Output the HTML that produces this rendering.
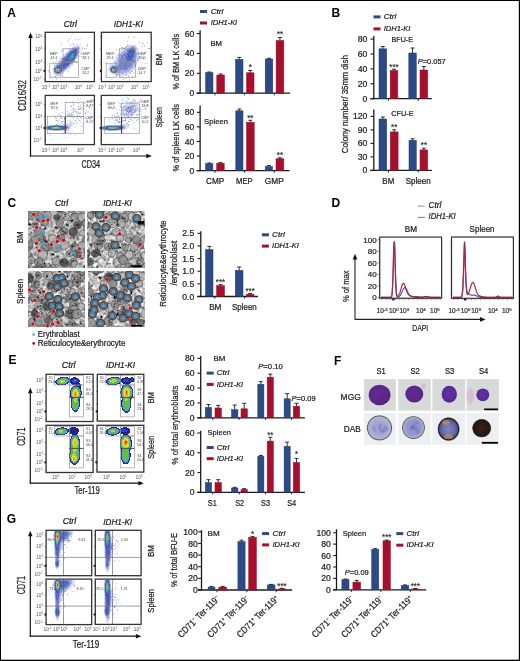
<!DOCTYPE html>
<html><head><meta charset="utf-8"><title>Figure</title>
<style>
html,body{margin:0;padding:0;background:#fff;width:520px;height:661px;overflow:hidden}
svg{display:block;will-change:transform;font-family:"Liberation Sans", sans-serif}
</style></head><body>
<svg width="520" height="661" viewBox="0 0 520 661" fill="#1a1a1a">
<defs>
<filter id="b35" x="-10%" y="-10%" width="120%" height="120%"><feGaussianBlur stdDeviation="0.35"/></filter>
<filter id="b40" x="-10%" y="-10%" width="120%" height="120%"><feGaussianBlur stdDeviation="0.4"/></filter>
<filter id="b45" x="-10%" y="-10%" width="120%" height="120%"><feGaussianBlur stdDeviation="0.45"/></filter>
<filter id="b30" x="-10%" y="-10%" width="120%" height="120%"><feGaussianBlur stdDeviation="0.3"/></filter>
<filter id="b60" x="-10%" y="-10%" width="120%" height="120%"><feGaussianBlur stdDeviation="0.6"/></filter>
<filter id="b80" x="-10%" y="-10%" width="120%" height="120%"><feGaussianBlur stdDeviation="0.8"/></filter>
<filter id="mic0" x="28.1" y="211.1" width="56.9" height="56.900000000000006" filterUnits="userSpaceOnUse">
<feTurbulence type="fractalNoise" baseFrequency="0.3" numOctaves="2" seed="21" result="n"/>
<feColorMatrix in="n" type="matrix" values="1.0 1.0 1.0 0 -0.98  1.0 1.0 1.0 0 -0.98  1.0 1.0 1.0 0 -0.98  0 0 0 0 1"/>
</filter>
<clipPath id="mc0"><rect x="28.1" y="211.1" width="56.9" height="56.900000000000006"/></clipPath>
<filter id="mic1" x="87.7" y="211.1" width="56.60000000000001" height="56.900000000000006" filterUnits="userSpaceOnUse">
<feTurbulence type="fractalNoise" baseFrequency="0.3" numOctaves="2" seed="22" result="n"/>
<feColorMatrix in="n" type="matrix" values="1.0 1.0 1.0 0 -0.98  1.0 1.0 1.0 0 -0.98  1.0 1.0 1.0 0 -0.98  0 0 0 0 1"/>
</filter>
<clipPath id="mc1"><rect x="87.7" y="211.1" width="56.60000000000001" height="56.900000000000006"/></clipPath>
<filter id="mic2" x="28.1" y="271.1" width="56.9" height="55.89999999999998" filterUnits="userSpaceOnUse">
<feTurbulence type="fractalNoise" baseFrequency="0.3" numOctaves="2" seed="23" result="n"/>
<feColorMatrix in="n" type="matrix" values="1.0 1.0 1.0 0 -0.98  1.0 1.0 1.0 0 -0.98  1.0 1.0 1.0 0 -0.98  0 0 0 0 1"/>
</filter>
<clipPath id="mc2"><rect x="28.1" y="271.1" width="56.9" height="55.89999999999998"/></clipPath>
<filter id="mic3" x="88.0" y="271.1" width="56.30000000000001" height="55.89999999999998" filterUnits="userSpaceOnUse">
<feTurbulence type="fractalNoise" baseFrequency="0.3" numOctaves="2" seed="24" result="n"/>
<feColorMatrix in="n" type="matrix" values="1.0 1.0 1.0 0 -0.98  1.0 1.0 1.0 0 -0.98  1.0 1.0 1.0 0 -0.98  0 0 0 0 1"/>
</filter>
<clipPath id="mc3"><rect x="88.0" y="271.1" width="56.30000000000001" height="55.89999999999998"/></clipPath>
<radialGradient id="mggc" cx="0.45" cy="0.45" r="0.6"><stop offset="0" stop-color="#622c94"/><stop offset="0.8" stop-color="#5a2686"/><stop offset="1" stop-color="#4c2076"/></radialGradient>
<radialGradient id="mggb" cx="0.45" cy="0.45" r="0.6"><stop offset="0" stop-color="#6230a2"/><stop offset="0.8" stop-color="#5a2a98"/><stop offset="1" stop-color="#4c2288"/></radialGradient>
<radialGradient id="dab1" cx="0.5" cy="0.5" r="0.5"><stop offset="0" stop-color="#9a9cd0"/><stop offset="0.5" stop-color="#a4a6d6"/><stop offset="0.82" stop-color="#b0b4da"/><stop offset="0.9" stop-color="#55604a"/><stop offset="0.95" stop-color="#c8d0c8"/><stop offset="1" stop-color="#f4f6f6"/></radialGradient>
<radialGradient id="dab2" cx="0.5" cy="0.5" r="0.5"><stop offset="0" stop-color="#8a8cca"/><stop offset="0.6" stop-color="#9698d0"/><stop offset="0.82" stop-color="#a8acd6"/><stop offset="0.9" stop-color="#5a6a48"/><stop offset="0.95" stop-color="#d0d8d0"/><stop offset="1" stop-color="#f4f6f6"/></radialGradient>
<radialGradient id="dab3" cx="0.5" cy="0.5" r="0.5"><stop offset="0" stop-color="#7c86c8"/><stop offset="0.55" stop-color="#6a6aac"/><stop offset="0.8" stop-color="#4a4a90"/><stop offset="0.88" stop-color="#141420"/><stop offset="0.95" stop-color="#8a9088"/><stop offset="1" stop-color="#eef0f0"/></radialGradient>
<radialGradient id="dab4" cx="0.5" cy="0.5" r="0.5"><stop offset="0" stop-color="#3a1e18"/><stop offset="0.6" stop-color="#2e1812"/><stop offset="0.85" stop-color="#1c1a10"/><stop offset="0.93" stop-color="#56603a"/><stop offset="1" stop-color="#e8ecea"/></radialGradient>
</defs>
<rect x="0.00" y="0.00" width="520.00" height="1.00" fill="#000"/>
<rect x="0.00" y="0.00" width="1.00" height="661.00" fill="#000"/>
<rect x="518.80" y="0.00" width="1.20" height="661.00" fill="#000"/>
<rect x="0.00" y="659.70" width="520.00" height="1.30" fill="#000"/>
<text x="7.3" y="17.3" font-size="12" text-anchor="start" font-weight="bold" fill="#000">A</text>
<text x="331.5" y="17.3" font-size="12" text-anchor="start" font-weight="bold" fill="#000">B</text>
<text x="7.5" y="207.3" font-size="12" text-anchor="start" font-weight="bold" fill="#000">C</text>
<text x="331.5" y="207.3" font-size="12" text-anchor="start" font-weight="bold" fill="#000">D</text>
<text x="8.6" y="363.8" font-size="12" text-anchor="start" font-weight="bold" fill="#000">E</text>
<text x="334" y="365.4" font-size="12" text-anchor="start" font-weight="bold" fill="#000">F</text>
<text x="6.8" y="522.5" font-size="12" text-anchor="start" font-weight="bold" fill="#000">G</text>
<line x1="200.1" y1="30.3" x2="200.1" y2="93.8" stroke="#1a1a1a" stroke-width="1.3"/>
<line x1="196.6" y1="93.2" x2="290" y2="93.2" stroke="#1a1a1a" stroke-width="1.3"/>
<line x1="196.79999999999998" y1="93.2" x2="200.1" y2="93.2" stroke="#1a1a1a" stroke-width="1.1"/>
<text x="194.2" y="96.296" font-size="8.6" text-anchor="end" stroke="#1a1a1a" stroke-width="0.22">0</text>
<line x1="196.79999999999998" y1="73.30000000000001" x2="200.1" y2="73.30000000000001" stroke="#1a1a1a" stroke-width="1.1"/>
<text x="194.2" y="76.39600000000002" font-size="8.6" text-anchor="end" stroke="#1a1a1a" stroke-width="0.22">20</text>
<line x1="196.79999999999998" y1="53.400000000000006" x2="200.1" y2="53.400000000000006" stroke="#1a1a1a" stroke-width="1.1"/>
<text x="194.2" y="56.496" font-size="8.6" text-anchor="end" stroke="#1a1a1a" stroke-width="0.22">40</text>
<line x1="196.79999999999998" y1="33.5" x2="200.1" y2="33.5" stroke="#1a1a1a" stroke-width="1.1"/>
<text x="194.2" y="36.596" font-size="8.6" text-anchor="end" stroke="#1a1a1a" stroke-width="0.22">60</text>
<line x1="215" y1="93.2" x2="215" y2="95.4" stroke="#1a1a1a" stroke-width="0.9"/>
<line x1="244.6" y1="93.2" x2="244.6" y2="95.4" stroke="#1a1a1a" stroke-width="0.9"/>
<line x1="274.2" y1="93.2" x2="274.2" y2="95.4" stroke="#1a1a1a" stroke-width="0.9"/>
<rect x="205.60" y="72.60" width="7.40" height="20.60" fill="#2c4a85" stroke="#1f3a78" stroke-width="0.5"/>
<line x1="209.3" y1="72.0" x2="209.3" y2="72.6" stroke="#1a1a1a" stroke-width="0.9"/>
<line x1="207.3" y1="72.0" x2="211.3" y2="72.0" stroke="#1a1a1a" stroke-width="0.9"/>
<rect x="216.80" y="75.00" width="7.70" height="18.20" fill="#a60f2d" stroke="#980a25" stroke-width="0.5"/>
<line x1="220.65" y1="74.0" x2="220.65" y2="75" stroke="#1a1a1a" stroke-width="0.9"/>
<line x1="218.65" y1="74.0" x2="222.65" y2="74.0" stroke="#1a1a1a" stroke-width="0.9"/>
<rect x="235.50" y="59.40" width="7.50" height="33.80" fill="#2c4a85" stroke="#1f3a78" stroke-width="0.5"/>
<line x1="239.25" y1="57.4" x2="239.25" y2="59.4" stroke="#1a1a1a" stroke-width="0.9"/>
<line x1="237.25" y1="57.4" x2="241.25" y2="57.4" stroke="#1a1a1a" stroke-width="0.9"/>
<rect x="246.50" y="72.80" width="7.50" height="20.40" fill="#a60f2d" stroke="#980a25" stroke-width="0.5"/>
<line x1="250.25" y1="70.5" x2="250.25" y2="72.8" stroke="#1a1a1a" stroke-width="0.9"/>
<line x1="248.25" y1="70.5" x2="252.25" y2="70.5" stroke="#1a1a1a" stroke-width="0.9"/>
<rect x="265.20" y="59.00" width="7.60" height="34.20" fill="#2c4a85" stroke="#1f3a78" stroke-width="0.5"/>
<line x1="269.0" y1="58.3" x2="269.0" y2="59.0" stroke="#1a1a1a" stroke-width="0.9"/>
<line x1="267.0" y1="58.3" x2="271.0" y2="58.3" stroke="#1a1a1a" stroke-width="0.9"/>
<rect x="276.10" y="40.50" width="7.70" height="52.70" fill="#a60f2d" stroke="#980a25" stroke-width="0.5"/>
<line x1="279.95000000000005" y1="37.5" x2="279.95000000000005" y2="40.5" stroke="#1a1a1a" stroke-width="0.9"/>
<line x1="277.95000000000005" y1="37.5" x2="281.95000000000005" y2="37.5" stroke="#1a1a1a" stroke-width="0.9"/>
<text x="250.2" y="70.44" font-size="8.2" text-anchor="middle" textLength="3.1" lengthAdjust="spacingAndGlyphs" stroke="#1a1a1a" stroke-width="0.12">*</text>
<text x="280" y="37.24" font-size="8.2" text-anchor="middle" textLength="6.2" lengthAdjust="spacingAndGlyphs" stroke="#1a1a1a" stroke-width="0.12">**</text>
<text x="210.4" y="46" font-size="8" text-anchor="start" stroke="#1a1a1a" stroke-width="0.22" textLength="11.6" lengthAdjust="spacingAndGlyphs">BM</text>
<rect x="200.00" y="10.00" width="7.00" height="3.00" fill="#2c4a85"/>
<rect x="200.00" y="21.50" width="7.00" height="3.00" fill="#a60f2d"/>
<text x="210.7" y="13.6" font-size="8" text-anchor="start" font-style="italic" stroke="#1a1a1a" stroke-width="0.22" textLength="12.5" lengthAdjust="spacingAndGlyphs">Ctrl</text>
<text x="210.7" y="25.1" font-size="8" text-anchor="start" font-style="italic" stroke="#1a1a1a" stroke-width="0.22" textLength="26.5" lengthAdjust="spacingAndGlyphs">IDH1-KI</text>
<text x="179.3" y="61.75" font-size="9.2" text-anchor="middle" stroke="#1a1a1a" stroke-width="0.22" transform="rotate(-90 179.3 61.75)" textLength="55.7" lengthAdjust="spacingAndGlyphs">% of BM LK cells</text>
<line x1="200.1" y1="105.4" x2="200.1" y2="171.2" stroke="#1a1a1a" stroke-width="1.3"/>
<line x1="196.6" y1="170.6" x2="289.6" y2="170.6" stroke="#1a1a1a" stroke-width="1.3"/>
<line x1="196.79999999999998" y1="170.6" x2="200.1" y2="170.6" stroke="#1a1a1a" stroke-width="1.1"/>
<text x="194.2" y="173.696" font-size="8.6" text-anchor="end" stroke="#1a1a1a" stroke-width="0.22">0</text>
<line x1="196.79999999999998" y1="156.025" x2="200.1" y2="156.025" stroke="#1a1a1a" stroke-width="1.1"/>
<text x="194.2" y="159.121" font-size="8.6" text-anchor="end" stroke="#1a1a1a" stroke-width="0.22">20</text>
<line x1="196.79999999999998" y1="141.45" x2="200.1" y2="141.45" stroke="#1a1a1a" stroke-width="1.1"/>
<text x="194.2" y="144.546" font-size="8.6" text-anchor="end" stroke="#1a1a1a" stroke-width="0.22">40</text>
<line x1="196.79999999999998" y1="126.875" x2="200.1" y2="126.875" stroke="#1a1a1a" stroke-width="1.1"/>
<text x="194.2" y="129.971" font-size="8.6" text-anchor="end" stroke="#1a1a1a" stroke-width="0.22">60</text>
<line x1="196.79999999999998" y1="112.3" x2="200.1" y2="112.3" stroke="#1a1a1a" stroke-width="1.1"/>
<text x="194.2" y="115.396" font-size="8.6" text-anchor="end" stroke="#1a1a1a" stroke-width="0.22">80</text>
<line x1="215" y1="170.6" x2="215" y2="172.79999999999998" stroke="#1a1a1a" stroke-width="0.9"/>
<line x1="244.6" y1="170.6" x2="244.6" y2="172.79999999999998" stroke="#1a1a1a" stroke-width="0.9"/>
<line x1="274.2" y1="170.6" x2="274.2" y2="172.79999999999998" stroke="#1a1a1a" stroke-width="0.9"/>
<rect x="205.60" y="163.60" width="7.30" height="7.00" fill="#2c4a85" stroke="#1f3a78" stroke-width="0.5"/>
<line x1="209.25" y1="163.0" x2="209.25" y2="163.6" stroke="#1a1a1a" stroke-width="0.9"/>
<line x1="207.25" y1="163.0" x2="211.25" y2="163.0" stroke="#1a1a1a" stroke-width="0.9"/>
<rect x="216.70" y="163.30" width="7.50" height="7.30" fill="#a60f2d" stroke="#980a25" stroke-width="0.5"/>
<line x1="220.45" y1="162.6" x2="220.45" y2="163.3" stroke="#1a1a1a" stroke-width="0.9"/>
<line x1="218.45" y1="162.6" x2="222.45" y2="162.6" stroke="#1a1a1a" stroke-width="0.9"/>
<rect x="235.80" y="110.80" width="7.20" height="59.80" fill="#2c4a85" stroke="#1f3a78" stroke-width="0.5"/>
<line x1="239.4" y1="109.0" x2="239.4" y2="110.8" stroke="#1a1a1a" stroke-width="0.9"/>
<line x1="237.4" y1="109.0" x2="241.4" y2="109.0" stroke="#1a1a1a" stroke-width="0.9"/>
<rect x="246.50" y="122.30" width="7.70" height="48.30" fill="#a60f2d" stroke="#980a25" stroke-width="0.5"/>
<line x1="250.35" y1="120.3" x2="250.35" y2="122.3" stroke="#1a1a1a" stroke-width="0.9"/>
<line x1="248.35" y1="120.3" x2="252.35" y2="120.3" stroke="#1a1a1a" stroke-width="0.9"/>
<rect x="265.20" y="166.50" width="7.30" height="4.10" fill="#2c4a85" stroke="#1f3a78" stroke-width="0.5"/>
<line x1="268.85" y1="165.6" x2="268.85" y2="166.5" stroke="#1a1a1a" stroke-width="0.9"/>
<line x1="266.85" y1="165.6" x2="270.85" y2="165.6" stroke="#1a1a1a" stroke-width="0.9"/>
<rect x="276.00" y="158.80" width="7.80" height="11.80" fill="#a60f2d" stroke="#980a25" stroke-width="0.5"/>
<line x1="279.9" y1="157.8" x2="279.9" y2="158.8" stroke="#1a1a1a" stroke-width="0.9"/>
<line x1="277.9" y1="157.8" x2="281.9" y2="157.8" stroke="#1a1a1a" stroke-width="0.9"/>
<text x="250.3" y="120.74" font-size="8.2" text-anchor="middle" textLength="6.2" lengthAdjust="spacingAndGlyphs" stroke="#1a1a1a" stroke-width="0.12">**</text>
<text x="279.9" y="158.34" font-size="8.2" text-anchor="middle" textLength="6.2" lengthAdjust="spacingAndGlyphs" stroke="#1a1a1a" stroke-width="0.12">**</text>
<text x="204" y="124" font-size="8" text-anchor="start" stroke="#1a1a1a" stroke-width="0.22" textLength="24" lengthAdjust="spacingAndGlyphs">Spleen</text>
<text x="179.4" y="137.8" font-size="9.2" text-anchor="middle" stroke="#1a1a1a" stroke-width="0.22" transform="rotate(-90 179.4 137.8)" textLength="67.6" lengthAdjust="spacingAndGlyphs">% of spleen LK cells</text>
<text x="215.1" y="183.8" font-size="8.6" text-anchor="middle" stroke="#1a1a1a" stroke-width="0.22" textLength="18.2" lengthAdjust="spacingAndGlyphs">CMP</text>
<text x="244.4" y="183.8" font-size="8.6" text-anchor="middle" stroke="#1a1a1a" stroke-width="0.22" textLength="16.7" lengthAdjust="spacingAndGlyphs">MEP</text>
<text x="274.3" y="183.8" font-size="8.6" text-anchor="middle" stroke="#1a1a1a" stroke-width="0.22" textLength="19" lengthAdjust="spacingAndGlyphs">GMP</text>
<line x1="373.8" y1="36.1" x2="373.8" y2="99.3" stroke="#1a1a1a" stroke-width="1.3"/>
<line x1="370.3" y1="98.7" x2="431.8" y2="98.7" stroke="#1a1a1a" stroke-width="1.3"/>
<line x1="370.5" y1="98.7" x2="373.8" y2="98.7" stroke="#1a1a1a" stroke-width="1.1"/>
<text x="367.3" y="101.796" font-size="8.6" text-anchor="end" stroke="#1a1a1a" stroke-width="0.22">0</text>
<line x1="370.5" y1="83.8" x2="373.8" y2="83.8" stroke="#1a1a1a" stroke-width="1.1"/>
<text x="367.3" y="86.896" font-size="8.6" text-anchor="end" stroke="#1a1a1a" stroke-width="0.22">20</text>
<line x1="370.5" y1="68.9" x2="373.8" y2="68.9" stroke="#1a1a1a" stroke-width="1.1"/>
<text x="367.3" y="71.99600000000001" font-size="8.6" text-anchor="end" stroke="#1a1a1a" stroke-width="0.22">40</text>
<line x1="370.5" y1="54.0" x2="373.8" y2="54.0" stroke="#1a1a1a" stroke-width="1.1"/>
<text x="367.3" y="57.096" font-size="8.6" text-anchor="end" stroke="#1a1a1a" stroke-width="0.22">60</text>
<line x1="370.5" y1="39.1" x2="373.8" y2="39.1" stroke="#1a1a1a" stroke-width="1.1"/>
<text x="367.3" y="42.196" font-size="8.6" text-anchor="end" stroke="#1a1a1a" stroke-width="0.22">80</text>
<line x1="388.5" y1="98.7" x2="388.5" y2="100.9" stroke="#1a1a1a" stroke-width="0.9"/>
<line x1="418.2" y1="98.7" x2="418.2" y2="100.9" stroke="#1a1a1a" stroke-width="0.9"/>
<rect x="379.00" y="48.80" width="7.70" height="49.90" fill="#2c4a85" stroke="#1f3a78" stroke-width="0.5"/>
<line x1="382.85" y1="46.5" x2="382.85" y2="48.8" stroke="#1a1a1a" stroke-width="0.9"/>
<line x1="380.85" y1="46.5" x2="384.85" y2="46.5" stroke="#1a1a1a" stroke-width="0.9"/>
<rect x="390.20" y="70.50" width="7.60" height="28.20" fill="#a60f2d" stroke="#980a25" stroke-width="0.5"/>
<line x1="394.0" y1="69.3" x2="394.0" y2="70.5" stroke="#1a1a1a" stroke-width="0.9"/>
<line x1="392.0" y1="69.3" x2="396.0" y2="69.3" stroke="#1a1a1a" stroke-width="0.9"/>
<rect x="408.80" y="53.00" width="7.50" height="45.70" fill="#2c4a85" stroke="#1f3a78" stroke-width="0.5"/>
<line x1="412.55" y1="48.0" x2="412.55" y2="53" stroke="#1a1a1a" stroke-width="0.9"/>
<line x1="410.55" y1="48.0" x2="414.55" y2="48.0" stroke="#1a1a1a" stroke-width="0.9"/>
<rect x="420.00" y="70.00" width="7.70" height="28.70" fill="#a60f2d" stroke="#980a25" stroke-width="0.5"/>
<line x1="423.85" y1="66.5" x2="423.85" y2="70" stroke="#1a1a1a" stroke-width="0.9"/>
<line x1="421.85" y1="66.5" x2="425.85" y2="66.5" stroke="#1a1a1a" stroke-width="0.9"/>
<text x="394" y="69.74" font-size="8.2" text-anchor="middle" textLength="9.3" lengthAdjust="spacingAndGlyphs" stroke="#1a1a1a" stroke-width="0.12">***</text>
<text x="417.7" y="63.5" font-size="8" text-anchor="start" stroke="#1a1a1a" stroke-width="0.22" textLength="28.1" lengthAdjust="spacingAndGlyphs"><tspan font-style="italic">P</tspan>=0.057</text>
<text x="391.5" y="42.3" font-size="8" text-anchor="start" stroke="#1a1a1a" stroke-width="0.22" textLength="21.5" lengthAdjust="spacingAndGlyphs">BFU-E</text>
<rect x="373.50" y="15.40" width="7.00" height="3.00" fill="#2c4a85"/>
<rect x="373.50" y="27.40" width="7.00" height="3.00" fill="#a60f2d"/>
<text x="383.8" y="19.3" font-size="8" text-anchor="start" font-style="italic" stroke="#1a1a1a" stroke-width="0.22" textLength="12.5" lengthAdjust="spacingAndGlyphs">Ctrl</text>
<text x="383.8" y="30.9" font-size="8" text-anchor="start" font-style="italic" stroke="#1a1a1a" stroke-width="0.22" textLength="26.5" lengthAdjust="spacingAndGlyphs">IDH1-KI</text>
<line x1="373.8" y1="109.5" x2="373.8" y2="171.0" stroke="#1a1a1a" stroke-width="1.3"/>
<line x1="370.3" y1="170.4" x2="431.8" y2="170.4" stroke="#1a1a1a" stroke-width="1.3"/>
<line x1="370.5" y1="170.4" x2="373.8" y2="170.4" stroke="#1a1a1a" stroke-width="1.1"/>
<text x="367.3" y="173.496" font-size="8.6" text-anchor="end" stroke="#1a1a1a" stroke-width="0.22">0</text>
<line x1="370.5" y1="156.9" x2="373.8" y2="156.9" stroke="#1a1a1a" stroke-width="1.1"/>
<text x="367.3" y="159.996" font-size="8.6" text-anchor="end" stroke="#1a1a1a" stroke-width="0.22">30</text>
<line x1="370.5" y1="143.4" x2="373.8" y2="143.4" stroke="#1a1a1a" stroke-width="1.1"/>
<text x="367.3" y="146.496" font-size="8.6" text-anchor="end" stroke="#1a1a1a" stroke-width="0.22">60</text>
<line x1="370.5" y1="129.9" x2="373.8" y2="129.9" stroke="#1a1a1a" stroke-width="1.1"/>
<text x="367.3" y="132.996" font-size="8.6" text-anchor="end" stroke="#1a1a1a" stroke-width="0.22">90</text>
<line x1="370.5" y1="116.4" x2="373.8" y2="116.4" stroke="#1a1a1a" stroke-width="1.1"/>
<text x="367.3" y="119.49600000000001" font-size="8.6" text-anchor="end" stroke="#1a1a1a" stroke-width="0.22">120</text>
<line x1="388.5" y1="170.4" x2="388.5" y2="172.6" stroke="#1a1a1a" stroke-width="0.9"/>
<line x1="418.2" y1="170.4" x2="418.2" y2="172.6" stroke="#1a1a1a" stroke-width="0.9"/>
<rect x="379.00" y="119.00" width="7.70" height="51.40" fill="#2c4a85" stroke="#1f3a78" stroke-width="0.5"/>
<line x1="382.85" y1="117.0" x2="382.85" y2="119" stroke="#1a1a1a" stroke-width="0.9"/>
<line x1="380.85" y1="117.0" x2="384.85" y2="117.0" stroke="#1a1a1a" stroke-width="0.9"/>
<rect x="390.30" y="131.90" width="7.80" height="38.50" fill="#a60f2d" stroke="#980a25" stroke-width="0.5"/>
<line x1="394.20000000000005" y1="129.8" x2="394.20000000000005" y2="131.9" stroke="#1a1a1a" stroke-width="0.9"/>
<line x1="392.20000000000005" y1="129.8" x2="396.20000000000005" y2="129.8" stroke="#1a1a1a" stroke-width="0.9"/>
<rect x="409.00" y="140.30" width="7.30" height="30.10" fill="#2c4a85" stroke="#1f3a78" stroke-width="0.5"/>
<line x1="412.65" y1="138.8" x2="412.65" y2="140.3" stroke="#1a1a1a" stroke-width="0.9"/>
<line x1="410.65" y1="138.8" x2="414.65" y2="138.8" stroke="#1a1a1a" stroke-width="0.9"/>
<rect x="420.00" y="149.90" width="7.70" height="20.50" fill="#a60f2d" stroke="#980a25" stroke-width="0.5"/>
<line x1="423.85" y1="148.2" x2="423.85" y2="149.9" stroke="#1a1a1a" stroke-width="0.9"/>
<line x1="421.85" y1="148.2" x2="425.85" y2="148.2" stroke="#1a1a1a" stroke-width="0.9"/>
<text x="394.2" y="129.74" font-size="8.2" text-anchor="middle" textLength="6.2" lengthAdjust="spacingAndGlyphs" stroke="#1a1a1a" stroke-width="0.12">**</text>
<text x="423.9" y="148.34" font-size="8.2" text-anchor="middle" textLength="6.2" lengthAdjust="spacingAndGlyphs" stroke="#1a1a1a" stroke-width="0.12">**</text>
<text x="391.3" y="115.8" font-size="8" text-anchor="start" stroke="#1a1a1a" stroke-width="0.22" textLength="22.3" lengthAdjust="spacingAndGlyphs">CFU-E</text>
<text x="388.3" y="183.8" font-size="8.6" text-anchor="middle" stroke="#1a1a1a" stroke-width="0.22" textLength="11.9" lengthAdjust="spacingAndGlyphs">BM</text>
<text x="418.2" y="183.8" font-size="8.6" text-anchor="middle" stroke="#1a1a1a" stroke-width="0.22" textLength="25.1" lengthAdjust="spacingAndGlyphs">Spleen</text>
<text x="348.4" y="104.2" font-size="9.0" text-anchor="middle" stroke="#1a1a1a" stroke-width="0.22" transform="rotate(-90 348.4 104.2)" textLength="98.3" lengthAdjust="spacingAndGlyphs">Colony number/ 35mm dish</text>
<line x1="200.8" y1="231.2" x2="200.8" y2="297.1" stroke="#1a1a1a" stroke-width="1.3"/>
<line x1="197.3" y1="296.5" x2="257.9" y2="296.5" stroke="#1a1a1a" stroke-width="1.3"/>
<line x1="197.5" y1="296.5" x2="200.8" y2="296.5" stroke="#1a1a1a" stroke-width="1.1"/>
<text x="194.2" y="299.596" font-size="8.6" text-anchor="end" stroke="#1a1a1a" stroke-width="0.22">0.0</text>
<line x1="197.5" y1="283.86" x2="200.8" y2="283.86" stroke="#1a1a1a" stroke-width="1.1"/>
<text x="194.2" y="286.956" font-size="8.6" text-anchor="end" stroke="#1a1a1a" stroke-width="0.22">0.5</text>
<line x1="197.5" y1="271.22" x2="200.8" y2="271.22" stroke="#1a1a1a" stroke-width="1.1"/>
<text x="194.2" y="274.31600000000003" font-size="8.6" text-anchor="end" stroke="#1a1a1a" stroke-width="0.22">1.0</text>
<line x1="197.5" y1="258.58000000000004" x2="200.8" y2="258.58000000000004" stroke="#1a1a1a" stroke-width="1.1"/>
<text x="194.2" y="261.67600000000004" font-size="8.6" text-anchor="end" stroke="#1a1a1a" stroke-width="0.22">1.5</text>
<line x1="197.5" y1="245.94" x2="200.8" y2="245.94" stroke="#1a1a1a" stroke-width="1.1"/>
<text x="194.2" y="249.036" font-size="8.6" text-anchor="end" stroke="#1a1a1a" stroke-width="0.22">2.0</text>
<line x1="197.5" y1="233.3" x2="200.8" y2="233.3" stroke="#1a1a1a" stroke-width="1.1"/>
<text x="194.2" y="236.39600000000002" font-size="8.6" text-anchor="end" stroke="#1a1a1a" stroke-width="0.22">2.5</text>
<line x1="214.8" y1="296.5" x2="214.8" y2="298.7" stroke="#1a1a1a" stroke-width="0.9"/>
<line x1="244.7" y1="296.5" x2="244.7" y2="298.7" stroke="#1a1a1a" stroke-width="0.9"/>
<rect x="205.60" y="249.60" width="7.40" height="46.90" fill="#2c4a85" stroke="#1f3a78" stroke-width="0.5"/>
<line x1="209.3" y1="246.4" x2="209.3" y2="249.6" stroke="#1a1a1a" stroke-width="0.9"/>
<line x1="207.3" y1="246.4" x2="211.3" y2="246.4" stroke="#1a1a1a" stroke-width="0.9"/>
<rect x="216.60" y="285.70" width="7.90" height="10.80" fill="#a60f2d" stroke="#980a25" stroke-width="0.5"/>
<line x1="220.55" y1="284.6" x2="220.55" y2="285.7" stroke="#1a1a1a" stroke-width="0.9"/>
<line x1="218.55" y1="284.6" x2="222.55" y2="284.6" stroke="#1a1a1a" stroke-width="0.9"/>
<rect x="235.30" y="270.30" width="7.70" height="26.20" fill="#2c4a85" stroke="#1f3a78" stroke-width="0.5"/>
<line x1="239.15" y1="267.0" x2="239.15" y2="270.3" stroke="#1a1a1a" stroke-width="0.9"/>
<line x1="237.15" y1="267.0" x2="241.15" y2="267.0" stroke="#1a1a1a" stroke-width="0.9"/>
<rect x="246.30" y="294.20" width="7.70" height="2.30" fill="#a60f2d" stroke="#980a25" stroke-width="0.5"/>
<line x1="250.15" y1="293.4" x2="250.15" y2="294.2" stroke="#1a1a1a" stroke-width="0.9"/>
<line x1="248.15" y1="293.4" x2="252.15" y2="293.4" stroke="#1a1a1a" stroke-width="0.9"/>
<text x="220.5" y="284.64" font-size="8.2" text-anchor="middle" textLength="9.3" lengthAdjust="spacingAndGlyphs" stroke="#1a1a1a" stroke-width="0.12">***</text>
<text x="250.1" y="294.14" font-size="8.2" text-anchor="middle" textLength="9.3" lengthAdjust="spacingAndGlyphs" stroke="#1a1a1a" stroke-width="0.12">***</text>
<text x="215.3" y="309.9" font-size="8.6" text-anchor="middle" stroke="#1a1a1a" stroke-width="0.22" textLength="12.3" lengthAdjust="spacingAndGlyphs">BM</text>
<text x="244.4" y="309.9" font-size="8.6" text-anchor="middle" stroke="#1a1a1a" stroke-width="0.22" textLength="24.8" lengthAdjust="spacingAndGlyphs">Spleen</text>
<text x="166.4" y="263.5" font-size="9.0" text-anchor="middle" stroke="#1a1a1a" stroke-width="0.22" transform="rotate(-90 166.4 263.5)" textLength="86.4" lengthAdjust="spacingAndGlyphs">Reticulocyte&amp;erythrocyte</text>
<text x="177.4" y="263.2" font-size="9.0" text-anchor="middle" stroke="#1a1a1a" stroke-width="0.22" transform="rotate(-90 177.4 263.2)" textLength="44.7" lengthAdjust="spacingAndGlyphs">/erythroblast</text>
<rect x="261.90" y="233.30" width="7.00" height="3.00" fill="#2c4a85"/>
<rect x="261.90" y="244.60" width="7.00" height="3.00" fill="#a60f2d"/>
<text x="272.1" y="237.1" font-size="8" text-anchor="start" font-style="italic" stroke="#1a1a1a" stroke-width="0.22" textLength="12.7" lengthAdjust="spacingAndGlyphs">Ctrl</text>
<text x="272.1" y="248.4" font-size="8" text-anchor="start" font-style="italic" stroke="#1a1a1a" stroke-width="0.22" textLength="26.7" lengthAdjust="spacingAndGlyphs">IDH1-KI</text>
<line x1="200.7" y1="356" x2="200.7" y2="418.40000000000003" stroke="#1a1a1a" stroke-width="1.3"/>
<line x1="197.2" y1="417.8" x2="304.9" y2="417.8" stroke="#1a1a1a" stroke-width="1.3"/>
<line x1="197.39999999999998" y1="417.8" x2="200.7" y2="417.8" stroke="#1a1a1a" stroke-width="1.1"/>
<text x="194.5" y="420.896" font-size="8.6" text-anchor="end" stroke="#1a1a1a" stroke-width="0.22">0</text>
<line x1="197.39999999999998" y1="402.925" x2="200.7" y2="402.925" stroke="#1a1a1a" stroke-width="1.1"/>
<text x="194.5" y="406.021" font-size="8.6" text-anchor="end" stroke="#1a1a1a" stroke-width="0.22">20</text>
<line x1="197.39999999999998" y1="388.05" x2="200.7" y2="388.05" stroke="#1a1a1a" stroke-width="1.1"/>
<text x="194.5" y="391.146" font-size="8.6" text-anchor="end" stroke="#1a1a1a" stroke-width="0.22">40</text>
<line x1="197.39999999999998" y1="373.175" x2="200.7" y2="373.175" stroke="#1a1a1a" stroke-width="1.1"/>
<text x="194.5" y="376.271" font-size="8.6" text-anchor="end" stroke="#1a1a1a" stroke-width="0.22">60</text>
<line x1="197.39999999999998" y1="358.3" x2="200.7" y2="358.3" stroke="#1a1a1a" stroke-width="1.1"/>
<text x="194.5" y="361.396" font-size="8.6" text-anchor="end" stroke="#1a1a1a" stroke-width="0.22">80</text>
<line x1="212.8" y1="417.8" x2="212.8" y2="420.0" stroke="#1a1a1a" stroke-width="0.9"/>
<line x1="239.2" y1="417.8" x2="239.2" y2="420.0" stroke="#1a1a1a" stroke-width="0.9"/>
<line x1="265.6" y1="417.8" x2="265.6" y2="420.0" stroke="#1a1a1a" stroke-width="0.9"/>
<line x1="291.6" y1="417.8" x2="291.6" y2="420.0" stroke="#1a1a1a" stroke-width="0.9"/>
<rect x="205.30" y="407.40" width="6.30" height="10.40" fill="#2c4a85" stroke="#1f3a78" stroke-width="0.5"/>
<line x1="208.45" y1="404.5" x2="208.45" y2="407.4" stroke="#1a1a1a" stroke-width="0.9"/>
<line x1="206.45" y1="404.5" x2="210.45" y2="404.5" stroke="#1a1a1a" stroke-width="0.9"/>
<rect x="215.00" y="408.00" width="6.40" height="9.80" fill="#a60f2d" stroke="#980a25" stroke-width="0.5"/>
<line x1="218.2" y1="405.4" x2="218.2" y2="408" stroke="#1a1a1a" stroke-width="0.9"/>
<line x1="216.2" y1="405.4" x2="220.2" y2="405.4" stroke="#1a1a1a" stroke-width="0.9"/>
<rect x="231.50" y="409.70" width="6.40" height="8.10" fill="#2c4a85" stroke="#1f3a78" stroke-width="0.5"/>
<line x1="234.7" y1="405" x2="234.7" y2="409.7" stroke="#1a1a1a" stroke-width="0.9"/>
<line x1="232.7" y1="405" x2="236.7" y2="405" stroke="#1a1a1a" stroke-width="0.9"/>
<rect x="241.00" y="408.80" width="6.40" height="9.00" fill="#a60f2d" stroke="#980a25" stroke-width="0.5"/>
<line x1="244.2" y1="403.3" x2="244.2" y2="408.8" stroke="#1a1a1a" stroke-width="0.9"/>
<line x1="242.2" y1="403.3" x2="246.2" y2="403.3" stroke="#1a1a1a" stroke-width="0.9"/>
<rect x="257.80" y="384.30" width="6.10" height="33.50" fill="#2c4a85" stroke="#1f3a78" stroke-width="0.5"/>
<line x1="260.85" y1="381.7" x2="260.85" y2="384.3" stroke="#1a1a1a" stroke-width="0.9"/>
<line x1="258.85" y1="381.7" x2="262.85" y2="381.7" stroke="#1a1a1a" stroke-width="0.9"/>
<rect x="267.20" y="377.20" width="6.20" height="40.60" fill="#a60f2d" stroke="#980a25" stroke-width="0.5"/>
<line x1="270.29999999999995" y1="374.2" x2="270.29999999999995" y2="377.2" stroke="#1a1a1a" stroke-width="0.9"/>
<line x1="268.29999999999995" y1="374.2" x2="272.29999999999995" y2="374.2" stroke="#1a1a1a" stroke-width="0.9"/>
<rect x="284.10" y="398.80" width="6.10" height="19.00" fill="#2c4a85" stroke="#1f3a78" stroke-width="0.5"/>
<line x1="287.15" y1="393.6" x2="287.15" y2="398.8" stroke="#1a1a1a" stroke-width="0.9"/>
<line x1="285.15" y1="393.6" x2="289.15" y2="393.6" stroke="#1a1a1a" stroke-width="0.9"/>
<rect x="293.30" y="406.20" width="6.40" height="11.60" fill="#a60f2d" stroke="#980a25" stroke-width="0.5"/>
<line x1="296.5" y1="403.3" x2="296.5" y2="406.2" stroke="#1a1a1a" stroke-width="0.9"/>
<line x1="294.5" y1="403.3" x2="298.5" y2="403.3" stroke="#1a1a1a" stroke-width="0.9"/>
<text x="213.6" y="360.7" font-size="8" text-anchor="start" stroke="#1a1a1a" stroke-width="0.22" textLength="11.8" lengthAdjust="spacingAndGlyphs">BM</text>
<text x="258.2" y="368.7" font-size="8" text-anchor="start" stroke="#1a1a1a" stroke-width="0.22" textLength="24.7" lengthAdjust="spacingAndGlyphs"><tspan font-style="italic">P</tspan>=0.10</text>
<text x="291.6" y="400.5" font-size="8" text-anchor="start" stroke="#1a1a1a" stroke-width="0.22" textLength="24" lengthAdjust="spacingAndGlyphs"><tspan font-style="italic">P</tspan>=0.09</text>
<rect x="206.70" y="371.60" width="7.00" height="3.00" fill="#2c4a85"/>
<rect x="206.70" y="382.90" width="7.00" height="3.00" fill="#a60f2d"/>
<text x="216.7" y="375.1" font-size="8" text-anchor="start" font-style="italic" stroke="#1a1a1a" stroke-width="0.22" textLength="12.5" lengthAdjust="spacingAndGlyphs">Ctrl</text>
<text x="216.7" y="386.8" font-size="8" text-anchor="start" font-style="italic" stroke="#1a1a1a" stroke-width="0.22" textLength="26.5" lengthAdjust="spacingAndGlyphs">IDH1-KI</text>
<line x1="200.7" y1="430.7" x2="200.7" y2="492.90000000000003" stroke="#1a1a1a" stroke-width="1.3"/>
<line x1="197.2" y1="492.3" x2="304.9" y2="492.3" stroke="#1a1a1a" stroke-width="1.3"/>
<line x1="197.39999999999998" y1="492.3" x2="200.7" y2="492.3" stroke="#1a1a1a" stroke-width="1.1"/>
<text x="194.5" y="495.396" font-size="8.6" text-anchor="end" stroke="#1a1a1a" stroke-width="0.22">0</text>
<line x1="197.39999999999998" y1="472.53333333333336" x2="200.7" y2="472.53333333333336" stroke="#1a1a1a" stroke-width="1.1"/>
<text x="194.5" y="475.62933333333336" font-size="8.6" text-anchor="end" stroke="#1a1a1a" stroke-width="0.22">20</text>
<line x1="197.39999999999998" y1="452.76666666666665" x2="200.7" y2="452.76666666666665" stroke="#1a1a1a" stroke-width="1.1"/>
<text x="194.5" y="455.86266666666666" font-size="8.6" text-anchor="end" stroke="#1a1a1a" stroke-width="0.22">40</text>
<line x1="197.39999999999998" y1="433.0" x2="200.7" y2="433.0" stroke="#1a1a1a" stroke-width="1.1"/>
<text x="194.5" y="436.096" font-size="8.6" text-anchor="end" stroke="#1a1a1a" stroke-width="0.22">60</text>
<line x1="212.8" y1="492.3" x2="212.8" y2="494.5" stroke="#1a1a1a" stroke-width="0.9"/>
<line x1="239.2" y1="492.3" x2="239.2" y2="494.5" stroke="#1a1a1a" stroke-width="0.9"/>
<line x1="265.6" y1="492.3" x2="265.6" y2="494.5" stroke="#1a1a1a" stroke-width="0.9"/>
<line x1="291.6" y1="492.3" x2="291.6" y2="494.5" stroke="#1a1a1a" stroke-width="0.9"/>
<rect x="205.30" y="482.60" width="6.30" height="9.70" fill="#2c4a85" stroke="#1f3a78" stroke-width="0.5"/>
<line x1="208.45" y1="479.7" x2="208.45" y2="482.6" stroke="#1a1a1a" stroke-width="0.9"/>
<line x1="206.45" y1="479.7" x2="210.45" y2="479.7" stroke="#1a1a1a" stroke-width="0.9"/>
<rect x="215.00" y="482.60" width="6.40" height="9.70" fill="#a60f2d" stroke="#980a25" stroke-width="0.5"/>
<line x1="218.2" y1="479.7" x2="218.2" y2="482.6" stroke="#1a1a1a" stroke-width="0.9"/>
<line x1="216.2" y1="479.7" x2="220.2" y2="479.7" stroke="#1a1a1a" stroke-width="0.9"/>
<rect x="231.50" y="488.00" width="6.40" height="4.30" fill="#2c4a85" stroke="#1f3a78" stroke-width="0.5"/>
<line x1="234.7" y1="487.3" x2="234.7" y2="488" stroke="#1a1a1a" stroke-width="0.9"/>
<line x1="232.7" y1="487.3" x2="236.7" y2="487.3" stroke="#1a1a1a" stroke-width="0.9"/>
<rect x="241.00" y="489.50" width="6.40" height="2.80" fill="#a60f2d" stroke="#980a25" stroke-width="0.5"/>
<line x1="244.2" y1="488.6" x2="244.2" y2="489.5" stroke="#1a1a1a" stroke-width="0.9"/>
<line x1="242.2" y1="488.6" x2="246.2" y2="488.6" stroke="#1a1a1a" stroke-width="0.9"/>
<rect x="257.80" y="456.30" width="6.10" height="36.00" fill="#2c4a85" stroke="#1f3a78" stroke-width="0.5"/>
<line x1="260.85" y1="455.5" x2="260.85" y2="456.3" stroke="#1a1a1a" stroke-width="0.9"/>
<line x1="258.85" y1="455.5" x2="262.85" y2="455.5" stroke="#1a1a1a" stroke-width="0.9"/>
<rect x="267.20" y="441.10" width="6.20" height="51.20" fill="#a60f2d" stroke="#980a25" stroke-width="0.5"/>
<line x1="270.29999999999995" y1="437.3" x2="270.29999999999995" y2="441.1" stroke="#1a1a1a" stroke-width="0.9"/>
<line x1="268.29999999999995" y1="437.3" x2="272.29999999999995" y2="437.3" stroke="#1a1a1a" stroke-width="0.9"/>
<rect x="284.10" y="446.30" width="6.10" height="46.00" fill="#2c4a85" stroke="#1f3a78" stroke-width="0.5"/>
<line x1="287.15" y1="442.1" x2="287.15" y2="446.3" stroke="#1a1a1a" stroke-width="0.9"/>
<line x1="285.15" y1="442.1" x2="289.15" y2="442.1" stroke="#1a1a1a" stroke-width="0.9"/>
<rect x="293.30" y="462.40" width="6.40" height="29.90" fill="#a60f2d" stroke="#980a25" stroke-width="0.5"/>
<line x1="296.5" y1="458.4" x2="296.5" y2="462.4" stroke="#1a1a1a" stroke-width="0.9"/>
<line x1="294.5" y1="458.4" x2="298.5" y2="458.4" stroke="#1a1a1a" stroke-width="0.9"/>
<text x="270.3" y="437.54" font-size="8.2" text-anchor="middle" textLength="6.2" lengthAdjust="spacingAndGlyphs" stroke="#1a1a1a" stroke-width="0.12">**</text>
<text x="296.5" y="456.64" font-size="8.2" text-anchor="middle" textLength="3.1" lengthAdjust="spacingAndGlyphs" stroke="#1a1a1a" stroke-width="0.12">*</text>
<text x="207.6" y="435.2" font-size="8" text-anchor="start" stroke="#1a1a1a" stroke-width="0.22" textLength="23.4" lengthAdjust="spacingAndGlyphs">Spleen</text>
<rect x="206.70" y="446.00" width="7.00" height="3.00" fill="#2c4a85"/>
<rect x="206.70" y="457.20" width="7.00" height="3.00" fill="#a60f2d"/>
<text x="216.7" y="449.5" font-size="8" text-anchor="start" font-style="italic" stroke="#1a1a1a" stroke-width="0.22" textLength="12.5" lengthAdjust="spacingAndGlyphs">Ctrl</text>
<text x="216.7" y="461.3" font-size="8" text-anchor="start" font-style="italic" stroke="#1a1a1a" stroke-width="0.22" textLength="26.5" lengthAdjust="spacingAndGlyphs">IDH1-KI</text>
<text x="212.3" y="505.6" font-size="8.6" text-anchor="middle" stroke="#1a1a1a" stroke-width="0.22" textLength="8.9" lengthAdjust="spacingAndGlyphs">S1</text>
<text x="239.6" y="505.6" font-size="8.6" text-anchor="middle" stroke="#1a1a1a" stroke-width="0.22" textLength="8.9" lengthAdjust="spacingAndGlyphs">S2</text>
<text x="265.5" y="505.6" font-size="8.6" text-anchor="middle" stroke="#1a1a1a" stroke-width="0.22" textLength="8.9" lengthAdjust="spacingAndGlyphs">S3</text>
<text x="291.6" y="505.6" font-size="8.6" text-anchor="middle" stroke="#1a1a1a" stroke-width="0.22" textLength="8.9" lengthAdjust="spacingAndGlyphs">S4</text>
<text x="178.2" y="425.0" font-size="9.0" text-anchor="middle" stroke="#1a1a1a" stroke-width="0.22" transform="rotate(-90 178.2 425.0)" textLength="78.8" lengthAdjust="spacingAndGlyphs">% of total erythroblasts</text>
<line x1="201.5" y1="530" x2="201.5" y2="590.6" stroke="#1a1a1a" stroke-width="1.3"/>
<line x1="198.0" y1="590" x2="292.2" y2="590" stroke="#1a1a1a" stroke-width="1.3"/>
<line x1="198.2" y1="590.0" x2="201.5" y2="590.0" stroke="#1a1a1a" stroke-width="1.1"/>
<text x="197.7" y="593.096" font-size="8.6" text-anchor="end" stroke="#1a1a1a" stroke-width="0.22">0</text>
<line x1="198.2" y1="578.36" x2="201.5" y2="578.36" stroke="#1a1a1a" stroke-width="1.1"/>
<text x="197.7" y="581.456" font-size="8.6" text-anchor="end" stroke="#1a1a1a" stroke-width="0.22">20</text>
<line x1="198.2" y1="566.72" x2="201.5" y2="566.72" stroke="#1a1a1a" stroke-width="1.1"/>
<text x="197.7" y="569.816" font-size="8.6" text-anchor="end" stroke="#1a1a1a" stroke-width="0.22">40</text>
<line x1="198.2" y1="555.0799999999999" x2="201.5" y2="555.0799999999999" stroke="#1a1a1a" stroke-width="1.1"/>
<text x="197.7" y="558.1759999999999" font-size="8.6" text-anchor="end" stroke="#1a1a1a" stroke-width="0.22">60</text>
<line x1="198.2" y1="543.4399999999999" x2="201.5" y2="543.4399999999999" stroke="#1a1a1a" stroke-width="1.1"/>
<text x="197.7" y="546.536" font-size="8.6" text-anchor="end" stroke="#1a1a1a" stroke-width="0.22">80</text>
<line x1="198.2" y1="531.8" x2="201.5" y2="531.8" stroke="#1a1a1a" stroke-width="1.1"/>
<text x="197.7" y="534.896" font-size="8.6" text-anchor="end" stroke="#1a1a1a" stroke-width="0.22">100</text>
<line x1="217" y1="590" x2="217" y2="592.2" stroke="#1a1a1a" stroke-width="0.9"/>
<line x1="246.9" y1="590" x2="246.9" y2="592.2" stroke="#1a1a1a" stroke-width="0.9"/>
<line x1="276.3" y1="590" x2="276.3" y2="592.2" stroke="#1a1a1a" stroke-width="0.9"/>
<rect x="208.10" y="587.10" width="6.90" height="2.90" fill="#2c4a85" stroke="#1f3a78" stroke-width="0.5"/>
<line x1="211.55" y1="586.4" x2="211.55" y2="587.1" stroke="#1a1a1a" stroke-width="0.9"/>
<line x1="209.55" y1="586.4" x2="213.55" y2="586.4" stroke="#1a1a1a" stroke-width="0.9"/>
<rect x="218.80" y="587.10" width="7.80" height="2.90" fill="#a60f2d" stroke="#980a25" stroke-width="0.5"/>
<line x1="222.7" y1="586.4" x2="222.7" y2="587.1" stroke="#1a1a1a" stroke-width="0.9"/>
<line x1="220.7" y1="586.4" x2="224.7" y2="586.4" stroke="#1a1a1a" stroke-width="0.9"/>
<rect x="237.90" y="541.60" width="7.20" height="48.40" fill="#2c4a85" stroke="#1f3a78" stroke-width="0.5"/>
<line x1="241.5" y1="540.2" x2="241.5" y2="541.6" stroke="#1a1a1a" stroke-width="0.9"/>
<line x1="239.5" y1="540.2" x2="243.5" y2="540.2" stroke="#1a1a1a" stroke-width="0.9"/>
<rect x="248.70" y="537.30" width="7.70" height="52.70" fill="#a60f2d" stroke="#980a25" stroke-width="0.5"/>
<line x1="252.54999999999998" y1="536.6" x2="252.54999999999998" y2="537.3" stroke="#1a1a1a" stroke-width="0.9"/>
<line x1="250.54999999999998" y1="536.6" x2="254.54999999999998" y2="536.6" stroke="#1a1a1a" stroke-width="0.9"/>
<rect x="267.30" y="584.90" width="7.70" height="5.10" fill="#2c4a85" stroke="#1f3a78" stroke-width="0.5"/>
<line x1="271.15" y1="584.4" x2="271.15" y2="584.9" stroke="#1a1a1a" stroke-width="0.9"/>
<line x1="269.15" y1="584.4" x2="273.15" y2="584.4" stroke="#1a1a1a" stroke-width="0.9"/>
<rect x="278.40" y="588.90" width="7.40" height="1.10" fill="#a60f2d" stroke="#980a25" stroke-width="0.5"/>
<line x1="282.1" y1="588.3" x2="282.1" y2="588.9" stroke="#1a1a1a" stroke-width="0.9"/>
<line x1="280.1" y1="588.3" x2="284.1" y2="588.3" stroke="#1a1a1a" stroke-width="0.9"/>
<text x="252.5" y="536.74" font-size="8.2" text-anchor="middle" textLength="3.1" lengthAdjust="spacingAndGlyphs" stroke="#1a1a1a" stroke-width="0.12">*</text>
<text x="282" y="588.74" font-size="8.2" text-anchor="middle" textLength="9.3" lengthAdjust="spacingAndGlyphs" stroke="#1a1a1a" stroke-width="0.12">***</text>
<text x="207.6" y="535.9" font-size="8" text-anchor="start" stroke="#1a1a1a" stroke-width="0.22" textLength="12.1" lengthAdjust="spacingAndGlyphs">BM</text>
<rect x="262.10" y="532.10" width="7.00" height="3.00" fill="#2c4a85"/>
<rect x="262.10" y="543.40" width="7.00" height="3.00" fill="#a60f2d"/>
<text x="272.5" y="535.7" font-size="8" text-anchor="start" font-style="italic" stroke="#1a1a1a" stroke-width="0.22" textLength="12.7" lengthAdjust="spacingAndGlyphs">Ctrl</text>
<text x="272.5" y="547.3" font-size="8" text-anchor="start" font-style="italic" stroke="#1a1a1a" stroke-width="0.22" textLength="27.2" lengthAdjust="spacingAndGlyphs">IDH1-KI</text>
<text x="176.6" y="559.9" font-size="9.4" text-anchor="middle" stroke="#1a1a1a" stroke-width="0.22" transform="rotate(-90 176.6 559.9)" textLength="54.0" lengthAdjust="spacingAndGlyphs">% of total BFU-E</text>
<line x1="336.5" y1="529.2" x2="336.5" y2="590.4" stroke="#1a1a1a" stroke-width="1.3"/>
<line x1="333.0" y1="589.8" x2="426.2" y2="589.8" stroke="#1a1a1a" stroke-width="1.3"/>
<line x1="333.2" y1="589.8" x2="336.5" y2="589.8" stroke="#1a1a1a" stroke-width="1.1"/>
<text x="330.8" y="592.896" font-size="8.6" text-anchor="end" stroke="#1a1a1a" stroke-width="0.22">0</text>
<line x1="333.2" y1="578.38" x2="336.5" y2="578.38" stroke="#1a1a1a" stroke-width="1.1"/>
<text x="330.8" y="581.476" font-size="8.6" text-anchor="end" stroke="#1a1a1a" stroke-width="0.22">20</text>
<line x1="333.2" y1="566.96" x2="336.5" y2="566.96" stroke="#1a1a1a" stroke-width="1.1"/>
<text x="330.8" y="570.056" font-size="8.6" text-anchor="end" stroke="#1a1a1a" stroke-width="0.22">40</text>
<line x1="333.2" y1="555.54" x2="336.5" y2="555.54" stroke="#1a1a1a" stroke-width="1.1"/>
<text x="330.8" y="558.636" font-size="8.6" text-anchor="end" stroke="#1a1a1a" stroke-width="0.22">60</text>
<line x1="333.2" y1="544.12" x2="336.5" y2="544.12" stroke="#1a1a1a" stroke-width="1.1"/>
<text x="330.8" y="547.216" font-size="8.6" text-anchor="end" stroke="#1a1a1a" stroke-width="0.22">80</text>
<line x1="333.2" y1="532.7" x2="336.5" y2="532.7" stroke="#1a1a1a" stroke-width="1.1"/>
<text x="330.8" y="535.796" font-size="8.6" text-anchor="end" stroke="#1a1a1a" stroke-width="0.22">100</text>
<line x1="351.4" y1="589.8" x2="351.4" y2="592.0" stroke="#1a1a1a" stroke-width="0.9"/>
<line x1="380.9" y1="589.8" x2="380.9" y2="592.0" stroke="#1a1a1a" stroke-width="0.9"/>
<line x1="410.3" y1="589.8" x2="410.3" y2="592.0" stroke="#1a1a1a" stroke-width="0.9"/>
<rect x="341.90" y="579.60" width="7.10" height="10.20" fill="#2c4a85" stroke="#1f3a78" stroke-width="0.5"/>
<line x1="345.45" y1="579.0" x2="345.45" y2="579.6" stroke="#1a1a1a" stroke-width="0.9"/>
<line x1="343.45" y1="579.0" x2="347.45" y2="579.0" stroke="#1a1a1a" stroke-width="0.9"/>
<rect x="352.90" y="582.10" width="7.70" height="7.70" fill="#a60f2d" stroke="#980a25" stroke-width="0.5"/>
<line x1="356.75" y1="580.4" x2="356.75" y2="582.1" stroke="#1a1a1a" stroke-width="0.9"/>
<line x1="354.75" y1="580.4" x2="358.75" y2="580.4" stroke="#1a1a1a" stroke-width="0.9"/>
<rect x="371.70" y="549.40" width="7.10" height="40.40" fill="#2c4a85" stroke="#1f3a78" stroke-width="0.5"/>
<line x1="375.25" y1="548.6" x2="375.25" y2="549.4" stroke="#1a1a1a" stroke-width="0.9"/>
<line x1="373.25" y1="548.6" x2="377.25" y2="548.6" stroke="#1a1a1a" stroke-width="0.9"/>
<rect x="383.00" y="540.80" width="7.40" height="49.00" fill="#a60f2d" stroke="#980a25" stroke-width="0.5"/>
<line x1="386.7" y1="540.1" x2="386.7" y2="540.8" stroke="#1a1a1a" stroke-width="0.9"/>
<line x1="384.7" y1="540.1" x2="388.7" y2="540.1" stroke="#1a1a1a" stroke-width="0.9"/>
<rect x="401.20" y="585.40" width="7.60" height="4.40" fill="#2c4a85" stroke="#1f3a78" stroke-width="0.5"/>
<line x1="405.0" y1="584.9" x2="405.0" y2="585.4" stroke="#1a1a1a" stroke-width="0.9"/>
<line x1="403.0" y1="584.9" x2="407.0" y2="584.9" stroke="#1a1a1a" stroke-width="0.9"/>
<rect x="411.70" y="589.00" width="7.30" height="0.80" fill="#a60f2d" stroke="#980a25" stroke-width="0.5"/>
<line x1="415.35" y1="588.5" x2="415.35" y2="589.0" stroke="#1a1a1a" stroke-width="0.9"/>
<line x1="413.35" y1="588.5" x2="417.35" y2="588.5" stroke="#1a1a1a" stroke-width="0.9"/>
<text x="386.7" y="539.74" font-size="8.2" text-anchor="middle" textLength="9.3" lengthAdjust="spacingAndGlyphs" stroke="#1a1a1a" stroke-width="0.12">***</text>
<text x="415.4" y="588.74" font-size="8.2" text-anchor="middle" textLength="9.3" lengthAdjust="spacingAndGlyphs" stroke="#1a1a1a" stroke-width="0.12">***</text>
<text x="342.7" y="536" font-size="8" text-anchor="start" stroke="#1a1a1a" stroke-width="0.22" textLength="23.6" lengthAdjust="spacingAndGlyphs">Spleen</text>
<text x="344.8" y="575.4" font-size="8" text-anchor="start" stroke="#1a1a1a" stroke-width="0.22" textLength="24" lengthAdjust="spacingAndGlyphs"><tspan font-style="italic">P</tspan>=0.09</text>
<rect x="396.30" y="532.10" width="7.00" height="3.00" fill="#2c4a85"/>
<rect x="396.30" y="543.70" width="7.00" height="3.00" fill="#a60f2d"/>
<text x="406.5" y="536.1" font-size="8" text-anchor="start" font-style="italic" stroke="#1a1a1a" stroke-width="0.22" textLength="12.5" lengthAdjust="spacingAndGlyphs">Ctrl</text>
<text x="406.5" y="547.2" font-size="8" text-anchor="start" font-style="italic" stroke="#1a1a1a" stroke-width="0.22" textLength="27" lengthAdjust="spacingAndGlyphs">IDH1-KI</text>
<text x="220.4" y="599.3" font-size="9.4" text-anchor="end" textLength="55.0" lengthAdjust="spacingAndGlyphs" stroke="#1a1a1a" stroke-width="0.2" transform="rotate(-45 220.4 599.3)">CD71<tspan font-size="5.5" dy="-3.2">−</tspan><tspan dy="3.2"> Ter-119</tspan><tspan font-size="5.5" dy="-3.2">−</tspan></text>
<text x="249.9" y="599.3" font-size="9.4" text-anchor="end" textLength="55.0" lengthAdjust="spacingAndGlyphs" stroke="#1a1a1a" stroke-width="0.2" transform="rotate(-45 249.9 599.3)">CD71<tspan font-size="5.5" dy="-3.2">+</tspan><tspan dy="3.2"> Ter-119</tspan><tspan font-size="5.5" dy="-3.2">−</tspan></text>
<text x="279.4" y="599.3" font-size="9.4" text-anchor="end" textLength="55.0" lengthAdjust="spacingAndGlyphs" stroke="#1a1a1a" stroke-width="0.2" transform="rotate(-45 279.4 599.3)">CD71<tspan font-size="5.5" dy="-3.2">+</tspan><tspan dy="3.2"> Ter-119</tspan><tspan font-size="5.5" dy="-3.2">+</tspan></text>
<text x="354.4" y="599.3" font-size="9.4" text-anchor="end" textLength="55.0" lengthAdjust="spacingAndGlyphs" stroke="#1a1a1a" stroke-width="0.2" transform="rotate(-45 354.4 599.3)">CD71<tspan font-size="5.5" dy="-3.2">−</tspan><tspan dy="3.2"> Ter-119</tspan><tspan font-size="5.5" dy="-3.2">−</tspan></text>
<text x="383.9" y="599.3" font-size="9.4" text-anchor="end" textLength="55.0" lengthAdjust="spacingAndGlyphs" stroke="#1a1a1a" stroke-width="0.2" transform="rotate(-45 383.9 599.3)">CD71<tspan font-size="5.5" dy="-3.2">+</tspan><tspan dy="3.2"> Ter-119</tspan><tspan font-size="5.5" dy="-3.2">−</tspan></text>
<text x="413.4" y="599.3" font-size="9.4" text-anchor="end" textLength="55.0" lengthAdjust="spacingAndGlyphs" stroke="#1a1a1a" stroke-width="0.2" transform="rotate(-45 413.4 599.3)">CD71<tspan font-size="5.5" dy="-3.2">+</tspan><tspan dy="3.2"> Ter-119</tspan><tspan font-size="5.5" dy="-3.2">+</tspan></text>
<text x="70.3" y="26.9" font-size="8.6" text-anchor="middle" font-style="italic" stroke="#1a1a1a" stroke-width="0.22" textLength="13.1" lengthAdjust="spacingAndGlyphs">Ctrl</text>
<text x="128.4" y="26.9" font-size="8.6" text-anchor="middle" font-style="italic" stroke="#1a1a1a" stroke-width="0.22" textLength="29.2" lengthAdjust="spacingAndGlyphs">IDH1-KI</text>
<line x1="30.5" y1="156.6" x2="30.5" y2="36.6" stroke="#111" stroke-width="1.2"/>
<path d="M28.2,38.1 L30.5,32.6 L32.8,38.1 Z" fill="#111"/>
<line x1="29.9" y1="156" x2="147.8" y2="156" stroke="#111" stroke-width="1.2"/>
<path d="M146.3,153.7 L151.8,156 L146.3,158.3 Z" fill="#111"/>
<text x="25.5" y="95.5" font-size="10.5" text-anchor="middle" stroke="#1a1a1a" stroke-width="0.22" transform="rotate(-90 25.5 95.5)" textLength="31" lengthAdjust="spacingAndGlyphs">CD16/32</text>
<text x="81.4" y="167.7" font-size="10.0" text-anchor="start" stroke="#1a1a1a" stroke-width="0.22" textLength="18.8" lengthAdjust="spacingAndGlyphs">CD34</text>
<text x="161.6" y="59.5" font-size="8.4" text-anchor="middle" stroke="#1a1a1a" stroke-width="0.22" transform="rotate(-90 161.6 59.5)" textLength="11.3" lengthAdjust="spacingAndGlyphs">BM</text>
<text x="161.6" y="117.2" font-size="8.4" text-anchor="middle" stroke="#1a1a1a" stroke-width="0.22" transform="rotate(-90 161.6 117.2)" textLength="20.4" lengthAdjust="spacingAndGlyphs">Spleen</text>
<text x="68.7" y="368.2" font-size="8.6" text-anchor="middle" font-style="italic" stroke="#1a1a1a" stroke-width="0.22" textLength="13.8" lengthAdjust="spacingAndGlyphs">Ctrl</text>
<text x="120.5" y="368.2" font-size="8.6" text-anchor="middle" font-style="italic" stroke="#1a1a1a" stroke-width="0.22" textLength="29" lengthAdjust="spacingAndGlyphs">IDH1-KI</text>
<line x1="30.3" y1="483.8" x2="30.3" y2="391.7" stroke="#111" stroke-width="1.2"/>
<path d="M28.0,393.2 L30.3,387.7 L32.6,393.2 Z" fill="#111"/>
<line x1="29.7" y1="483.2" x2="139.9" y2="483.2" stroke="#111" stroke-width="1.2"/>
<path d="M138.4,480.9 L143.9,483.2 L138.4,485.5 Z" fill="#111"/>
<text x="24.8" y="436.7" font-size="10.5" text-anchor="middle" stroke="#1a1a1a" stroke-width="0.22" transform="rotate(-90 24.8 436.7)" textLength="18.2" lengthAdjust="spacingAndGlyphs">CD71</text>
<text x="74.4" y="494.4" font-size="10" text-anchor="start" stroke="#1a1a1a" stroke-width="0.22" textLength="25.5" lengthAdjust="spacingAndGlyphs">Ter-119</text>
<text x="153.7" y="397.7" font-size="8.4" text-anchor="middle" stroke="#1a1a1a" stroke-width="0.22" transform="rotate(-90 153.7 397.7)" textLength="10.9" lengthAdjust="spacingAndGlyphs">BM</text>
<text x="153.7" y="447.3" font-size="8.4" text-anchor="middle" stroke="#1a1a1a" stroke-width="0.22" transform="rotate(-90 153.7 447.3)" textLength="23.0" lengthAdjust="spacingAndGlyphs">Spleen</text>
<text x="69.4" y="524.2" font-size="8.6" text-anchor="middle" font-style="italic" stroke="#1a1a1a" stroke-width="0.22" textLength="13.5" lengthAdjust="spacingAndGlyphs">Ctrl</text>
<text x="117.7" y="524.6" font-size="8.6" text-anchor="middle" font-style="italic" stroke="#1a1a1a" stroke-width="0.22" textLength="28.8" lengthAdjust="spacingAndGlyphs">IDH1-KI</text>
<line x1="30.3" y1="636.8000000000001" x2="30.3" y2="534.8" stroke="#111" stroke-width="1.2"/>
<path d="M28.0,536.3 L30.3,530.8 L32.6,536.3 Z" fill="#111"/>
<line x1="29.7" y1="636.2" x2="137.4" y2="636.2" stroke="#111" stroke-width="1.2"/>
<path d="M135.9,633.9000000000001 L141.4,636.2 L135.9,638.5 Z" fill="#111"/>
<text x="24.8" y="585.1" font-size="10.5" text-anchor="middle" stroke="#1a1a1a" stroke-width="0.22" transform="rotate(-90 24.8 585.1)" textLength="18.2" lengthAdjust="spacingAndGlyphs">CD71</text>
<text x="72.7" y="647.9" font-size="10" text-anchor="start" stroke="#1a1a1a" stroke-width="0.22" textLength="26.5" lengthAdjust="spacingAndGlyphs">Ter-119</text>
<text x="153.8" y="551.0" font-size="8.4" text-anchor="middle" stroke="#1a1a1a" stroke-width="0.22" transform="rotate(-90 153.8 551.0)" textLength="11.9" lengthAdjust="spacingAndGlyphs">BM</text>
<text x="153.8" y="600.8" font-size="8.4" text-anchor="middle" stroke="#1a1a1a" stroke-width="0.22" transform="rotate(-90 153.8 600.8)" textLength="23.8" lengthAdjust="spacingAndGlyphs">Spleen</text>
<text x="61.6" y="206" font-size="8.6" text-anchor="middle" font-style="italic" stroke="#1a1a1a" stroke-width="0.22" textLength="13.3" lengthAdjust="spacingAndGlyphs">Ctrl</text>
<text x="117.6" y="206" font-size="8.6" text-anchor="middle" font-style="italic" stroke="#1a1a1a" stroke-width="0.22" textLength="28.5" lengthAdjust="spacingAndGlyphs">IDH1-KI</text>
<text x="23.3" y="237.3" font-size="8.6" text-anchor="middle" stroke="#1a1a1a" stroke-width="0.22" transform="rotate(-90 23.3 237.3)" textLength="12.0" lengthAdjust="spacingAndGlyphs">BM</text>
<text x="23.3" y="291.5" font-size="8.6" text-anchor="middle" stroke="#1a1a1a" stroke-width="0.22" transform="rotate(-90 23.3 291.5)" textLength="24.9" lengthAdjust="spacingAndGlyphs">Spleen</text>
<g filter="url(#b45)" shape-rendering="crispEdges"><path fill="#23238f" d="M59.7 376.9h3v1h-3zM65.7 376.9h2v1h-2zM72.7 376.9h3v1h-3zM57.7 377.9h1v1h-1zM67.7 377.9h2v1h-2zM70.7 377.9h7v1h-7zM68.7 378.9h4v1h-4zM76.7 378.9h2v1h-2zM55.7 379.9h1v1h-1zM69.7 379.9h2v1h-2zM77.7 379.9h2v1h-2zM54.7 380.9h1v1h-1zM68.7 380.9h3v1h-3zM77.7 380.9h2v1h-2zM54.7 381.9h1v1h-1zM69.7 381.9h3v1h-3zM75.7 381.9h3v1h-3zM55.7 382.9h1v1h-1zM66.7 382.9h1v1h-1zM70.7 382.9h9v1h-9zM56.7 383.9h2v1h-2zM63.7 383.9h2v1h-2zM71.7 383.9h9v1h-9zM74.7 384.9h3v1h-3zM78.7 384.9h2v1h-2zM72.7 385.9h1v1h-1zM77.7 385.9h3v1h-3zM71.7 386.9h1v1h-1zM78.7 386.9h2v1h-2zM70.7 387.9h1v1h-1zM79.7 387.9h1v1h-1zM79.7 388.9h1v1h-1zM69.7 389.9h1v1h-1zM69.7 390.9h1v1h-1zM80.7 390.9h1v1h-1zM69.7 391.9h1v1h-1zM80.7 391.9h1v1h-1zM69.7 392.9h1v1h-1zM80.7 392.9h1v1h-1zM69.7 393.9h1v1h-1zM80.7 393.9h1v1h-1zM69.7 394.9h1v1h-1zM69.7 395.9h1v1h-1zM79.7 396.9h1v1h-1zM70.7 397.9h1v1h-1zM70.7 398.9h1v1h-1zM78.7 398.9h1v1h-1zM70.7 399.9h1v1h-1zM78.7 399.9h1v1h-1zM78.7 400.9h1v1h-1zM78.7 401.9h1v1h-1zM78.7 402.9h1v1h-1zM78.7 403.9h1v1h-1zM78.7 404.9h1v1h-1zM70.7 405.9h1v1h-1zM78.7 405.9h1v1h-1zM70.7 406.9h1v1h-1zM77.7 407.9h1v1h-1zM71.7 408.9h1v1h-1zM76.7 409.9h1v1h-1zM73.7 410.9h3v1h-3z"/><path fill="#2a45c8" d="M62.7 376.9h3v1h-3zM58.7 377.9h2v1h-2zM66.7 377.9h1v1h-1zM56.7 378.9h2v1h-2zM67.7 378.9h1v1h-1zM72.7 378.9h4v1h-4zM68.7 379.9h1v1h-1zM71.7 379.9h2v1h-2zM75.7 379.9h2v1h-2zM55.7 380.9h1v1h-1zM67.7 380.9h1v1h-1zM71.7 380.9h6v1h-6zM55.7 381.9h1v1h-1zM66.7 381.9h2v1h-2zM72.7 381.9h3v1h-3zM56.7 382.9h1v1h-1zM65.7 382.9h1v1h-1zM58.7 383.9h5v1h-5zM77.7 384.9h1v1h-1zM73.7 385.9h4v1h-4zM77.7 386.9h1v1h-1zM71.7 387.9h1v1h-1zM78.7 387.9h1v1h-1zM70.7 388.9h1v1h-1zM79.7 389.9h1v1h-1zM79.7 390.9h1v1h-1zM79.7 393.9h1v1h-1zM79.7 394.9h1v1h-1zM70.7 395.9h1v1h-1zM79.7 395.9h1v1h-1zM70.7 396.9h1v1h-1zM78.7 396.9h1v1h-1zM71.7 397.9h1v1h-1zM78.7 397.9h1v1h-1zM77.7 398.9h1v1h-1zM77.7 399.9h1v1h-1zM70.7 400.9h1v1h-1zM70.7 401.9h1v1h-1zM70.7 402.9h1v1h-1zM70.7 403.9h1v1h-1zM70.7 404.9h1v1h-1zM77.7 406.9h1v1h-1zM71.7 407.9h1v1h-1zM76.7 408.9h1v1h-1zM72.7 409.9h4v1h-4z"/><path fill="#4aa8e4" d="M60.7 377.9h2v1h-2zM63.7 377.9h3v1h-3zM58.7 378.9h1v1h-1zM66.7 378.9h1v1h-1zM56.7 379.9h1v1h-1zM67.7 379.9h1v1h-1zM73.7 379.9h2v1h-2zM56.7 380.9h1v1h-1zM66.7 380.9h1v1h-1zM56.7 381.9h1v1h-1zM65.7 381.9h1v1h-1zM57.7 382.9h2v1h-2zM63.7 382.9h2v1h-2zM72.7 386.9h2v1h-2zM76.7 386.9h1v1h-1zM77.7 387.9h1v1h-1zM78.7 388.9h1v1h-1zM70.7 389.9h1v1h-1zM70.7 390.9h1v1h-1zM70.7 391.9h1v1h-1zM79.7 391.9h1v1h-1zM79.7 392.9h1v1h-1zM70.7 393.9h1v1h-1zM70.7 394.9h1v1h-1zM78.7 395.9h1v1h-1zM77.7 397.9h1v1h-1zM71.7 398.9h1v1h-1zM71.7 399.9h1v1h-1zM77.7 400.9h1v1h-1zM77.7 401.9h1v1h-1zM77.7 402.9h1v1h-1zM77.7 403.9h1v1h-1zM77.7 404.9h1v1h-1zM71.7 405.9h1v1h-1zM77.7 405.9h1v1h-1zM71.7 406.9h1v1h-1zM72.7 407.9h1v1h-1zM76.7 407.9h1v1h-1zM72.7 408.9h2v1h-2zM75.7 408.9h1v1h-1z"/><path fill="#63b94a" d="M62.7 377.9h1v1h-1zM59.7 378.9h7v1h-7zM57.7 379.9h2v1h-2zM64.7 379.9h3v1h-3zM57.7 380.9h1v1h-1zM64.7 380.9h2v1h-2zM57.7 381.9h2v1h-2zM63.7 381.9h2v1h-2zM59.7 382.9h4v1h-4zM74.7 386.9h2v1h-2zM72.7 387.9h5v1h-5zM71.7 388.9h2v1h-2zM76.7 388.9h2v1h-2zM71.7 389.9h1v1h-1zM77.7 389.9h2v1h-2zM71.7 390.9h1v1h-1zM77.7 390.9h2v1h-2zM78.7 391.9h1v1h-1zM70.7 392.9h1v1h-1zM78.7 392.9h1v1h-1zM78.7 393.9h1v1h-1zM78.7 394.9h1v1h-1zM71.7 395.9h1v1h-1zM77.7 395.9h1v1h-1zM71.7 396.9h1v1h-1zM77.7 396.9h1v1h-1zM72.7 397.9h1v1h-1zM76.7 397.9h1v1h-1zM72.7 398.9h1v1h-1zM76.7 398.9h1v1h-1zM72.7 399.9h1v1h-1zM76.7 399.9h1v1h-1zM71.7 400.9h2v1h-2zM76.7 400.9h1v1h-1zM71.7 401.9h3v1h-3zM75.7 401.9h2v1h-2zM71.7 402.9h6v1h-6zM71.7 403.9h6v1h-6zM71.7 404.9h6v1h-6zM72.7 405.9h5v1h-5zM72.7 406.9h5v1h-5zM73.7 407.9h3v1h-3zM74.7 408.9h1v1h-1z"/><path fill="#b8d43a" d="M59.7 379.9h5v1h-5zM58.7 380.9h2v1h-2zM62.7 380.9h2v1h-2zM59.7 381.9h4v1h-4zM73.7 388.9h3v1h-3zM72.7 389.9h1v1h-1zM76.7 389.9h1v1h-1zM72.7 390.9h1v1h-1zM76.7 390.9h1v1h-1zM71.7 391.9h1v1h-1zM77.7 391.9h1v1h-1zM71.7 392.9h1v1h-1zM77.7 392.9h1v1h-1zM71.7 393.9h1v1h-1zM77.7 393.9h1v1h-1zM71.7 394.9h1v1h-1zM77.7 394.9h1v1h-1zM76.7 395.9h1v1h-1zM72.7 396.9h1v1h-1zM76.7 396.9h1v1h-1zM73.7 397.9h3v1h-3zM73.7 398.9h3v1h-3zM73.7 399.9h3v1h-3zM73.7 400.9h3v1h-3zM74.7 401.9h1v1h-1z"/><path fill="#f0e030" d="M60.7 380.9h2v1h-2zM73.7 389.9h3v1h-3zM73.7 390.9h1v1h-1zM75.7 390.9h1v1h-1zM72.7 391.9h1v1h-1zM76.7 391.9h1v1h-1zM72.7 392.9h1v1h-1zM76.7 392.9h1v1h-1zM72.7 393.9h1v1h-1zM76.7 393.9h1v1h-1zM72.7 394.9h1v1h-1zM76.7 394.9h1v1h-1zM72.7 395.9h1v1h-1zM75.7 395.9h1v1h-1zM73.7 396.9h3v1h-3z"/><path fill="#f0a020" d="M74.7 390.9h1v1h-1zM73.7 391.9h3v1h-3zM73.7 392.9h3v1h-3zM73.7 393.9h1v1h-1zM75.7 393.9h1v1h-1zM73.7 394.9h3v1h-3zM73.7 395.9h2v1h-2z"/><path fill="#e03a1a" d="M74.7 393.9h1v1h-1z"/></g>
<g filter="url(#b45)" shape-rendering="crispEdges"><path fill="#23238f" d="M110.9 376.9h3v1h-3zM115.9 376.9h3v1h-3zM124.9 376.9h3v1h-3zM130.9 376.9h2v1h-2zM107.9 377.9h2v1h-2zM119.9 377.9h1v1h-1zM121.9 377.9h12v1h-12zM106.9 378.9h1v1h-1zM120.9 378.9h3v1h-3zM127.9 378.9h3v1h-3zM132.9 378.9h2v1h-2zM105.9 379.9h1v1h-1zM120.9 379.9h2v1h-2zM128.9 379.9h1v1h-1zM131.9 379.9h2v1h-2zM105.9 380.9h1v1h-1zM120.9 380.9h2v1h-2zM128.9 380.9h5v1h-5zM105.9 381.9h1v1h-1zM119.9 381.9h1v1h-1zM121.9 381.9h9v1h-9zM106.9 382.9h1v1h-1zM118.9 382.9h1v1h-1zM122.9 382.9h7v1h-7zM107.9 383.9h2v1h-2zM114.9 383.9h2v1h-2zM124.9 383.9h4v1h-4zM122.9 384.9h1v1h-1zM128.9 384.9h1v1h-1zM121.9 385.9h1v1h-1zM129.9 385.9h1v1h-1zM130.9 386.9h1v1h-1zM120.9 387.9h1v1h-1zM131.9 388.9h1v1h-1zM119.9 390.9h1v1h-1zM119.9 391.9h1v1h-1zM119.9 392.9h1v1h-1zM131.9 394.9h1v1h-1zM120.9 395.9h1v1h-1zM131.9 395.9h1v1h-1zM120.9 396.9h1v1h-1zM121.9 397.9h1v1h-1zM130.9 397.9h1v1h-1zM129.9 398.9h1v1h-1zM120.9 399.9h1v1h-1zM129.9 399.9h1v1h-1zM120.9 400.9h1v1h-1zM120.9 401.9h1v1h-1zM120.9 402.9h1v1h-1zM120.9 403.9h1v1h-1zM120.9 404.9h1v1h-1zM120.9 405.9h1v1h-1zM129.9 406.9h1v1h-1zM121.9 407.9h1v1h-1zM121.9 408.9h1v1h-1zM122.9 409.9h1v1h-1zM128.9 409.9h1v1h-1zM123.9 410.9h1v1h-1zM127.9 410.9h1v1h-1zM124.9 411.9h3v1h-3z"/><path fill="#2a45c8" d="M113.9 376.9h2v1h-2zM109.9 377.9h1v1h-1zM117.9 377.9h2v1h-2zM107.9 378.9h1v1h-1zM119.9 378.9h1v1h-1zM123.9 378.9h4v1h-4zM130.9 378.9h2v1h-2zM106.9 379.9h1v1h-1zM119.9 379.9h1v1h-1zM122.9 379.9h6v1h-6zM129.9 379.9h2v1h-2zM106.9 380.9h1v1h-1zM119.9 380.9h1v1h-1zM122.9 380.9h6v1h-6zM106.9 381.9h1v1h-1zM118.9 381.9h1v1h-1zM107.9 382.9h1v1h-1zM116.9 382.9h2v1h-2zM109.9 383.9h5v1h-5zM123.9 384.9h5v1h-5zM122.9 385.9h1v1h-1zM128.9 385.9h1v1h-1zM121.9 386.9h1v1h-1zM129.9 386.9h1v1h-1zM121.9 387.9h1v1h-1zM130.9 387.9h1v1h-1zM120.9 388.9h1v1h-1zM120.9 389.9h1v1h-1zM131.9 389.9h1v1h-1zM120.9 390.9h1v1h-1zM131.9 390.9h1v1h-1zM120.9 391.9h1v1h-1zM131.9 391.9h1v1h-1zM120.9 392.9h1v1h-1zM131.9 392.9h1v1h-1zM120.9 393.9h1v1h-1zM131.9 393.9h1v1h-1zM120.9 394.9h1v1h-1zM130.9 395.9h1v1h-1zM121.9 396.9h1v1h-1zM130.9 396.9h1v1h-1zM129.9 397.9h1v1h-1zM121.9 398.9h1v1h-1zM121.9 399.9h1v1h-1zM121.9 400.9h1v1h-1zM129.9 400.9h1v1h-1zM129.9 401.9h1v1h-1zM129.9 402.9h1v1h-1zM129.9 403.9h1v1h-1zM129.9 404.9h1v1h-1zM121.9 405.9h1v1h-1zM129.9 405.9h1v1h-1zM121.9 406.9h1v1h-1zM128.9 407.9h1v1h-1zM122.9 408.9h1v1h-1zM128.9 408.9h1v1h-1zM123.9 409.9h1v1h-1zM127.9 409.9h1v1h-1zM124.9 410.9h3v1h-3z"/><path fill="#4aa8e4" d="M110.9 377.9h2v1h-2zM115.9 377.9h2v1h-2zM108.9 378.9h1v1h-1zM117.9 378.9h2v1h-2zM107.9 379.9h1v1h-1zM118.9 379.9h1v1h-1zM118.9 380.9h1v1h-1zM107.9 381.9h1v1h-1zM117.9 381.9h1v1h-1zM108.9 382.9h2v1h-2zM114.9 382.9h2v1h-2zM123.9 385.9h1v1h-1zM127.9 385.9h1v1h-1zM122.9 386.9h1v1h-1zM129.9 387.9h1v1h-1zM121.9 388.9h1v1h-1zM130.9 388.9h1v1h-1zM130.9 389.9h1v1h-1zM130.9 390.9h1v1h-1zM130.9 393.9h1v1h-1zM130.9 394.9h1v1h-1zM121.9 395.9h1v1h-1zM129.9 396.9h1v1h-1zM122.9 397.9h1v1h-1zM128.9 397.9h1v1h-1zM122.9 398.9h1v1h-1zM128.9 398.9h1v1h-1zM128.9 399.9h1v1h-1zM121.9 401.9h1v1h-1zM121.9 402.9h1v1h-1zM121.9 403.9h1v1h-1zM121.9 404.9h1v1h-1zM128.9 405.9h1v1h-1zM122.9 406.9h1v1h-1zM128.9 406.9h1v1h-1zM122.9 407.9h1v1h-1zM123.9 408.9h1v1h-1zM127.9 408.9h1v1h-1zM124.9 409.9h3v1h-3z"/><path fill="#63b94a" d="M112.9 377.9h3v1h-3zM109.9 378.9h2v1h-2zM114.9 378.9h3v1h-3zM108.9 379.9h1v1h-1zM116.9 379.9h2v1h-2zM107.9 380.9h2v1h-2zM115.9 380.9h3v1h-3zM108.9 381.9h3v1h-3zM113.9 381.9h4v1h-4zM110.9 382.9h4v1h-4zM124.9 385.9h3v1h-3zM123.9 386.9h2v1h-2zM126.9 386.9h3v1h-3zM122.9 387.9h1v1h-1zM128.9 387.9h1v1h-1zM122.9 388.9h1v1h-1zM129.9 388.9h1v1h-1zM121.9 389.9h1v1h-1zM129.9 389.9h1v1h-1zM121.9 390.9h1v1h-1zM129.9 390.9h1v1h-1zM121.9 391.9h1v1h-1zM129.9 391.9h2v1h-2zM121.9 392.9h1v1h-1zM129.9 392.9h2v1h-2zM121.9 393.9h1v1h-1zM129.9 393.9h1v1h-1zM121.9 394.9h1v1h-1zM129.9 394.9h1v1h-1zM122.9 395.9h1v1h-1zM128.9 395.9h2v1h-2zM122.9 396.9h2v1h-2zM128.9 396.9h1v1h-1zM123.9 397.9h1v1h-1zM126.9 397.9h2v1h-2zM123.9 398.9h1v1h-1zM127.9 398.9h1v1h-1zM122.9 399.9h2v1h-2zM126.9 399.9h2v1h-2zM122.9 400.9h7v1h-7zM122.9 401.9h7v1h-7zM122.9 402.9h7v1h-7zM122.9 403.9h7v1h-7zM122.9 404.9h7v1h-7zM122.9 405.9h6v1h-6zM123.9 406.9h5v1h-5zM123.9 407.9h5v1h-5zM124.9 408.9h3v1h-3z"/><path fill="#b8d43a" d="M111.9 378.9h3v1h-3zM109.9 379.9h3v1h-3zM113.9 379.9h3v1h-3zM109.9 380.9h6v1h-6zM111.9 381.9h2v1h-2zM125.9 386.9h1v1h-1zM123.9 387.9h5v1h-5zM123.9 388.9h1v1h-1zM127.9 388.9h2v1h-2zM122.9 389.9h1v1h-1zM128.9 389.9h1v1h-1zM122.9 390.9h1v1h-1zM128.9 390.9h1v1h-1zM122.9 391.9h1v1h-1zM128.9 391.9h1v1h-1zM122.9 392.9h1v1h-1zM128.9 392.9h1v1h-1zM122.9 393.9h1v1h-1zM128.9 393.9h1v1h-1zM122.9 394.9h1v1h-1zM128.9 394.9h1v1h-1zM123.9 395.9h1v1h-1zM127.9 395.9h1v1h-1zM124.9 396.9h4v1h-4zM124.9 397.9h2v1h-2zM124.9 398.9h3v1h-3zM124.9 399.9h2v1h-2z"/><path fill="#f0e030" d="M112.9 379.9h1v1h-1zM124.9 388.9h3v1h-3zM123.9 389.9h1v1h-1zM127.9 389.9h1v1h-1zM123.9 390.9h1v1h-1zM127.9 390.9h1v1h-1zM123.9 391.9h1v1h-1zM127.9 391.9h1v1h-1zM123.9 392.9h1v1h-1zM127.9 392.9h1v1h-1zM123.9 393.9h1v1h-1zM127.9 393.9h1v1h-1zM123.9 394.9h1v1h-1zM127.9 394.9h1v1h-1zM124.9 395.9h3v1h-3z"/><path fill="#f0a020" d="M124.9 389.9h3v1h-3zM124.9 390.9h1v1h-1zM126.9 390.9h1v1h-1zM124.9 391.9h1v1h-1zM126.9 391.9h1v1h-1zM124.9 392.9h1v1h-1zM126.9 392.9h1v1h-1zM124.9 393.9h3v1h-3zM124.9 394.9h3v1h-3z"/><path fill="#e03a1a" d="M125.9 390.9h1v1h-1zM125.9 391.9h1v1h-1zM125.9 392.9h1v1h-1z"/></g>
<g filter="url(#b45)" shape-rendering="crispEdges"><path fill="#23238f" d="M60.7 426.9h3v1h-3zM70.7 426.9h5v1h-5zM56.7 427.9h2v1h-2zM65.7 427.9h1v1h-1zM69.7 427.9h8v1h-8zM55.7 428.9h1v1h-1zM67.7 428.9h11v1h-11zM54.7 429.9h1v1h-1zM67.7 429.9h11v1h-11zM53.7 430.9h1v1h-1zM67.7 430.9h11v1h-11zM53.7 431.9h1v1h-1zM68.7 431.9h9v1h-9zM54.7 432.9h1v1h-1zM65.7 432.9h1v1h-1zM69.7 432.9h8v1h-8zM55.7 433.9h2v1h-2zM63.7 433.9h1v1h-1zM71.7 433.9h5v1h-5zM71.7 434.9h1v1h-1zM76.7 434.9h1v1h-1zM70.7 435.9h1v1h-1zM70.7 436.9h1v1h-1zM77.7 436.9h1v1h-1zM69.7 438.9h1v1h-1zM78.7 438.9h1v1h-1zM78.7 439.9h1v1h-1zM78.7 448.9h1v1h-1zM78.7 449.9h1v1h-1zM68.7 452.9h1v1h-1zM68.7 453.9h1v1h-1zM68.7 454.9h1v1h-1zM68.7 455.9h1v1h-1zM68.7 456.9h1v1h-1zM78.7 456.9h1v1h-1zM68.7 457.9h1v1h-1zM78.7 457.9h1v1h-1zM78.7 458.9h1v1h-1zM69.7 459.9h1v1h-1zM69.7 460.9h1v1h-1zM77.7 460.9h1v1h-1zM70.7 461.9h1v1h-1zM76.7 461.9h1v1h-1zM71.7 462.9h1v1h-1zM75.7 462.9h1v1h-1zM72.7 463.9h3v1h-3z"/><path fill="#2a45c8" d="M58.7 427.9h3v1h-3zM62.7 427.9h3v1h-3zM56.7 428.9h1v1h-1zM65.7 428.9h2v1h-2zM55.7 429.9h1v1h-1zM66.7 429.9h1v1h-1zM54.7 430.9h1v1h-1zM66.7 430.9h1v1h-1zM54.7 431.9h1v1h-1zM66.7 431.9h1v1h-1zM55.7 432.9h1v1h-1zM64.7 432.9h1v1h-1zM57.7 433.9h6v1h-6zM72.7 434.9h4v1h-4zM71.7 435.9h1v1h-1zM76.7 435.9h1v1h-1zM70.7 437.9h1v1h-1zM77.7 437.9h1v1h-1zM77.7 438.9h1v1h-1zM69.7 439.9h1v1h-1zM69.7 440.9h1v1h-1zM78.7 440.9h1v1h-1zM69.7 441.9h1v1h-1zM78.7 441.9h1v1h-1zM69.7 442.9h1v1h-1zM78.7 442.9h1v1h-1zM69.7 443.9h1v1h-1zM78.7 443.9h1v1h-1zM69.7 444.9h1v1h-1zM78.7 444.9h1v1h-1zM69.7 445.9h1v1h-1zM78.7 445.9h1v1h-1zM69.7 446.9h1v1h-1zM78.7 446.9h1v1h-1zM69.7 447.9h1v1h-1zM78.7 447.9h1v1h-1zM69.7 448.9h1v1h-1zM69.7 449.9h1v1h-1zM69.7 450.9h1v1h-1zM78.7 450.9h1v1h-1zM69.7 451.9h1v1h-1zM78.7 451.9h1v1h-1zM69.7 452.9h1v1h-1zM78.7 452.9h1v1h-1zM78.7 453.9h1v1h-1zM78.7 454.9h1v1h-1zM78.7 455.9h1v1h-1zM69.7 457.9h1v1h-1zM69.7 458.9h1v1h-1zM77.7 458.9h1v1h-1zM77.7 459.9h1v1h-1zM70.7 460.9h1v1h-1zM76.7 460.9h1v1h-1zM71.7 461.9h1v1h-1zM75.7 461.9h1v1h-1zM72.7 462.9h3v1h-3z"/><path fill="#4aa8e4" d="M61.7 427.9h1v1h-1zM57.7 428.9h1v1h-1zM64.7 428.9h1v1h-1zM65.7 429.9h1v1h-1zM55.7 430.9h1v1h-1zM65.7 430.9h1v1h-1zM55.7 431.9h1v1h-1zM64.7 431.9h2v1h-2zM56.7 432.9h2v1h-2zM62.7 432.9h2v1h-2zM72.7 435.9h4v1h-4zM71.7 436.9h1v1h-1zM76.7 436.9h1v1h-1zM76.7 437.9h1v1h-1zM70.7 438.9h1v1h-1zM70.7 439.9h1v1h-1zM77.7 439.9h1v1h-1zM77.7 446.9h1v1h-1zM77.7 447.9h1v1h-1zM70.7 448.9h1v1h-1zM77.7 448.9h1v1h-1zM77.7 449.9h1v1h-1zM77.7 450.9h1v1h-1zM69.7 453.9h1v1h-1zM69.7 454.9h1v1h-1zM69.7 455.9h1v1h-1zM77.7 455.9h1v1h-1zM69.7 456.9h1v1h-1zM77.7 456.9h1v1h-1zM77.7 457.9h1v1h-1zM70.7 459.9h1v1h-1zM76.7 459.9h1v1h-1zM74.7 461.9h1v1h-1z"/><path fill="#63b94a" d="M58.7 428.9h6v1h-6zM56.7 429.9h2v1h-2zM62.7 429.9h3v1h-3zM56.7 430.9h2v1h-2zM62.7 430.9h3v1h-3zM56.7 431.9h3v1h-3zM61.7 431.9h3v1h-3zM58.7 432.9h4v1h-4zM72.7 436.9h4v1h-4zM71.7 437.9h2v1h-2zM75.7 437.9h1v1h-1zM71.7 438.9h1v1h-1zM76.7 438.9h1v1h-1zM71.7 439.9h1v1h-1zM76.7 439.9h1v1h-1zM70.7 440.9h1v1h-1zM77.7 440.9h1v1h-1zM70.7 441.9h1v1h-1zM77.7 441.9h1v1h-1zM70.7 442.9h1v1h-1zM77.7 442.9h1v1h-1zM70.7 443.9h1v1h-1zM77.7 443.9h1v1h-1zM70.7 444.9h2v1h-2zM76.7 444.9h2v1h-2zM70.7 445.9h2v1h-2zM76.7 445.9h2v1h-2zM70.7 446.9h2v1h-2zM76.7 446.9h1v1h-1zM70.7 447.9h2v1h-2zM76.7 447.9h1v1h-1zM71.7 448.9h1v1h-1zM76.7 448.9h1v1h-1zM70.7 449.9h2v1h-2zM76.7 449.9h1v1h-1zM70.7 450.9h2v1h-2zM75.7 450.9h2v1h-2zM70.7 451.9h3v1h-3zM74.7 451.9h4v1h-4zM70.7 452.9h2v1h-2zM74.7 452.9h4v1h-4zM70.7 453.9h1v1h-1zM75.7 453.9h3v1h-3zM70.7 454.9h1v1h-1zM75.7 454.9h3v1h-3zM70.7 455.9h1v1h-1zM76.7 455.9h1v1h-1zM76.7 456.9h1v1h-1zM76.7 457.9h1v1h-1zM70.7 458.9h1v1h-1zM76.7 458.9h1v1h-1zM75.7 459.9h1v1h-1zM71.7 460.9h1v1h-1zM74.7 460.9h2v1h-2zM72.7 461.9h2v1h-2z"/><path fill="#b8d43a" d="M58.7 429.9h4v1h-4zM58.7 430.9h4v1h-4zM59.7 431.9h2v1h-2zM73.7 437.9h2v1h-2zM72.7 438.9h1v1h-1zM75.7 438.9h1v1h-1zM71.7 440.9h1v1h-1zM76.7 440.9h1v1h-1zM71.7 441.9h1v1h-1zM76.7 441.9h1v1h-1zM71.7 442.9h1v1h-1zM76.7 442.9h1v1h-1zM71.7 443.9h2v1h-2zM75.7 443.9h2v1h-2zM72.7 444.9h4v1h-4zM72.7 445.9h4v1h-4zM72.7 446.9h4v1h-4zM72.7 447.9h4v1h-4zM72.7 448.9h4v1h-4zM72.7 449.9h4v1h-4zM72.7 450.9h3v1h-3zM73.7 451.9h1v1h-1zM72.7 452.9h2v1h-2zM71.7 453.9h4v1h-4zM71.7 454.9h4v1h-4zM74.7 455.9h2v1h-2zM70.7 456.9h1v1h-1zM75.7 456.9h1v1h-1zM70.7 457.9h1v1h-1zM75.7 457.9h1v1h-1zM75.7 458.9h1v1h-1zM71.7 459.9h1v1h-1zM74.7 459.9h1v1h-1zM72.7 460.9h2v1h-2z"/><path fill="#f0e030" d="M73.7 438.9h2v1h-2zM72.7 439.9h2v1h-2zM75.7 439.9h1v1h-1zM72.7 440.9h1v1h-1zM75.7 440.9h1v1h-1zM72.7 441.9h1v1h-1zM75.7 441.9h1v1h-1zM72.7 442.9h1v1h-1zM75.7 442.9h1v1h-1zM73.7 443.9h2v1h-2zM71.7 455.9h3v1h-3zM71.7 456.9h1v1h-1zM74.7 456.9h1v1h-1zM71.7 457.9h1v1h-1zM74.7 457.9h1v1h-1zM71.7 458.9h1v1h-1zM74.7 458.9h1v1h-1zM72.7 459.9h2v1h-2z"/><path fill="#f0a020" d="M74.7 439.9h1v1h-1zM73.7 440.9h2v1h-2zM73.7 441.9h2v1h-2zM73.7 442.9h2v1h-2zM72.7 456.9h2v1h-2zM72.7 457.9h2v1h-2zM72.7 458.9h2v1h-2z"/></g>
<g filter="url(#b45)" shape-rendering="crispEdges"><path fill="#23238f" d="M110.6 426.9h6v1h-6zM122.6 426.9h4v1h-4zM108.6 427.9h1v1h-1zM117.6 427.9h1v1h-1zM120.6 427.9h8v1h-8zM106.6 428.9h1v1h-1zM119.6 428.9h2v1h-2zM125.6 428.9h4v1h-4zM105.6 429.9h1v1h-1zM119.6 429.9h1v1h-1zM127.6 429.9h2v1h-2zM105.6 430.9h1v1h-1zM119.6 430.9h1v1h-1zM126.6 430.9h3v1h-3zM105.6 431.9h1v1h-1zM118.6 431.9h11v1h-11zM105.6 432.9h1v1h-1zM117.6 432.9h1v1h-1zM120.6 432.9h8v1h-8zM107.6 433.9h1v1h-1zM115.6 433.9h1v1h-1zM122.6 433.9h5v1h-5zM110.6 434.9h3v1h-3zM122.6 434.9h1v1h-1zM127.6 434.9h1v1h-1zM128.6 435.9h1v1h-1zM120.6 436.9h1v1h-1zM129.6 436.9h1v1h-1zM129.6 437.9h1v1h-1zM119.6 438.9h1v1h-1zM130.6 439.9h1v1h-1zM130.6 440.9h1v1h-1zM130.6 441.9h1v1h-1zM130.6 442.9h1v1h-1zM130.6 443.9h1v1h-1zM130.6 444.9h1v1h-1zM130.6 445.9h1v1h-1zM119.6 446.9h1v1h-1zM119.6 447.9h1v1h-1zM129.6 447.9h1v1h-1zM120.6 448.9h1v1h-1zM129.6 448.9h1v1h-1zM120.6 449.9h1v1h-1zM128.6 449.9h1v1h-1zM120.6 450.9h1v1h-1zM129.6 452.9h1v1h-1zM129.6 453.9h1v1h-1zM129.6 454.9h1v1h-1zM129.6 455.9h1v1h-1zM120.6 457.9h1v1h-1zM120.6 458.9h1v1h-1zM128.6 458.9h1v1h-1zM128.6 459.9h1v1h-1zM121.6 460.9h1v1h-1zM127.6 461.9h1v1h-1zM122.6 462.9h2v1h-2zM125.6 462.9h2v1h-2z"/><path fill="#2a45c8" d="M109.6 427.9h2v1h-2zM115.6 427.9h2v1h-2zM107.6 428.9h1v1h-1zM117.6 428.9h2v1h-2zM121.6 428.9h4v1h-4zM106.6 429.9h1v1h-1zM118.6 429.9h1v1h-1zM120.6 429.9h7v1h-7zM106.6 430.9h1v1h-1zM118.6 430.9h1v1h-1zM120.6 430.9h6v1h-6zM106.6 431.9h1v1h-1zM117.6 431.9h1v1h-1zM106.6 432.9h2v1h-2zM116.6 432.9h1v1h-1zM108.6 433.9h7v1h-7zM123.6 434.9h4v1h-4zM121.6 435.9h1v1h-1zM127.6 435.9h1v1h-1zM128.6 436.9h1v1h-1zM120.6 437.9h1v1h-1zM129.6 438.9h1v1h-1zM119.6 439.9h1v1h-1zM129.6 439.9h1v1h-1zM119.6 440.9h1v1h-1zM119.6 441.9h1v1h-1zM119.6 442.9h1v1h-1zM119.6 443.9h1v1h-1zM119.6 444.9h1v1h-1zM119.6 445.9h1v1h-1zM129.6 446.9h1v1h-1zM120.6 447.9h1v1h-1zM128.6 448.9h1v1h-1zM128.6 450.9h1v1h-1zM120.6 451.9h1v1h-1zM128.6 451.9h1v1h-1zM120.6 452.9h1v1h-1zM128.6 452.9h1v1h-1zM120.6 453.9h1v1h-1zM128.6 453.9h1v1h-1zM120.6 454.9h1v1h-1zM128.6 454.9h1v1h-1zM120.6 455.9h1v1h-1zM128.6 455.9h1v1h-1zM120.6 456.9h1v1h-1zM128.6 456.9h1v1h-1zM128.6 457.9h1v1h-1zM121.6 459.9h1v1h-1zM127.6 459.9h1v1h-1zM122.6 460.9h1v1h-1zM127.6 460.9h1v1h-1zM122.6 461.9h2v1h-2zM125.6 461.9h2v1h-2zM124.6 462.9h1v1h-1z"/><path fill="#4aa8e4" d="M111.6 427.9h4v1h-4zM108.6 428.9h1v1h-1zM116.6 428.9h1v1h-1zM107.6 429.9h1v1h-1zM117.6 429.9h1v1h-1zM107.6 430.9h1v1h-1zM117.6 430.9h1v1h-1zM107.6 431.9h1v1h-1zM116.6 431.9h1v1h-1zM108.6 432.9h1v1h-1zM114.6 432.9h2v1h-2zM122.6 435.9h2v1h-2zM126.6 435.9h1v1h-1zM121.6 436.9h1v1h-1zM127.6 436.9h1v1h-1zM128.6 437.9h1v1h-1zM120.6 438.9h1v1h-1zM120.6 439.9h1v1h-1zM129.6 440.9h1v1h-1zM129.6 441.9h1v1h-1zM129.6 442.9h1v1h-1zM129.6 443.9h1v1h-1zM129.6 444.9h1v1h-1zM120.6 445.9h1v1h-1zM129.6 445.9h1v1h-1zM120.6 446.9h1v1h-1zM121.6 447.9h1v1h-1zM128.6 447.9h1v1h-1zM121.6 448.9h1v1h-1zM127.6 448.9h1v1h-1zM121.6 449.9h1v1h-1zM127.6 449.9h1v1h-1zM121.6 450.9h1v1h-1zM127.6 450.9h1v1h-1zM121.6 456.9h1v1h-1zM121.6 457.9h1v1h-1zM127.6 457.9h1v1h-1zM121.6 458.9h1v1h-1zM127.6 458.9h1v1h-1zM122.6 459.9h1v1h-1zM126.6 459.9h1v1h-1zM123.6 460.9h4v1h-4zM124.6 461.9h1v1h-1z"/><path fill="#63b94a" d="M109.6 428.9h7v1h-7zM108.6 429.9h2v1h-2zM114.6 429.9h3v1h-3zM108.6 430.9h2v1h-2zM114.6 430.9h3v1h-3zM108.6 431.9h8v1h-8zM109.6 432.9h5v1h-5zM124.6 435.9h2v1h-2zM122.6 436.9h2v1h-2zM126.6 436.9h1v1h-1zM121.6 437.9h2v1h-2zM127.6 437.9h1v1h-1zM121.6 438.9h1v1h-1zM128.6 438.9h1v1h-1zM128.6 439.9h1v1h-1zM120.6 440.9h1v1h-1zM128.6 440.9h1v1h-1zM120.6 441.9h1v1h-1zM128.6 441.9h1v1h-1zM120.6 442.9h1v1h-1zM128.6 442.9h1v1h-1zM120.6 443.9h1v1h-1zM128.6 443.9h1v1h-1zM120.6 444.9h1v1h-1zM128.6 444.9h1v1h-1zM121.6 445.9h1v1h-1zM128.6 445.9h1v1h-1zM121.6 446.9h1v1h-1zM127.6 446.9h2v1h-2zM122.6 447.9h2v1h-2zM126.6 447.9h2v1h-2zM122.6 448.9h5v1h-5zM122.6 449.9h5v1h-5zM122.6 450.9h5v1h-5zM121.6 451.9h7v1h-7zM121.6 452.9h7v1h-7zM121.6 453.9h7v1h-7zM121.6 454.9h7v1h-7zM121.6 455.9h7v1h-7zM122.6 456.9h6v1h-6zM122.6 457.9h5v1h-5zM122.6 458.9h5v1h-5zM123.6 459.9h3v1h-3z"/><path fill="#b8d43a" d="M110.6 429.9h4v1h-4zM110.6 430.9h4v1h-4zM124.6 436.9h2v1h-2zM123.6 437.9h1v1h-1zM125.6 437.9h2v1h-2zM122.6 438.9h1v1h-1zM127.6 438.9h1v1h-1zM121.6 439.9h1v1h-1zM127.6 439.9h1v1h-1zM121.6 440.9h1v1h-1zM127.6 440.9h1v1h-1zM121.6 441.9h1v1h-1zM127.6 441.9h1v1h-1zM121.6 442.9h1v1h-1zM127.6 442.9h1v1h-1zM121.6 443.9h1v1h-1zM127.6 443.9h1v1h-1zM121.6 444.9h2v1h-2zM127.6 444.9h1v1h-1zM122.6 445.9h1v1h-1zM126.6 445.9h2v1h-2zM122.6 446.9h5v1h-5zM124.6 447.9h2v1h-2z"/><path fill="#f0e030" d="M124.6 437.9h1v1h-1zM123.6 438.9h1v1h-1zM125.6 438.9h2v1h-2zM122.6 439.9h1v1h-1zM126.6 439.9h1v1h-1zM122.6 440.9h1v1h-1zM122.6 441.9h1v1h-1zM122.6 442.9h1v1h-1zM122.6 443.9h1v1h-1zM126.6 443.9h1v1h-1zM123.6 444.9h1v1h-1zM125.6 444.9h2v1h-2zM123.6 445.9h3v1h-3z"/><path fill="#f0a020" d="M124.6 438.9h1v1h-1zM123.6 439.9h3v1h-3zM123.6 440.9h1v1h-1zM126.6 440.9h1v1h-1zM123.6 441.9h1v1h-1zM126.6 441.9h1v1h-1zM123.6 442.9h1v1h-1zM125.6 442.9h2v1h-2zM123.6 443.9h3v1h-3zM124.6 444.9h1v1h-1z"/><path fill="#e03a1a" d="M124.6 440.9h2v1h-2zM124.6 441.9h2v1h-2zM124.6 442.9h1v1h-1z"/></g>
<rect x="54.70" y="375.40" width="14.70" height="9.60" fill="none" stroke="#8a8a8a" stroke-width="0.6"/>
<rect x="69.40" y="375.40" width="14.00" height="9.60" fill="none" stroke="#8a8a8a" stroke-width="0.6"/>
<rect x="69.40" y="385.00" width="14.00" height="12.40" fill="none" stroke="#8a8a8a" stroke-width="0.6"/>
<rect x="69.40" y="397.40" width="14.00" height="19.50" fill="none" stroke="#8a8a8a" stroke-width="0.6"/>
<line x1="69.4" y1="397.4" x2="83.4" y2="397.4" stroke="#333" stroke-width="0.7"/>
<text x="48.5" y="379.0" font-size="3.6" text-anchor="start" fill="#444">S1</text>
<text x="48.300000000000004" y="383.0" font-size="3.6" text-anchor="start" fill="#444">23.8</text>
<text x="86.0" y="379.0" font-size="3.6" text-anchor="start" fill="#444">S2</text>
<text x="85.80000000000001" y="383.0" font-size="3.6" text-anchor="start" fill="#444">5.17</text>
<text x="86.0" y="391.0" font-size="3.6" text-anchor="start" fill="#444">S3</text>
<text x="85.80000000000001" y="395.0" font-size="3.6" text-anchor="start" fill="#444">41.0</text>
<text x="86.0" y="406.0" font-size="3.6" text-anchor="start" fill="#444">S4</text>
<text x="85.80000000000001" y="410.0" font-size="3.6" text-anchor="start" fill="#444">28.5</text>
<rect x="46.10" y="374.30" width="47.00" height="47.20" fill="none" stroke="#333" stroke-width="1.3"/>
<rect x="105.90" y="375.40" width="14.70" height="9.60" fill="none" stroke="#8a8a8a" stroke-width="0.6"/>
<rect x="120.60" y="375.40" width="14.00" height="9.60" fill="none" stroke="#8a8a8a" stroke-width="0.6"/>
<rect x="120.60" y="385.00" width="14.00" height="12.40" fill="none" stroke="#8a8a8a" stroke-width="0.6"/>
<rect x="120.60" y="397.40" width="14.00" height="19.50" fill="none" stroke="#8a8a8a" stroke-width="0.6"/>
<line x1="120.60000000000001" y1="397.4" x2="134.60000000000002" y2="397.4" stroke="#333" stroke-width="0.7"/>
<text x="99.7" y="379.0" font-size="3.6" text-anchor="start" fill="#444">S1</text>
<text x="99.5" y="383.0" font-size="3.6" text-anchor="start" fill="#444">23.6</text>
<text x="137.20000000000002" y="379.0" font-size="3.6" text-anchor="start" fill="#444">S2</text>
<text x="137.00000000000003" y="383.0" font-size="3.6" text-anchor="start" fill="#444">4.38</text>
<text x="137.20000000000002" y="391.0" font-size="3.6" text-anchor="start" fill="#444">S3</text>
<text x="137.00000000000003" y="395.0" font-size="3.6" text-anchor="start" fill="#444">47.7</text>
<text x="137.20000000000002" y="406.0" font-size="3.6" text-anchor="start" fill="#444">S4</text>
<text x="137.00000000000003" y="410.0" font-size="3.6" text-anchor="start" fill="#444">23.4</text>
<rect x="97.30" y="374.30" width="46.50" height="46.80" fill="none" stroke="#333" stroke-width="1.3"/>
<rect x="54.70" y="426.40" width="14.70" height="9.60" fill="none" stroke="#8a8a8a" stroke-width="0.6"/>
<rect x="69.40" y="426.40" width="14.00" height="9.60" fill="none" stroke="#8a8a8a" stroke-width="0.6"/>
<rect x="69.40" y="436.00" width="14.00" height="12.40" fill="none" stroke="#8a8a8a" stroke-width="0.6"/>
<rect x="69.40" y="448.40" width="14.00" height="19.50" fill="none" stroke="#8a8a8a" stroke-width="0.6"/>
<line x1="69.4" y1="448.4" x2="83.4" y2="448.4" stroke="#333" stroke-width="0.7"/>
<text x="48.5" y="430.0" font-size="3.6" text-anchor="start" fill="#444">S1</text>
<text x="48.300000000000004" y="434.0" font-size="3.6" text-anchor="start" fill="#444">17.4</text>
<text x="86.0" y="430.0" font-size="3.6" text-anchor="start" fill="#444">S2</text>
<text x="85.80000000000001" y="434.0" font-size="3.6" text-anchor="start" fill="#444">4.07</text>
<text x="86.0" y="442.0" font-size="3.6" text-anchor="start" fill="#444">S3</text>
<text x="85.80000000000001" y="446.0" font-size="3.6" text-anchor="start" fill="#444">36.0</text>
<text x="86.0" y="457.0" font-size="3.6" text-anchor="start" fill="#444">S4</text>
<text x="85.80000000000001" y="461.0" font-size="3.6" text-anchor="start" fill="#444">41.6</text>
<rect x="46.10" y="425.30" width="47.00" height="47.20" fill="none" stroke="#333" stroke-width="1.3"/>
<rect x="105.90" y="426.40" width="14.70" height="9.60" fill="none" stroke="#8a8a8a" stroke-width="0.6"/>
<rect x="120.60" y="426.40" width="14.00" height="9.60" fill="none" stroke="#8a8a8a" stroke-width="0.6"/>
<rect x="120.60" y="436.00" width="14.00" height="12.40" fill="none" stroke="#8a8a8a" stroke-width="0.6"/>
<rect x="120.60" y="448.40" width="14.00" height="19.50" fill="none" stroke="#8a8a8a" stroke-width="0.6"/>
<line x1="120.60000000000001" y1="448.4" x2="134.60000000000002" y2="448.4" stroke="#333" stroke-width="0.7"/>
<text x="99.4" y="430.0" font-size="3.6" text-anchor="start" fill="#444">S1</text>
<text x="99.2" y="434.0" font-size="3.6" text-anchor="start" fill="#444">18.4</text>
<text x="137.20000000000002" y="430.0" font-size="3.6" text-anchor="start" fill="#444">S2</text>
<text x="137.00000000000003" y="434.0" font-size="3.6" text-anchor="start" fill="#444">5.56</text>
<text x="137.20000000000002" y="442.0" font-size="3.6" text-anchor="start" fill="#444">S3</text>
<text x="137.00000000000003" y="446.0" font-size="3.6" text-anchor="start" fill="#444">54.3</text>
<text x="137.20000000000002" y="457.0" font-size="3.6" text-anchor="start" fill="#444">S4</text>
<text x="137.00000000000003" y="461.0" font-size="3.6" text-anchor="start" fill="#444">20.6</text>
<rect x="97.00" y="425.30" width="46.80" height="46.80" fill="none" stroke="#333" stroke-width="1.3"/>
<g filter="url(#b35)" shape-rendering="crispEdges"><path fill="#d8dcf0" d="M75.9 45h3v1h-3zM73.9 46h6v1h-6zM71.9 47h2v1h-2zM78.9 47h1v1h-1zM70.9 48h2v1h-2zM78.9 48h1v1h-1zM68.9 49h2v1h-2zM78.9 49h1v1h-1zM67.9 50h2v1h-2zM78.9 50h1v1h-1zM66.9 51h2v1h-2zM78.9 51h1v1h-1zM65.9 52h2v1h-2zM78.9 52h1v1h-1zM64.9 53h2v1h-2zM77.9 53h1v1h-1zM63.9 54h2v1h-2zM77.9 54h1v1h-1zM62.9 55h2v1h-2zM77.9 55h1v1h-1zM61.9 56h2v1h-2zM76.9 56h1v1h-1zM61.9 57h1v1h-1zM76.9 57h1v1h-1zM60.9 58h1v1h-1zM75.9 58h1v1h-1zM59.9 59h2v1h-2zM74.9 59h1v1h-1zM58.9 60h2v1h-2zM74.9 60h1v1h-1zM58.9 61h1v1h-1zM73.9 61h1v1h-1zM57.9 62h1v1h-1zM72.9 62h1v1h-1zM56.9 63h1v1h-1zM71.9 63h1v1h-1zM55.9 64h1v1h-1zM70.9 64h2v1h-2zM54.9 65h1v1h-1zM69.9 65h2v1h-2zM53.9 66h1v1h-1zM68.9 66h2v1h-2zM67.9 67h2v1h-2zM52.9 68h1v1h-1zM66.9 68h2v1h-2zM52.9 69h1v1h-1zM65.9 69h2v1h-2zM52.9 70h1v1h-1zM64.9 70h2v1h-2zM52.9 71h1v1h-1zM62.9 71h2v1h-2zM52.9 72h1v1h-1zM61.9 72h2v1h-2zM53.9 73h1v1h-1zM60.9 73h2v1h-2zM53.9 74h7v1h-7zM55.9 75h3v1h-3z"/><path fill="#aab4e0" d="M73.9 47h5v1h-5zM72.9 48h1v1h-1zM77.9 48h1v1h-1zM70.9 49h2v1h-2zM77.9 49h1v1h-1zM69.9 50h1v1h-1zM77.9 50h1v1h-1zM68.9 51h1v1h-1zM77.9 51h1v1h-1zM67.9 52h1v1h-1zM77.9 52h1v1h-1zM66.9 53h1v1h-1zM65.9 54h1v1h-1zM76.9 54h1v1h-1zM64.9 55h1v1h-1zM76.9 55h1v1h-1zM63.9 56h1v1h-1zM75.9 56h1v1h-1zM62.9 57h1v1h-1zM75.9 57h1v1h-1zM61.9 58h1v1h-1zM74.9 58h1v1h-1zM61.9 59h1v1h-1zM60.9 60h1v1h-1zM73.9 60h1v1h-1zM59.9 61h1v1h-1zM72.9 61h1v1h-1zM58.9 62h1v1h-1zM71.9 62h1v1h-1zM57.9 63h2v1h-2zM70.9 63h1v1h-1zM56.9 64h2v1h-2zM69.9 64h1v1h-1zM55.9 65h1v1h-1zM68.9 65h1v1h-1zM54.9 66h1v1h-1zM67.9 66h1v1h-1zM53.9 67h1v1h-1zM66.9 67h1v1h-1zM65.9 68h1v1h-1zM63.9 69h2v1h-2zM62.9 70h2v1h-2zM61.9 71h1v1h-1zM53.9 72h1v1h-1zM60.9 72h1v1h-1zM54.9 73h2v1h-2zM58.9 73h2v1h-2z"/><path fill="#7c8ad0" d="M73.9 48h4v1h-4zM72.9 49h1v1h-1zM76.9 49h1v1h-1zM70.9 50h2v1h-2zM76.9 50h1v1h-1zM69.9 51h1v1h-1zM76.9 51h1v1h-1zM68.9 52h1v1h-1zM76.9 52h1v1h-1zM67.9 53h1v1h-1zM76.9 53h1v1h-1zM66.9 54h1v1h-1zM65.9 55h1v1h-1zM75.9 55h1v1h-1zM64.9 56h1v1h-1zM63.9 57h1v1h-1zM74.9 57h1v1h-1zM62.9 58h1v1h-1zM62.9 59h1v1h-1zM73.9 59h1v1h-1zM61.9 60h1v1h-1zM72.9 60h1v1h-1zM60.9 61h1v1h-1zM71.9 61h1v1h-1zM59.9 62h2v1h-2zM70.9 62h1v1h-1zM59.9 63h1v1h-1zM69.9 63h1v1h-1zM58.9 64h1v1h-1zM68.9 64h1v1h-1zM56.9 65h2v1h-2zM67.9 65h1v1h-1zM55.9 66h1v1h-1zM66.9 66h1v1h-1zM54.9 67h1v1h-1zM64.9 67h2v1h-2zM53.9 68h1v1h-1zM63.9 68h2v1h-2zM62.9 69h1v1h-1zM53.9 70h1v1h-1zM61.9 70h1v1h-1zM53.9 71h1v1h-1zM60.9 71h1v1h-1zM54.9 72h1v1h-1zM59.9 72h1v1h-1zM56.9 73h2v1h-2z"/><path fill="#5868c2" d="M73.9 49h3v1h-3zM72.9 50h2v1h-2zM75.9 50h1v1h-1zM70.9 51h2v1h-2zM75.9 51h1v1h-1zM69.9 52h2v1h-2zM75.9 52h1v1h-1zM68.9 53h1v1h-1zM75.9 53h1v1h-1zM67.9 54h2v1h-2zM75.9 54h1v1h-1zM66.9 55h2v1h-2zM65.9 56h2v1h-2zM74.9 56h1v1h-1zM64.9 57h2v1h-2zM73.9 57h1v1h-1zM63.9 58h2v1h-2zM73.9 58h1v1h-1zM63.9 59h1v1h-1zM72.9 59h1v1h-1zM62.9 60h1v1h-1zM71.9 60h1v1h-1zM61.9 61h2v1h-2zM70.9 61h1v1h-1zM61.9 62h1v1h-1zM69.9 62h1v1h-1zM60.9 63h2v1h-2zM68.9 63h1v1h-1zM59.9 64h2v1h-2zM66.9 64h2v1h-2zM58.9 65h1v1h-1zM65.9 65h2v1h-2zM56.9 66h2v1h-2zM63.9 66h3v1h-3zM55.9 67h1v1h-1zM62.9 67h2v1h-2zM61.9 68h2v1h-2zM53.9 69h1v1h-1zM60.9 69h2v1h-2zM60.9 70h1v1h-1zM59.9 71h1v1h-1zM55.9 72h1v1h-1zM58.9 72h1v1h-1z"/><path fill="#4658b6" d="M74.9 50h1v1h-1zM72.9 51h3v1h-3zM71.9 52h1v1h-1zM74.9 52h1v1h-1zM69.9 53h2v1h-2zM74.9 53h1v1h-1zM69.9 54h1v1h-1zM74.9 54h1v1h-1zM68.9 55h1v1h-1zM74.9 55h1v1h-1zM67.9 56h1v1h-1zM73.9 56h1v1h-1zM66.9 57h2v1h-2zM65.9 58h2v1h-2zM72.9 58h1v1h-1zM64.9 59h3v1h-3zM71.9 59h1v1h-1zM63.9 60h4v1h-4zM70.9 60h1v1h-1zM63.9 61h4v1h-4zM68.9 61h2v1h-2zM62.9 62h7v1h-7zM62.9 63h6v1h-6zM61.9 64h5v1h-5zM59.9 65h6v1h-6zM58.9 66h5v1h-5zM56.9 67h2v1h-2zM59.9 67h3v1h-3zM54.9 68h1v1h-1zM59.9 68h2v1h-2zM59.9 69h1v1h-1zM59.9 70h1v1h-1zM54.9 71h1v1h-1zM56.9 72h2v1h-2z"/><path fill="#3a7ab8" d="M72.9 52h2v1h-2zM71.9 53h1v1h-1zM73.9 53h1v1h-1zM70.9 54h1v1h-1zM73.9 54h1v1h-1zM69.9 55h1v1h-1zM73.9 55h1v1h-1zM68.9 56h1v1h-1zM68.9 57h1v1h-1zM72.9 57h1v1h-1zM67.9 58h2v1h-2zM71.9 58h1v1h-1zM67.9 59h2v1h-2zM70.9 59h1v1h-1zM67.9 60h3v1h-3zM67.9 61h1v1h-1zM58.9 67h1v1h-1zM58.9 68h1v1h-1zM54.9 70h1v1h-1zM58.9 71h1v1h-1z"/><path fill="#48a890" d="M72.9 53h1v1h-1zM71.9 54h2v1h-2zM70.9 55h3v1h-3zM69.9 56h4v1h-4zM69.9 57h3v1h-3zM69.9 58h2v1h-2zM69.9 59h1v1h-1zM55.9 68h1v1h-1zM57.9 68h1v1h-1zM54.9 69h1v1h-1zM58.9 69h1v1h-1zM58.9 70h1v1h-1zM55.9 71h1v1h-1z"/><path fill="#7cc04c" d="M56.9 68h1v1h-1zM56.9 71h2v1h-2z"/><path fill="#d8d838" d="M55.9 69h1v1h-1zM57.9 69h1v1h-1z"/><path fill="#f0a020" d="M56.9 69h1v1h-1zM55.9 70h1v1h-1zM57.9 70h1v1h-1z"/><path fill="#e0301a" d="M56.9 70h1v1h-1z"/></g>
<g opacity="0.75"><path fill="#4a58b8" d="M72.1 47.9h.8v.8h-.8zM69.6 48.4h.8v.8h-.8zM64.5 59.7h.8v.8h-.8zM73 44.5h.8v.8h-.8zM61.6 59.1h.8v.8h-.8zM60.9 50.6h.8v.8h-.8zM67.4 61.5h.8v.8h-.8zM68.4 63.2h.8v.8h-.8zM56.7 63.7h.8v.8h-.8zM57 70.4h.8v.8h-.8zM66.1 58.5h.8v.8h-.8zM68.8 51.2h.8v.8h-.8zM49.7 76.5h.8v.8h-.8zM71.4 36.8h.8v.8h-.8zM74.7 38.8h.8v.8h-.8zM61.4 66h.8v.8h-.8zM58.8 68.2h.8v.8h-.8zM74.6 58.7h.8v.8h-.8zM57.2 65h.8v.8h-.8zM55.4 76.2h.8v.8h-.8zM69.7 44.6h.8v.8h-.8zM70 57.3h.8v.8h-.8zM64.4 64.2h.8v.8h-.8zM61.7 58.1h.8v.8h-.8zM69.7 59.8h.8v.8h-.8zM55.5 62.4h.8v.8h-.8zM80.3 52.9h.8v.8h-.8zM68.5 58.7h.8v.8h-.8zM80.7 49.7h.8v.8h-.8zM63 59h.8v.8h-.8zM62.3 48.8h.8v.8h-.8zM53.9 64.6h.8v.8h-.8zM77.1 57.7h.8v.8h-.8zM69.9 51.7h.8v.8h-.8zM67.7 65.8h.8v.8h-.8zM62.9 70.7h.8v.8h-.8zM58.4 61.2h.8v.8h-.8zM58.5 61.5h.8v.8h-.8zM54.8 76.1h.8v.8h-.8z"/><path fill="#5b68c0" d="M62.6 61.2h.8v.8h-.8zM60.6 56.8h.8v.8h-.8zM68.2 54.9h.8v.8h-.8zM58.7 67.9h.8v.8h-.8zM71.8 33.5h.8v.8h-.8zM58.8 74.9h.8v.8h-.8zM77.9 46.4h.8v.8h-.8zM82.2 48.6h.8v.8h-.8zM75.8 44h.8v.8h-.8zM56.3 78.6h.8v.8h-.8zM80.8 47.7h.8v.8h-.8zM70.3 49h.8v.8h-.8zM66.5 57.6h.8v.8h-.8zM68.2 71.5h.8v.8h-.8zM66 53.3h.8v.8h-.8zM66.7 57.1h.8v.8h-.8zM79.8 43.7h.8v.8h-.8zM66.7 56.7h.8v.8h-.8zM79.3 55.7h.8v.8h-.8zM66.6 57.4h.8v.8h-.8zM50.3 75.4h.8v.8h-.8zM67.1 53.7h.8v.8h-.8zM74.5 56.2h.8v.8h-.8zM50.4 72h.8v.8h-.8zM60.2 68.7h.8v.8h-.8zM62.3 66.2h.8v.8h-.8zM79.2 39.4h.8v.8h-.8zM72.6 42.9h.8v.8h-.8zM59 57.4h.8v.8h-.8zM54.7 64.5h.8v.8h-.8zM85.7 48.1h.8v.8h-.8z"/><path fill="#3c4aa8" d="M72.6 61.9h.8v.8h-.8zM67.3 60.5h.8v.8h-.8zM59.5 68.3h.8v.8h-.8zM63.2 58.4h.8v.8h-.8zM62.3 58h.8v.8h-.8zM73.3 50h.8v.8h-.8zM47.8 70.5h.8v.8h-.8zM72.7 48.3h.8v.8h-.8zM61.1 43.5h.8v.8h-.8zM63.9 77.3h.8v.8h-.8zM68.3 56.9h.8v.8h-.8zM71.2 62.4h.8v.8h-.8zM71.3 58.1h.8v.8h-.8zM67.6 63.5h.8v.8h-.8zM63.6 60.4h.8v.8h-.8zM61.3 70.9h.8v.8h-.8zM57.9 73.1h.8v.8h-.8zM67.8 47.9h.8v.8h-.8zM73.6 52.5h.8v.8h-.8zM67.5 64.8h.8v.8h-.8zM64 68.1h.8v.8h-.8zM65.8 64.5h.8v.8h-.8zM78.7 47.7h.8v.8h-.8zM72.5 52.6h.8v.8h-.8zM72.2 49.3h.8v.8h-.8zM68.2 40.4h.8v.8h-.8zM72.1 63.4h.8v.8h-.8zM69 61.7h.8v.8h-.8zM77.3 39.5h.8v.8h-.8zM53.3 62.6h.8v.8h-.8zM69.8 51.1h.8v.8h-.8zM73.4 55.1h.8v.8h-.8zM75.9 49.6h.8v.8h-.8zM84.1 48h.8v.8h-.8zM86.9 44.5h.8v.8h-.8zM69.5 67.4h.8v.8h-.8zM86.9 45.6h.8v.8h-.8z"/><path fill="#7a86cc" d="M48.9 71.3h.8v.8h-.8zM69.5 61.6h.8v.8h-.8zM56.6 69.7h.8v.8h-.8zM56.4 74.8h.8v.8h-.8zM54.7 57.1h.8v.8h-.8zM61.3 66.4h.8v.8h-.8zM62.1 49.7h.8v.8h-.8zM67.8 60.8h.8v.8h-.8zM82.1 47.3h.8v.8h-.8zM67.7 57.1h.8v.8h-.8zM53 68.6h.8v.8h-.8zM80.2 37.7h.8v.8h-.8zM61.8 77.1h.8v.8h-.8zM78.8 48.1h.8v.8h-.8zM67.7 52.9h.8v.8h-.8zM69.8 60.5h.8v.8h-.8zM62.2 69.1h.8v.8h-.8zM67.7 58.7h.8v.8h-.8zM65.6 58.7h.8v.8h-.8zM66.4 64.9h.8v.8h-.8zM67 58.1h.8v.8h-.8zM67.6 55.5h.8v.8h-.8zM64.5 61.2h.8v.8h-.8zM52.5 69h.8v.8h-.8zM64.7 60.2h.8v.8h-.8zM59.8 74.1h.8v.8h-.8zM64.6 59.1h.8v.8h-.8zM79.4 51.7h.8v.8h-.8zM65.7 48.8h.8v.8h-.8zM56.7 70.4h.8v.8h-.8zM70.9 54.6h.8v.8h-.8zM58.6 62.7h.8v.8h-.8zM65.2 65.5h.8v.8h-.8zM69.3 38.6h.8v.8h-.8zM56.3 60h.8v.8h-.8zM75.5 56.2h.8v.8h-.8zM72.4 47.2h.8v.8h-.8zM60.8 64.4h.8v.8h-.8zM65.5 56.5h.8v.8h-.8zM55.9 74.7h.8v.8h-.8zM73.9 50.5h.8v.8h-.8zM65.9 62.6h.8v.8h-.8zM68.2 55.4h.8v.8h-.8zM60.5 60.3h.8v.8h-.8zM81.1 56.1h.8v.8h-.8zM73.7 44.8h.8v.8h-.8zM55 70.5h.8v.8h-.8zM72.2 55.5h.8v.8h-.8zM65.7 65.6h.8v.8h-.8z"/></g>
<g filter="url(#b35)" shape-rendering="crispEdges"><path fill="#d8dcf0" d="M129.1 45h7v1h-7zM126.1 46h5v1h-5zM134.1 46h2v1h-2zM124.1 47h5v1h-5zM135.1 47h2v1h-2zM123.1 48h5v1h-5zM136.1 48h2v1h-2zM122.1 49h4v1h-4zM136.1 49h2v1h-2zM121.1 50h3v1h-3zM136.1 50h2v1h-2zM120.1 51h3v1h-3zM136.1 51h3v1h-3zM119.1 52h3v1h-3zM137.1 52h2v1h-2zM118.1 53h3v1h-3zM137.1 53h2v1h-2zM117.1 54h3v1h-3zM137.1 54h2v1h-2zM117.1 55h2v1h-2zM137.1 55h2v1h-2zM116.1 56h3v1h-3zM137.1 56h2v1h-2zM116.1 57h2v1h-2zM137.1 57h2v1h-2zM115.1 58h3v1h-3zM136.1 58h3v1h-3zM115.1 59h2v1h-2zM136.1 59h3v1h-3zM115.1 60h2v1h-2zM136.1 60h2v1h-2zM114.1 61h3v1h-3zM136.1 61h2v1h-2zM114.1 62h2v1h-2zM135.1 62h3v1h-3zM113.1 63h3v1h-3zM135.1 63h2v1h-2zM111.1 64h4v1h-4zM134.1 64h3v1h-3zM110.1 65h2v1h-2zM134.1 65h2v1h-2zM109.1 66h2v1h-2zM133.1 66h3v1h-3zM109.1 67h1v1h-1zM133.1 67h2v1h-2zM109.1 68h1v1h-1zM132.1 68h3v1h-3zM131.1 69h3v1h-3zM109.1 70h1v1h-1zM130.1 70h3v1h-3zM109.1 71h1v1h-1zM129.1 71h3v1h-3zM110.1 72h1v1h-1zM127.1 72h4v1h-4zM112.1 73h2v1h-2zM116.1 73h5v1h-5zM124.1 73h6v1h-6zM114.1 74h14v1h-14zM117.1 75h10v1h-10zM120.1 76h3v1h-3z"/><path fill="#aab4e0" d="M131.1 46h3v1h-3zM129.1 47h3v1h-3zM134.1 47h1v1h-1zM128.1 48h2v1h-2zM135.1 48h1v1h-1zM126.1 49h3v1h-3zM135.1 49h1v1h-1zM124.1 50h4v1h-4zM135.1 50h1v1h-1zM123.1 51h4v1h-4zM135.1 51h1v1h-1zM122.1 52h4v1h-4zM135.1 52h2v1h-2zM121.1 53h3v1h-3zM135.1 53h2v1h-2zM120.1 54h3v1h-3zM135.1 54h2v1h-2zM119.1 55h3v1h-3zM135.1 55h2v1h-2zM119.1 56h2v1h-2zM135.1 56h2v1h-2zM118.1 57h3v1h-3zM135.1 57h2v1h-2zM118.1 58h2v1h-2zM134.1 58h2v1h-2zM117.1 59h3v1h-3zM134.1 59h2v1h-2zM117.1 60h2v1h-2zM134.1 60h2v1h-2zM117.1 61h2v1h-2zM133.1 61h3v1h-3zM116.1 62h3v1h-3zM133.1 62h2v1h-2zM116.1 63h3v1h-3zM132.1 63h3v1h-3zM115.1 64h4v1h-4zM132.1 64h2v1h-2zM112.1 65h6v1h-6zM131.1 65h3v1h-3zM111.1 66h1v1h-1zM130.1 66h3v1h-3zM110.1 67h1v1h-1zM130.1 67h3v1h-3zM128.1 68h4v1h-4zM109.1 69h1v1h-1zM127.1 69h4v1h-4zM119.1 70h11v1h-11zM110.1 71h1v1h-1zM118.1 71h11v1h-11zM111.1 72h1v1h-1zM116.1 72h11v1h-11zM114.1 73h2v1h-2zM121.1 73h3v1h-3z"/><path fill="#7c8ad0" d="M132.1 47h2v1h-2zM130.1 48h2v1h-2zM133.1 48h2v1h-2zM129.1 49h1v1h-1zM134.1 49h1v1h-1zM128.1 50h1v1h-1zM134.1 50h1v1h-1zM127.1 51h1v1h-1zM126.1 52h2v1h-2zM124.1 53h3v1h-3zM134.1 53h1v1h-1zM123.1 54h4v1h-4zM134.1 54h1v1h-1zM122.1 55h5v1h-5zM134.1 55h1v1h-1zM121.1 56h5v1h-5zM134.1 56h1v1h-1zM121.1 57h5v1h-5zM133.1 57h2v1h-2zM120.1 58h6v1h-6zM132.1 58h2v1h-2zM120.1 59h6v1h-6zM132.1 59h2v1h-2zM119.1 60h8v1h-8zM130.1 60h4v1h-4zM119.1 61h14v1h-14zM119.1 62h14v1h-14zM119.1 63h13v1h-13zM119.1 64h13v1h-13zM118.1 65h13v1h-13zM112.1 66h18v1h-18zM111.1 67h1v1h-1zM116.1 67h14v1h-14zM110.1 68h1v1h-1zM117.1 68h11v1h-11zM110.1 69h1v1h-1zM117.1 69h10v1h-10zM110.1 70h1v1h-1zM117.1 70h2v1h-2zM117.1 71h1v1h-1zM112.1 72h1v1h-1zM115.1 72h1v1h-1z"/><path fill="#5868c2" d="M132.1 48h1v1h-1zM130.1 49h4v1h-4zM129.1 50h1v1h-1zM133.1 50h1v1h-1zM128.1 51h1v1h-1zM134.1 51h1v1h-1zM128.1 52h1v1h-1zM134.1 52h1v1h-1zM127.1 53h2v1h-2zM127.1 54h1v1h-1zM133.1 54h1v1h-1zM127.1 55h1v1h-1zM133.1 55h1v1h-1zM126.1 56h2v1h-2zM132.1 56h2v1h-2zM126.1 57h3v1h-3zM131.1 57h2v1h-2zM126.1 58h6v1h-6zM126.1 59h6v1h-6zM127.1 60h3v1h-3zM112.1 67h4v1h-4zM115.1 68h2v1h-2zM116.1 69h1v1h-1zM116.1 70h1v1h-1zM111.1 71h1v1h-1zM116.1 71h1v1h-1zM113.1 72h2v1h-2z"/><path fill="#4658b6" d="M130.1 50h3v1h-3zM129.1 51h2v1h-2zM132.1 51h2v1h-2zM129.1 52h1v1h-1zM133.1 52h1v1h-1zM129.1 53h1v1h-1zM133.1 53h1v1h-1zM128.1 54h1v1h-1zM132.1 54h1v1h-1zM128.1 55h1v1h-1zM132.1 55h1v1h-1zM128.1 56h4v1h-4zM129.1 57h2v1h-2zM111.1 68h1v1h-1zM115.1 71h1v1h-1z"/><path fill="#3a7ab8" d="M131.1 51h1v1h-1zM130.1 52h3v1h-3zM130.1 53h3v1h-3zM129.1 54h3v1h-3zM129.1 55h3v1h-3zM112.1 68h1v1h-1zM114.1 68h1v1h-1zM111.1 69h1v1h-1zM115.1 69h1v1h-1zM111.1 70h1v1h-1zM112.1 71h1v1h-1z"/><path fill="#48a890" d="M113.1 68h1v1h-1zM115.1 70h1v1h-1zM114.1 71h1v1h-1z"/><path fill="#7cc04c" d="M114.1 69h1v1h-1zM113.1 71h1v1h-1z"/><path fill="#d8d838" d="M112.1 69h1v1h-1zM112.1 70h1v1h-1z"/><path fill="#f0a020" d="M113.1 69h1v1h-1zM114.1 70h1v1h-1z"/><path fill="#e0301a" d="M113.1 70h1v1h-1z"/></g>
<g opacity="0.75"><path fill="#4a58b8" d="M124.5 65.3h.8v.8h-.8zM124.2 55.1h.8v.8h-.8zM133.5 59.3h.8v.8h-.8zM138.9 56.5h.8v.8h-.8zM125.4 64h.8v.8h-.8zM121.1 55.8h.8v.8h-.8zM126.9 62.1h.8v.8h-.8zM105.2 76.5h.8v.8h-.8zM143 42.9h.8v.8h-.8zM131.7 51.1h.8v.8h-.8zM122.1 57.4h.8v.8h-.8zM138.8 42.2h.8v.8h-.8zM128.2 50.2h.8v.8h-.8zM129.3 57.6h.8v.8h-.8zM130.5 66.7h.8v.8h-.8zM131.4 52.9h.8v.8h-.8zM133.4 47.2h.8v.8h-.8zM109.9 63.4h.8v.8h-.8zM143.1 58.6h.8v.8h-.8zM115.8 75.9h.8v.8h-.8zM119 49.4h.8v.8h-.8zM144.2 45.6h.8v.8h-.8zM125.5 70.8h.8v.8h-.8zM119.5 65.7h.8v.8h-.8zM131.1 54.2h.8v.8h-.8zM144.7 63h.8v.8h-.8zM130.3 53h.8v.8h-.8zM133.6 72.5h.8v.8h-.8zM142.4 56.5h.8v.8h-.8zM127.4 40.9h.8v.8h-.8zM127.9 54.7h.8v.8h-.8zM149.3 48h.8v.8h-.8zM124.9 61.8h.8v.8h-.8zM118.3 54.6h.8v.8h-.8zM132.6 59.7h.8v.8h-.8zM104.6 62.5h.8v.8h-.8zM122.5 47.4h.8v.8h-.8zM118.8 65.3h.8v.8h-.8zM124.8 66.5h.8v.8h-.8zM133.1 62.1h.8v.8h-.8zM127.1 49.9h.8v.8h-.8zM113.5 70.1h.8v.8h-.8z"/><path fill="#5b68c0" d="M119.4 50.2h.8v.8h-.8zM120.6 69.5h.8v.8h-.8zM129.4 59h.8v.8h-.8zM133.3 67.8h.8v.8h-.8zM131.6 53.5h.8v.8h-.8zM129.9 65.5h.8v.8h-.8zM131.5 50.6h.8v.8h-.8zM129.4 59.3h.8v.8h-.8zM121.1 55.9h.8v.8h-.8zM139.6 68.3h.8v.8h-.8zM133.9 65.6h.8v.8h-.8zM124.2 65.3h.8v.8h-.8zM129.5 47.8h.8v.8h-.8zM147 42.6h.8v.8h-.8zM141.5 43.5h.8v.8h-.8zM127.1 61.1h.8v.8h-.8zM126.1 49.2h.8v.8h-.8zM120.8 66.8h.8v.8h-.8zM142.1 46.1h.8v.8h-.8zM123 79.1h.8v.8h-.8zM126.9 66.5h.8v.8h-.8zM111.5 78.9h.8v.8h-.8zM124.7 53.1h.8v.8h-.8zM117.6 66.3h.8v.8h-.8zM129.9 59.5h.8v.8h-.8zM135.7 59.5h.8v.8h-.8zM124 47.9h.8v.8h-.8zM126.3 62.6h.8v.8h-.8zM127.2 44.2h.8v.8h-.8zM127.3 57.2h.8v.8h-.8zM114.9 68.2h.8v.8h-.8zM116.6 57.4h.8v.8h-.8zM114.1 60.9h.8v.8h-.8zM124.7 64.7h.8v.8h-.8zM128 65.9h.8v.8h-.8zM124.3 62.5h.8v.8h-.8zM124.9 58.2h.8v.8h-.8zM119.7 73h.8v.8h-.8zM135.6 46.7h.8v.8h-.8zM118.1 64.8h.8v.8h-.8zM120.5 67.2h.8v.8h-.8zM118.5 60.2h.8v.8h-.8zM131.2 64.6h.8v.8h-.8zM119.4 65.2h.8v.8h-.8zM125.5 49h.8v.8h-.8zM127 57.1h.8v.8h-.8zM127.8 44.8h.8v.8h-.8zM129.4 55.2h.8v.8h-.8zM128.9 58.4h.8v.8h-.8zM131.9 57.4h.8v.8h-.8zM135.1 64.7h.8v.8h-.8zM128.2 75h.8v.8h-.8zM133.7 60.9h.8v.8h-.8zM126.6 67.9h.8v.8h-.8z"/><path fill="#3c4aa8" d="M121.4 47.1h.8v.8h-.8zM133.1 61h.8v.8h-.8zM138.7 73.7h.8v.8h-.8zM131.3 53.2h.8v.8h-.8zM135.2 53.7h.8v.8h-.8zM117.5 74.1h.8v.8h-.8zM131.4 65.8h.8v.8h-.8zM121 63.4h.8v.8h-.8zM145.8 50.8h.8v.8h-.8zM128 36.8h.8v.8h-.8zM123.1 70.7h.8v.8h-.8zM117.2 71.7h.8v.8h-.8zM129.3 56.1h.8v.8h-.8zM125.1 63.4h.8v.8h-.8zM125.2 68.8h.8v.8h-.8zM130.1 72.7h.8v.8h-.8zM122.2 52.4h.8v.8h-.8zM130.5 58.1h.8v.8h-.8zM132.3 76h.8v.8h-.8zM134.8 66h.8v.8h-.8zM115.3 62.6h.8v.8h-.8zM127.4 51.5h.8v.8h-.8zM138.1 59.8h.8v.8h-.8zM111 69.7h.8v.8h-.8zM127.5 45.8h.8v.8h-.8zM127.2 50.2h.8v.8h-.8zM129.6 60.1h.8v.8h-.8zM128.4 54.9h.8v.8h-.8zM129.4 59.4h.8v.8h-.8zM126 46.1h.8v.8h-.8zM123.3 66.5h.8v.8h-.8zM137.8 53.7h.8v.8h-.8zM138.3 68.7h.8v.8h-.8zM120.9 54.7h.8v.8h-.8zM116.5 67.6h.8v.8h-.8zM136.8 48.4h.8v.8h-.8zM115.6 49.2h.8v.8h-.8zM132 56h.8v.8h-.8zM129.2 79.5h.8v.8h-.8zM114.4 53.4h.8v.8h-.8zM131 71.2h.8v.8h-.8zM113.7 68h.8v.8h-.8zM148.4 48.1h.8v.8h-.8zM120.3 61.8h.8v.8h-.8zM113 67.3h.8v.8h-.8zM134 60.3h.8v.8h-.8zM129.6 56.5h.8v.8h-.8zM137.5 60h.8v.8h-.8z"/><path fill="#7a86cc" d="M129.6 62.3h.8v.8h-.8zM137.3 52.4h.8v.8h-.8zM122.9 66.9h.8v.8h-.8zM124.3 51h.8v.8h-.8zM124.8 69.3h.8v.8h-.8zM125.5 67.7h.8v.8h-.8zM129.4 64.9h.8v.8h-.8zM133.5 48.5h.8v.8h-.8zM123.1 68.4h.8v.8h-.8zM122.9 67.8h.8v.8h-.8zM128.8 69h.8v.8h-.8zM125.4 47.1h.8v.8h-.8zM113.9 72.8h.8v.8h-.8zM125.5 77.7h.8v.8h-.8zM137.7 58.3h.8v.8h-.8zM135.5 49.5h.8v.8h-.8zM136.4 53h.8v.8h-.8zM147 63.2h.8v.8h-.8zM134.3 64h.8v.8h-.8zM120.1 70.8h.8v.8h-.8zM107.4 69.1h.8v.8h-.8zM118.6 76.5h.8v.8h-.8zM118.7 71.7h.8v.8h-.8zM119.4 65.4h.8v.8h-.8zM120.1 54h.8v.8h-.8zM137.3 58.1h.8v.8h-.8zM127.9 76h.8v.8h-.8zM127.3 51.1h.8v.8h-.8zM130.2 52.3h.8v.8h-.8zM119.6 56.5h.8v.8h-.8zM143.6 57.1h.8v.8h-.8zM120.7 68.2h.8v.8h-.8zM129.3 68.6h.8v.8h-.8zM135.1 64.1h.8v.8h-.8zM128.2 48.7h.8v.8h-.8zM134.9 46h.8v.8h-.8zM132.2 70.5h.8v.8h-.8zM123.6 55h.8v.8h-.8zM134.8 62.6h.8v.8h-.8zM128.5 52.8h.8v.8h-.8zM134.1 37.7h.8v.8h-.8zM128.7 63.2h.8v.8h-.8zM109.5 64.2h.8v.8h-.8zM120.2 62h.8v.8h-.8zM125.9 74.1h.8v.8h-.8zM120 68.9h.8v.8h-.8zM130.7 45.7h.8v.8h-.8zM121.6 48.8h.8v.8h-.8zM133.6 36h.8v.8h-.8zM112 53.8h.8v.8h-.8z"/></g>
<g filter="url(#b35)" shape-rendering="crispEdges"><path fill="#d8dcf0" d="M64.9 123.1h5v1h-5zM62.9 124.1h7v1h-7zM46.9 125.1h3v1h-3zM67.9 125.1h3v1h-3zM68.9 126.1h2v1h-2zM69.9 127.1h1v1h-1zM68.9 128.1h2v1h-2zM66.9 129.1h2v1h-2zM48.9 130.1h4v1h-4zM59.9 130.1h4v1h-4z"/><path fill="#aab4e0" d="M49.9 125.1h4v1h-4zM58.9 125.1h9v1h-9zM45.9 126.1h1v1h-1zM67.9 126.1h1v1h-1zM67.9 127.1h2v1h-2zM66.9 128.1h2v1h-2zM45.9 129.1h2v1h-2zM64.9 129.1h2v1h-2zM52.9 130.1h7v1h-7z"/><path fill="#7c8ad0" d="M53.9 125.1h5v1h-5zM46.9 126.1h2v1h-2zM65.9 126.1h2v1h-2zM45.9 127.1h1v1h-1zM66.9 127.1h1v1h-1zM45.9 128.1h1v1h-1zM65.9 128.1h1v1h-1zM47.9 129.1h2v1h-2zM62.9 129.1h2v1h-2z"/><path fill="#5868c2" d="M48.9 126.1h2v1h-2zM61.9 126.1h4v1h-4zM46.9 127.1h1v1h-1zM64.9 127.1h2v1h-2zM46.9 128.1h2v1h-2zM63.9 128.1h2v1h-2zM49.9 129.1h3v1h-3zM58.9 129.1h4v1h-4z"/><path fill="#4658b6" d="M50.9 126.1h2v1h-2zM58.9 126.1h3v1h-3zM47.9 127.1h2v1h-2zM62.9 127.1h2v1h-2zM48.9 128.1h1v1h-1zM61.9 128.1h2v1h-2zM52.9 129.1h6v1h-6z"/><path fill="#3a7ab8" d="M52.9 126.1h6v1h-6zM49.9 127.1h1v1h-1zM60.9 127.1h2v1h-2zM49.9 128.1h1v1h-1zM60.9 128.1h1v1h-1z"/><path fill="#48a890" d="M50.9 127.1h1v1h-1zM58.9 127.1h2v1h-2zM50.9 128.1h2v1h-2zM57.9 128.1h3v1h-3z"/><path fill="#7cc04c" d="M51.9 127.1h3v1h-3zM56.9 127.1h2v1h-2zM52.9 128.1h5v1h-5z"/><path fill="#d8d838" d="M54.9 127.1h2v1h-2z"/></g>
<g opacity="0.75"><path fill="#4a58b8" d="M56 118h.8v.8h-.8zM52.8 115.5h.8v.8h-.8zM58.2 122.8h.8v.8h-.8zM72.6 115.9h.8v.8h-.8zM74.6 121.4h.8v.8h-.8zM55.8 120.2h.8v.8h-.8zM69.8 114.9h.8v.8h-.8zM72.9 113.7h.8v.8h-.8zM78.2 108.1h.8v.8h-.8zM77.8 111.8h.8v.8h-.8zM55.2 117.4h.8v.8h-.8zM79.9 117.3h.8v.8h-.8zM80.6 122h.8v.8h-.8zM89.4 118.4h.8v.8h-.8zM81.8 126.5h.8v.8h-.8zM76.8 121.8h.8v.8h-.8zM60.6 118.3h.8v.8h-.8zM78.4 106.2h.8v.8h-.8zM60.9 121.8h.8v.8h-.8zM79.7 113.1h.8v.8h-.8zM70.4 105.6h.8v.8h-.8zM70.2 124.6h.8v.8h-.8zM87.3 105.1h.8v.8h-.8zM77 115.4h.8v.8h-.8zM79.3 113.2h.8v.8h-.8zM69.1 113h.8v.8h-.8zM68.3 115.8h.8v.8h-.8zM76.2 112.2h.8v.8h-.8zM80.3 108.4h.8v.8h-.8zM69.5 120h.8v.8h-.8zM50.1 134.8h.8v.8h-.8z"/><path fill="#5b68c0" d="M75.7 101.7h.8v.8h-.8zM67 111.3h.8v.8h-.8zM83.4 101.2h.8v.8h-.8zM76.3 118.4h.8v.8h-.8zM75.4 108.8h.8v.8h-.8zM56.1 124.1h.8v.8h-.8zM91.9 121.3h.8v.8h-.8zM82.7 109.6h.8v.8h-.8zM78.7 112.8h.8v.8h-.8zM71.7 122.7h.8v.8h-.8zM73.1 111.6h.8v.8h-.8zM81.7 103.9h.8v.8h-.8zM73.2 123.1h.8v.8h-.8zM90.6 112.7h.8v.8h-.8zM79.8 108.6h.8v.8h-.8zM59.4 123.7h.8v.8h-.8zM70.7 115h.8v.8h-.8zM57.4 120.4h.8v.8h-.8zM71.6 120.9h.8v.8h-.8zM65.6 128.1h.8v.8h-.8zM85 113.4h.8v.8h-.8zM62.4 133.2h.8v.8h-.8zM73.2 117.5h.8v.8h-.8zM75.2 120.1h.8v.8h-.8zM66.3 130.2h.8v.8h-.8zM68.5 114.9h.8v.8h-.8zM61.6 133.2h.8v.8h-.8zM65.2 112.5h.8v.8h-.8zM61.6 117.9h.8v.8h-.8zM80.1 104.9h.8v.8h-.8zM73.3 109.4h.8v.8h-.8zM61.6 121.2h.8v.8h-.8zM80.5 107.1h.8v.8h-.8zM58.5 119.7h.8v.8h-.8zM70.9 124.8h.8v.8h-.8zM73.1 103h.8v.8h-.8zM59.2 113.4h.8v.8h-.8zM88.6 107h.8v.8h-.8zM78.2 116.8h.8v.8h-.8z"/><path fill="#3c4aa8" d="M90.9 99.2h.8v.8h-.8zM90.1 104.9h.8v.8h-.8zM69.8 123.8h.8v.8h-.8zM71 112.9h.8v.8h-.8zM79.5 120.1h.8v.8h-.8zM71.1 105.8h.8v.8h-.8zM89.2 106.6h.8v.8h-.8zM55.3 116.6h.8v.8h-.8zM65.7 113.9h.8v.8h-.8zM60.7 117.1h.8v.8h-.8zM80.9 118.3h.8v.8h-.8zM90.9 108.3h.8v.8h-.8zM61.8 112h.8v.8h-.8zM66.4 129.5h.8v.8h-.8zM73.4 109.6h.8v.8h-.8zM70.4 116.5h.8v.8h-.8zM71.1 122.4h.8v.8h-.8zM72.8 104.8h.8v.8h-.8zM72.5 125.4h.8v.8h-.8zM61 121.2h.8v.8h-.8zM77.8 102.8h.8v.8h-.8zM83.2 105.9h.8v.8h-.8zM85 112.6h.8v.8h-.8zM78.9 109.1h.8v.8h-.8zM72.7 107.9h.8v.8h-.8zM84.3 105.2h.8v.8h-.8zM64 118.1h.8v.8h-.8zM61.8 123.3h.8v.8h-.8zM78.9 108.8h.8v.8h-.8zM72.2 114.7h.8v.8h-.8zM77.3 112.7h.8v.8h-.8zM62.5 121.1h.8v.8h-.8zM70.9 114.9h.8v.8h-.8zM57.5 110.2h.8v.8h-.8zM68.8 114h.8v.8h-.8zM57.9 114.6h.8v.8h-.8zM49.2 133.2h.8v.8h-.8zM75.6 111.2h.8v.8h-.8zM84.5 116.5h.8v.8h-.8zM75.7 123.6h.8v.8h-.8zM69.8 122.2h.8v.8h-.8zM64.8 130h.8v.8h-.8zM77.9 105.9h.8v.8h-.8zM77.1 116.3h.8v.8h-.8zM78.7 116.3h.8v.8h-.8zM68 130h.8v.8h-.8zM60 115.1h.8v.8h-.8zM67.1 114.7h.8v.8h-.8z"/><path fill="#7a86cc" d="M63.7 133.5h.8v.8h-.8zM70.8 113.7h.8v.8h-.8zM71.8 130h.8v.8h-.8zM67.6 114.2h.8v.8h-.8zM79.7 108.2h.8v.8h-.8zM63.5 132.8h.8v.8h-.8zM79.4 114.9h.8v.8h-.8zM86.2 111.4h.8v.8h-.8zM73.3 107.2h.8v.8h-.8zM74 109h.8v.8h-.8zM82.1 107.6h.8v.8h-.8zM68.2 128.1h.8v.8h-.8zM66.7 132.3h.8v.8h-.8zM78.4 118.8h.8v.8h-.8zM72.7 118.7h.8v.8h-.8zM86 118.6h.8v.8h-.8zM65.1 136.9h.8v.8h-.8zM66.8 120.6h.8v.8h-.8zM73.3 104.4h.8v.8h-.8zM69.6 132.3h.8v.8h-.8zM51.9 139.6h.8v.8h-.8zM75 134.8h.8v.8h-.8zM74 116h.8v.8h-.8zM67.5 112.7h.8v.8h-.8zM80 111.8h.8v.8h-.8zM89.7 104.9h.8v.8h-.8zM56.2 120.1h.8v.8h-.8zM78.4 99.6h.8v.8h-.8zM72 116.6h.8v.8h-.8zM56.8 120.9h.8v.8h-.8zM75.5 111.1h.8v.8h-.8zM85.9 110h.8v.8h-.8zM74.4 111.3h.8v.8h-.8zM87.8 111.6h.8v.8h-.8zM72 101h.8v.8h-.8zM77.4 114.5h.8v.8h-.8zM81.2 126h.8v.8h-.8zM70.4 113.7h.8v.8h-.8zM72.5 111.7h.8v.8h-.8zM83.5 102.6h.8v.8h-.8zM55.8 115.7h.8v.8h-.8zM76.8 117.5h.8v.8h-.8zM83.2 108.2h.8v.8h-.8zM80 98.5h.8v.8h-.8zM83.8 103.1h.8v.8h-.8zM70.7 110h.8v.8h-.8zM74.7 126.9h.8v.8h-.8z"/></g>
<g filter="url(#b35)" shape-rendering="crispEdges"><path fill="#d8dcf0" d="M129 102.1h6v1h-6zM127 103.1h10v1h-10zM125 104.1h13v1h-13zM124 105.1h14v1h-14zM123 106.1h5v1h-5zM133 106.1h5v1h-5zM122 107.1h5v1h-5zM134 107.1h4v1h-4zM122 108.1h4v1h-4zM134 108.1h4v1h-4zM121 109.1h5v1h-5zM133 109.1h5v1h-5zM121 110.1h5v1h-5zM132 110.1h5v1h-5zM121 111.1h5v1h-5zM131 111.1h6v1h-6zM121 112.1h15v1h-15zM121 113.1h14v1h-14zM121 114.1h13v1h-13zM122 115.1h10v1h-10zM123 116.1h7v1h-7zM120 124.1h6v1h-6zM104 125.1h3v1h-3zM124 125.1h2v1h-2zM125 126.1h1v1h-1zM125 127.1h2v1h-2zM125 128.1h2v1h-2zM123 129.1h2v1h-2zM104 130.1h4v1h-4zM117 130.1h3v1h-3z"/><path fill="#aab4e0" d="M128 106.1h5v1h-5zM127 107.1h7v1h-7zM126 108.1h8v1h-8zM126 109.1h7v1h-7zM126 110.1h6v1h-6zM126 111.1h5v1h-5zM107 125.1h17v1h-17zM102 126.1h2v1h-2zM123 126.1h2v1h-2zM124 127.1h1v1h-1zM123 128.1h2v1h-2zM102 129.1h2v1h-2zM121 129.1h2v1h-2zM108 130.1h9v1h-9z"/><path fill="#7c8ad0" d="M104 126.1h2v1h-2zM121 126.1h2v1h-2zM102 127.1h1v1h-1zM123 127.1h1v1h-1zM102 128.1h1v1h-1zM122 128.1h1v1h-1zM104 129.1h2v1h-2zM119 129.1h2v1h-2z"/><path fill="#5868c2" d="M106 126.1h2v1h-2zM118 126.1h3v1h-3zM103 127.1h2v1h-2zM121 127.1h2v1h-2zM103 128.1h2v1h-2zM120 128.1h2v1h-2zM106 129.1h3v1h-3zM116 129.1h3v1h-3z"/><path fill="#4658b6" d="M108 126.1h2v1h-2zM115 126.1h3v1h-3zM105 127.1h1v1h-1zM119 127.1h2v1h-2zM105 128.1h2v1h-2zM119 128.1h1v1h-1zM109 129.1h7v1h-7z"/><path fill="#3a7ab8" d="M110 126.1h5v1h-5zM106 127.1h2v1h-2zM118 127.1h1v1h-1zM107 128.1h1v1h-1zM117 128.1h2v1h-2z"/><path fill="#48a890" d="M108 127.1h1v1h-1zM116 127.1h2v1h-2zM108 128.1h2v1h-2zM115 128.1h2v1h-2z"/><path fill="#7cc04c" d="M109 127.1h3v1h-3zM113 127.1h3v1h-3zM110 128.1h5v1h-5z"/><path fill="#d8d838" d="M112 127.1h1v1h-1z"/></g>
<g opacity="0.75"><path fill="#4a58b8" d="M134.8 101.6h.8v.8h-.8zM119.7 106.4h.8v.8h-.8zM130.4 103.5h.8v.8h-.8zM119.3 102.7h.8v.8h-.8zM117.6 115.5h.8v.8h-.8zM129.7 119.1h.8v.8h-.8zM134.1 111h.8v.8h-.8zM137.8 109.6h.8v.8h-.8zM117.4 121.4h.8v.8h-.8zM133.8 104.8h.8v.8h-.8zM143 104.4h.8v.8h-.8zM134.6 111.8h.8v.8h-.8zM124.5 109.9h.8v.8h-.8zM114.7 122h.8v.8h-.8zM126.2 107.8h.8v.8h-.8zM134.8 105.8h.8v.8h-.8zM130.3 108.3h.8v.8h-.8zM124 106.2h.8v.8h-.8zM138.6 104.1h.8v.8h-.8zM127.6 107.1h.8v.8h-.8zM120.3 105.9h.8v.8h-.8zM132.3 109.8h.8v.8h-.8zM138.7 114.2h.8v.8h-.8zM128.1 107.2h.8v.8h-.8zM118.2 121.9h.8v.8h-.8zM134 110h.8v.8h-.8zM144.8 115h.8v.8h-.8zM132.9 99.6h.8v.8h-.8zM129.3 101.6h.8v.8h-.8zM144.6 108.5h.8v.8h-.8zM127.9 107.9h.8v.8h-.8zM135.7 108.5h.8v.8h-.8zM124.1 119.9h.8v.8h-.8zM137.8 110h.8v.8h-.8zM111.8 114.5h.8v.8h-.8zM123.2 113.3h.8v.8h-.8zM130.8 110.8h.8v.8h-.8zM125.8 107.3h.8v.8h-.8zM134.3 100.2h.8v.8h-.8zM122.7 109.8h.8v.8h-.8zM138.8 107.7h.8v.8h-.8zM127.4 117.3h.8v.8h-.8zM129.7 110.9h.8v.8h-.8zM141.4 113.8h.8v.8h-.8zM118.8 121.1h.8v.8h-.8zM119.9 125.9h.8v.8h-.8zM125 119.4h.8v.8h-.8zM116.1 120h.8v.8h-.8zM121.6 121.7h.8v.8h-.8zM124.9 114h.8v.8h-.8zM112.5 127.1h.8v.8h-.8zM136.5 113.9h.8v.8h-.8zM139 131.8h.8v.8h-.8zM126.1 110h.8v.8h-.8zM119.5 122.5h.8v.8h-.8zM116.1 116.5h.8v.8h-.8zM134.9 106.4h.8v.8h-.8zM115.1 129.1h.8v.8h-.8zM124.5 125.8h.8v.8h-.8zM127.7 124.6h.8v.8h-.8zM123.2 119.9h.8v.8h-.8zM126.9 123.1h.8v.8h-.8zM131.5 114.1h.8v.8h-.8zM135.4 111h.8v.8h-.8zM129.3 120.9h.8v.8h-.8zM132.6 114.7h.8v.8h-.8zM128.6 123.9h.8v.8h-.8zM120 127.8h.8v.8h-.8z"/><path fill="#5b68c0" d="M128.3 108.3h.8v.8h-.8zM126.3 112.7h.8v.8h-.8zM137.4 102.1h.8v.8h-.8zM115.2 119.2h.8v.8h-.8zM117.5 116.6h.8v.8h-.8zM124.4 105.4h.8v.8h-.8zM119 119.5h.8v.8h-.8zM140.3 101.5h.8v.8h-.8zM109 107.7h.8v.8h-.8zM129.7 107.4h.8v.8h-.8zM127.6 114h.8v.8h-.8zM119.3 119.1h.8v.8h-.8zM133.5 117.8h.8v.8h-.8zM126.9 110.8h.8v.8h-.8zM128.7 111.8h.8v.8h-.8zM127 110.9h.8v.8h-.8zM120 103.8h.8v.8h-.8zM127.1 101.5h.8v.8h-.8zM144.1 102.2h.8v.8h-.8zM130.4 114h.8v.8h-.8zM114.6 114.8h.8v.8h-.8zM139.1 101.1h.8v.8h-.8zM136.6 119.5h.8v.8h-.8zM125.3 121h.8v.8h-.8zM131.2 112.7h.8v.8h-.8zM140.2 99.1h.8v.8h-.8zM128.1 115.5h.8v.8h-.8zM136.9 118.5h.8v.8h-.8zM140.5 108.6h.8v.8h-.8zM121.1 121.3h.8v.8h-.8zM129.8 111.7h.8v.8h-.8zM133.4 114.2h.8v.8h-.8zM133.1 112h.8v.8h-.8zM116.5 108.7h.8v.8h-.8zM121.3 99.4h.8v.8h-.8zM122.7 100.2h.8v.8h-.8zM133.2 109.2h.8v.8h-.8zM131.9 100.6h.8v.8h-.8zM117.8 101.4h.8v.8h-.8zM146.4 105.3h.8v.8h-.8zM136.3 119.9h.8v.8h-.8zM119.5 109.3h.8v.8h-.8zM125.5 119.9h.8v.8h-.8zM130.5 114.7h.8v.8h-.8zM119 122h.8v.8h-.8zM113.6 122.4h.8v.8h-.8zM121.5 120.3h.8v.8h-.8zM127.5 125h.8v.8h-.8zM127.9 117.7h.8v.8h-.8zM137 114.7h.8v.8h-.8zM117 119.6h.8v.8h-.8zM122.7 132.3h.8v.8h-.8zM122.2 117.8h.8v.8h-.8zM136.7 110.5h.8v.8h-.8zM132.3 119.9h.8v.8h-.8zM138.3 118.5h.8v.8h-.8zM131.9 112.1h.8v.8h-.8zM115.8 117.5h.8v.8h-.8zM127.5 115.5h.8v.8h-.8zM128.3 126.4h.8v.8h-.8zM111.9 119.5h.8v.8h-.8zM134.5 117.3h.8v.8h-.8zM118.7 122.3h.8v.8h-.8z"/><path fill="#3c4aa8" d="M121.4 107.1h.8v.8h-.8zM136.3 114.8h.8v.8h-.8zM126.5 117.4h.8v.8h-.8zM140.6 110.8h.8v.8h-.8zM132.6 112.2h.8v.8h-.8zM116.6 113.1h.8v.8h-.8zM125.3 118.8h.8v.8h-.8zM132.9 106h.8v.8h-.8zM138.9 105.4h.8v.8h-.8zM121.2 110.6h.8v.8h-.8zM122.1 113.8h.8v.8h-.8zM135 109.1h.8v.8h-.8zM138.7 113.5h.8v.8h-.8zM121.3 115.5h.8v.8h-.8zM119.7 116.8h.8v.8h-.8zM145.3 108.1h.8v.8h-.8zM125.1 109.2h.8v.8h-.8zM126 114h.8v.8h-.8zM122.1 103.3h.8v.8h-.8zM125 100.7h.8v.8h-.8zM129.3 111h.8v.8h-.8zM130.5 108.6h.8v.8h-.8zM128.6 111.8h.8v.8h-.8zM129.6 109.9h.8v.8h-.8zM140 109h.8v.8h-.8zM133.2 105.1h.8v.8h-.8zM131 118.7h.8v.8h-.8zM117.4 120.5h.8v.8h-.8zM112 107.9h.8v.8h-.8zM118.9 117.2h.8v.8h-.8zM138.7 111.3h.8v.8h-.8zM131.6 102.3h.8v.8h-.8zM127.8 98.2h.8v.8h-.8zM114.1 116.2h.8v.8h-.8zM131.4 110.8h.8v.8h-.8zM145.7 108.7h.8v.8h-.8zM118.6 117.2h.8v.8h-.8zM117.6 115.2h.8v.8h-.8zM129.8 117.2h.8v.8h-.8zM131.4 105.9h.8v.8h-.8zM126.6 112.8h.8v.8h-.8zM128.3 112.6h.8v.8h-.8zM124.3 114.6h.8v.8h-.8zM122.2 120.5h.8v.8h-.8zM121.5 121.6h.8v.8h-.8zM116.1 119.8h.8v.8h-.8zM125.2 118.5h.8v.8h-.8zM121.3 127.2h.8v.8h-.8zM131.1 115.8h.8v.8h-.8zM120.6 129.7h.8v.8h-.8zM112 117.7h.8v.8h-.8zM115.5 119.8h.8v.8h-.8zM133.9 128.6h.8v.8h-.8zM119.8 125.4h.8v.8h-.8zM133.5 122.5h.8v.8h-.8zM126.7 122.8h.8v.8h-.8zM124.7 120.2h.8v.8h-.8zM128.2 116.7h.8v.8h-.8zM118.7 118.5h.8v.8h-.8zM125.8 109.4h.8v.8h-.8zM120.7 122.1h.8v.8h-.8zM125.7 124.6h.8v.8h-.8zM127.4 126.7h.8v.8h-.8z"/><path fill="#7a86cc" d="M126.9 97.6h.8v.8h-.8zM129 111.5h.8v.8h-.8zM127.9 99h.8v.8h-.8zM123.3 109h.8v.8h-.8zM137.7 107.6h.8v.8h-.8zM134.8 99.6h.8v.8h-.8zM120.1 114.3h.8v.8h-.8zM145.4 98.5h.8v.8h-.8zM122.7 109.7h.8v.8h-.8zM120.9 107.3h.8v.8h-.8zM118.3 116.4h.8v.8h-.8zM128.4 120.4h.8v.8h-.8zM124.5 107h.8v.8h-.8zM123.1 106.7h.8v.8h-.8zM120 121.5h.8v.8h-.8zM127.5 108.6h.8v.8h-.8zM129.1 105.5h.8v.8h-.8zM131.4 117.1h.8v.8h-.8zM139.4 113.6h.8v.8h-.8zM119.8 112.8h.8v.8h-.8zM139 115.6h.8v.8h-.8zM123.5 98.2h.8v.8h-.8zM138.5 113.7h.8v.8h-.8zM130.3 109.8h.8v.8h-.8zM147.6 104.6h.8v.8h-.8zM123.1 108.3h.8v.8h-.8zM134.4 118.1h.8v.8h-.8zM117.3 112.6h.8v.8h-.8zM131.4 105.4h.8v.8h-.8zM139.5 110.9h.8v.8h-.8zM114.3 119.8h.8v.8h-.8zM136 116.7h.8v.8h-.8zM131.3 107.2h.8v.8h-.8zM109.2 119.1h.8v.8h-.8zM127.9 121.2h.8v.8h-.8zM132.8 98.2h.8v.8h-.8zM129.5 106h.8v.8h-.8zM111.9 115.5h.8v.8h-.8zM121.3 111.1h.8v.8h-.8zM132.7 105.4h.8v.8h-.8zM126 109h.8v.8h-.8zM142.9 109.2h.8v.8h-.8zM133 109.4h.8v.8h-.8zM126 105.6h.8v.8h-.8zM126.4 102.1h.8v.8h-.8zM109.1 121.1h.8v.8h-.8zM119.4 128h.8v.8h-.8zM124.4 127.7h.8v.8h-.8zM121.5 126.5h.8v.8h-.8zM123.8 117.8h.8v.8h-.8zM120.9 110.2h.8v.8h-.8zM115.9 118.2h.8v.8h-.8zM112.6 126.2h.8v.8h-.8zM114.7 116.5h.8v.8h-.8zM111.2 118.3h.8v.8h-.8zM120.2 125.5h.8v.8h-.8zM130.1 112.7h.8v.8h-.8z"/></g>
<rect x="49.80" y="63.20" width="11.00" height="14.20" fill="none" stroke="#8c8c8c" stroke-width="0.6"/>
<rect x="63.10" y="48.80" width="15.50" height="12.90" fill="none" stroke="#8c8c8c" stroke-width="0.6"/>
<rect x="62.80" y="62.60" width="15.80" height="14.80" fill="none" stroke="#8c8c8c" stroke-width="0.6"/>
<rect x="106.20" y="63.20" width="10.40" height="14.20" fill="none" stroke="#8c8c8c" stroke-width="0.6"/>
<rect x="119.50" y="48.80" width="16.10" height="12.90" fill="none" stroke="#8c8c8c" stroke-width="0.6"/>
<rect x="119.50" y="62.60" width="16.10" height="14.80" fill="none" stroke="#8c8c8c" stroke-width="0.6"/>
<rect x="47.50" y="116.60" width="17.70" height="16.80" fill="none" stroke="#8c8c8c" stroke-width="0.6"/>
<rect x="65.20" y="102.50" width="18.40" height="14.10" fill="none" stroke="#8c8c8c" stroke-width="0.6"/>
<rect x="65.20" y="116.60" width="18.40" height="16.80" fill="none" stroke="#8c8c8c" stroke-width="0.6"/>
<rect x="104.20" y="117.30" width="17.30" height="16.10" fill="none" stroke="#8c8c8c" stroke-width="0.6"/>
<rect x="121.50" y="103.10" width="17.90" height="14.20" fill="none" stroke="#8c8c8c" stroke-width="0.6"/>
<rect x="121.50" y="117.30" width="17.90" height="16.10" fill="none" stroke="#8c8c8c" stroke-width="0.6"/>
<line x1="65.2" y1="116.6" x2="65.2" y2="133.4" stroke="#222" stroke-width="0.8"/>
<line x1="121.5" y1="117.3" x2="121.5" y2="133.4" stroke="#222" stroke-width="0.8"/>
<text x="49.8" y="54.5" font-size="3.6" text-anchor="start" fill="#444">MEP</text>
<text x="50.4" y="58.5" font-size="3.6" text-anchor="start" fill="#444">41.1</text>
<text x="81.6" y="54.5" font-size="3.6" text-anchor="start" fill="#444">GMP</text>
<text x="82.19999999999999" y="58.5" font-size="3.6" text-anchor="start" fill="#444">28.1</text>
<text x="81.6" y="70.0" font-size="3.6" text-anchor="start" fill="#444">CMP</text>
<text x="82.19999999999999" y="74.0" font-size="3.6" text-anchor="start" fill="#444">20.2</text>
<text x="106.0" y="54.5" font-size="3.6" text-anchor="start" fill="#444">MEP</text>
<text x="106.6" y="58.5" font-size="3.6" text-anchor="start" fill="#444">29.3</text>
<text x="138.0" y="54.5" font-size="3.6" text-anchor="start" fill="#444">GMP</text>
<text x="138.6" y="58.5" font-size="3.6" text-anchor="start" fill="#444">45.0</text>
<text x="138.0" y="70.0" font-size="3.6" text-anchor="start" fill="#444">CMP</text>
<text x="138.6" y="74.0" font-size="3.6" text-anchor="start" fill="#444">14.7</text>
<text x="50.3" y="104.8" font-size="3.6" text-anchor="start" fill="#444">MEP</text>
<text x="50.9" y="108.8" font-size="3.6" text-anchor="start" fill="#444">87.0</text>
<text x="85.4" y="102.8" font-size="3.6" text-anchor="start" fill="#444">GMP</text>
<text x="86.0" y="106.8" font-size="3.6" text-anchor="start" fill="#444">2.77</text>
<text x="85.4" y="119.4" font-size="3.6" text-anchor="start" fill="#444">CMP</text>
<text x="86.0" y="123.4" font-size="3.6" text-anchor="start" fill="#444">8.17</text>
<text x="107.5" y="104.8" font-size="3.6" text-anchor="start" fill="#444">MEP</text>
<text x="108.1" y="108.8" font-size="3.6" text-anchor="start" fill="#444">69.9</text>
<text x="141.0" y="102.8" font-size="3.6" text-anchor="start" fill="#444">GMP</text>
<text x="141.6" y="106.8" font-size="3.6" text-anchor="start" fill="#444">14.8</text>
<text x="141.0" y="119.4" font-size="3.6" text-anchor="start" fill="#444">CMP</text>
<text x="141.6" y="123.4" font-size="3.6" text-anchor="start" fill="#444">10.2</text>
<rect x="45.20" y="32.30" width="49.20" height="49.30" fill="none" stroke="#333" stroke-width="1.3"/>
<rect x="101.40" y="32.30" width="49.80" height="49.30" fill="none" stroke="#333" stroke-width="1.3"/>
<rect x="45.20" y="95.40" width="49.20" height="49.20" fill="none" stroke="#333" stroke-width="1.3"/>
<rect x="101.30" y="95.40" width="49.90" height="49.20" fill="none" stroke="#333" stroke-width="1.3"/>
<g filter="url(#b35)" shape-rendering="crispEdges"><path fill="#d8dcf0" d="M69.8 531h3v1h-3zM70.8 532h2v1h-2zM70.8 533h2v1h-2zM52.8 534h1v1h-1zM70.8 534h2v1h-2zM52.8 535h1v1h-1zM69.8 535h2v1h-2zM52.8 536h1v1h-1zM68.8 536h2v1h-2zM52.8 537h1v1h-1zM68.8 537h1v1h-1zM67.8 538h1v1h-1zM66.8 539h2v1h-2zM64.8 540h3v1h-3zM63.8 541h2v1h-2zM62.8 542h2v1h-2zM61.8 543h2v1h-2zM61.8 544h2v1h-2zM60.8 545h3v1h-3zM53.8 546h1v1h-1zM60.8 546h2v1h-2zM53.8 547h1v1h-1zM60.8 547h2v1h-2zM53.8 548h1v1h-1zM59.8 548h3v1h-3zM53.8 549h1v1h-1zM59.8 549h3v1h-3zM53.8 550h1v1h-1zM59.8 550h2v1h-2zM53.8 551h1v1h-1zM59.8 551h1v1h-1zM53.8 552h1v1h-1zM59.8 552h1v1h-1zM53.8 553h1v1h-1zM53.8 554h1v1h-1zM58.8 555h1v1h-1zM58.8 556h1v1h-1zM58.8 557h1v1h-1zM58.8 558h1v1h-1zM58.8 559h1v1h-1zM58.8 560h1v1h-1zM58.8 561h1v1h-1zM58.8 562h1v1h-1zM58.8 563h1v1h-1zM58.8 564h1v1h-1zM58.8 565h1v1h-1zM54.8 566h1v1h-1zM54.8 567h1v1h-1zM57.8 567h1v1h-1zM55.8 568h2v1h-2zM56.8 569h1v1h-1z"/><path fill="#aab4e0" d="M53.8 531h1v1h-1zM67.8 531h2v1h-2zM53.8 532h1v1h-1zM68.8 532h2v1h-2zM53.8 533h1v1h-1zM69.8 533h1v1h-1zM68.8 534h2v1h-2zM68.8 535h1v1h-1zM67.8 536h1v1h-1zM66.8 537h2v1h-2zM65.8 538h2v1h-2zM64.8 539h2v1h-2zM53.8 540h1v1h-1zM62.8 540h2v1h-2zM53.8 541h1v1h-1zM61.8 541h2v1h-2zM53.8 542h1v1h-1zM60.8 542h2v1h-2zM53.8 543h1v1h-1zM59.8 543h2v1h-2zM53.8 544h1v1h-1zM59.8 544h2v1h-2zM53.8 545h1v1h-1zM59.8 545h1v1h-1zM59.8 546h1v1h-1zM59.8 547h1v1h-1zM58.8 551h1v1h-1zM58.8 552h1v1h-1zM58.8 553h1v1h-1zM58.8 554h1v1h-1zM54.8 555h1v1h-1zM54.8 556h1v1h-1zM54.8 557h1v1h-1zM54.8 558h1v1h-1zM57.8 558h1v1h-1zM54.8 559h1v1h-1zM57.8 559h1v1h-1zM54.8 560h1v1h-1zM54.8 561h1v1h-1zM54.8 565h1v1h-1zM57.8 566h1v1h-1zM55.8 567h2v1h-2z"/><path fill="#7c8ad0" d="M59.8 531h8v1h-8zM60.8 532h1v1h-1zM65.8 532h3v1h-3zM66.8 533h3v1h-3zM53.8 534h1v1h-1zM66.8 534h2v1h-2zM53.8 535h1v1h-1zM65.8 535h3v1h-3zM53.8 536h1v1h-1zM64.8 536h3v1h-3zM53.8 537h1v1h-1zM63.8 537h3v1h-3zM53.8 538h1v1h-1zM62.8 538h3v1h-3zM53.8 539h1v1h-1zM60.8 539h4v1h-4zM60.8 540h2v1h-2zM59.8 541h2v1h-2zM59.8 542h1v1h-1zM58.8 545h1v1h-1zM58.8 546h1v1h-1zM58.8 547h1v1h-1zM58.8 548h1v1h-1zM54.8 549h1v1h-1zM58.8 549h1v1h-1zM54.8 550h1v1h-1zM58.8 550h1v1h-1zM54.8 551h1v1h-1zM54.8 552h1v1h-1zM54.8 553h1v1h-1zM57.8 553h1v1h-1zM54.8 554h1v1h-1zM57.8 554h1v1h-1zM55.8 555h1v1h-1zM57.8 555h1v1h-1zM55.8 556h3v1h-3zM55.8 557h3v1h-3zM55.8 558h2v1h-2zM55.8 559h2v1h-2zM55.8 560h3v1h-3zM57.8 561h1v1h-1zM54.8 562h1v1h-1zM57.8 562h1v1h-1zM54.8 563h1v1h-1zM54.8 564h1v1h-1zM57.8 564h1v1h-1zM57.8 565h1v1h-1zM55.8 566h2v1h-2z"/><path fill="#5868c2" d="M54.8 531h1v1h-1zM58.8 531h1v1h-1zM59.8 532h1v1h-1zM61.8 532h4v1h-4zM59.8 533h7v1h-7zM60.8 534h6v1h-6zM60.8 535h5v1h-5zM60.8 536h4v1h-4zM60.8 537h3v1h-3zM59.8 538h3v1h-3zM59.8 539h1v1h-1zM59.8 540h1v1h-1zM58.8 542h1v1h-1zM58.8 543h1v1h-1zM54.8 544h1v1h-1zM58.8 544h1v1h-1zM54.8 545h1v1h-1zM54.8 546h1v1h-1zM54.8 547h1v1h-1zM54.8 548h1v1h-1zM57.8 548h1v1h-1zM57.8 549h1v1h-1zM55.8 550h1v1h-1zM57.8 550h1v1h-1zM55.8 551h3v1h-3zM55.8 552h3v1h-3zM55.8 553h2v1h-2zM55.8 554h2v1h-2zM56.8 555h1v1h-1zM55.8 561h2v1h-2zM55.8 562h1v1h-1zM57.8 563h1v1h-1zM55.8 565h2v1h-2z"/><path fill="#4658b6" d="M54.8 532h1v1h-1zM58.8 532h1v1h-1zM54.8 533h1v1h-1zM59.8 534h1v1h-1zM59.8 535h1v1h-1zM59.8 536h1v1h-1zM59.8 537h1v1h-1zM54.8 540h1v1h-1zM58.8 540h1v1h-1zM54.8 541h1v1h-1zM58.8 541h1v1h-1zM54.8 542h1v1h-1zM54.8 543h1v1h-1zM57.8 544h1v1h-1zM57.8 545h1v1h-1zM57.8 546h1v1h-1zM55.8 547h1v1h-1zM57.8 547h1v1h-1zM55.8 548h2v1h-2zM55.8 549h2v1h-2zM56.8 550h1v1h-1zM56.8 562h1v1h-1zM55.8 563h2v1h-2zM55.8 564h2v1h-2z"/><path fill="#3a7ab8" d="M55.8 531h1v1h-1zM57.8 531h1v1h-1zM58.8 533h1v1h-1zM54.8 534h1v1h-1zM58.8 534h1v1h-1zM54.8 535h1v1h-1zM54.8 536h1v1h-1zM54.8 537h1v1h-1zM54.8 538h1v1h-1zM58.8 538h1v1h-1zM54.8 539h1v1h-1zM58.8 539h1v1h-1zM57.8 542h1v1h-1zM57.8 543h1v1h-1zM55.8 544h1v1h-1zM55.8 545h2v1h-2zM55.8 546h2v1h-2zM56.8 547h1v1h-1z"/><path fill="#48a890" d="M56.8 531h1v1h-1zM55.8 532h1v1h-1zM57.8 532h1v1h-1zM58.8 535h1v1h-1zM58.8 536h1v1h-1zM58.8 537h1v1h-1zM57.8 541h1v1h-1zM55.8 542h1v1h-1zM55.8 543h2v1h-2zM56.8 544h1v1h-1z"/><path fill="#7cc04c" d="M56.8 532h1v1h-1zM55.8 533h1v1h-1zM57.8 533h1v1h-1zM57.8 539h1v1h-1zM55.8 540h1v1h-1zM57.8 540h1v1h-1zM55.8 541h2v1h-2zM56.8 542h1v1h-1z"/><path fill="#d8d838" d="M55.8 534h1v1h-1zM57.8 534h1v1h-1zM57.8 537h1v1h-1zM55.8 538h1v1h-1zM57.8 538h1v1h-1zM55.8 539h1v1h-1zM56.8 540h1v1h-1z"/><path fill="#f0a020" d="M56.8 533h1v1h-1zM56.8 534h1v1h-1zM55.8 535h1v1h-1zM57.8 535h1v1h-1zM55.8 536h1v1h-1zM57.8 536h1v1h-1zM55.8 537h1v1h-1zM56.8 538h1v1h-1zM56.8 539h1v1h-1z"/><path fill="#e0301a" d="M56.8 535h1v1h-1zM56.8 536h1v1h-1zM56.8 537h1v1h-1z"/></g>
<g opacity="0.75"><path fill="#4a58b8" d="M67.5 539.1h.8v.8h-.8zM53.9 534.8h.8v.8h-.8zM60.3 533h.8v.8h-.8zM60.1 537.9h.8v.8h-.8zM62.8 536.9h.8v.8h-.8zM64.8 537.3h.8v.8h-.8zM66.6 546.8h.8v.8h-.8zM64.7 533.6h.8v.8h-.8zM67.2 537.3h.8v.8h-.8zM66.4 533.2h.8v.8h-.8zM59.9 534.2h.8v.8h-.8zM63.2 539.6h.8v.8h-.8zM68 540.6h.8v.8h-.8zM70.5 533.3h.8v.8h-.8zM59.5 542.4h.8v.8h-.8zM67.5 533.7h.8v.8h-.8zM63.4 537.5h.8v.8h-.8zM55.2 540.1h.8v.8h-.8zM67.1 540.1h.8v.8h-.8zM58.3 547.6h.8v.8h-.8zM60.7 538.4h.8v.8h-.8zM60.8 545.5h.8v.8h-.8zM60.1 541.8h.8v.8h-.8zM61.7 555.3h.8v.8h-.8zM63.6 557.7h.8v.8h-.8zM61.1 563.8h.8v.8h-.8zM59.7 560.5h.8v.8h-.8z"/><path fill="#5b68c0" d="M54.7 539.6h.8v.8h-.8zM66.4 541.8h.8v.8h-.8zM60.1 532h.8v.8h-.8zM65.2 537.5h.8v.8h-.8zM55.1 540.1h.8v.8h-.8zM62.9 533.3h.8v.8h-.8zM58.4 539.7h.8v.8h-.8zM64.1 534.8h.8v.8h-.8zM64.9 534.4h.8v.8h-.8zM61 537.9h.8v.8h-.8zM69.5 540.1h.8v.8h-.8zM68.6 541.2h.8v.8h-.8zM66.1 534.9h.8v.8h-.8zM62.7 539.9h.8v.8h-.8zM63.6 534.4h.8v.8h-.8zM61.9 546.6h.8v.8h-.8zM62.4 537.5h.8v.8h-.8zM62.8 542.3h.8v.8h-.8zM71.2 536.2h.8v.8h-.8zM67.9 538.6h.8v.8h-.8zM59.4 534h.8v.8h-.8zM68.2 541.7h.8v.8h-.8zM65.1 539.9h.8v.8h-.8zM60.3 535.1h.8v.8h-.8zM58.6 544.8h.8v.8h-.8zM64.1 551.9h.8v.8h-.8zM63.2 547.4h.8v.8h-.8zM54.8 546.1h.8v.8h-.8zM56.9 557.3h.8v.8h-.8zM56.9 552.2h.8v.8h-.8z"/><path fill="#3c4aa8" d="M57 532.5h.8v.8h-.8zM61 538.5h.8v.8h-.8zM63.6 544.6h.8v.8h-.8zM68.6 540.3h.8v.8h-.8zM64.6 543.9h.8v.8h-.8zM66 537h.8v.8h-.8zM70.2 540h.8v.8h-.8zM58.1 536.4h.8v.8h-.8zM64 537.7h.8v.8h-.8zM58 555.4h.8v.8h-.8zM58.2 561.2h.8v.8h-.8zM60.4 548.6h.8v.8h-.8zM57.1 553.1h.8v.8h-.8zM60.8 554.7h.8v.8h-.8zM58 556h.8v.8h-.8zM62.7 548.8h.8v.8h-.8zM58.7 555.8h.8v.8h-.8z"/><path fill="#7a86cc" d="M57.9 538.7h.8v.8h-.8zM59.9 534.5h.8v.8h-.8zM56.2 542h.8v.8h-.8zM50.4 539.3h.8v.8h-.8zM63.7 537.7h.8v.8h-.8zM63.8 536.4h.8v.8h-.8zM59.7 539.1h.8v.8h-.8zM66.7 537.6h.8v.8h-.8zM68.7 537.4h.8v.8h-.8zM62.1 533h.8v.8h-.8zM54.6 541.6h.8v.8h-.8zM64 535.3h.8v.8h-.8zM66.3 538.3h.8v.8h-.8zM54.5 531.7h.8v.8h-.8zM71 537.8h.8v.8h-.8zM68.2 532.7h.8v.8h-.8zM69.8 532.1h.8v.8h-.8zM71 534.3h.8v.8h-.8zM66.3 536.4h.8v.8h-.8zM64.1 533h.8v.8h-.8zM60.3 537h.8v.8h-.8zM62.3 534.5h.8v.8h-.8zM59.8 554h.8v.8h-.8zM55.1 552.7h.8v.8h-.8zM59.1 537.6h.8v.8h-.8zM64.4 558h.8v.8h-.8zM59.5 552.2h.8v.8h-.8z"/></g>
<g filter="url(#b35)" shape-rendering="crispEdges"><path fill="#d8dcf0" d="M104 531h1v1h-1zM110 531h1v1h-1zM104 532h1v1h-1zM110 532h1v1h-1zM110 533h1v1h-1zM110 534h1v1h-1zM111 537h1v1h-1zM111 538h1v1h-1zM111 539h1v1h-1zM111 540h1v1h-1zM111 541h1v1h-1zM111 542h1v1h-1zM111 543h2v1h-2zM111 544h2v1h-2zM111 545h2v1h-2zM104 546h1v1h-1zM112 546h1v1h-1zM104 547h1v1h-1zM112 547h1v1h-1zM104 548h1v1h-1zM112 548h1v1h-1zM104 549h1v1h-1zM112 549h1v1h-1zM104 550h1v1h-1zM111 550h2v1h-2zM104 551h1v1h-1zM111 551h2v1h-2zM104 552h1v1h-1zM111 552h2v1h-2zM104 553h1v1h-1zM111 553h1v1h-1zM104 554h1v1h-1zM111 554h1v1h-1zM104 555h1v1h-1zM111 555h1v1h-1zM104 556h1v1h-1zM111 556h1v1h-1zM111 557h1v1h-1zM110 558h1v1h-1zM110 559h1v1h-1zM110 560h1v1h-1zM110 561h1v1h-1zM110 562h1v1h-1zM109 565h1v1h-1zM109 566h1v1h-1zM105 567h1v1h-1zM109 567h1v1h-1zM105 568h1v1h-1zM109 568h1v1h-1zM106 569h1v1h-1zM108 569h1v1h-1zM106 570h3v1h-3zM107 571h2v1h-2zM107 572h1v1h-1z"/><path fill="#aab4e0" d="M104 533h1v1h-1zM104 534h1v1h-1zM104 535h1v1h-1zM110 535h1v1h-1zM104 536h1v1h-1zM110 536h1v1h-1zM104 537h1v1h-1zM110 537h1v1h-1zM104 538h1v1h-1zM110 538h1v1h-1zM104 539h1v1h-1zM110 539h1v1h-1zM104 540h1v1h-1zM104 541h1v1h-1zM104 542h1v1h-1zM104 543h1v1h-1zM104 544h1v1h-1zM104 545h1v1h-1zM111 546h1v1h-1zM111 547h1v1h-1zM111 548h1v1h-1zM111 549h1v1h-1zM110 553h1v1h-1zM110 554h1v1h-1zM110 555h1v1h-1zM110 556h1v1h-1zM105 557h1v1h-1zM110 557h1v1h-1zM105 558h1v1h-1zM105 559h1v1h-1zM105 560h1v1h-1zM105 561h1v1h-1zM109 561h1v1h-1zM105 562h1v1h-1zM109 562h1v1h-1zM105 563h1v1h-1zM109 563h1v1h-1zM105 564h1v1h-1zM109 564h1v1h-1zM105 565h1v1h-1zM105 566h1v1h-1zM108 566h1v1h-1zM106 567h1v1h-1zM108 567h1v1h-1zM106 568h3v1h-3zM107 569h1v1h-1z"/><path fill="#7c8ad0" d="M105 531h1v1h-1zM109 531h1v1h-1zM109 532h1v1h-1zM109 533h1v1h-1zM110 540h1v1h-1zM110 541h1v1h-1zM110 542h1v1h-1zM110 543h1v1h-1zM110 544h1v1h-1zM110 545h1v1h-1zM110 546h1v1h-1zM110 547h1v1h-1zM105 548h1v1h-1zM110 548h1v1h-1zM105 549h1v1h-1zM110 549h1v1h-1zM105 550h1v1h-1zM110 550h1v1h-1zM105 551h1v1h-1zM110 551h1v1h-1zM105 552h1v1h-1zM110 552h1v1h-1zM105 553h1v1h-1zM105 554h1v1h-1zM105 555h1v1h-1zM105 556h1v1h-1zM109 556h1v1h-1zM109 557h1v1h-1zM109 558h1v1h-1zM106 559h1v1h-1zM109 559h1v1h-1zM106 560h1v1h-1zM109 560h1v1h-1zM106 561h1v1h-1zM108 561h1v1h-1zM106 562h1v1h-1zM108 562h1v1h-1zM108 563h1v1h-1zM108 564h1v1h-1zM108 565h1v1h-1zM106 566h2v1h-2zM107 567h1v1h-1z"/><path fill="#5868c2" d="M108 531h1v1h-1zM105 532h1v1h-1zM105 533h1v1h-1zM105 534h1v1h-1zM109 534h1v1h-1zM109 535h1v1h-1zM109 536h1v1h-1zM109 537h1v1h-1zM109 538h1v1h-1zM105 543h1v1h-1zM105 544h1v1h-1zM105 545h1v1h-1zM105 546h1v1h-1zM105 547h1v1h-1zM109 547h1v1h-1zM109 548h1v1h-1zM106 549h1v1h-1zM109 549h1v1h-1zM106 550h1v1h-1zM109 550h1v1h-1zM106 551h1v1h-1zM109 551h1v1h-1zM106 552h1v1h-1zM109 552h1v1h-1zM106 553h1v1h-1zM109 553h1v1h-1zM106 554h4v1h-4zM106 555h4v1h-4zM106 556h3v1h-3zM106 557h3v1h-3zM106 558h3v1h-3zM107 559h2v1h-2zM107 560h2v1h-2zM107 561h1v1h-1zM107 562h1v1h-1zM106 563h2v1h-2zM106 564h2v1h-2zM106 565h2v1h-2z"/><path fill="#4658b6" d="M106 531h2v1h-2zM106 532h1v1h-1zM108 532h1v1h-1zM108 533h1v1h-1zM105 535h1v1h-1zM105 536h1v1h-1zM105 537h1v1h-1zM105 538h1v1h-1zM105 539h1v1h-1zM109 539h1v1h-1zM105 540h1v1h-1zM109 540h1v1h-1zM105 541h1v1h-1zM109 541h1v1h-1zM105 542h1v1h-1zM109 542h1v1h-1zM109 543h1v1h-1zM109 544h1v1h-1zM106 545h1v1h-1zM108 545h2v1h-2zM106 546h4v1h-4zM106 547h3v1h-3zM106 548h3v1h-3zM107 549h2v1h-2zM107 550h2v1h-2zM107 551h2v1h-2zM107 552h2v1h-2zM107 553h2v1h-2z"/><path fill="#3a7ab8" d="M107 532h1v1h-1zM106 533h1v1h-1zM108 534h1v1h-1zM108 535h1v1h-1zM108 541h1v1h-1zM108 542h1v1h-1zM106 543h1v1h-1zM108 543h1v1h-1zM106 544h3v1h-3zM107 545h1v1h-1z"/><path fill="#48a890" d="M107 533h1v1h-1zM106 534h2v1h-2zM106 535h1v1h-1zM108 536h1v1h-1zM108 537h1v1h-1zM108 538h1v1h-1zM108 539h1v1h-1zM106 540h1v1h-1zM108 540h1v1h-1zM106 541h2v1h-2zM106 542h2v1h-2zM107 543h1v1h-1z"/><path fill="#7cc04c" d="M107 535h1v1h-1zM106 536h2v1h-2zM106 537h2v1h-2zM106 538h2v1h-2zM106 539h2v1h-2zM107 540h1v1h-1z"/></g>
<g opacity="0.75"><path fill="#4a58b8" d="M110.6 538.3h.8v.8h-.8zM116.7 553.1h.8v.8h-.8zM112.3 544.9h.8v.8h-.8zM108.2 545.2h.8v.8h-.8zM113.8 549.4h.8v.8h-.8zM112 542.6h.8v.8h-.8zM108.3 548.1h.8v.8h-.8zM112.2 542.6h.8v.8h-.8zM114.1 560.4h.8v.8h-.8zM115.3 547.9h.8v.8h-.8zM111.3 547.8h.8v.8h-.8zM112.2 540h.8v.8h-.8zM116 540.2h.8v.8h-.8z"/><path fill="#5b68c0" d="M110.3 553.2h.8v.8h-.8zM113.7 537.7h.8v.8h-.8zM114.2 553.2h.8v.8h-.8zM106.5 544.1h.8v.8h-.8zM117.7 545.6h.8v.8h-.8zM111.4 544.6h.8v.8h-.8zM110.6 554.4h.8v.8h-.8zM114.3 544.6h.8v.8h-.8zM111.5 547.4h.8v.8h-.8zM113.1 536.3h.8v.8h-.8zM110.1 558.5h.8v.8h-.8z"/><path fill="#3c4aa8" d="M108 549.8h.8v.8h-.8zM112.3 548.9h.8v.8h-.8zM119.4 543.7h.8v.8h-.8zM111.7 546h.8v.8h-.8zM109.4 547.4h.8v.8h-.8zM117.8 542.5h.8v.8h-.8zM112 551.8h.8v.8h-.8zM117.1 541h.8v.8h-.8zM113.3 545.2h.8v.8h-.8zM111.4 546.4h.8v.8h-.8zM111.5 542.9h.8v.8h-.8zM111.5 544.2h.8v.8h-.8zM111.1 548.5h.8v.8h-.8zM115.9 540.1h.8v.8h-.8zM111.1 546.6h.8v.8h-.8zM110.3 536.7h.8v.8h-.8z"/><path fill="#7a86cc" d="M108.1 549.2h.8v.8h-.8zM111.2 544.3h.8v.8h-.8zM106.9 546.8h.8v.8h-.8zM118.8 560.3h.8v.8h-.8zM110.9 547.9h.8v.8h-.8zM110.5 540.5h.8v.8h-.8zM110.4 553.7h.8v.8h-.8zM117 550.5h.8v.8h-.8zM112.6 548.4h.8v.8h-.8zM111.4 556.6h.8v.8h-.8zM112.5 571h.8v.8h-.8zM110.7 543.7h.8v.8h-.8zM109.4 548.5h.8v.8h-.8zM115.1 544.8h.8v.8h-.8zM110.2 550.7h.8v.8h-.8zM115.9 546.6h.8v.8h-.8zM114.9 542.9h.8v.8h-.8zM109.6 564.6h.8v.8h-.8zM111 545.2h.8v.8h-.8zM110.4 535.7h.8v.8h-.8z"/></g>
<g filter="url(#b35)" shape-rendering="crispEdges"><path fill="#d8dcf0" d="M53.8 579.8h1v1h-1zM70.8 579.8h2v1h-2zM71.8 580.8h2v1h-2zM52.8 581.8h1v1h-1zM71.8 581.8h2v1h-2zM52.8 582.8h1v1h-1zM71.8 582.8h1v1h-1zM52.8 583.8h1v1h-1zM70.8 583.8h2v1h-2zM52.8 584.8h1v1h-1zM69.8 584.8h2v1h-2zM52.8 585.8h1v1h-1zM68.8 585.8h2v1h-2zM52.8 586.8h1v1h-1zM67.8 586.8h2v1h-2zM66.8 587.8h2v1h-2zM64.8 588.8h3v1h-3zM53.8 589.8h1v1h-1zM63.8 589.8h2v1h-2zM53.8 590.8h1v1h-1zM62.8 590.8h2v1h-2zM53.8 591.8h1v1h-1zM61.8 591.8h2v1h-2zM53.8 592.8h1v1h-1zM61.8 592.8h2v1h-2zM53.8 593.8h1v1h-1zM60.8 593.8h3v1h-3zM53.8 594.8h1v1h-1zM60.8 594.8h2v1h-2zM53.8 595.8h1v1h-1zM59.8 595.8h3v1h-3zM59.8 596.8h3v1h-3zM59.8 597.8h3v1h-3zM59.8 598.8h2v1h-2zM59.8 599.8h1v1h-1zM58.8 602.8h1v1h-1zM58.8 603.8h1v1h-1zM58.8 604.8h1v1h-1zM58.8 605.8h1v1h-1zM58.8 606.8h1v1h-1zM53.8 609.8h1v1h-1zM53.8 610.8h1v1h-1zM59.8 610.8h1v1h-1zM53.8 611.8h1v1h-1zM59.8 611.8h1v1h-1zM53.8 612.8h1v1h-1zM58.8 614.8h1v1h-1zM54.8 615.8h1v1h-1zM58.8 615.8h1v1h-1zM57.8 616.8h1v1h-1zM55.8 617.8h3v1h-3zM55.8 618.8h2v1h-2zM56.8 619.8h1v1h-1z"/><path fill="#aab4e0" d="M68.8 579.8h2v1h-2zM53.8 580.8h1v1h-1zM69.8 580.8h2v1h-2zM53.8 581.8h1v1h-1zM69.8 581.8h2v1h-2zM69.8 582.8h2v1h-2zM69.8 583.8h1v1h-1zM68.8 584.8h1v1h-1zM66.8 585.8h2v1h-2zM53.8 586.8h1v1h-1zM65.8 586.8h2v1h-2zM53.8 587.8h1v1h-1zM64.8 587.8h2v1h-2zM53.8 588.8h1v1h-1zM62.8 588.8h2v1h-2zM60.8 589.8h3v1h-3zM59.8 590.8h3v1h-3zM59.8 591.8h2v1h-2zM59.8 592.8h2v1h-2zM59.8 593.8h1v1h-1zM59.8 594.8h1v1h-1zM58.8 595.8h1v1h-1zM58.8 596.8h1v1h-1zM58.8 597.8h1v1h-1zM54.8 598.8h1v1h-1zM58.8 598.8h1v1h-1zM54.8 599.8h1v1h-1zM58.8 599.8h1v1h-1zM54.8 600.8h1v1h-1zM58.8 600.8h1v1h-1zM54.8 601.8h1v1h-1zM58.8 601.8h1v1h-1zM54.8 602.8h1v1h-1zM54.8 603.8h1v1h-1zM54.8 604.8h1v1h-1zM54.8 605.8h1v1h-1zM54.8 606.8h1v1h-1zM54.8 607.8h1v1h-1zM58.8 607.8h1v1h-1zM58.8 608.8h1v1h-1zM58.8 609.8h1v1h-1zM58.8 612.8h1v1h-1zM54.8 613.8h1v1h-1zM58.8 613.8h1v1h-1zM54.8 614.8h1v1h-1zM55.8 615.8h1v1h-1zM57.8 615.8h1v1h-1zM55.8 616.8h2v1h-2z"/><path fill="#7c8ad0" d="M54.8 579.8h1v1h-1zM59.8 579.8h9v1h-9zM67.8 580.8h2v1h-2zM68.8 581.8h1v1h-1zM53.8 582.8h1v1h-1zM67.8 582.8h2v1h-2zM53.8 583.8h1v1h-1zM67.8 583.8h2v1h-2zM53.8 584.8h1v1h-1zM65.8 584.8h3v1h-3zM53.8 585.8h1v1h-1zM64.8 585.8h2v1h-2zM62.8 586.8h3v1h-3zM60.8 587.8h4v1h-4zM59.8 588.8h3v1h-3zM59.8 589.8h1v1h-1zM54.8 590.8h1v1h-1zM58.8 590.8h1v1h-1zM54.8 591.8h1v1h-1zM58.8 591.8h1v1h-1zM54.8 592.8h1v1h-1zM58.8 592.8h1v1h-1zM54.8 593.8h1v1h-1zM58.8 593.8h1v1h-1zM54.8 594.8h1v1h-1zM58.8 594.8h1v1h-1zM54.8 595.8h1v1h-1zM54.8 596.8h1v1h-1zM54.8 597.8h1v1h-1zM57.8 598.8h1v1h-1zM55.8 599.8h1v1h-1zM57.8 599.8h1v1h-1zM55.8 600.8h1v1h-1zM57.8 600.8h1v1h-1zM55.8 601.8h1v1h-1zM57.8 601.8h1v1h-1zM55.8 602.8h3v1h-3zM55.8 603.8h3v1h-3zM55.8 604.8h3v1h-3zM55.8 605.8h1v1h-1zM57.8 605.8h1v1h-1zM55.8 606.8h1v1h-1zM57.8 606.8h1v1h-1zM57.8 607.8h1v1h-1zM54.8 608.8h1v1h-1zM54.8 609.8h1v1h-1zM54.8 610.8h1v1h-1zM58.8 610.8h1v1h-1zM54.8 611.8h1v1h-1zM58.8 611.8h1v1h-1zM54.8 612.8h1v1h-1zM55.8 614.8h1v1h-1zM57.8 614.8h1v1h-1zM56.8 615.8h1v1h-1z"/><path fill="#5868c2" d="M58.8 579.8h1v1h-1zM54.8 580.8h1v1h-1zM59.8 580.8h8v1h-8zM60.8 581.8h8v1h-8zM60.8 582.8h7v1h-7zM60.8 583.8h7v1h-7zM60.8 584.8h5v1h-5zM60.8 585.8h4v1h-4zM59.8 586.8h3v1h-3zM59.8 587.8h1v1h-1zM54.8 588.8h1v1h-1zM54.8 589.8h1v1h-1zM58.8 589.8h1v1h-1zM55.8 591.8h1v1h-1zM57.8 591.8h1v1h-1zM55.8 592.8h3v1h-3zM55.8 593.8h3v1h-3zM55.8 594.8h3v1h-3zM55.8 595.8h3v1h-3zM55.8 596.8h3v1h-3zM55.8 597.8h3v1h-3zM55.8 598.8h2v1h-2zM56.8 599.8h1v1h-1zM56.8 600.8h1v1h-1zM56.8 601.8h1v1h-1zM56.8 605.8h1v1h-1zM56.8 606.8h1v1h-1zM55.8 607.8h2v1h-2zM55.8 608.8h1v1h-1zM57.8 608.8h1v1h-1zM55.8 613.8h1v1h-1zM57.8 613.8h1v1h-1zM56.8 614.8h1v1h-1z"/><path fill="#4658b6" d="M55.8 579.8h1v1h-1zM57.8 579.8h1v1h-1zM58.8 580.8h1v1h-1zM54.8 581.8h1v1h-1zM59.8 581.8h1v1h-1zM54.8 582.8h1v1h-1zM59.8 582.8h1v1h-1zM59.8 583.8h1v1h-1zM59.8 584.8h1v1h-1zM59.8 585.8h1v1h-1zM54.8 586.8h1v1h-1zM54.8 587.8h1v1h-1zM58.8 587.8h1v1h-1zM58.8 588.8h1v1h-1zM55.8 589.8h1v1h-1zM57.8 589.8h1v1h-1zM55.8 590.8h3v1h-3zM56.8 591.8h1v1h-1zM56.8 608.8h1v1h-1zM55.8 609.8h1v1h-1zM57.8 609.8h1v1h-1zM55.8 610.8h1v1h-1zM57.8 610.8h1v1h-1zM55.8 611.8h1v1h-1zM57.8 611.8h1v1h-1zM55.8 612.8h1v1h-1zM57.8 612.8h1v1h-1zM56.8 613.8h1v1h-1z"/><path fill="#3a7ab8" d="M56.8 579.8h1v1h-1zM58.8 581.8h1v1h-1zM54.8 583.8h1v1h-1zM54.8 584.8h1v1h-1zM54.8 585.8h1v1h-1zM58.8 586.8h1v1h-1zM55.8 588.8h1v1h-1zM57.8 588.8h1v1h-1zM56.8 589.8h1v1h-1zM56.8 609.8h1v1h-1zM56.8 610.8h1v1h-1zM56.8 611.8h1v1h-1zM56.8 612.8h1v1h-1z"/><path fill="#48a890" d="M55.8 580.8h1v1h-1zM57.8 580.8h1v1h-1zM58.8 582.8h1v1h-1zM58.8 583.8h1v1h-1zM58.8 584.8h1v1h-1zM58.8 585.8h1v1h-1zM55.8 587.8h1v1h-1zM56.8 588.8h1v1h-1z"/><path fill="#7cc04c" d="M56.8 580.8h1v1h-1zM55.8 581.8h1v1h-1zM57.8 581.8h1v1h-1zM55.8 586.8h1v1h-1zM56.8 587.8h2v1h-2z"/><path fill="#d8d838" d="M56.8 581.8h1v1h-1zM55.8 582.8h1v1h-1zM57.8 582.8h1v1h-1zM55.8 583.8h1v1h-1zM55.8 584.8h1v1h-1zM55.8 585.8h1v1h-1zM57.8 585.8h1v1h-1zM56.8 586.8h2v1h-2z"/><path fill="#f0a020" d="M56.8 582.8h1v1h-1zM57.8 583.8h1v1h-1zM57.8 584.8h1v1h-1zM56.8 585.8h1v1h-1z"/><path fill="#e0301a" d="M56.8 583.8h1v1h-1zM56.8 584.8h1v1h-1z"/></g>
<g opacity="0.75"><path fill="#4a58b8" d="M61.8 583.8h.8v.8h-.8zM66.8 586.4h.8v.8h-.8zM74.4 585.6h.8v.8h-.8zM57.3 590.5h.8v.8h-.8zM63.4 583h.8v.8h-.8zM63.1 588.5h.8v.8h-.8zM59.7 581.6h.8v.8h-.8zM74.1 584.5h.8v.8h-.8zM53.4 584.8h.8v.8h-.8zM64.6 589h.8v.8h-.8zM65.5 589.9h.8v.8h-.8zM61.5 590.5h.8v.8h-.8zM67 585.3h.8v.8h-.8zM74.8 591.4h.8v.8h-.8zM65.9 590.1h.8v.8h-.8zM63.6 590.2h.8v.8h-.8zM65.4 585.4h.8v.8h-.8zM63.6 586.1h.8v.8h-.8zM64.7 585.1h.8v.8h-.8zM64.2 604.9h.8v.8h-.8zM59.1 606.8h.8v.8h-.8zM60.1 599.4h.8v.8h-.8zM60.1 606.1h.8v.8h-.8zM60.2 605.9h.8v.8h-.8zM59.4 588.4h.8v.8h-.8zM60.9 590.5h.8v.8h-.8zM59.1 592.1h.8v.8h-.8zM58.1 602.8h.8v.8h-.8z"/><path fill="#5b68c0" d="M63.5 592.7h.8v.8h-.8zM59.3 580.7h.8v.8h-.8zM72.4 585.4h.8v.8h-.8zM55.7 588.6h.8v.8h-.8zM57.2 584.2h.8v.8h-.8zM56 585.2h.8v.8h-.8zM57.8 583.2h.8v.8h-.8zM57.8 590.9h.8v.8h-.8zM63.7 582.6h.8v.8h-.8zM73.5 586.2h.8v.8h-.8zM71.8 591.3h.8v.8h-.8zM70.6 587.5h.8v.8h-.8zM65.7 585.7h.8v.8h-.8zM69.4 582.6h.8v.8h-.8zM73.5 580.6h.8v.8h-.8zM58.4 592.5h.8v.8h-.8zM67.9 586.9h.8v.8h-.8zM61.6 587.6h.8v.8h-.8zM59.7 585.3h.8v.8h-.8zM57.6 586.6h.8v.8h-.8zM62.7 599.4h.8v.8h-.8zM59.9 601.5h.8v.8h-.8zM59.4 596.7h.8v.8h-.8zM58.3 606.4h.8v.8h-.8zM61.3 600.2h.8v.8h-.8z"/><path fill="#3c4aa8" d="M60.3 585.4h.8v.8h-.8zM70.9 580.2h.8v.8h-.8zM73.3 583.6h.8v.8h-.8zM58.8 581.1h.8v.8h-.8zM63.1 588.7h.8v.8h-.8zM63.9 590.9h.8v.8h-.8zM63.6 582.7h.8v.8h-.8zM67.1 594.3h.8v.8h-.8zM57.6 583.1h.8v.8h-.8zM61.2 585.6h.8v.8h-.8zM67.4 588.6h.8v.8h-.8zM63.6 591.9h.8v.8h-.8zM61.3 591.6h.8v.8h-.8zM66.8 586.5h.8v.8h-.8zM66.2 587.6h.8v.8h-.8zM59.5 585.2h.8v.8h-.8zM64.5 586.7h.8v.8h-.8zM66.1 581.7h.8v.8h-.8zM67.8 584.7h.8v.8h-.8zM69.9 589.5h.8v.8h-.8zM59.7 591.1h.8v.8h-.8zM55.8 592h.8v.8h-.8zM61.7 586.6h.8v.8h-.8zM62.2 595.1h.8v.8h-.8zM60.5 582.8h.8v.8h-.8z"/><path fill="#7a86cc" d="M61.5 588.5h.8v.8h-.8zM61.7 587.4h.8v.8h-.8zM63.1 583.8h.8v.8h-.8zM65 591.1h.8v.8h-.8zM61.9 584h.8v.8h-.8zM66.7 584.4h.8v.8h-.8zM56.2 583.3h.8v.8h-.8zM69 586.1h.8v.8h-.8zM57.7 584h.8v.8h-.8zM65.1 580.2h.8v.8h-.8zM47.9 590.2h.8v.8h-.8zM61.7 589.2h.8v.8h-.8zM56.7 586.3h.8v.8h-.8zM51.7 584.8h.8v.8h-.8zM57.4 599.7h.8v.8h-.8zM49 593h.8v.8h-.8zM61.3 587.4h.8v.8h-.8zM65.8 590h.8v.8h-.8zM60.8 608.6h.8v.8h-.8zM58.3 590.6h.8v.8h-.8zM63.9 606.6h.8v.8h-.8zM58 593h.8v.8h-.8zM61.5 593.5h.8v.8h-.8zM61.5 587.4h.8v.8h-.8z"/></g>
<g filter="url(#b35)" shape-rendering="crispEdges"><path fill="#d8dcf0" d="M104 579.8h1v1h-1zM110 579.8h1v1h-1zM104 580.8h1v1h-1zM110 580.8h1v1h-1zM104 581.8h1v1h-1zM110 581.8h1v1h-1zM110 582.8h1v1h-1zM111 587.8h1v1h-1zM111 588.8h1v1h-1zM111 589.8h1v1h-1zM111 590.8h1v1h-1zM111 591.8h1v1h-1zM104 592.8h1v1h-1zM111 592.8h1v1h-1zM104 593.8h1v1h-1zM111 593.8h1v1h-1zM104 594.8h1v1h-1zM111 594.8h1v1h-1zM104 595.8h1v1h-1zM111 595.8h1v1h-1zM104 596.8h1v1h-1zM111 596.8h1v1h-1zM104 597.8h1v1h-1zM111 597.8h1v1h-1zM104 598.8h1v1h-1zM111 598.8h1v1h-1zM104 599.8h1v1h-1zM111 599.8h1v1h-1zM104 600.8h1v1h-1zM111 600.8h1v1h-1zM104 601.8h1v1h-1zM111 601.8h1v1h-1zM104 602.8h1v1h-1zM111 602.8h1v1h-1zM104 603.8h1v1h-1zM104 604.8h1v1h-1zM104 605.8h1v1h-1zM104 606.8h1v1h-1zM110 606.8h1v1h-1zM104 607.8h1v1h-1zM110 607.8h1v1h-1zM110 608.8h1v1h-1zM110 609.8h1v1h-1zM110 610.8h1v1h-1zM110 611.8h1v1h-1zM104 612.8h1v1h-1zM104 613.8h1v1h-1zM109 614.8h1v1h-1zM105 615.8h1v1h-1zM109 615.8h1v1h-1zM105 616.8h1v1h-1zM109 616.8h1v1h-1zM106 617.8h1v1h-1zM109 617.8h1v1h-1zM106 618.8h1v1h-1zM108 618.8h1v1h-1zM106 619.8h3v1h-3zM106 620.8h3v1h-3zM107 621.8h1v1h-1z"/><path fill="#aab4e0" d="M109 579.8h1v1h-1zM104 582.8h1v1h-1zM104 583.8h1v1h-1zM110 583.8h1v1h-1zM104 584.8h1v1h-1zM110 584.8h1v1h-1zM104 585.8h1v1h-1zM110 585.8h1v1h-1zM104 586.8h1v1h-1zM110 586.8h1v1h-1zM104 587.8h1v1h-1zM110 587.8h1v1h-1zM104 588.8h1v1h-1zM110 588.8h1v1h-1zM104 589.8h1v1h-1zM110 589.8h1v1h-1zM104 590.8h1v1h-1zM104 591.8h1v1h-1zM110 599.8h1v1h-1zM110 600.8h1v1h-1zM110 601.8h1v1h-1zM110 602.8h1v1h-1zM110 603.8h1v1h-1zM110 604.8h1v1h-1zM110 605.8h1v1h-1zM104 608.8h1v1h-1zM104 609.8h1v1h-1zM104 610.8h1v1h-1zM104 611.8h1v1h-1zM109 611.8h1v1h-1zM109 612.8h1v1h-1zM109 613.8h1v1h-1zM105 614.8h1v1h-1zM106 615.8h1v1h-1zM108 615.8h1v1h-1zM106 616.8h3v1h-3zM107 617.8h2v1h-2zM107 618.8h1v1h-1z"/><path fill="#7c8ad0" d="M105 579.8h1v1h-1zM105 580.8h1v1h-1zM109 580.8h1v1h-1zM109 581.8h1v1h-1zM109 582.8h1v1h-1zM110 590.8h1v1h-1zM110 591.8h1v1h-1zM110 592.8h1v1h-1zM110 593.8h1v1h-1zM110 594.8h1v1h-1zM105 595.8h1v1h-1zM110 595.8h1v1h-1zM105 596.8h1v1h-1zM110 596.8h1v1h-1zM105 597.8h1v1h-1zM110 597.8h1v1h-1zM105 598.8h1v1h-1zM110 598.8h1v1h-1zM105 599.8h1v1h-1zM105 600.8h1v1h-1zM105 601.8h1v1h-1zM105 602.8h1v1h-1zM105 603.8h1v1h-1zM105 604.8h1v1h-1zM109 604.8h1v1h-1zM105 605.8h1v1h-1zM109 605.8h1v1h-1zM105 606.8h1v1h-1zM109 606.8h1v1h-1zM105 607.8h1v1h-1zM109 607.8h1v1h-1zM109 608.8h1v1h-1zM109 609.8h1v1h-1zM109 610.8h1v1h-1zM105 612.8h1v1h-1zM105 613.8h1v1h-1zM108 613.8h1v1h-1zM106 614.8h3v1h-3zM107 615.8h1v1h-1z"/><path fill="#5868c2" d="M106 579.8h1v1h-1zM108 579.8h1v1h-1zM105 581.8h1v1h-1zM105 582.8h1v1h-1zM109 583.8h1v1h-1zM109 584.8h1v1h-1zM109 585.8h1v1h-1zM109 586.8h1v1h-1zM109 587.8h1v1h-1zM109 588.8h1v1h-1zM109 589.8h1v1h-1zM105 590.8h1v1h-1zM109 590.8h1v1h-1zM105 591.8h1v1h-1zM109 591.8h1v1h-1zM105 592.8h1v1h-1zM109 592.8h1v1h-1zM105 593.8h1v1h-1zM109 593.8h1v1h-1zM105 594.8h1v1h-1zM109 594.8h1v1h-1zM109 595.8h1v1h-1zM106 596.8h1v1h-1zM109 596.8h1v1h-1zM106 597.8h1v1h-1zM109 597.8h1v1h-1zM106 598.8h1v1h-1zM109 598.8h1v1h-1zM106 599.8h1v1h-1zM109 599.8h1v1h-1zM106 600.8h1v1h-1zM109 600.8h1v1h-1zM106 601.8h1v1h-1zM109 601.8h1v1h-1zM106 602.8h1v1h-1zM109 602.8h1v1h-1zM106 603.8h4v1h-4zM106 604.8h3v1h-3zM106 605.8h3v1h-3zM106 606.8h1v1h-1zM108 606.8h1v1h-1zM108 607.8h1v1h-1zM105 608.8h1v1h-1zM108 608.8h1v1h-1zM105 609.8h1v1h-1zM108 609.8h1v1h-1zM105 610.8h1v1h-1zM108 610.8h1v1h-1zM105 611.8h1v1h-1zM108 611.8h1v1h-1zM108 612.8h1v1h-1zM106 613.8h2v1h-2z"/><path fill="#4658b6" d="M107 579.8h1v1h-1zM106 580.8h1v1h-1zM108 580.8h1v1h-1zM108 581.8h1v1h-1zM105 583.8h1v1h-1zM105 584.8h1v1h-1zM105 585.8h1v1h-1zM105 586.8h1v1h-1zM105 587.8h1v1h-1zM105 588.8h1v1h-1zM105 589.8h1v1h-1zM106 592.8h1v1h-1zM108 592.8h1v1h-1zM106 593.8h3v1h-3zM106 594.8h3v1h-3zM106 595.8h3v1h-3zM107 596.8h2v1h-2zM107 597.8h2v1h-2zM107 598.8h2v1h-2zM107 599.8h2v1h-2zM107 600.8h2v1h-2zM107 601.8h2v1h-2zM107 602.8h2v1h-2zM107 606.8h1v1h-1zM106 607.8h2v1h-2zM106 608.8h2v1h-2zM106 609.8h2v1h-2zM106 610.8h2v1h-2zM106 611.8h2v1h-2zM106 612.8h2v1h-2z"/><path fill="#3a7ab8" d="M107 580.8h1v1h-1zM106 581.8h2v1h-2zM108 582.8h1v1h-1zM108 583.8h1v1h-1zM108 584.8h1v1h-1zM108 588.8h1v1h-1zM108 589.8h1v1h-1zM106 590.8h1v1h-1zM108 590.8h1v1h-1zM106 591.8h3v1h-3zM107 592.8h1v1h-1z"/><path fill="#48a890" d="M106 582.8h2v1h-2zM106 583.8h1v1h-1zM106 584.8h1v1h-1zM108 585.8h1v1h-1zM108 586.8h1v1h-1zM106 587.8h1v1h-1zM108 587.8h1v1h-1zM106 588.8h1v1h-1zM106 589.8h2v1h-2zM107 590.8h1v1h-1z"/><path fill="#7cc04c" d="M107 583.8h1v1h-1zM107 584.8h1v1h-1zM106 585.8h2v1h-2zM106 586.8h2v1h-2zM107 587.8h1v1h-1zM107 588.8h1v1h-1z"/></g>
<g opacity="0.75"><path fill="#4a58b8" d="M111.7 602.9h.8v.8h-.8zM114 606.6h.8v.8h-.8zM106.4 588h.8v.8h-.8zM114.9 588.6h.8v.8h-.8zM110.7 597h.8v.8h-.8zM111.9 593.2h.8v.8h-.8zM109.2 599h.8v.8h-.8zM116.3 583.4h.8v.8h-.8zM105.2 598.4h.8v.8h-.8zM112.2 593.7h.8v.8h-.8zM109.4 594.9h.8v.8h-.8zM109.4 601.1h.8v.8h-.8zM115.7 596.7h.8v.8h-.8zM115.8 601.4h.8v.8h-.8zM112.9 595.6h.8v.8h-.8z"/><path fill="#5b68c0" d="M115.4 604.5h.8v.8h-.8zM112.9 590.2h.8v.8h-.8zM111.8 600.8h.8v.8h-.8zM105.4 606.4h.8v.8h-.8zM111.8 603.5h.8v.8h-.8zM113 599h.8v.8h-.8zM117.2 609.6h.8v.8h-.8zM118.1 600.4h.8v.8h-.8zM112.6 598.9h.8v.8h-.8zM112.8 605.6h.8v.8h-.8zM114.7 606.9h.8v.8h-.8zM115.6 586.7h.8v.8h-.8zM119.6 603.2h.8v.8h-.8z"/><path fill="#3c4aa8" d="M107.3 607.4h.8v.8h-.8zM113 613.3h.8v.8h-.8zM114.2 606.7h.8v.8h-.8zM111.5 596h.8v.8h-.8zM108.6 591.8h.8v.8h-.8zM109.7 590.8h.8v.8h-.8zM109.1 593.2h.8v.8h-.8zM114.7 594.2h.8v.8h-.8zM115.4 599.6h.8v.8h-.8zM109 617.3h.8v.8h-.8zM107.1 595.1h.8v.8h-.8zM114.1 597.1h.8v.8h-.8zM112.8 601.8h.8v.8h-.8zM110.8 609.6h.8v.8h-.8zM106.7 596.2h.8v.8h-.8zM107.5 593.2h.8v.8h-.8zM118 598.8h.8v.8h-.8zM111.5 599.8h.8v.8h-.8zM116.4 602.7h.8v.8h-.8z"/><path fill="#7a86cc" d="M110.7 591.5h.8v.8h-.8zM114.1 617.4h.8v.8h-.8zM112.5 600.1h.8v.8h-.8zM110.2 596.6h.8v.8h-.8zM109 595.2h.8v.8h-.8zM111.9 604.7h.8v.8h-.8zM111.5 596.3h.8v.8h-.8zM111.3 589.9h.8v.8h-.8zM109.9 597.4h.8v.8h-.8zM112.1 614.9h.8v.8h-.8zM111.9 604.4h.8v.8h-.8zM109.3 592.9h.8v.8h-.8zM115 597.3h.8v.8h-.8z"/></g>
<line x1="63.5" y1="530.3" x2="63.5" y2="575.7" stroke="#555" stroke-width="0.6"/>
<line x1="46.1" y1="557.4" x2="91.7" y2="557.4" stroke="#777" stroke-width="0.7"/>
<text x="47.5" y="541.0999999999999" font-size="3.6" text-anchor="start" fill="#444">86.6</text>
<text x="78.3" y="541.0999999999999" font-size="3.6" text-anchor="start" fill="#444">9.63</text>
<rect x="46.10" y="530.30" width="45.60" height="45.40" fill="none" stroke="#333" stroke-width="1.3"/>
<line x1="112.5" y1="530.3" x2="112.5" y2="575.7" stroke="#555" stroke-width="0.6"/>
<line x1="95.3" y1="557.4" x2="141.1" y2="557.4" stroke="#777" stroke-width="0.7"/>
<text x="97.6" y="541.0999999999999" font-size="3.6" text-anchor="start" fill="#444">92.6</text>
<text x="120.8" y="541.0999999999999" font-size="3.6" text-anchor="start" fill="#444">2.03</text>
<rect x="95.30" y="530.30" width="45.80" height="45.40" fill="none" stroke="#333" stroke-width="1.3"/>
<line x1="63.5" y1="579.1" x2="63.5" y2="624.6" stroke="#555" stroke-width="0.6"/>
<line x1="46.1" y1="606.1" x2="91.7" y2="606.1" stroke="#777" stroke-width="0.7"/>
<text x="49.2" y="589.9" font-size="3.6" text-anchor="start" fill="#444">73.4</text>
<text x="76.6" y="589.9" font-size="3.6" text-anchor="start" fill="#444">8.30</text>
<rect x="46.10" y="579.10" width="45.60" height="45.50" fill="none" stroke="#333" stroke-width="1.3"/>
<line x1="112.5" y1="579.1" x2="112.5" y2="624.4" stroke="#555" stroke-width="0.6"/>
<line x1="95.3" y1="606.1" x2="141.1" y2="606.1" stroke="#777" stroke-width="0.7"/>
<text x="96.6" y="589.9" font-size="3.6" text-anchor="start" fill="#444">85.5</text>
<text x="120.8" y="589.9" font-size="3.6" text-anchor="start" fill="#444">1.91</text>
<rect x="95.30" y="579.10" width="45.80" height="45.30" fill="none" stroke="#333" stroke-width="1.3"/>
<text x="35.2" y="38.4" font-size="4.8" fill="#555">10<tspan font-size="3.17" dy="-1.82">5</tspan></text>
<text x="35.2" y="50.8" font-size="4.8" fill="#555">10<tspan font-size="3.17" dy="-1.82">4</tspan></text>
<text x="35.2" y="64.2" font-size="4.8" fill="#555">10<tspan font-size="3.17" dy="-1.82">3</tspan></text>
<text x="35.2" y="72.5" font-size="4.8" fill="#555">10<tspan font-size="3.17" dy="-1.82">0</tspan></text>
<text x="33.6" y="80.7" font-size="4.8" fill="#555">10<tspan font-size="3.17" dy="-1.82">-1</tspan></text>
<line x1="43.800000000000004" y1="36.7" x2="45.2" y2="36.7" stroke="#333" stroke-width="0.5"/>
<line x1="43.800000000000004" y1="49.1" x2="45.2" y2="49.1" stroke="#333" stroke-width="0.5"/>
<line x1="43.800000000000004" y1="62.5" x2="45.2" y2="62.5" stroke="#333" stroke-width="0.5"/>
<line x1="43.800000000000004" y1="70.8" x2="45.2" y2="70.8" stroke="#333" stroke-width="0.5"/>
<line x1="43.800000000000004" y1="79.0" x2="45.2" y2="79.0" stroke="#333" stroke-width="0.5"/>
<rect x="43.6" y="69.8" width="1.6" height="2.0" fill="#111"/>
<text x="41.8" y="88.6" font-size="4.8" fill="#555">10<tspan font-size="3.17" dy="-1.82">-1</tspan></text>
<text x="51.9" y="88.6" font-size="4.8" fill="#555">10<tspan font-size="3.17" dy="-1.82">0</tspan></text>
<text x="60.2" y="88.6" font-size="4.8" fill="#555">10<tspan font-size="3.17" dy="-1.82">3</tspan></text>
<text x="74.7" y="88.6" font-size="4.8" fill="#555">10<tspan font-size="3.17" dy="-1.82">4</tspan></text>
<text x="86.2" y="88.6" font-size="4.8" fill="#555">10<tspan font-size="3.17" dy="-1.82">5</tspan></text>
<line x1="100.0" y1="36.7" x2="101.4" y2="36.7" stroke="#333" stroke-width="0.5"/>
<line x1="100.0" y1="49.1" x2="101.4" y2="49.1" stroke="#333" stroke-width="0.5"/>
<line x1="100.0" y1="62.5" x2="101.4" y2="62.5" stroke="#333" stroke-width="0.5"/>
<line x1="100.0" y1="70.8" x2="101.4" y2="70.8" stroke="#333" stroke-width="0.5"/>
<line x1="100.0" y1="79.0" x2="101.4" y2="79.0" stroke="#333" stroke-width="0.5"/>
<rect x="99.8" y="69.8" width="1.6" height="2.0" fill="#111"/>
<text x="98.0" y="88.6" font-size="4.8" fill="#555">10<tspan font-size="3.17" dy="-1.82">-1</tspan></text>
<text x="108.1" y="88.6" font-size="4.8" fill="#555">10<tspan font-size="3.17" dy="-1.82">0</tspan></text>
<text x="116.4" y="88.6" font-size="4.8" fill="#555">10<tspan font-size="3.17" dy="-1.82">3</tspan></text>
<text x="130.9" y="88.6" font-size="4.8" fill="#555">10<tspan font-size="3.17" dy="-1.82">4</tspan></text>
<text x="142.4" y="88.6" font-size="4.8" fill="#555">10<tspan font-size="3.17" dy="-1.82">5</tspan></text>
<text x="35.2" y="106.2" font-size="4.8" fill="#555">10<tspan font-size="3.17" dy="-1.82">5</tspan></text>
<text x="35.2" y="118.4" font-size="4.8" fill="#555">10<tspan font-size="3.17" dy="-1.82">4</tspan></text>
<text x="35.2" y="129.6" font-size="4.8" fill="#555">10<tspan font-size="3.17" dy="-1.82">3</tspan></text>
<text x="33.6" y="142.0" font-size="4.8" fill="#555">10<tspan font-size="3.17" dy="-1.82">-1</tspan></text>
<line x1="43.800000000000004" y1="104.5" x2="45.2" y2="104.5" stroke="#333" stroke-width="0.5"/>
<line x1="43.800000000000004" y1="116.7" x2="45.2" y2="116.7" stroke="#333" stroke-width="0.5"/>
<line x1="43.800000000000004" y1="127.9" x2="45.2" y2="127.9" stroke="#333" stroke-width="0.5"/>
<line x1="43.800000000000004" y1="140.3" x2="45.2" y2="140.3" stroke="#333" stroke-width="0.5"/>
<rect x="43.6" y="126.9" width="1.6" height="2.0" fill="#111"/>
<text x="41.8" y="151.6" font-size="4.8" fill="#555">10<tspan font-size="3.17" dy="-1.82">-1</tspan></text>
<text x="51.9" y="151.6" font-size="4.8" fill="#555">10<tspan font-size="3.17" dy="-1.82">0</tspan></text>
<text x="60.2" y="151.6" font-size="4.8" fill="#555">10<tspan font-size="3.17" dy="-1.82">3</tspan></text>
<text x="76.7" y="151.6" font-size="4.8" fill="#555">10<tspan font-size="3.17" dy="-1.82">4</tspan></text>
<line x1="99.89999999999999" y1="104.5" x2="101.3" y2="104.5" stroke="#333" stroke-width="0.5"/>
<line x1="99.89999999999999" y1="116.7" x2="101.3" y2="116.7" stroke="#333" stroke-width="0.5"/>
<line x1="99.89999999999999" y1="127.9" x2="101.3" y2="127.9" stroke="#333" stroke-width="0.5"/>
<line x1="99.89999999999999" y1="140.3" x2="101.3" y2="140.3" stroke="#333" stroke-width="0.5"/>
<rect x="99.7" y="126.9" width="1.6" height="2.0" fill="#111"/>
<text x="97.9" y="151.6" font-size="4.8" fill="#555">10<tspan font-size="3.17" dy="-1.82">-1</tspan></text>
<text x="108.0" y="151.6" font-size="4.8" fill="#555">10<tspan font-size="3.17" dy="-1.82">0</tspan></text>
<text x="116.3" y="151.6" font-size="4.8" fill="#555">10<tspan font-size="3.17" dy="-1.82">3</tspan></text>
<text x="132.8" y="151.6" font-size="4.8" fill="#555">10<tspan font-size="3.17" dy="-1.82">4</tspan></text>
<text x="36.1" y="381.5" font-size="4.8" fill="#555">10<tspan font-size="3.17" dy="-1.82">3</tspan></text>
<text x="36.1" y="393.2" font-size="4.8" fill="#555">10<tspan font-size="3.17" dy="-1.82">2</tspan></text>
<text x="36.1" y="405.3" font-size="4.8" fill="#555">10<tspan font-size="3.17" dy="-1.82">1</tspan></text>
<text x="36.1" y="413.1" font-size="4.8" fill="#555">10<tspan font-size="3.17" dy="-1.82">0</tspan></text>
<text x="34.5" y="421.0" font-size="4.8" fill="#555">10<tspan font-size="3.17" dy="-1.82">-1</tspan></text>
<line x1="44.7" y1="379.8" x2="46.1" y2="379.8" stroke="#333" stroke-width="0.5"/>
<line x1="44.7" y1="391.5" x2="46.1" y2="391.5" stroke="#333" stroke-width="0.5"/>
<line x1="44.7" y1="403.6" x2="46.1" y2="403.6" stroke="#333" stroke-width="0.5"/>
<line x1="44.7" y1="411.4" x2="46.1" y2="411.4" stroke="#333" stroke-width="0.5"/>
<line x1="44.7" y1="419.3" x2="46.1" y2="419.3" stroke="#333" stroke-width="0.5"/>
<rect x="44.5" y="410.4" width="1.6" height="2.0" fill="#111"/>
<line x1="95.89999999999999" y1="379.8" x2="97.3" y2="379.8" stroke="#333" stroke-width="0.5"/>
<line x1="95.89999999999999" y1="391.5" x2="97.3" y2="391.5" stroke="#333" stroke-width="0.5"/>
<line x1="95.89999999999999" y1="403.6" x2="97.3" y2="403.6" stroke="#333" stroke-width="0.5"/>
<line x1="95.89999999999999" y1="411.4" x2="97.3" y2="411.4" stroke="#333" stroke-width="0.5"/>
<line x1="95.89999999999999" y1="419.3" x2="97.3" y2="419.3" stroke="#333" stroke-width="0.5"/>
<rect x="95.7" y="410.4" width="1.6" height="2.0" fill="#111"/>
<text x="36.1" y="432.2" font-size="4.8" fill="#555">10<tspan font-size="3.17" dy="-1.82">3</tspan></text>
<text x="36.1" y="444.0" font-size="4.8" fill="#555">10<tspan font-size="3.17" dy="-1.82">2</tspan></text>
<text x="36.1" y="456.2" font-size="4.8" fill="#555">10<tspan font-size="3.17" dy="-1.82">1</tspan></text>
<text x="36.1" y="464.0" font-size="4.8" fill="#555">10<tspan font-size="3.17" dy="-1.82">0</tspan></text>
<text x="34.5" y="471.9" font-size="4.8" fill="#555">10<tspan font-size="3.17" dy="-1.82">-1</tspan></text>
<line x1="44.7" y1="430.5" x2="46.1" y2="430.5" stroke="#333" stroke-width="0.5"/>
<line x1="44.7" y1="442.3" x2="46.1" y2="442.3" stroke="#333" stroke-width="0.5"/>
<line x1="44.7" y1="454.5" x2="46.1" y2="454.5" stroke="#333" stroke-width="0.5"/>
<line x1="44.7" y1="462.3" x2="46.1" y2="462.3" stroke="#333" stroke-width="0.5"/>
<line x1="44.7" y1="470.2" x2="46.1" y2="470.2" stroke="#333" stroke-width="0.5"/>
<rect x="44.5" y="461.3" width="1.6" height="2.0" fill="#111"/>
<text x="52.1" y="478.6" font-size="4.8" fill="#555">10<tspan font-size="3.17" dy="-1.82">0</tspan></text>
<text x="68.6" y="478.6" font-size="4.8" fill="#555">10<tspan font-size="3.17" dy="-1.82">2</tspan></text>
<text x="84.6" y="478.6" font-size="4.8" fill="#555">10<tspan font-size="3.17" dy="-1.82">3</tspan></text>
<line x1="95.6" y1="430.5" x2="97.0" y2="430.5" stroke="#333" stroke-width="0.5"/>
<line x1="95.6" y1="442.3" x2="97.0" y2="442.3" stroke="#333" stroke-width="0.5"/>
<line x1="95.6" y1="454.5" x2="97.0" y2="454.5" stroke="#333" stroke-width="0.5"/>
<line x1="95.6" y1="462.3" x2="97.0" y2="462.3" stroke="#333" stroke-width="0.5"/>
<line x1="95.6" y1="470.2" x2="97.0" y2="470.2" stroke="#333" stroke-width="0.5"/>
<rect x="95.4" y="461.3" width="1.6" height="2.0" fill="#111"/>
<text x="103.0" y="478.6" font-size="4.8" fill="#555">10<tspan font-size="3.17" dy="-1.82">0</tspan></text>
<text x="119.5" y="478.6" font-size="4.8" fill="#555">10<tspan font-size="3.17" dy="-1.82">2</tspan></text>
<text x="135.5" y="478.6" font-size="4.8" fill="#555">10<tspan font-size="3.17" dy="-1.82">3</tspan></text>
<text x="36.1" y="536.7" font-size="4.8" fill="#555">10<tspan font-size="3.17" dy="-1.82">3</tspan></text>
<text x="36.1" y="547.7" font-size="4.8" fill="#555">10<tspan font-size="3.17" dy="-1.82">2</tspan></text>
<text x="36.1" y="559.1" font-size="4.8" fill="#555">10<tspan font-size="3.17" dy="-1.82">1</tspan></text>
<text x="36.1" y="567.5" font-size="4.8" fill="#555">10<tspan font-size="3.17" dy="-1.82">0</tspan></text>
<text x="34.5" y="575.7" font-size="4.8" fill="#555">10<tspan font-size="3.17" dy="-1.82">-1</tspan></text>
<line x1="44.7" y1="535.0" x2="46.1" y2="535.0" stroke="#333" stroke-width="0.5"/>
<line x1="44.7" y1="546.0" x2="46.1" y2="546.0" stroke="#333" stroke-width="0.5"/>
<line x1="44.7" y1="557.4" x2="46.1" y2="557.4" stroke="#333" stroke-width="0.5"/>
<line x1="44.7" y1="565.8" x2="46.1" y2="565.8" stroke="#333" stroke-width="0.5"/>
<line x1="44.7" y1="574.0" x2="46.1" y2="574.0" stroke="#333" stroke-width="0.5"/>
<rect x="44.5" y="564.8" width="1.6" height="2.0" fill="#111"/>
<line x1="93.89999999999999" y1="535.0" x2="95.3" y2="535.0" stroke="#333" stroke-width="0.5"/>
<line x1="93.89999999999999" y1="546.0" x2="95.3" y2="546.0" stroke="#333" stroke-width="0.5"/>
<line x1="93.89999999999999" y1="557.4" x2="95.3" y2="557.4" stroke="#333" stroke-width="0.5"/>
<line x1="93.89999999999999" y1="565.8" x2="95.3" y2="565.8" stroke="#333" stroke-width="0.5"/>
<line x1="93.89999999999999" y1="574.0" x2="95.3" y2="574.0" stroke="#333" stroke-width="0.5"/>
<rect x="93.7" y="564.8" width="1.6" height="2.0" fill="#111"/>
<text x="36.1" y="585.7" font-size="4.8" fill="#555">10<tspan font-size="3.17" dy="-1.82">3</tspan></text>
<text x="36.1" y="596.7" font-size="4.8" fill="#555">10<tspan font-size="3.17" dy="-1.82">2</tspan></text>
<text x="36.1" y="607.8" font-size="4.8" fill="#555">10<tspan font-size="3.17" dy="-1.82">1</tspan></text>
<text x="36.1" y="616.2" font-size="4.8" fill="#555">10<tspan font-size="3.17" dy="-1.82">0</tspan></text>
<text x="34.5" y="624.4" font-size="4.8" fill="#555">10<tspan font-size="3.17" dy="-1.82">-1</tspan></text>
<line x1="44.7" y1="584.0" x2="46.1" y2="584.0" stroke="#333" stroke-width="0.5"/>
<line x1="44.7" y1="595.0" x2="46.1" y2="595.0" stroke="#333" stroke-width="0.5"/>
<line x1="44.7" y1="606.1" x2="46.1" y2="606.1" stroke="#333" stroke-width="0.5"/>
<line x1="44.7" y1="614.5" x2="46.1" y2="614.5" stroke="#333" stroke-width="0.5"/>
<line x1="44.7" y1="622.7" x2="46.1" y2="622.7" stroke="#333" stroke-width="0.5"/>
<rect x="44.5" y="613.5" width="1.6" height="2.0" fill="#111"/>
<text x="43.5" y="630.8" font-size="4.8" fill="#555">10<tspan font-size="3.17" dy="-1.82">-1</tspan></text>
<text x="53.1" y="630.8" font-size="4.8" fill="#555">10<tspan font-size="3.17" dy="-1.82">0</tspan></text>
<text x="60.6" y="630.8" font-size="4.8" fill="#555">10<tspan font-size="3.17" dy="-1.82">1</tspan></text>
<text x="73.6" y="630.8" font-size="4.8" fill="#555">10<tspan font-size="3.17" dy="-1.82">4</tspan></text>
<text x="84.6" y="630.8" font-size="4.8" fill="#555">10<tspan font-size="3.17" dy="-1.82">5</tspan></text>
<line x1="93.89999999999999" y1="584.0" x2="95.3" y2="584.0" stroke="#333" stroke-width="0.5"/>
<line x1="93.89999999999999" y1="595.0" x2="95.3" y2="595.0" stroke="#333" stroke-width="0.5"/>
<line x1="93.89999999999999" y1="606.1" x2="95.3" y2="606.1" stroke="#333" stroke-width="0.5"/>
<line x1="93.89999999999999" y1="614.5" x2="95.3" y2="614.5" stroke="#333" stroke-width="0.5"/>
<line x1="93.89999999999999" y1="622.7" x2="95.3" y2="622.7" stroke="#333" stroke-width="0.5"/>
<rect x="93.7" y="613.5" width="1.6" height="2.0" fill="#111"/>
<text x="92.7" y="630.8" font-size="4.8" fill="#555">10<tspan font-size="3.17" dy="-1.82">-1</tspan></text>
<text x="102.3" y="630.8" font-size="4.8" fill="#555">10<tspan font-size="3.17" dy="-1.82">0</tspan></text>
<text x="109.8" y="630.8" font-size="4.8" fill="#555">10<tspan font-size="3.17" dy="-1.82">1</tspan></text>
<text x="122.8" y="630.8" font-size="4.8" fill="#555">10<tspan font-size="3.17" dy="-1.82">4</tspan></text>
<text x="133.8" y="630.8" font-size="4.8" fill="#555">10<tspan font-size="3.17" dy="-1.82">5</tspan></text>
<rect x="28.1" y="211.1" width="56.9" height="56.9" fill="#fff" filter="url(#mic0)"/>
<g clip-path="url(#mc0)"><ellipse cx="24.5" cy="207.9" rx="4.4" ry="3.5" transform="rotate(20 24.5 207.9)" fill="#909090" fill-opacity="0.75" stroke="#444" stroke-width="0.7" stroke-opacity="0.75"/><circle cx="25.7" cy="208.5" r="0.6" fill="#2a2a2a" fill-opacity="0.61"/><circle cx="24.3" cy="207.5" r="1.1" fill="#2a2a2a" fill-opacity="0.44"/><circle cx="22.2" cy="209.5" r="0.7" fill="#2a2a2a" fill-opacity="0.48"/><circle cx="23.7" cy="207.3" r="1.1" fill="#2a2a2a" fill-opacity="0.48"/><circle cx="23.2" cy="208.2" r="0.8" fill="#2a2a2a" fill-opacity="0.78"/><circle cx="26.2" cy="207.3" r="0.6" fill="#2a2a2a" fill-opacity="0.73"/><ellipse cx="36.3" cy="207.6" rx="4.6" ry="4.5" transform="rotate(39 36.3 207.6)" fill="#828282" fill-opacity="0.75" stroke="#444" stroke-width="0.7" stroke-opacity="0.75"/><circle cx="37.0" cy="206.2" r="0.5" fill="#2a2a2a" fill-opacity="0.53"/><circle cx="35.4" cy="207.1" r="0.9" fill="#2a2a2a" fill-opacity="0.73"/><circle cx="38.6" cy="210.0" r="1.1" fill="#2a2a2a" fill-opacity="0.72"/><circle cx="35.3" cy="206.0" r="0.9" fill="#2a2a2a" fill-opacity="0.62"/><circle cx="37.2" cy="205.6" r="0.6" fill="#2a2a2a" fill-opacity="0.77"/><circle cx="36.8" cy="208.6" r="0.6" fill="#2a2a2a" fill-opacity="0.56"/><ellipse cx="60.3" cy="210.0" rx="3.6" ry="2.8" transform="rotate(177 60.3 210.0)" fill="#3a3a3a" fill-opacity="0.75" stroke="#444" stroke-width="0.7" stroke-opacity="0.75"/><circle cx="59.0" cy="211.5" r="0.6" fill="#2a2a2a" fill-opacity="0.42"/><circle cx="60.8" cy="210.1" r="1.0" fill="#2a2a2a" fill-opacity="0.79"/><circle cx="60.3" cy="210.3" r="1.0" fill="#2a2a2a" fill-opacity="0.59"/><circle cx="61.5" cy="210.4" r="0.8" fill="#2a2a2a" fill-opacity="0.73"/><circle cx="58.5" cy="210.0" r="1.0" fill="#2a2a2a" fill-opacity="0.59"/><circle cx="59.3" cy="208.8" r="0.8" fill="#2a2a2a" fill-opacity="0.58"/><ellipse cx="70.7" cy="207.9" rx="4.3" ry="4.6" transform="rotate(160 70.7 207.9)" fill="#828282" fill-opacity="0.75" stroke="#444" stroke-width="0.7" stroke-opacity="0.75"/><ellipse cx="77.9" cy="209.3" rx="4.4" ry="4.1" transform="rotate(41 77.9 209.3)" fill="#b8b8b8" fill-opacity="0.75" stroke="#444" stroke-width="0.7" stroke-opacity="0.75"/><circle cx="78.9" cy="209.1" r="0.6" fill="#2a2a2a" fill-opacity="0.45"/><circle cx="79.2" cy="210.4" r="1.1" fill="#2a2a2a" fill-opacity="0.68"/><circle cx="78.3" cy="207.8" r="1.0" fill="#2a2a2a" fill-opacity="0.45"/><circle cx="77.5" cy="207.7" r="0.7" fill="#2a2a2a" fill-opacity="0.52"/><circle cx="77.5" cy="210.2" r="0.8" fill="#2a2a2a" fill-opacity="0.50"/><circle cx="79.2" cy="210.3" r="1.0" fill="#2a2a2a" fill-opacity="0.41"/><ellipse cx="86.7" cy="210.4" rx="3.7" ry="3.8" transform="rotate(65 86.7 210.4)" fill="#acacac" fill-opacity="0.75" stroke="#444" stroke-width="0.7" stroke-opacity="0.75"/><circle cx="85.4" cy="209.2" r="0.7" fill="#2a2a2a" fill-opacity="0.68"/><circle cx="86.1" cy="211.5" r="0.5" fill="#2a2a2a" fill-opacity="0.50"/><circle cx="87.2" cy="210.3" r="0.8" fill="#2a2a2a" fill-opacity="0.77"/><circle cx="85.8" cy="209.0" r="0.5" fill="#2a2a2a" fill-opacity="0.59"/><circle cx="85.8" cy="210.3" r="0.5" fill="#2a2a2a" fill-opacity="0.40"/><circle cx="86.2" cy="211.4" r="0.7" fill="#2a2a2a" fill-opacity="0.77"/><ellipse cx="30.7" cy="216.3" rx="3.7" ry="3.6" transform="rotate(152 30.7 216.3)" fill="#828282" fill-opacity="0.75" stroke="#444" stroke-width="0.7" stroke-opacity="0.75"/><ellipse cx="39.5" cy="217.2" rx="4.7" ry="4.3" transform="rotate(55 39.5 217.2)" fill="#828282" fill-opacity="0.75" stroke="#444" stroke-width="0.7" stroke-opacity="0.75"/><circle cx="39.0" cy="218.1" r="0.8" fill="#2a2a2a" fill-opacity="0.49"/><circle cx="39.1" cy="218.8" r="0.6" fill="#2a2a2a" fill-opacity="0.68"/><circle cx="37.2" cy="219.4" r="0.9" fill="#2a2a2a" fill-opacity="0.53"/><circle cx="42.0" cy="218.7" r="0.5" fill="#2a2a2a" fill-opacity="0.50"/><circle cx="39.5" cy="219.6" r="0.6" fill="#2a2a2a" fill-opacity="0.42"/><circle cx="38.6" cy="215.1" r="0.7" fill="#2a2a2a" fill-opacity="0.62"/><ellipse cx="47.4" cy="215.4" rx="4.5" ry="4.1" transform="rotate(86 47.4 215.4)" fill="#a0a0a0" fill-opacity="0.75" stroke="#444" stroke-width="0.7" stroke-opacity="0.75"/><ellipse cx="57.2" cy="217.3" rx="3.6" ry="2.8" transform="rotate(155 57.2 217.3)" fill="#555" fill-opacity="0.75" stroke="#444" stroke-width="0.7" stroke-opacity="0.75"/><circle cx="58.7" cy="217.7" r="0.6" fill="#2a2a2a" fill-opacity="0.49"/><circle cx="55.5" cy="218.5" r="0.8" fill="#2a2a2a" fill-opacity="0.75"/><circle cx="56.9" cy="218.1" r="0.6" fill="#2a2a2a" fill-opacity="0.79"/><circle cx="58.4" cy="218.7" r="0.8" fill="#2a2a2a" fill-opacity="0.53"/><circle cx="56.2" cy="216.6" r="0.6" fill="#2a2a2a" fill-opacity="0.42"/><circle cx="58.7" cy="216.7" r="0.9" fill="#2a2a2a" fill-opacity="0.48"/><ellipse cx="65.3" cy="216.5" rx="3.9" ry="4.2" transform="rotate(139 65.3 216.5)" fill="#b8b8b8" fill-opacity="0.75" stroke="#444" stroke-width="0.7" stroke-opacity="0.75"/><circle cx="66.0" cy="215.8" r="0.6" fill="#2a2a2a" fill-opacity="0.49"/><circle cx="64.2" cy="218.3" r="0.6" fill="#2a2a2a" fill-opacity="0.70"/><circle cx="63.6" cy="217.8" r="0.7" fill="#2a2a2a" fill-opacity="0.71"/><circle cx="65.0" cy="214.6" r="0.6" fill="#2a2a2a" fill-opacity="0.72"/><circle cx="65.4" cy="216.4" r="0.7" fill="#2a2a2a" fill-opacity="0.68"/><circle cx="65.2" cy="214.5" r="0.9" fill="#2a2a2a" fill-opacity="0.53"/><ellipse cx="74.5" cy="216.7" rx="3.6" ry="3.6" transform="rotate(110 74.5 216.7)" fill="#909090" fill-opacity="0.75" stroke="#444" stroke-width="0.7" stroke-opacity="0.75"/><ellipse cx="82.3" cy="217.4" rx="4.2" ry="4.3" transform="rotate(107 82.3 217.4)" fill="#b8b8b8" fill-opacity="0.75" stroke="#444" stroke-width="0.7" stroke-opacity="0.75"/><ellipse cx="25.3" cy="222.7" rx="3.6" ry="3.9" transform="rotate(85 25.3 222.7)" fill="#909090" fill-opacity="0.75" stroke="#444" stroke-width="0.7" stroke-opacity="0.75"/><circle cx="27.2" cy="221.3" r="0.8" fill="#2a2a2a" fill-opacity="0.67"/><circle cx="25.7" cy="224.0" r="0.8" fill="#2a2a2a" fill-opacity="0.48"/><circle cx="25.3" cy="220.6" r="0.7" fill="#2a2a2a" fill-opacity="0.70"/><circle cx="26.2" cy="222.6" r="0.7" fill="#2a2a2a" fill-opacity="0.48"/><circle cx="23.7" cy="222.5" r="0.8" fill="#2a2a2a" fill-opacity="0.78"/><circle cx="23.9" cy="224.5" r="1.0" fill="#2a2a2a" fill-opacity="0.76"/><ellipse cx="35.0" cy="225.1" rx="3.4" ry="2.6" transform="rotate(177 35.0 225.1)" fill="#909090" fill-opacity="0.75" stroke="#444" stroke-width="0.7" stroke-opacity="0.75"/><circle cx="34.7" cy="224.5" r="0.5" fill="#2a2a2a" fill-opacity="0.52"/><circle cx="36.2" cy="223.8" r="0.7" fill="#2a2a2a" fill-opacity="0.61"/><circle cx="33.7" cy="223.7" r="0.5" fill="#2a2a2a" fill-opacity="0.46"/><circle cx="36.8" cy="226.1" r="0.9" fill="#2a2a2a" fill-opacity="0.76"/><circle cx="34.4" cy="224.3" r="1.0" fill="#2a2a2a" fill-opacity="0.64"/><circle cx="36.6" cy="224.7" r="0.7" fill="#2a2a2a" fill-opacity="0.69"/><ellipse cx="44.5" cy="223.0" rx="3.4" ry="3.2" transform="rotate(166 44.5 223.0)" fill="#909090" fill-opacity="0.75" stroke="#444" stroke-width="0.7" stroke-opacity="0.75"/><ellipse cx="59.8" cy="223.1" rx="4.0" ry="3.4" transform="rotate(126 59.8 223.1)" fill="#828282" fill-opacity="0.75" stroke="#444" stroke-width="0.7" stroke-opacity="0.75"/><ellipse cx="77.6" cy="224.8" rx="4.0" ry="3.8" transform="rotate(177 77.6 224.8)" fill="#4a4a4a" fill-opacity="0.75" stroke="#444" stroke-width="0.7" stroke-opacity="0.75"/><circle cx="77.7" cy="225.1" r="1.0" fill="#2a2a2a" fill-opacity="0.57"/><circle cx="77.6" cy="225.6" r="1.1" fill="#2a2a2a" fill-opacity="0.74"/><circle cx="78.8" cy="224.7" r="0.8" fill="#2a2a2a" fill-opacity="0.62"/><circle cx="75.4" cy="224.8" r="0.5" fill="#2a2a2a" fill-opacity="0.56"/><circle cx="79.2" cy="225.8" r="0.7" fill="#2a2a2a" fill-opacity="0.43"/><circle cx="76.5" cy="224.5" r="0.6" fill="#2a2a2a" fill-opacity="0.47"/><ellipse cx="86.3" cy="223.2" rx="4.4" ry="4.2" transform="rotate(62 86.3 223.2)" fill="#828282" fill-opacity="0.75" stroke="#444" stroke-width="0.7" stroke-opacity="0.75"/><ellipse cx="38.7" cy="231.4" rx="4.0" ry="4.4" transform="rotate(84 38.7 231.4)" fill="#828282" fill-opacity="0.75" stroke="#444" stroke-width="0.7" stroke-opacity="0.75"/><ellipse cx="63.6" cy="230.8" rx="4.3" ry="4.0" transform="rotate(55 63.6 230.8)" fill="#828282" fill-opacity="0.75" stroke="#444" stroke-width="0.7" stroke-opacity="0.75"/><circle cx="61.4" cy="231.1" r="0.8" fill="#2a2a2a" fill-opacity="0.42"/><circle cx="61.4" cy="229.4" r="0.7" fill="#2a2a2a" fill-opacity="0.58"/><circle cx="61.6" cy="228.8" r="1.0" fill="#2a2a2a" fill-opacity="0.53"/><circle cx="64.9" cy="232.9" r="0.7" fill="#2a2a2a" fill-opacity="0.73"/><circle cx="63.0" cy="231.3" r="1.1" fill="#2a2a2a" fill-opacity="0.75"/><circle cx="65.4" cy="232.3" r="1.0" fill="#2a2a2a" fill-opacity="0.80"/><ellipse cx="73.4" cy="232.0" rx="4.6" ry="4.4" transform="rotate(116 73.4 232.0)" fill="#3a3a3a" fill-opacity="0.75" stroke="#444" stroke-width="0.7" stroke-opacity="0.75"/><ellipse cx="83.1" cy="233.1" rx="3.7" ry="3.1" transform="rotate(10 83.1 233.1)" fill="#b8b8b8" fill-opacity="0.75" stroke="#444" stroke-width="0.7" stroke-opacity="0.75"/><ellipse cx="27.3" cy="237.8" rx="4.3" ry="3.8" transform="rotate(136 27.3 237.8)" fill="#b8b8b8" fill-opacity="0.75" stroke="#444" stroke-width="0.7" stroke-opacity="0.75"/><ellipse cx="35.2" cy="239.4" rx="3.9" ry="3.4" transform="rotate(9 35.2 239.4)" fill="#909090" fill-opacity="0.75" stroke="#444" stroke-width="0.7" stroke-opacity="0.75"/><ellipse cx="42.5" cy="239.0" rx="3.7" ry="3.2" transform="rotate(106 42.5 239.0)" fill="#828282" fill-opacity="0.75" stroke="#444" stroke-width="0.7" stroke-opacity="0.75"/><circle cx="44.0" cy="239.6" r="0.7" fill="#2a2a2a" fill-opacity="0.52"/><circle cx="44.0" cy="239.8" r="0.6" fill="#2a2a2a" fill-opacity="0.53"/><circle cx="40.9" cy="239.5" r="0.8" fill="#2a2a2a" fill-opacity="0.53"/><circle cx="43.3" cy="238.2" r="0.6" fill="#2a2a2a" fill-opacity="0.72"/><circle cx="44.1" cy="240.1" r="0.8" fill="#2a2a2a" fill-opacity="0.69"/><circle cx="44.0" cy="237.4" r="0.7" fill="#2a2a2a" fill-opacity="0.54"/><ellipse cx="52.6" cy="238.5" rx="3.8" ry="4.1" transform="rotate(78 52.6 238.5)" fill="#b8b8b8" fill-opacity="0.75" stroke="#444" stroke-width="0.7" stroke-opacity="0.75"/><ellipse cx="60.7" cy="238.1" rx="4.2" ry="3.2" transform="rotate(149 60.7 238.1)" fill="#828282" fill-opacity="0.75" stroke="#444" stroke-width="0.7" stroke-opacity="0.75"/><circle cx="62.8" cy="238.9" r="0.7" fill="#2a2a2a" fill-opacity="0.68"/><circle cx="58.4" cy="236.6" r="0.8" fill="#2a2a2a" fill-opacity="0.52"/><circle cx="60.3" cy="238.8" r="0.8" fill="#2a2a2a" fill-opacity="0.64"/><circle cx="61.8" cy="239.3" r="0.6" fill="#2a2a2a" fill-opacity="0.73"/><circle cx="61.8" cy="237.1" r="0.6" fill="#2a2a2a" fill-opacity="0.48"/><circle cx="58.8" cy="238.4" r="1.1" fill="#2a2a2a" fill-opacity="0.59"/><ellipse cx="86.0" cy="240.6" rx="3.8" ry="3.1" transform="rotate(3 86.0 240.6)" fill="#828282" fill-opacity="0.75" stroke="#444" stroke-width="0.7" stroke-opacity="0.75"/><ellipse cx="29.1" cy="246.0" rx="4.6" ry="3.7" transform="rotate(110 29.1 246.0)" fill="#828282" fill-opacity="0.75" stroke="#444" stroke-width="0.7" stroke-opacity="0.75"/><ellipse cx="46.5" cy="246.8" rx="4.6" ry="4.3" transform="rotate(172 46.5 246.8)" fill="#828282" fill-opacity="0.75" stroke="#444" stroke-width="0.7" stroke-opacity="0.75"/><circle cx="44.4" cy="248.3" r="0.9" fill="#2a2a2a" fill-opacity="0.60"/><circle cx="48.6" cy="245.3" r="0.9" fill="#2a2a2a" fill-opacity="0.60"/><circle cx="44.5" cy="245.0" r="0.5" fill="#2a2a2a" fill-opacity="0.48"/><circle cx="47.9" cy="246.7" r="0.5" fill="#2a2a2a" fill-opacity="0.60"/><circle cx="48.9" cy="248.2" r="0.7" fill="#2a2a2a" fill-opacity="0.59"/><circle cx="45.9" cy="245.5" r="0.9" fill="#2a2a2a" fill-opacity="0.41"/><ellipse cx="56.1" cy="247.9" rx="4.3" ry="4.5" transform="rotate(171 56.1 247.9)" fill="#909090" fill-opacity="0.75" stroke="#444" stroke-width="0.7" stroke-opacity="0.75"/><ellipse cx="64.8" cy="245.3" rx="4.1" ry="4.5" transform="rotate(44 64.8 245.3)" fill="#b8b8b8" fill-opacity="0.75" stroke="#444" stroke-width="0.7" stroke-opacity="0.75"/><ellipse cx="74.3" cy="247.2" rx="4.3" ry="3.6" transform="rotate(175 74.3 247.2)" fill="#909090" fill-opacity="0.75" stroke="#444" stroke-width="0.7" stroke-opacity="0.75"/><circle cx="72.9" cy="246.6" r="0.8" fill="#2a2a2a" fill-opacity="0.72"/><circle cx="72.2" cy="248.2" r="0.6" fill="#2a2a2a" fill-opacity="0.69"/><circle cx="72.0" cy="246.6" r="1.1" fill="#2a2a2a" fill-opacity="0.75"/><circle cx="72.2" cy="246.7" r="1.0" fill="#2a2a2a" fill-opacity="0.47"/><circle cx="74.1" cy="246.2" r="0.7" fill="#2a2a2a" fill-opacity="0.60"/><circle cx="72.6" cy="245.8" r="1.1" fill="#2a2a2a" fill-opacity="0.70"/><ellipse cx="82.3" cy="245.3" rx="4.3" ry="4.1" transform="rotate(2 82.3 245.3)" fill="#acacac" fill-opacity="0.75" stroke="#444" stroke-width="0.7" stroke-opacity="0.75"/><ellipse cx="26.2" cy="254.2" rx="4.4" ry="4.7" transform="rotate(88 26.2 254.2)" fill="#a0a0a0" fill-opacity="0.75" stroke="#444" stroke-width="0.7" stroke-opacity="0.75"/><ellipse cx="42.7" cy="255.1" rx="4.8" ry="5.1" transform="rotate(175 42.7 255.1)" fill="#b8b8b8" fill-opacity="0.75" stroke="#444" stroke-width="0.7" stroke-opacity="0.75"/><ellipse cx="69.5" cy="253.5" rx="3.7" ry="3.0" transform="rotate(176 69.5 253.5)" fill="#acacac" fill-opacity="0.75" stroke="#444" stroke-width="0.7" stroke-opacity="0.75"/><circle cx="70.7" cy="252.6" r="0.6" fill="#2a2a2a" fill-opacity="0.73"/><circle cx="70.6" cy="252.5" r="0.6" fill="#2a2a2a" fill-opacity="0.55"/><circle cx="69.4" cy="253.5" r="0.9" fill="#2a2a2a" fill-opacity="0.63"/><circle cx="70.5" cy="251.9" r="0.7" fill="#2a2a2a" fill-opacity="0.48"/><circle cx="69.1" cy="254.3" r="0.9" fill="#2a2a2a" fill-opacity="0.41"/><circle cx="69.3" cy="254.2" r="0.9" fill="#2a2a2a" fill-opacity="0.72"/><ellipse cx="77.3" cy="254.0" rx="4.4" ry="3.6" transform="rotate(176 77.3 254.0)" fill="#555" fill-opacity="0.75" stroke="#444" stroke-width="0.7" stroke-opacity="0.75"/><ellipse cx="87.6" cy="255.1" rx="3.5" ry="3.8" transform="rotate(37 87.6 255.1)" fill="#b8b8b8" fill-opacity="0.75" stroke="#444" stroke-width="0.7" stroke-opacity="0.75"/><circle cx="89.1" cy="255.7" r="0.6" fill="#2a2a2a" fill-opacity="0.44"/><circle cx="85.7" cy="254.5" r="0.9" fill="#2a2a2a" fill-opacity="0.43"/><circle cx="86.0" cy="255.2" r="1.1" fill="#2a2a2a" fill-opacity="0.47"/><circle cx="87.6" cy="256.9" r="0.8" fill="#2a2a2a" fill-opacity="0.70"/><circle cx="87.2" cy="255.5" r="0.9" fill="#2a2a2a" fill-opacity="0.79"/><circle cx="87.6" cy="256.2" r="1.0" fill="#2a2a2a" fill-opacity="0.50"/><ellipse cx="31.1" cy="260.0" rx="4.0" ry="3.5" transform="rotate(63 31.1 260.0)" fill="#a0a0a0" fill-opacity="0.75" stroke="#444" stroke-width="0.7" stroke-opacity="0.75"/><ellipse cx="38.7" cy="261.6" rx="4.8" ry="3.9" transform="rotate(126 38.7 261.6)" fill="#828282" fill-opacity="0.75" stroke="#444" stroke-width="0.7" stroke-opacity="0.75"/><ellipse cx="55.9" cy="261.1" rx="3.9" ry="3.7" transform="rotate(75 55.9 261.1)" fill="#a0a0a0" fill-opacity="0.75" stroke="#444" stroke-width="0.7" stroke-opacity="0.75"/><ellipse cx="64.2" cy="262.5" rx="4.1" ry="4.4" transform="rotate(118 64.2 262.5)" fill="#3a3a3a" fill-opacity="0.75" stroke="#444" stroke-width="0.7" stroke-opacity="0.75"/><circle cx="65.6" cy="262.9" r="0.6" fill="#2a2a2a" fill-opacity="0.48"/><circle cx="63.7" cy="261.8" r="0.9" fill="#2a2a2a" fill-opacity="0.59"/><circle cx="62.1" cy="261.7" r="0.8" fill="#2a2a2a" fill-opacity="0.80"/><circle cx="66.1" cy="263.1" r="1.1" fill="#2a2a2a" fill-opacity="0.46"/><circle cx="62.8" cy="260.8" r="0.7" fill="#2a2a2a" fill-opacity="0.51"/><circle cx="64.3" cy="264.4" r="0.7" fill="#2a2a2a" fill-opacity="0.53"/><ellipse cx="73.3" cy="262.9" rx="4.8" ry="4.1" transform="rotate(99 73.3 262.9)" fill="#a0a0a0" fill-opacity="0.75" stroke="#444" stroke-width="0.7" stroke-opacity="0.75"/><circle cx="71.8" cy="261.1" r="1.0" fill="#2a2a2a" fill-opacity="0.60"/><circle cx="73.3" cy="260.8" r="1.0" fill="#2a2a2a" fill-opacity="0.79"/><circle cx="70.8" cy="265.1" r="0.8" fill="#2a2a2a" fill-opacity="0.45"/><circle cx="70.8" cy="263.8" r="1.0" fill="#2a2a2a" fill-opacity="0.56"/><circle cx="75.2" cy="260.7" r="1.0" fill="#2a2a2a" fill-opacity="0.46"/><circle cx="71.7" cy="262.2" r="0.7" fill="#2a2a2a" fill-opacity="0.76"/><ellipse cx="25.9" cy="268.4" rx="4.2" ry="4.5" transform="rotate(167 25.9 268.4)" fill="#4a4a4a" fill-opacity="0.75" stroke="#444" stroke-width="0.7" stroke-opacity="0.75"/><ellipse cx="36.3" cy="268.9" rx="3.6" ry="3.1" transform="rotate(4 36.3 268.9)" fill="#828282" fill-opacity="0.75" stroke="#444" stroke-width="0.7" stroke-opacity="0.75"/><circle cx="34.9" cy="270.1" r="0.9" fill="#2a2a2a" fill-opacity="0.66"/><circle cx="36.0" cy="268.1" r="0.5" fill="#2a2a2a" fill-opacity="0.78"/><circle cx="37.4" cy="269.8" r="0.5" fill="#2a2a2a" fill-opacity="0.40"/><circle cx="36.2" cy="267.5" r="0.9" fill="#2a2a2a" fill-opacity="0.52"/><circle cx="37.4" cy="267.7" r="0.8" fill="#2a2a2a" fill-opacity="0.56"/><circle cx="35.2" cy="268.3" r="0.6" fill="#2a2a2a" fill-opacity="0.52"/><ellipse cx="43.1" cy="268.6" rx="4.6" ry="4.3" transform="rotate(36 43.1 268.6)" fill="#909090" fill-opacity="0.75" stroke="#444" stroke-width="0.7" stroke-opacity="0.75"/><circle cx="44.8" cy="266.3" r="0.9" fill="#2a2a2a" fill-opacity="0.73"/><circle cx="41.8" cy="266.9" r="1.1" fill="#2a2a2a" fill-opacity="0.59"/><circle cx="42.8" cy="266.9" r="1.0" fill="#2a2a2a" fill-opacity="0.59"/><circle cx="42.7" cy="269.9" r="1.0" fill="#2a2a2a" fill-opacity="0.54"/><circle cx="40.8" cy="266.4" r="0.9" fill="#2a2a2a" fill-opacity="0.55"/><circle cx="43.0" cy="270.5" r="1.1" fill="#2a2a2a" fill-opacity="0.63"/><ellipse cx="52.4" cy="267.6" rx="3.4" ry="3.5" transform="rotate(46 52.4 267.6)" fill="#a0a0a0" fill-opacity="0.75" stroke="#444" stroke-width="0.7" stroke-opacity="0.75"/><circle cx="53.9" cy="269.4" r="0.8" fill="#2a2a2a" fill-opacity="0.70"/><circle cx="52.8" cy="268.3" r="0.9" fill="#2a2a2a" fill-opacity="0.68"/><circle cx="53.0" cy="267.5" r="0.6" fill="#2a2a2a" fill-opacity="0.53"/><circle cx="51.7" cy="268.3" r="0.6" fill="#2a2a2a" fill-opacity="0.68"/><circle cx="52.2" cy="269.2" r="0.8" fill="#2a2a2a" fill-opacity="0.70"/><circle cx="51.0" cy="266.2" r="1.0" fill="#2a2a2a" fill-opacity="0.73"/><ellipse cx="59.7" cy="268.7" rx="3.5" ry="3.5" transform="rotate(125 59.7 268.7)" fill="#b8b8b8" fill-opacity="0.75" stroke="#444" stroke-width="0.7" stroke-opacity="0.75"/><ellipse cx="67.9" cy="270.0" rx="3.8" ry="3.9" transform="rotate(89 67.9 270.0)" fill="#acacac" fill-opacity="0.75" stroke="#444" stroke-width="0.7" stroke-opacity="0.75"/><ellipse cx="86.9" cy="268.1" rx="4.2" ry="3.6" transform="rotate(134 86.9 268.1)" fill="#3a3a3a" fill-opacity="0.75" stroke="#444" stroke-width="0.7" stroke-opacity="0.75"/><circle cx="85.4" cy="268.2" r="0.6" fill="#2a2a2a" fill-opacity="0.57"/><circle cx="85.1" cy="268.6" r="1.1" fill="#2a2a2a" fill-opacity="0.65"/><circle cx="88.5" cy="266.3" r="0.8" fill="#2a2a2a" fill-opacity="0.59"/><circle cx="87.7" cy="269.1" r="0.8" fill="#2a2a2a" fill-opacity="0.60"/><circle cx="88.6" cy="268.5" r="0.9" fill="#2a2a2a" fill-opacity="0.65"/><circle cx="86.9" cy="266.6" r="0.6" fill="#2a2a2a" fill-opacity="0.73"/><rect x="28.1" y="211.1" width="56.9" height="56.9" fill="#000" fill-opacity="0.04"/></g>
<circle cx="33.7" cy="214.4" r="2.4" fill="#e4e8e6" fill-opacity="0.4"/><circle cx="33.7" cy="214.4" r="1.7" fill="#d60a12"/>
<circle cx="43.3" cy="220.9" r="2.4" fill="#e4e8e6" fill-opacity="0.4"/><circle cx="43.3" cy="220.9" r="1.7" fill="#d60a12"/>
<circle cx="48" cy="220" r="2.4" fill="#e4e8e6" fill-opacity="0.4"/><circle cx="48" cy="220" r="1.7" fill="#d60a12"/>
<circle cx="36.7" cy="227.5" r="2.4" fill="#e4e8e6" fill-opacity="0.4"/><circle cx="36.7" cy="227.5" r="1.7" fill="#d60a12"/>
<circle cx="58.2" cy="236.4" r="2.4" fill="#e4e8e6" fill-opacity="0.4"/><circle cx="58.2" cy="236.4" r="1.7" fill="#d60a12"/>
<circle cx="57.2" cy="241.4" r="2.4" fill="#e4e8e6" fill-opacity="0.4"/><circle cx="57.2" cy="241.4" r="1.7" fill="#d60a12"/>
<circle cx="63.5" cy="240.2" r="2.4" fill="#e4e8e6" fill-opacity="0.4"/><circle cx="63.5" cy="240.2" r="1.7" fill="#d60a12"/>
<circle cx="36.5" cy="243.3" r="2.4" fill="#e4e8e6" fill-opacity="0.4"/><circle cx="36.5" cy="243.3" r="1.7" fill="#d60a12"/>
<circle cx="51.3" cy="244.5" r="2.4" fill="#e4e8e6" fill-opacity="0.4"/><circle cx="51.3" cy="244.5" r="1.7" fill="#d60a12"/>
<circle cx="39.3" cy="250.7" r="2.4" fill="#e4e8e6" fill-opacity="0.4"/><circle cx="39.3" cy="250.7" r="1.7" fill="#d60a12"/>
<circle cx="79.4" cy="248.9" r="2.4" fill="#e4e8e6" fill-opacity="0.4"/><circle cx="79.4" cy="248.9" r="1.7" fill="#d60a12"/>
<circle cx="79.9" cy="256.1" r="2.4" fill="#e4e8e6" fill-opacity="0.4"/><circle cx="79.9" cy="256.1" r="1.7" fill="#d60a12"/>
<path d="M38.0,219.1 L40.3,215.2 L42.6,219.1 Z" fill="#48a2ea"/>
<path d="M44.2,217.4 L46.5,213.5 L48.8,217.4 Z" fill="#48a2ea"/>
<path d="M40.4,232.6 L42.7,228.7 L45.0,232.6 Z" fill="#48a2ea"/>
<path d="M40.6,245.6 L42.9,241.7 L45.2,245.6 Z" fill="#48a2ea"/>
<path d="M57.1,249.2 L59.4,245.3 L61.7,249.2 Z" fill="#48a2ea"/>
<path d="M71.6,254.3 L73.9,250.4 L76.2,254.3 Z" fill="#48a2ea"/>
<rect x="87.7" y="211.1" width="56.6" height="56.9" fill="#fff" filter="url(#mic1)"/>
<g clip-path="url(#mc1)"><ellipse cx="84.3" cy="208.2" rx="4.7" ry="4.3" transform="rotate(130 84.3 208.2)" fill="#555" fill-opacity="0.75" stroke="#444" stroke-width="0.7" stroke-opacity="0.75"/><circle cx="82.1" cy="209.1" r="1.1" fill="#2a2a2a" fill-opacity="0.59"/><circle cx="84.9" cy="208.4" r="1.0" fill="#2a2a2a" fill-opacity="0.61"/><circle cx="84.3" cy="209.5" r="0.6" fill="#2a2a2a" fill-opacity="0.52"/><circle cx="86.5" cy="207.9" r="0.7" fill="#2a2a2a" fill-opacity="0.41"/><circle cx="84.5" cy="209.3" r="0.8" fill="#2a2a2a" fill-opacity="0.57"/><circle cx="86.5" cy="208.4" r="0.6" fill="#2a2a2a" fill-opacity="0.59"/><ellipse cx="95.0" cy="209.1" rx="4.5" ry="3.9" transform="rotate(104 95.0 209.1)" fill="#3a3a3a" fill-opacity="0.75" stroke="#444" stroke-width="0.7" stroke-opacity="0.75"/><ellipse cx="102.0" cy="208.6" rx="4.0" ry="4.3" transform="rotate(77 102.0 208.6)" fill="#4a4a4a" fill-opacity="0.75" stroke="#444" stroke-width="0.7" stroke-opacity="0.75"/><circle cx="100.6" cy="206.9" r="1.1" fill="#2a2a2a" fill-opacity="0.75"/><circle cx="100.4" cy="207.4" r="0.8" fill="#2a2a2a" fill-opacity="0.46"/><circle cx="100.1" cy="209.0" r="0.8" fill="#2a2a2a" fill-opacity="0.60"/><circle cx="102.1" cy="207.7" r="0.7" fill="#2a2a2a" fill-opacity="0.59"/><circle cx="103.9" cy="207.4" r="0.7" fill="#2a2a2a" fill-opacity="0.63"/><circle cx="100.9" cy="208.0" r="0.8" fill="#2a2a2a" fill-opacity="0.55"/><ellipse cx="112.6" cy="210.6" rx="4.4" ry="3.8" transform="rotate(67 112.6 210.6)" fill="#a0a0a0" fill-opacity="0.75" stroke="#444" stroke-width="0.7" stroke-opacity="0.75"/><ellipse cx="127.6" cy="210.2" rx="4.0" ry="3.3" transform="rotate(72 127.6 210.2)" fill="#acacac" fill-opacity="0.75" stroke="#444" stroke-width="0.7" stroke-opacity="0.75"/><circle cx="127.0" cy="208.7" r="0.9" fill="#2a2a2a" fill-opacity="0.79"/><circle cx="126.4" cy="211.3" r="0.9" fill="#2a2a2a" fill-opacity="0.59"/><circle cx="129.4" cy="209.8" r="1.0" fill="#2a2a2a" fill-opacity="0.41"/><circle cx="129.7" cy="209.1" r="0.5" fill="#2a2a2a" fill-opacity="0.75"/><circle cx="128.6" cy="210.9" r="1.0" fill="#2a2a2a" fill-opacity="0.55"/><circle cx="125.9" cy="209.6" r="1.1" fill="#2a2a2a" fill-opacity="0.79"/><ellipse cx="136.4" cy="208.9" rx="4.7" ry="3.5" transform="rotate(149 136.4 208.9)" fill="#b8b8b8" fill-opacity="0.75" stroke="#444" stroke-width="0.7" stroke-opacity="0.75"/><circle cx="135.7" cy="209.8" r="0.6" fill="#2a2a2a" fill-opacity="0.49"/><circle cx="137.3" cy="208.3" r="0.9" fill="#2a2a2a" fill-opacity="0.52"/><circle cx="134.8" cy="207.9" r="1.0" fill="#2a2a2a" fill-opacity="0.44"/><circle cx="138.8" cy="207.1" r="0.5" fill="#2a2a2a" fill-opacity="0.79"/><circle cx="135.7" cy="209.5" r="0.7" fill="#2a2a2a" fill-opacity="0.65"/><circle cx="133.9" cy="209.7" r="0.5" fill="#2a2a2a" fill-opacity="0.62"/><ellipse cx="144.4" cy="210.5" rx="4.4" ry="4.2" transform="rotate(41 144.4 210.5)" fill="#a0a0a0" fill-opacity="0.75" stroke="#444" stroke-width="0.7" stroke-opacity="0.75"/><ellipse cx="90.1" cy="215.4" rx="3.7" ry="3.0" transform="rotate(16 90.1 215.4)" fill="#909090" fill-opacity="0.75" stroke="#444" stroke-width="0.7" stroke-opacity="0.75"/><ellipse cx="107.4" cy="217.8" rx="4.6" ry="3.8" transform="rotate(54 107.4 217.8)" fill="#a0a0a0" fill-opacity="0.75" stroke="#444" stroke-width="0.7" stroke-opacity="0.75"/><ellipse cx="123.6" cy="217.9" rx="4.8" ry="4.8" transform="rotate(0 123.6 217.9)" fill="#909090" fill-opacity="0.75" stroke="#444" stroke-width="0.7" stroke-opacity="0.75"/><circle cx="122.2" cy="216.6" r="0.9" fill="#2a2a2a" fill-opacity="0.40"/><circle cx="125.3" cy="218.9" r="1.0" fill="#2a2a2a" fill-opacity="0.51"/><circle cx="121.7" cy="217.3" r="1.0" fill="#2a2a2a" fill-opacity="0.55"/><circle cx="124.0" cy="218.3" r="1.0" fill="#2a2a2a" fill-opacity="0.77"/><circle cx="122.3" cy="219.0" r="1.0" fill="#2a2a2a" fill-opacity="0.46"/><circle cx="122.8" cy="218.1" r="1.0" fill="#2a2a2a" fill-opacity="0.55"/><ellipse cx="132.0" cy="217.2" rx="4.8" ry="3.6" transform="rotate(66 132.0 217.2)" fill="#b8b8b8" fill-opacity="0.75" stroke="#444" stroke-width="0.7" stroke-opacity="0.75"/><ellipse cx="86.9" cy="223.9" rx="3.4" ry="2.7" transform="rotate(72 86.9 223.9)" fill="#a0a0a0" fill-opacity="0.75" stroke="#444" stroke-width="0.7" stroke-opacity="0.75"/><circle cx="87.4" cy="223.4" r="0.8" fill="#2a2a2a" fill-opacity="0.67"/><circle cx="85.7" cy="224.3" r="1.1" fill="#2a2a2a" fill-opacity="0.43"/><circle cx="88.2" cy="224.5" r="0.7" fill="#2a2a2a" fill-opacity="0.71"/><circle cx="85.3" cy="222.9" r="1.1" fill="#2a2a2a" fill-opacity="0.65"/><circle cx="85.7" cy="222.8" r="0.8" fill="#2a2a2a" fill-opacity="0.62"/><circle cx="88.8" cy="223.0" r="0.9" fill="#2a2a2a" fill-opacity="0.58"/><ellipse cx="112.2" cy="223.3" rx="4.4" ry="4.7" transform="rotate(62 112.2 223.3)" fill="#b8b8b8" fill-opacity="0.75" stroke="#444" stroke-width="0.7" stroke-opacity="0.75"/><circle cx="110.2" cy="225.9" r="0.9" fill="#2a2a2a" fill-opacity="0.49"/><circle cx="112.1" cy="224.2" r="0.8" fill="#2a2a2a" fill-opacity="0.62"/><circle cx="111.2" cy="224.8" r="0.7" fill="#2a2a2a" fill-opacity="0.50"/><circle cx="110.0" cy="222.8" r="0.7" fill="#2a2a2a" fill-opacity="0.76"/><circle cx="112.1" cy="221.2" r="1.0" fill="#2a2a2a" fill-opacity="0.44"/><circle cx="114.5" cy="222.6" r="1.0" fill="#2a2a2a" fill-opacity="0.71"/><ellipse cx="121.6" cy="223.2" rx="4.8" ry="3.7" transform="rotate(69 121.6 223.2)" fill="#a0a0a0" fill-opacity="0.75" stroke="#444" stroke-width="0.7" stroke-opacity="0.75"/><ellipse cx="138.1" cy="223.5" rx="4.1" ry="4.1" transform="rotate(48 138.1 223.5)" fill="#a0a0a0" fill-opacity="0.75" stroke="#444" stroke-width="0.7" stroke-opacity="0.75"/><circle cx="139.0" cy="225.4" r="0.9" fill="#2a2a2a" fill-opacity="0.60"/><circle cx="136.3" cy="222.2" r="1.1" fill="#2a2a2a" fill-opacity="0.65"/><circle cx="137.3" cy="223.3" r="0.5" fill="#2a2a2a" fill-opacity="0.43"/><circle cx="140.1" cy="222.1" r="0.8" fill="#2a2a2a" fill-opacity="0.43"/><circle cx="140.3" cy="224.0" r="0.7" fill="#2a2a2a" fill-opacity="0.75"/><circle cx="138.2" cy="223.3" r="1.1" fill="#2a2a2a" fill-opacity="0.66"/><ellipse cx="147.5" cy="225.0" rx="3.8" ry="2.9" transform="rotate(54 147.5 225.0)" fill="#acacac" fill-opacity="0.75" stroke="#444" stroke-width="0.7" stroke-opacity="0.75"/><circle cx="148.2" cy="224.9" r="0.8" fill="#2a2a2a" fill-opacity="0.69"/><circle cx="146.7" cy="225.5" r="0.9" fill="#2a2a2a" fill-opacity="0.43"/><circle cx="146.1" cy="226.1" r="0.5" fill="#2a2a2a" fill-opacity="0.76"/><circle cx="146.1" cy="225.3" r="0.7" fill="#2a2a2a" fill-opacity="0.64"/><circle cx="148.8" cy="225.3" r="0.5" fill="#2a2a2a" fill-opacity="0.49"/><circle cx="146.1" cy="223.9" r="0.8" fill="#2a2a2a" fill-opacity="0.52"/><ellipse cx="90.8" cy="231.1" rx="4.6" ry="3.7" transform="rotate(43 90.8 231.1)" fill="#acacac" fill-opacity="0.75" stroke="#444" stroke-width="0.7" stroke-opacity="0.75"/><ellipse cx="116.0" cy="231.7" rx="4.5" ry="3.4" transform="rotate(141 116.0 231.7)" fill="#acacac" fill-opacity="0.75" stroke="#444" stroke-width="0.7" stroke-opacity="0.75"/><ellipse cx="122.9" cy="232.2" rx="3.6" ry="3.1" transform="rotate(53 122.9 232.2)" fill="#a0a0a0" fill-opacity="0.75" stroke="#444" stroke-width="0.7" stroke-opacity="0.75"/><ellipse cx="85.3" cy="238.0" rx="3.7" ry="3.2" transform="rotate(138 85.3 238.0)" fill="#909090" fill-opacity="0.75" stroke="#444" stroke-width="0.7" stroke-opacity="0.75"/><circle cx="85.1" cy="236.3" r="0.9" fill="#2a2a2a" fill-opacity="0.76"/><circle cx="84.1" cy="238.9" r="0.7" fill="#2a2a2a" fill-opacity="0.76"/><circle cx="84.4" cy="238.6" r="0.9" fill="#2a2a2a" fill-opacity="0.68"/><circle cx="86.4" cy="239.7" r="1.0" fill="#2a2a2a" fill-opacity="0.75"/><circle cx="86.0" cy="238.2" r="0.6" fill="#2a2a2a" fill-opacity="0.56"/><circle cx="84.1" cy="236.5" r="0.7" fill="#2a2a2a" fill-opacity="0.61"/><ellipse cx="95.8" cy="239.2" rx="4.8" ry="4.1" transform="rotate(83 95.8 239.2)" fill="#acacac" fill-opacity="0.75" stroke="#444" stroke-width="0.7" stroke-opacity="0.75"/><ellipse cx="101.3" cy="240.3" rx="4.1" ry="3.9" transform="rotate(148 101.3 240.3)" fill="#828282" fill-opacity="0.75" stroke="#444" stroke-width="0.7" stroke-opacity="0.75"/><circle cx="102.2" cy="240.6" r="0.8" fill="#2a2a2a" fill-opacity="0.72"/><circle cx="102.1" cy="240.4" r="0.7" fill="#2a2a2a" fill-opacity="0.46"/><circle cx="100.9" cy="241.8" r="0.7" fill="#2a2a2a" fill-opacity="0.77"/><circle cx="100.1" cy="241.1" r="0.7" fill="#2a2a2a" fill-opacity="0.74"/><circle cx="99.3" cy="240.3" r="0.6" fill="#2a2a2a" fill-opacity="0.67"/><circle cx="103.5" cy="241.0" r="1.0" fill="#2a2a2a" fill-opacity="0.61"/><ellipse cx="120.0" cy="238.2" rx="3.8" ry="3.7" transform="rotate(6 120.0 238.2)" fill="#acacac" fill-opacity="0.75" stroke="#444" stroke-width="0.7" stroke-opacity="0.75"/><ellipse cx="129.3" cy="238.2" rx="4.6" ry="4.6" transform="rotate(97 129.3 238.2)" fill="#a0a0a0" fill-opacity="0.75" stroke="#444" stroke-width="0.7" stroke-opacity="0.75"/><circle cx="127.0" cy="237.8" r="0.8" fill="#2a2a2a" fill-opacity="0.65"/><circle cx="131.5" cy="240.4" r="0.8" fill="#2a2a2a" fill-opacity="0.51"/><circle cx="129.9" cy="237.9" r="0.9" fill="#2a2a2a" fill-opacity="0.77"/><circle cx="130.6" cy="240.6" r="1.0" fill="#2a2a2a" fill-opacity="0.71"/><circle cx="131.8" cy="239.3" r="0.9" fill="#2a2a2a" fill-opacity="0.67"/><circle cx="131.7" cy="238.3" r="0.7" fill="#2a2a2a" fill-opacity="0.65"/><ellipse cx="136.3" cy="239.9" rx="3.9" ry="3.8" transform="rotate(128 136.3 239.9)" fill="#828282" fill-opacity="0.75" stroke="#444" stroke-width="0.7" stroke-opacity="0.75"/><ellipse cx="144.6" cy="238.7" rx="4.3" ry="3.4" transform="rotate(157 144.6 238.7)" fill="#a0a0a0" fill-opacity="0.75" stroke="#444" stroke-width="0.7" stroke-opacity="0.75"/><ellipse cx="98.4" cy="245.1" rx="4.5" ry="4.4" transform="rotate(52 98.4 245.1)" fill="#828282" fill-opacity="0.75" stroke="#444" stroke-width="0.7" stroke-opacity="0.75"/><circle cx="97.3" cy="244.3" r="0.9" fill="#2a2a2a" fill-opacity="0.68"/><circle cx="100.2" cy="243.3" r="1.1" fill="#2a2a2a" fill-opacity="0.46"/><circle cx="99.4" cy="244.5" r="1.0" fill="#2a2a2a" fill-opacity="0.44"/><circle cx="96.9" cy="243.9" r="1.0" fill="#2a2a2a" fill-opacity="0.51"/><circle cx="98.0" cy="244.4" r="0.8" fill="#2a2a2a" fill-opacity="0.63"/><circle cx="100.8" cy="243.9" r="0.8" fill="#2a2a2a" fill-opacity="0.61"/><ellipse cx="108.5" cy="246.9" rx="4.0" ry="4.4" transform="rotate(98 108.5 246.9)" fill="#909090" fill-opacity="0.75" stroke="#444" stroke-width="0.7" stroke-opacity="0.75"/><circle cx="109.2" cy="248.2" r="0.8" fill="#2a2a2a" fill-opacity="0.77"/><circle cx="108.5" cy="245.2" r="0.7" fill="#2a2a2a" fill-opacity="0.53"/><circle cx="108.5" cy="246.3" r="1.0" fill="#2a2a2a" fill-opacity="0.65"/><circle cx="109.8" cy="247.3" r="0.5" fill="#2a2a2a" fill-opacity="0.47"/><circle cx="106.8" cy="247.9" r="0.7" fill="#2a2a2a" fill-opacity="0.73"/><circle cx="110.2" cy="248.6" r="0.9" fill="#2a2a2a" fill-opacity="0.49"/><ellipse cx="125.4" cy="247.7" rx="3.5" ry="3.1" transform="rotate(109 125.4 247.7)" fill="#828282" fill-opacity="0.75" stroke="#444" stroke-width="0.7" stroke-opacity="0.75"/><ellipse cx="134.1" cy="247.9" rx="4.7" ry="3.7" transform="rotate(110 134.1 247.9)" fill="#a0a0a0" fill-opacity="0.75" stroke="#444" stroke-width="0.7" stroke-opacity="0.75"/><ellipse cx="140.5" cy="245.2" rx="3.7" ry="2.9" transform="rotate(51 140.5 245.2)" fill="#828282" fill-opacity="0.75" stroke="#444" stroke-width="0.7" stroke-opacity="0.75"/><circle cx="140.6" cy="243.8" r="0.7" fill="#2a2a2a" fill-opacity="0.51"/><circle cx="139.5" cy="246.0" r="0.8" fill="#2a2a2a" fill-opacity="0.71"/><circle cx="142.2" cy="246.6" r="0.6" fill="#2a2a2a" fill-opacity="0.67"/><circle cx="139.0" cy="243.7" r="0.9" fill="#2a2a2a" fill-opacity="0.61"/><circle cx="139.1" cy="244.5" r="0.9" fill="#2a2a2a" fill-opacity="0.64"/><circle cx="138.9" cy="246.3" r="0.5" fill="#2a2a2a" fill-opacity="0.56"/><ellipse cx="86.1" cy="253.2" rx="4.1" ry="4.4" transform="rotate(29 86.1 253.2)" fill="#4a4a4a" fill-opacity="0.75" stroke="#444" stroke-width="0.7" stroke-opacity="0.75"/><circle cx="85.6" cy="251.3" r="0.7" fill="#2a2a2a" fill-opacity="0.78"/><circle cx="84.9" cy="252.4" r="0.7" fill="#2a2a2a" fill-opacity="0.53"/><circle cx="85.9" cy="253.4" r="0.5" fill="#2a2a2a" fill-opacity="0.58"/><circle cx="85.4" cy="252.6" r="0.6" fill="#2a2a2a" fill-opacity="0.47"/><circle cx="87.4" cy="250.9" r="0.7" fill="#2a2a2a" fill-opacity="0.75"/><circle cx="87.6" cy="250.8" r="0.9" fill="#2a2a2a" fill-opacity="0.76"/><ellipse cx="95.6" cy="253.2" rx="4.6" ry="3.8" transform="rotate(157 95.6 253.2)" fill="#3a3a3a" fill-opacity="0.75" stroke="#444" stroke-width="0.7" stroke-opacity="0.75"/><circle cx="94.9" cy="253.0" r="0.5" fill="#2a2a2a" fill-opacity="0.40"/><circle cx="96.8" cy="252.9" r="0.5" fill="#2a2a2a" fill-opacity="0.58"/><circle cx="96.3" cy="252.5" r="0.6" fill="#2a2a2a" fill-opacity="0.75"/><circle cx="97.1" cy="253.2" r="0.9" fill="#2a2a2a" fill-opacity="0.67"/><circle cx="96.0" cy="252.5" r="0.7" fill="#2a2a2a" fill-opacity="0.49"/><circle cx="94.9" cy="251.4" r="1.0" fill="#2a2a2a" fill-opacity="0.52"/><ellipse cx="111.8" cy="253.0" rx="4.0" ry="3.7" transform="rotate(109 111.8 253.0)" fill="#acacac" fill-opacity="0.75" stroke="#444" stroke-width="0.7" stroke-opacity="0.75"/><ellipse cx="120.2" cy="255.5" rx="3.7" ry="3.1" transform="rotate(160 120.2 255.5)" fill="#909090" fill-opacity="0.75" stroke="#444" stroke-width="0.7" stroke-opacity="0.75"/><ellipse cx="129.3" cy="254.9" rx="4.6" ry="3.9" transform="rotate(143 129.3 254.9)" fill="#b8b8b8" fill-opacity="0.75" stroke="#444" stroke-width="0.7" stroke-opacity="0.75"/><ellipse cx="136.5" cy="253.6" rx="4.1" ry="3.7" transform="rotate(90 136.5 253.6)" fill="#acacac" fill-opacity="0.75" stroke="#444" stroke-width="0.7" stroke-opacity="0.75"/><circle cx="134.9" cy="255.1" r="1.0" fill="#2a2a2a" fill-opacity="0.47"/><circle cx="138.6" cy="252.1" r="0.7" fill="#2a2a2a" fill-opacity="0.63"/><circle cx="137.4" cy="253.6" r="0.7" fill="#2a2a2a" fill-opacity="0.69"/><circle cx="134.5" cy="251.6" r="0.9" fill="#2a2a2a" fill-opacity="0.64"/><circle cx="135.6" cy="254.7" r="0.8" fill="#2a2a2a" fill-opacity="0.71"/><circle cx="134.2" cy="252.3" r="0.6" fill="#2a2a2a" fill-opacity="0.46"/><ellipse cx="145.5" cy="255.4" rx="4.6" ry="4.4" transform="rotate(40 145.5 255.4)" fill="#b8b8b8" fill-opacity="0.75" stroke="#444" stroke-width="0.7" stroke-opacity="0.75"/><ellipse cx="89.1" cy="261.7" rx="3.9" ry="4.3" transform="rotate(82 89.1 261.7)" fill="#4a4a4a" fill-opacity="0.75" stroke="#444" stroke-width="0.7" stroke-opacity="0.75"/><circle cx="88.2" cy="259.7" r="0.6" fill="#2a2a2a" fill-opacity="0.79"/><circle cx="91.0" cy="261.5" r="1.1" fill="#2a2a2a" fill-opacity="0.48"/><circle cx="87.5" cy="261.1" r="0.8" fill="#2a2a2a" fill-opacity="0.48"/><circle cx="87.3" cy="262.0" r="1.1" fill="#2a2a2a" fill-opacity="0.41"/><circle cx="89.9" cy="261.1" r="0.8" fill="#2a2a2a" fill-opacity="0.53"/><circle cx="88.9" cy="263.8" r="0.9" fill="#2a2a2a" fill-opacity="0.48"/><ellipse cx="117.4" cy="262.3" rx="4.3" ry="4.1" transform="rotate(63 117.4 262.3)" fill="#b8b8b8" fill-opacity="0.75" stroke="#444" stroke-width="0.7" stroke-opacity="0.75"/><ellipse cx="123.2" cy="260.0" rx="4.5" ry="4.8" transform="rotate(130 123.2 260.0)" fill="#828282" fill-opacity="0.75" stroke="#444" stroke-width="0.7" stroke-opacity="0.75"/><ellipse cx="132.8" cy="262.1" rx="4.1" ry="3.3" transform="rotate(169 132.8 262.1)" fill="#b8b8b8" fill-opacity="0.75" stroke="#444" stroke-width="0.7" stroke-opacity="0.75"/><ellipse cx="140.9" cy="261.8" rx="3.5" ry="3.7" transform="rotate(176 140.9 261.8)" fill="#909090" fill-opacity="0.75" stroke="#444" stroke-width="0.7" stroke-opacity="0.75"/><circle cx="142.3" cy="262.2" r="0.8" fill="#2a2a2a" fill-opacity="0.57"/><circle cx="140.1" cy="261.1" r="0.7" fill="#2a2a2a" fill-opacity="0.62"/><circle cx="139.3" cy="260.3" r="1.0" fill="#2a2a2a" fill-opacity="0.46"/><circle cx="138.9" cy="263.5" r="0.6" fill="#2a2a2a" fill-opacity="0.70"/><circle cx="140.2" cy="263.6" r="0.6" fill="#2a2a2a" fill-opacity="0.50"/><circle cx="141.5" cy="260.4" r="0.7" fill="#2a2a2a" fill-opacity="0.57"/><ellipse cx="86.7" cy="269.4" rx="3.8" ry="2.9" transform="rotate(176 86.7 269.4)" fill="#a0a0a0" fill-opacity="0.75" stroke="#444" stroke-width="0.7" stroke-opacity="0.75"/><ellipse cx="119.8" cy="268.0" rx="3.7" ry="3.3" transform="rotate(42 119.8 268.0)" fill="#acacac" fill-opacity="0.75" stroke="#444" stroke-width="0.7" stroke-opacity="0.75"/><circle cx="119.0" cy="268.0" r="0.7" fill="#2a2a2a" fill-opacity="0.49"/><circle cx="120.6" cy="267.0" r="0.7" fill="#2a2a2a" fill-opacity="0.54"/><circle cx="117.9" cy="269.5" r="0.9" fill="#2a2a2a" fill-opacity="0.42"/><circle cx="117.9" cy="267.0" r="0.6" fill="#2a2a2a" fill-opacity="0.50"/><circle cx="120.8" cy="269.3" r="1.0" fill="#2a2a2a" fill-opacity="0.41"/><circle cx="120.7" cy="268.7" r="0.9" fill="#2a2a2a" fill-opacity="0.48"/><ellipse cx="129.0" cy="267.8" rx="4.5" ry="4.6" transform="rotate(151 129.0 267.8)" fill="#828282" fill-opacity="0.75" stroke="#444" stroke-width="0.7" stroke-opacity="0.75"/><circle cx="129.4" cy="268.1" r="0.8" fill="#2a2a2a" fill-opacity="0.53"/><circle cx="130.6" cy="265.6" r="0.8" fill="#2a2a2a" fill-opacity="0.47"/><circle cx="128.2" cy="268.6" r="0.8" fill="#2a2a2a" fill-opacity="0.49"/><circle cx="127.4" cy="268.4" r="0.6" fill="#2a2a2a" fill-opacity="0.70"/><circle cx="130.3" cy="266.2" r="0.8" fill="#2a2a2a" fill-opacity="0.61"/><circle cx="130.0" cy="269.1" r="0.6" fill="#2a2a2a" fill-opacity="0.55"/><ellipse cx="137.6" cy="268.1" rx="3.5" ry="3.5" transform="rotate(112 137.6 268.1)" fill="#3a3a3a" fill-opacity="0.75" stroke="#444" stroke-width="0.7" stroke-opacity="0.75"/><ellipse cx="144.6" cy="269.2" rx="4.7" ry="5.0" transform="rotate(79 144.6 269.2)" fill="#909090" fill-opacity="0.75" stroke="#444" stroke-width="0.7" stroke-opacity="0.75"/><circle cx="145.1" cy="267.5" r="1.0" fill="#2a2a2a" fill-opacity="0.66"/><circle cx="144.4" cy="266.4" r="0.7" fill="#2a2a2a" fill-opacity="0.74"/><circle cx="146.2" cy="271.9" r="0.7" fill="#2a2a2a" fill-opacity="0.59"/><circle cx="143.1" cy="270.6" r="0.7" fill="#2a2a2a" fill-opacity="0.42"/><circle cx="144.6" cy="267.5" r="1.0" fill="#2a2a2a" fill-opacity="0.70"/><circle cx="142.3" cy="269.4" r="0.8" fill="#2a2a2a" fill-opacity="0.57"/><ellipse cx="99.5" cy="214.70000000000002" rx="4.1" ry="3.8" fill="#6c6c6c" stroke="#383838" stroke-width="1.0"/><ellipse cx="115.4" cy="215.9" rx="4.1" ry="3.8" fill="#6c6c6c" stroke="#383838" stroke-width="1.0"/><ellipse cx="136.8" cy="218.3" rx="4.1" ry="3.8" fill="#6c6c6c" stroke="#383838" stroke-width="1.0"/><ellipse cx="96" cy="226.60000000000002" rx="4.1" ry="3.8" fill="#6c6c6c" stroke="#383838" stroke-width="1.0"/><ellipse cx="105.9" cy="227.4" rx="4.1" ry="3.8" fill="#6c6c6c" stroke="#383838" stroke-width="1.0"/><ellipse cx="99.3" cy="233.10000000000002" rx="4.1" ry="3.8" fill="#6c6c6c" stroke="#383838" stroke-width="1.0"/><ellipse cx="115" cy="245.10000000000002" rx="4.1" ry="3.8" fill="#6c6c6c" stroke="#383838" stroke-width="1.0"/></g>
<circle cx="105.9" cy="217.3" r="2.4" fill="#e4e8e6" fill-opacity="0.4"/><circle cx="105.9" cy="217.3" r="1.7" fill="#d60a12"/>
<circle cx="119.6" cy="234" r="2.4" fill="#e4e8e6" fill-opacity="0.4"/><circle cx="119.6" cy="234" r="1.7" fill="#d60a12"/>
<circle cx="140.1" cy="244.5" r="2.4" fill="#e4e8e6" fill-opacity="0.4"/><circle cx="140.1" cy="244.5" r="1.7" fill="#d60a12"/>
<path d="M97.2,216.2 L99.5,212.3 L101.8,216.2 Z" fill="#48a2ea"/>
<path d="M113.1,217.4 L115.4,213.5 L117.7,217.4 Z" fill="#48a2ea"/>
<path d="M134.5,219.8 L136.8,215.9 L139.1,219.8 Z" fill="#48a2ea"/>
<path d="M93.7,228.1 L96.0,224.2 L98.3,228.1 Z" fill="#48a2ea"/>
<path d="M103.6,228.9 L105.9,225.0 L108.2,228.9 Z" fill="#48a2ea"/>
<path d="M97.0,234.6 L99.3,230.7 L101.6,234.6 Z" fill="#48a2ea"/>
<path d="M112.7,246.6 L115.0,242.7 L117.3,246.6 Z" fill="#48a2ea"/>
<rect x="28.1" y="271.1" width="56.9" height="55.9" fill="#fff" filter="url(#mic2)"/>
<g clip-path="url(#mc2)"><ellipse cx="44.6" cy="268.1" rx="4.3" ry="3.9" transform="rotate(174 44.6 268.1)" fill="#acacac" fill-opacity="0.75" stroke="#444" stroke-width="0.7" stroke-opacity="0.75"/><circle cx="45.4" cy="266.2" r="0.7" fill="#2a2a2a" fill-opacity="0.61"/><circle cx="46.5" cy="269.2" r="1.0" fill="#2a2a2a" fill-opacity="0.67"/><circle cx="46.1" cy="267.1" r="0.7" fill="#2a2a2a" fill-opacity="0.71"/><circle cx="43.4" cy="269.7" r="0.7" fill="#2a2a2a" fill-opacity="0.76"/><circle cx="46.9" cy="270.2" r="0.5" fill="#2a2a2a" fill-opacity="0.55"/><circle cx="45.3" cy="269.3" r="0.8" fill="#2a2a2a" fill-opacity="0.53"/><ellipse cx="51.4" cy="269.6" rx="3.9" ry="3.9" transform="rotate(158 51.4 269.6)" fill="#b8b8b8" fill-opacity="0.75" stroke="#444" stroke-width="0.7" stroke-opacity="0.75"/><ellipse cx="67.5" cy="268.8" rx="4.6" ry="4.6" transform="rotate(70 67.5 268.8)" fill="#828282" fill-opacity="0.75" stroke="#444" stroke-width="0.7" stroke-opacity="0.75"/><circle cx="67.3" cy="270.6" r="0.8" fill="#2a2a2a" fill-opacity="0.40"/><circle cx="66.9" cy="270.1" r="0.7" fill="#2a2a2a" fill-opacity="0.67"/><circle cx="66.2" cy="271.0" r="0.9" fill="#2a2a2a" fill-opacity="0.69"/><circle cx="69.4" cy="270.5" r="1.0" fill="#2a2a2a" fill-opacity="0.76"/><circle cx="68.7" cy="268.7" r="0.9" fill="#2a2a2a" fill-opacity="0.75"/><circle cx="69.7" cy="267.7" r="0.7" fill="#2a2a2a" fill-opacity="0.78"/><ellipse cx="77.4" cy="269.0" rx="4.5" ry="4.0" transform="rotate(137 77.4 269.0)" fill="#828282" fill-opacity="0.75" stroke="#444" stroke-width="0.7" stroke-opacity="0.75"/><circle cx="79.6" cy="270.8" r="0.7" fill="#2a2a2a" fill-opacity="0.78"/><circle cx="79.4" cy="267.6" r="0.9" fill="#2a2a2a" fill-opacity="0.54"/><circle cx="77.0" cy="270.9" r="0.7" fill="#2a2a2a" fill-opacity="0.66"/><circle cx="76.8" cy="270.6" r="0.9" fill="#2a2a2a" fill-opacity="0.41"/><circle cx="78.6" cy="270.7" r="0.5" fill="#2a2a2a" fill-opacity="0.59"/><circle cx="78.9" cy="270.5" r="0.5" fill="#2a2a2a" fill-opacity="0.45"/><ellipse cx="87.5" cy="268.1" rx="3.5" ry="3.4" transform="rotate(2 87.5 268.1)" fill="#b8b8b8" fill-opacity="0.75" stroke="#444" stroke-width="0.7" stroke-opacity="0.75"/><ellipse cx="28.8" cy="278.0" rx="4.7" ry="4.8" transform="rotate(25 28.8 278.0)" fill="#3a3a3a" fill-opacity="0.75" stroke="#444" stroke-width="0.7" stroke-opacity="0.75"/><circle cx="27.3" cy="278.3" r="0.9" fill="#2a2a2a" fill-opacity="0.53"/><circle cx="26.7" cy="280.1" r="0.8" fill="#2a2a2a" fill-opacity="0.52"/><circle cx="26.4" cy="278.9" r="1.0" fill="#2a2a2a" fill-opacity="0.72"/><circle cx="28.8" cy="276.9" r="0.7" fill="#2a2a2a" fill-opacity="0.61"/><circle cx="29.9" cy="275.8" r="0.7" fill="#2a2a2a" fill-opacity="0.70"/><circle cx="27.6" cy="279.9" r="0.8" fill="#2a2a2a" fill-opacity="0.74"/><ellipse cx="38.2" cy="275.5" rx="3.6" ry="3.3" transform="rotate(83 38.2 275.5)" fill="#909090" fill-opacity="0.75" stroke="#444" stroke-width="0.7" stroke-opacity="0.75"/><circle cx="36.3" cy="274.3" r="0.6" fill="#2a2a2a" fill-opacity="0.69"/><circle cx="37.2" cy="276.0" r="1.0" fill="#2a2a2a" fill-opacity="0.60"/><circle cx="38.6" cy="275.8" r="1.1" fill="#2a2a2a" fill-opacity="0.51"/><circle cx="39.3" cy="274.8" r="0.7" fill="#2a2a2a" fill-opacity="0.41"/><circle cx="36.6" cy="276.7" r="0.6" fill="#2a2a2a" fill-opacity="0.78"/><circle cx="37.8" cy="274.6" r="0.7" fill="#2a2a2a" fill-opacity="0.74"/><ellipse cx="48.2" cy="275.4" rx="4.7" ry="4.5" transform="rotate(135 48.2 275.4)" fill="#acacac" fill-opacity="0.75" stroke="#444" stroke-width="0.7" stroke-opacity="0.75"/><circle cx="46.6" cy="277.3" r="0.8" fill="#2a2a2a" fill-opacity="0.73"/><circle cx="47.0" cy="276.5" r="1.0" fill="#2a2a2a" fill-opacity="0.65"/><circle cx="46.8" cy="276.2" r="1.1" fill="#2a2a2a" fill-opacity="0.72"/><circle cx="47.9" cy="274.9" r="0.6" fill="#2a2a2a" fill-opacity="0.71"/><circle cx="46.4" cy="274.0" r="0.5" fill="#2a2a2a" fill-opacity="0.47"/><circle cx="47.6" cy="275.3" r="0.6" fill="#2a2a2a" fill-opacity="0.57"/><ellipse cx="74.7" cy="277.9" rx="3.5" ry="3.7" transform="rotate(179 74.7 277.9)" fill="#b8b8b8" fill-opacity="0.75" stroke="#444" stroke-width="0.7" stroke-opacity="0.75"/><circle cx="72.8" cy="276.3" r="1.1" fill="#2a2a2a" fill-opacity="0.58"/><circle cx="73.6" cy="279.4" r="0.6" fill="#2a2a2a" fill-opacity="0.79"/><circle cx="74.4" cy="278.3" r="1.1" fill="#2a2a2a" fill-opacity="0.67"/><circle cx="74.4" cy="275.9" r="0.6" fill="#2a2a2a" fill-opacity="0.59"/><circle cx="76.5" cy="275.9" r="0.7" fill="#2a2a2a" fill-opacity="0.52"/><circle cx="75.6" cy="277.1" r="0.5" fill="#2a2a2a" fill-opacity="0.78"/><ellipse cx="81.2" cy="276.4" rx="3.9" ry="3.9" transform="rotate(36 81.2 276.4)" fill="#909090" fill-opacity="0.75" stroke="#444" stroke-width="0.7" stroke-opacity="0.75"/><circle cx="80.3" cy="277.8" r="0.9" fill="#2a2a2a" fill-opacity="0.65"/><circle cx="82.6" cy="275.6" r="0.9" fill="#2a2a2a" fill-opacity="0.54"/><circle cx="80.3" cy="274.7" r="1.0" fill="#2a2a2a" fill-opacity="0.76"/><circle cx="79.2" cy="277.3" r="0.5" fill="#2a2a2a" fill-opacity="0.57"/><circle cx="80.4" cy="278.1" r="0.8" fill="#2a2a2a" fill-opacity="0.60"/><circle cx="80.6" cy="275.3" r="0.6" fill="#2a2a2a" fill-opacity="0.42"/><ellipse cx="24.5" cy="284.2" rx="4.3" ry="3.6" transform="rotate(178 24.5 284.2)" fill="#4a4a4a" fill-opacity="0.75" stroke="#444" stroke-width="0.7" stroke-opacity="0.75"/><ellipse cx="35.4" cy="283.7" rx="3.8" ry="3.8" transform="rotate(84 35.4 283.7)" fill="#828282" fill-opacity="0.75" stroke="#444" stroke-width="0.7" stroke-opacity="0.75"/><circle cx="34.6" cy="283.0" r="0.9" fill="#2a2a2a" fill-opacity="0.52"/><circle cx="35.8" cy="281.9" r="0.8" fill="#2a2a2a" fill-opacity="0.63"/><circle cx="34.6" cy="285.3" r="1.1" fill="#2a2a2a" fill-opacity="0.66"/><circle cx="35.0" cy="282.3" r="0.9" fill="#2a2a2a" fill-opacity="0.52"/><circle cx="34.0" cy="283.8" r="0.6" fill="#2a2a2a" fill-opacity="0.66"/><circle cx="36.5" cy="281.6" r="0.9" fill="#2a2a2a" fill-opacity="0.48"/><ellipse cx="51.3" cy="284.9" rx="4.7" ry="3.8" transform="rotate(120 51.3 284.9)" fill="#555" fill-opacity="0.75" stroke="#444" stroke-width="0.7" stroke-opacity="0.75"/><circle cx="48.9" cy="283.5" r="0.6" fill="#2a2a2a" fill-opacity="0.67"/><circle cx="51.5" cy="283.3" r="0.8" fill="#2a2a2a" fill-opacity="0.48"/><circle cx="48.8" cy="286.2" r="1.0" fill="#2a2a2a" fill-opacity="0.64"/><circle cx="51.6" cy="284.6" r="0.5" fill="#2a2a2a" fill-opacity="0.62"/><circle cx="48.8" cy="284.7" r="0.6" fill="#2a2a2a" fill-opacity="0.48"/><circle cx="49.5" cy="283.4" r="0.9" fill="#2a2a2a" fill-opacity="0.79"/><ellipse cx="69.9" cy="284.1" rx="3.6" ry="3.4" transform="rotate(37 69.9 284.1)" fill="#909090" fill-opacity="0.75" stroke="#444" stroke-width="0.7" stroke-opacity="0.75"/><ellipse cx="76.5" cy="282.8" rx="4.0" ry="3.6" transform="rotate(14 76.5 282.8)" fill="#828282" fill-opacity="0.75" stroke="#444" stroke-width="0.7" stroke-opacity="0.75"/><circle cx="76.6" cy="280.8" r="0.6" fill="#2a2a2a" fill-opacity="0.54"/><circle cx="77.2" cy="281.6" r="0.6" fill="#2a2a2a" fill-opacity="0.80"/><circle cx="77.2" cy="282.4" r="1.0" fill="#2a2a2a" fill-opacity="0.69"/><circle cx="77.9" cy="283.0" r="0.9" fill="#2a2a2a" fill-opacity="0.44"/><circle cx="76.2" cy="282.4" r="0.7" fill="#2a2a2a" fill-opacity="0.55"/><circle cx="78.2" cy="281.7" r="0.6" fill="#2a2a2a" fill-opacity="0.53"/><ellipse cx="30.6" cy="290.0" rx="3.6" ry="3.3" transform="rotate(170 30.6 290.0)" fill="#acacac" fill-opacity="0.75" stroke="#444" stroke-width="0.7" stroke-opacity="0.75"/><circle cx="31.7" cy="290.8" r="0.6" fill="#2a2a2a" fill-opacity="0.79"/><circle cx="30.9" cy="291.3" r="0.8" fill="#2a2a2a" fill-opacity="0.57"/><circle cx="29.2" cy="289.6" r="0.5" fill="#2a2a2a" fill-opacity="0.69"/><circle cx="29.3" cy="290.2" r="0.7" fill="#2a2a2a" fill-opacity="0.53"/><circle cx="29.8" cy="289.3" r="0.7" fill="#2a2a2a" fill-opacity="0.71"/><circle cx="32.2" cy="291.0" r="1.0" fill="#2a2a2a" fill-opacity="0.64"/><ellipse cx="38.7" cy="291.6" rx="4.1" ry="3.9" transform="rotate(136 38.7 291.6)" fill="#b8b8b8" fill-opacity="0.75" stroke="#444" stroke-width="0.7" stroke-opacity="0.75"/><circle cx="40.1" cy="292.3" r="1.0" fill="#2a2a2a" fill-opacity="0.75"/><circle cx="39.0" cy="290.4" r="0.6" fill="#2a2a2a" fill-opacity="0.74"/><circle cx="40.1" cy="292.2" r="1.1" fill="#2a2a2a" fill-opacity="0.72"/><circle cx="38.2" cy="290.3" r="0.8" fill="#2a2a2a" fill-opacity="0.77"/><circle cx="40.4" cy="289.5" r="0.5" fill="#2a2a2a" fill-opacity="0.58"/><circle cx="40.5" cy="293.2" r="1.0" fill="#2a2a2a" fill-opacity="0.43"/><ellipse cx="66.3" cy="290.0" rx="4.6" ry="4.6" transform="rotate(160 66.3 290.0)" fill="#b8b8b8" fill-opacity="0.75" stroke="#444" stroke-width="0.7" stroke-opacity="0.75"/><circle cx="67.4" cy="289.7" r="1.0" fill="#2a2a2a" fill-opacity="0.68"/><circle cx="64.0" cy="290.0" r="0.5" fill="#2a2a2a" fill-opacity="0.68"/><circle cx="68.3" cy="292.3" r="1.0" fill="#2a2a2a" fill-opacity="0.54"/><circle cx="64.0" cy="287.9" r="0.6" fill="#2a2a2a" fill-opacity="0.75"/><circle cx="64.3" cy="288.3" r="0.6" fill="#2a2a2a" fill-opacity="0.70"/><circle cx="64.2" cy="289.1" r="0.9" fill="#2a2a2a" fill-opacity="0.42"/><ellipse cx="72.3" cy="291.9" rx="3.5" ry="2.8" transform="rotate(121 72.3 291.9)" fill="#b8b8b8" fill-opacity="0.75" stroke="#444" stroke-width="0.7" stroke-opacity="0.75"/><ellipse cx="81.7" cy="292.1" rx="4.3" ry="3.6" transform="rotate(92 81.7 292.1)" fill="#acacac" fill-opacity="0.75" stroke="#444" stroke-width="0.7" stroke-opacity="0.75"/><circle cx="81.3" cy="293.1" r="0.7" fill="#2a2a2a" fill-opacity="0.60"/><circle cx="81.2" cy="292.8" r="0.5" fill="#2a2a2a" fill-opacity="0.58"/><circle cx="82.0" cy="292.9" r="1.0" fill="#2a2a2a" fill-opacity="0.55"/><circle cx="83.8" cy="292.9" r="0.7" fill="#2a2a2a" fill-opacity="0.62"/><circle cx="81.0" cy="292.7" r="0.5" fill="#2a2a2a" fill-opacity="0.76"/><circle cx="81.0" cy="290.2" r="0.6" fill="#2a2a2a" fill-opacity="0.54"/><ellipse cx="25.3" cy="300.1" rx="4.7" ry="4.0" transform="rotate(62 25.3 300.1)" fill="#828282" fill-opacity="0.75" stroke="#444" stroke-width="0.7" stroke-opacity="0.75"/><ellipse cx="33.5" cy="297.6" rx="3.9" ry="3.0" transform="rotate(17 33.5 297.6)" fill="#828282" fill-opacity="0.75" stroke="#444" stroke-width="0.7" stroke-opacity="0.75"/><ellipse cx="43.0" cy="299.9" rx="3.9" ry="3.9" transform="rotate(10 43.0 299.9)" fill="#909090" fill-opacity="0.75" stroke="#444" stroke-width="0.7" stroke-opacity="0.75"/><circle cx="42.7" cy="300.3" r="0.8" fill="#2a2a2a" fill-opacity="0.79"/><circle cx="41.5" cy="300.9" r="1.1" fill="#2a2a2a" fill-opacity="0.59"/><circle cx="41.4" cy="299.5" r="0.6" fill="#2a2a2a" fill-opacity="0.74"/><circle cx="44.6" cy="298.9" r="0.9" fill="#2a2a2a" fill-opacity="0.50"/><circle cx="43.7" cy="298.5" r="0.5" fill="#2a2a2a" fill-opacity="0.42"/><circle cx="42.4" cy="299.9" r="1.1" fill="#2a2a2a" fill-opacity="0.48"/><ellipse cx="68.3" cy="298.3" rx="3.5" ry="3.8" transform="rotate(9 68.3 298.3)" fill="#828282" fill-opacity="0.75" stroke="#444" stroke-width="0.7" stroke-opacity="0.75"/><circle cx="66.7" cy="300.1" r="0.6" fill="#2a2a2a" fill-opacity="0.76"/><circle cx="70.1" cy="298.2" r="1.0" fill="#2a2a2a" fill-opacity="0.62"/><circle cx="69.8" cy="299.3" r="0.9" fill="#2a2a2a" fill-opacity="0.67"/><circle cx="66.7" cy="299.5" r="0.6" fill="#2a2a2a" fill-opacity="0.40"/><circle cx="67.6" cy="296.5" r="0.7" fill="#2a2a2a" fill-opacity="0.56"/><circle cx="69.9" cy="299.4" r="0.6" fill="#2a2a2a" fill-opacity="0.77"/><ellipse cx="38.9" cy="305.2" rx="4.5" ry="4.1" transform="rotate(148 38.9 305.2)" fill="#acacac" fill-opacity="0.75" stroke="#444" stroke-width="0.7" stroke-opacity="0.75"/><circle cx="38.6" cy="306.7" r="0.7" fill="#2a2a2a" fill-opacity="0.76"/><circle cx="37.2" cy="307.3" r="0.7" fill="#2a2a2a" fill-opacity="0.67"/><circle cx="41.0" cy="306.0" r="1.0" fill="#2a2a2a" fill-opacity="0.43"/><circle cx="41.2" cy="303.1" r="0.9" fill="#2a2a2a" fill-opacity="0.73"/><circle cx="40.2" cy="306.2" r="0.9" fill="#2a2a2a" fill-opacity="0.79"/><circle cx="37.5" cy="307.0" r="1.0" fill="#2a2a2a" fill-opacity="0.48"/><ellipse cx="47.5" cy="306.3" rx="4.6" ry="4.8" transform="rotate(135 47.5 306.3)" fill="#555" fill-opacity="0.75" stroke="#444" stroke-width="0.7" stroke-opacity="0.75"/><circle cx="45.6" cy="308.2" r="0.7" fill="#2a2a2a" fill-opacity="0.70"/><circle cx="46.1" cy="304.6" r="1.0" fill="#2a2a2a" fill-opacity="0.63"/><circle cx="45.4" cy="305.3" r="1.0" fill="#2a2a2a" fill-opacity="0.58"/><circle cx="48.6" cy="307.6" r="0.9" fill="#2a2a2a" fill-opacity="0.72"/><circle cx="45.5" cy="308.9" r="1.0" fill="#2a2a2a" fill-opacity="0.71"/><circle cx="46.9" cy="305.9" r="0.6" fill="#2a2a2a" fill-opacity="0.75"/><ellipse cx="74.5" cy="305.6" rx="4.8" ry="4.9" transform="rotate(119 74.5 305.6)" fill="#909090" fill-opacity="0.75" stroke="#444" stroke-width="0.7" stroke-opacity="0.75"/><circle cx="76.2" cy="305.1" r="1.0" fill="#2a2a2a" fill-opacity="0.78"/><circle cx="76.0" cy="303.5" r="0.6" fill="#2a2a2a" fill-opacity="0.65"/><circle cx="76.8" cy="306.2" r="0.7" fill="#2a2a2a" fill-opacity="0.72"/><circle cx="74.3" cy="306.1" r="0.8" fill="#2a2a2a" fill-opacity="0.78"/><circle cx="75.1" cy="303.5" r="0.9" fill="#2a2a2a" fill-opacity="0.56"/><circle cx="72.8" cy="305.5" r="0.7" fill="#2a2a2a" fill-opacity="0.78"/><ellipse cx="81.1" cy="306.7" rx="3.8" ry="3.7" transform="rotate(90 81.1 306.7)" fill="#b8b8b8" fill-opacity="0.75" stroke="#444" stroke-width="0.7" stroke-opacity="0.75"/><ellipse cx="34.5" cy="313.6" rx="4.1" ry="3.5" transform="rotate(90 34.5 313.6)" fill="#3a3a3a" fill-opacity="0.75" stroke="#444" stroke-width="0.7" stroke-opacity="0.75"/><circle cx="34.6" cy="314.3" r="0.8" fill="#2a2a2a" fill-opacity="0.68"/><circle cx="36.7" cy="311.9" r="0.7" fill="#2a2a2a" fill-opacity="0.72"/><circle cx="35.9" cy="315.3" r="0.7" fill="#2a2a2a" fill-opacity="0.50"/><circle cx="35.3" cy="314.8" r="1.0" fill="#2a2a2a" fill-opacity="0.61"/><circle cx="32.9" cy="314.3" r="0.7" fill="#2a2a2a" fill-opacity="0.41"/><circle cx="32.3" cy="313.0" r="0.7" fill="#2a2a2a" fill-opacity="0.62"/><ellipse cx="43.1" cy="314.0" rx="3.7" ry="3.8" transform="rotate(121 43.1 314.0)" fill="#b8b8b8" fill-opacity="0.75" stroke="#444" stroke-width="0.7" stroke-opacity="0.75"/><circle cx="42.8" cy="312.9" r="0.7" fill="#2a2a2a" fill-opacity="0.69"/><circle cx="45.1" cy="314.2" r="0.6" fill="#2a2a2a" fill-opacity="0.65"/><circle cx="43.4" cy="316.0" r="1.1" fill="#2a2a2a" fill-opacity="0.53"/><circle cx="41.9" cy="313.6" r="0.5" fill="#2a2a2a" fill-opacity="0.44"/><circle cx="41.7" cy="315.0" r="0.6" fill="#2a2a2a" fill-opacity="0.65"/><circle cx="41.7" cy="313.5" r="0.9" fill="#2a2a2a" fill-opacity="0.79"/><ellipse cx="51.8" cy="315.5" rx="4.4" ry="3.8" transform="rotate(40 51.8 315.5)" fill="#a0a0a0" fill-opacity="0.75" stroke="#444" stroke-width="0.7" stroke-opacity="0.75"/><circle cx="54.1" cy="314.7" r="0.8" fill="#2a2a2a" fill-opacity="0.63"/><circle cx="51.6" cy="314.8" r="0.5" fill="#2a2a2a" fill-opacity="0.52"/><circle cx="52.4" cy="313.5" r="0.9" fill="#2a2a2a" fill-opacity="0.79"/><circle cx="54.1" cy="315.5" r="0.6" fill="#2a2a2a" fill-opacity="0.43"/><circle cx="49.4" cy="316.0" r="0.9" fill="#2a2a2a" fill-opacity="0.77"/><circle cx="50.6" cy="315.6" r="0.8" fill="#2a2a2a" fill-opacity="0.55"/><ellipse cx="70.1" cy="314.1" rx="4.7" ry="4.5" transform="rotate(123 70.1 314.1)" fill="#4a4a4a" fill-opacity="0.75" stroke="#444" stroke-width="0.7" stroke-opacity="0.75"/><circle cx="70.7" cy="313.2" r="0.7" fill="#2a2a2a" fill-opacity="0.79"/><circle cx="71.4" cy="312.7" r="0.8" fill="#2a2a2a" fill-opacity="0.46"/><circle cx="72.5" cy="312.9" r="1.1" fill="#2a2a2a" fill-opacity="0.49"/><circle cx="68.7" cy="313.3" r="0.7" fill="#2a2a2a" fill-opacity="0.54"/><circle cx="69.5" cy="313.6" r="0.6" fill="#2a2a2a" fill-opacity="0.65"/><circle cx="71.1" cy="312.7" r="0.6" fill="#2a2a2a" fill-opacity="0.41"/><ellipse cx="76.7" cy="314.0" rx="4.7" ry="4.9" transform="rotate(29 76.7 314.0)" fill="#909090" fill-opacity="0.75" stroke="#444" stroke-width="0.7" stroke-opacity="0.75"/><ellipse cx="86.3" cy="315.3" rx="3.5" ry="3.6" transform="rotate(118 86.3 315.3)" fill="#b8b8b8" fill-opacity="0.75" stroke="#444" stroke-width="0.7" stroke-opacity="0.75"/><circle cx="86.0" cy="316.7" r="1.0" fill="#2a2a2a" fill-opacity="0.47"/><circle cx="86.3" cy="316.0" r="0.6" fill="#2a2a2a" fill-opacity="0.74"/><circle cx="87.0" cy="314.8" r="0.7" fill="#2a2a2a" fill-opacity="0.44"/><circle cx="87.8" cy="314.1" r="0.9" fill="#2a2a2a" fill-opacity="0.68"/><circle cx="86.7" cy="316.4" r="0.7" fill="#2a2a2a" fill-opacity="0.67"/><circle cx="85.2" cy="316.1" r="1.0" fill="#2a2a2a" fill-opacity="0.59"/><ellipse cx="31.1" cy="322.0" rx="3.7" ry="3.0" transform="rotate(124 31.1 322.0)" fill="#909090" fill-opacity="0.75" stroke="#444" stroke-width="0.7" stroke-opacity="0.75"/><ellipse cx="38.6" cy="321.1" rx="4.3" ry="3.7" transform="rotate(93 38.6 321.1)" fill="#909090" fill-opacity="0.75" stroke="#444" stroke-width="0.7" stroke-opacity="0.75"/><ellipse cx="48.1" cy="320.3" rx="4.1" ry="3.1" transform="rotate(168 48.1 320.3)" fill="#555" fill-opacity="0.75" stroke="#444" stroke-width="0.7" stroke-opacity="0.75"/><ellipse cx="56.7" cy="321.1" rx="4.1" ry="4.4" transform="rotate(17 56.7 321.1)" fill="#b8b8b8" fill-opacity="0.75" stroke="#444" stroke-width="0.7" stroke-opacity="0.75"/><circle cx="57.4" cy="321.3" r="1.0" fill="#2a2a2a" fill-opacity="0.46"/><circle cx="58.2" cy="321.1" r="0.9" fill="#2a2a2a" fill-opacity="0.78"/><circle cx="56.0" cy="322.2" r="0.6" fill="#2a2a2a" fill-opacity="0.65"/><circle cx="56.9" cy="322.3" r="1.1" fill="#2a2a2a" fill-opacity="0.68"/><circle cx="56.6" cy="319.4" r="0.7" fill="#2a2a2a" fill-opacity="0.53"/><circle cx="57.2" cy="319.4" r="1.0" fill="#2a2a2a" fill-opacity="0.49"/><ellipse cx="72.0" cy="323.0" rx="3.5" ry="3.2" transform="rotate(58 72.0 323.0)" fill="#909090" fill-opacity="0.75" stroke="#444" stroke-width="0.7" stroke-opacity="0.75"/><circle cx="70.7" cy="324.4" r="0.6" fill="#2a2a2a" fill-opacity="0.68"/><circle cx="72.5" cy="324.0" r="0.9" fill="#2a2a2a" fill-opacity="0.61"/><circle cx="73.2" cy="323.8" r="0.6" fill="#2a2a2a" fill-opacity="0.43"/><circle cx="72.3" cy="323.3" r="0.9" fill="#2a2a2a" fill-opacity="0.52"/><circle cx="73.9" cy="323.4" r="0.8" fill="#2a2a2a" fill-opacity="0.47"/><circle cx="70.8" cy="322.2" r="0.9" fill="#2a2a2a" fill-opacity="0.57"/><ellipse cx="27.6" cy="329.5" rx="3.8" ry="3.5" transform="rotate(69 27.6 329.5)" fill="#909090" fill-opacity="0.75" stroke="#444" stroke-width="0.7" stroke-opacity="0.75"/><circle cx="29.6" cy="330.4" r="0.7" fill="#2a2a2a" fill-opacity="0.57"/><circle cx="27.3" cy="329.3" r="1.1" fill="#2a2a2a" fill-opacity="0.65"/><circle cx="27.6" cy="329.8" r="0.7" fill="#2a2a2a" fill-opacity="0.45"/><circle cx="27.1" cy="330.7" r="1.0" fill="#2a2a2a" fill-opacity="0.41"/><circle cx="28.2" cy="330.5" r="0.9" fill="#2a2a2a" fill-opacity="0.78"/><circle cx="26.8" cy="328.2" r="0.7" fill="#2a2a2a" fill-opacity="0.41"/><ellipse cx="35.8" cy="328.8" rx="4.1" ry="3.8" transform="rotate(68 35.8 328.8)" fill="#acacac" fill-opacity="0.75" stroke="#444" stroke-width="0.7" stroke-opacity="0.75"/><ellipse cx="43.5" cy="328.8" rx="4.7" ry="4.1" transform="rotate(3 43.5 328.8)" fill="#828282" fill-opacity="0.75" stroke="#444" stroke-width="0.7" stroke-opacity="0.75"/><circle cx="42.7" cy="329.4" r="0.9" fill="#2a2a2a" fill-opacity="0.53"/><circle cx="44.8" cy="330.3" r="0.9" fill="#2a2a2a" fill-opacity="0.75"/><circle cx="41.6" cy="328.5" r="0.7" fill="#2a2a2a" fill-opacity="0.52"/><circle cx="43.1" cy="330.8" r="0.9" fill="#2a2a2a" fill-opacity="0.48"/><circle cx="44.5" cy="329.5" r="0.7" fill="#2a2a2a" fill-opacity="0.54"/><circle cx="41.6" cy="328.6" r="0.9" fill="#2a2a2a" fill-opacity="0.54"/><ellipse cx="59.7" cy="328.8" rx="4.1" ry="4.2" transform="rotate(156 59.7 328.8)" fill="#828282" fill-opacity="0.75" stroke="#444" stroke-width="0.7" stroke-opacity="0.75"/><circle cx="58.7" cy="330.3" r="1.0" fill="#2a2a2a" fill-opacity="0.56"/><circle cx="57.7" cy="327.9" r="0.7" fill="#2a2a2a" fill-opacity="0.45"/><circle cx="60.8" cy="328.8" r="0.7" fill="#2a2a2a" fill-opacity="0.71"/><circle cx="60.6" cy="330.4" r="0.8" fill="#2a2a2a" fill-opacity="0.49"/><circle cx="57.9" cy="330.8" r="0.7" fill="#2a2a2a" fill-opacity="0.63"/><circle cx="57.7" cy="327.7" r="0.8" fill="#2a2a2a" fill-opacity="0.71"/><ellipse cx="69.7" cy="327.9" rx="4.0" ry="3.3" transform="rotate(36 69.7 327.9)" fill="#a0a0a0" fill-opacity="0.75" stroke="#444" stroke-width="0.7" stroke-opacity="0.75"/><ellipse cx="77.5" cy="328.9" rx="4.0" ry="3.7" transform="rotate(60 77.5 328.9)" fill="#acacac" fill-opacity="0.75" stroke="#444" stroke-width="0.7" stroke-opacity="0.75"/><circle cx="77.5" cy="327.4" r="1.0" fill="#2a2a2a" fill-opacity="0.56"/><circle cx="79.1" cy="330.8" r="1.0" fill="#2a2a2a" fill-opacity="0.54"/><circle cx="76.3" cy="330.5" r="0.6" fill="#2a2a2a" fill-opacity="0.49"/><circle cx="76.7" cy="327.5" r="0.5" fill="#2a2a2a" fill-opacity="0.46"/><circle cx="79.0" cy="330.5" r="0.6" fill="#2a2a2a" fill-opacity="0.75"/><circle cx="79.0" cy="330.3" r="1.0" fill="#2a2a2a" fill-opacity="0.41"/><ellipse cx="85.7" cy="328.6" rx="4.7" ry="3.7" transform="rotate(159 85.7 328.6)" fill="#acacac" fill-opacity="0.75" stroke="#444" stroke-width="0.7" stroke-opacity="0.75"/><circle cx="83.6" cy="330.4" r="0.6" fill="#2a2a2a" fill-opacity="0.79"/><circle cx="83.3" cy="328.2" r="0.7" fill="#2a2a2a" fill-opacity="0.80"/><circle cx="84.9" cy="330.6" r="0.7" fill="#2a2a2a" fill-opacity="0.45"/><circle cx="85.1" cy="326.8" r="0.8" fill="#2a2a2a" fill-opacity="0.47"/><circle cx="84.3" cy="327.2" r="0.7" fill="#2a2a2a" fill-opacity="0.80"/><circle cx="85.9" cy="329.1" r="1.0" fill="#2a2a2a" fill-opacity="0.57"/><ellipse cx="57.2" cy="278.40000000000003" rx="4.1" ry="3.8" fill="#6c6c6c" stroke="#383838" stroke-width="1.0"/><ellipse cx="61.5" cy="277.8" rx="4.1" ry="3.8" fill="#6c6c6c" stroke="#383838" stroke-width="1.0"/><ellipse cx="64.1" cy="283.2" rx="4.1" ry="3.8" fill="#6c6c6c" stroke="#383838" stroke-width="1.0"/><ellipse cx="57.2" cy="286.8" rx="4.1" ry="3.8" fill="#6c6c6c" stroke="#383838" stroke-width="1.0"/><ellipse cx="49.2" cy="296.3" rx="4.1" ry="3.8" fill="#6c6c6c" stroke="#383838" stroke-width="1.0"/><ellipse cx="58" cy="299.3" rx="4.1" ry="3.8" fill="#6c6c6c" stroke="#383838" stroke-width="1.0"/><ellipse cx="75.5" cy="296.7" rx="4.1" ry="3.8" fill="#6c6c6c" stroke="#383838" stroke-width="1.0"/><ellipse cx="52.5" cy="305.8" rx="4.1" ry="3.8" fill="#6c6c6c" stroke="#383838" stroke-width="1.0"/><ellipse cx="59.1" cy="306.7" rx="4.1" ry="3.8" fill="#6c6c6c" stroke="#383838" stroke-width="1.0"/><ellipse cx="59.6" cy="313.3" rx="4.1" ry="3.8" fill="#6c6c6c" stroke="#383838" stroke-width="1.0"/><rect x="28.1" y="271.1" width="56.9" height="55.9" fill="#000" fill-opacity="0.04"/></g>
<circle cx="29.6" cy="290" r="2.4" fill="#e4e8e6" fill-opacity="0.4"/><circle cx="29.6" cy="290" r="1.7" fill="#d60a12"/>
<circle cx="43.6" cy="291.6" r="2.4" fill="#e4e8e6" fill-opacity="0.4"/><circle cx="43.6" cy="291.6" r="1.7" fill="#d60a12"/>
<circle cx="34.9" cy="300.4" r="2.4" fill="#e4e8e6" fill-opacity="0.4"/><circle cx="34.9" cy="300.4" r="1.7" fill="#d60a12"/>
<circle cx="53.2" cy="311.5" r="2.4" fill="#e4e8e6" fill-opacity="0.4"/><circle cx="53.2" cy="311.5" r="1.7" fill="#d60a12"/>
<circle cx="37.9" cy="316.3" r="2.4" fill="#e4e8e6" fill-opacity="0.4"/><circle cx="37.9" cy="316.3" r="1.7" fill="#d60a12"/>
<circle cx="32.9" cy="324" r="2.4" fill="#e4e8e6" fill-opacity="0.4"/><circle cx="32.9" cy="324" r="1.7" fill="#d60a12"/>
<circle cx="47.5" cy="325.8" r="2.4" fill="#e4e8e6" fill-opacity="0.4"/><circle cx="47.5" cy="325.8" r="1.7" fill="#d60a12"/>
<circle cx="52.5" cy="324" r="2.4" fill="#e4e8e6" fill-opacity="0.4"/><circle cx="52.5" cy="324" r="1.7" fill="#d60a12"/>
<circle cx="58.2" cy="322.8" r="2.4" fill="#e4e8e6" fill-opacity="0.4"/><circle cx="58.2" cy="322.8" r="1.7" fill="#d60a12"/>
<path d="M54.9,279.9 L57.2,276.0 L59.5,279.9 Z" fill="#48a2ea"/>
<path d="M59.2,279.3 L61.5,275.4 L63.8,279.3 Z" fill="#48a2ea"/>
<path d="M61.8,284.7 L64.1,280.8 L66.4,284.7 Z" fill="#48a2ea"/>
<path d="M54.9,288.3 L57.2,284.4 L59.5,288.3 Z" fill="#48a2ea"/>
<path d="M46.9,297.8 L49.2,293.9 L51.5,297.8 Z" fill="#48a2ea"/>
<path d="M55.7,300.8 L58.0,296.9 L60.3,300.8 Z" fill="#48a2ea"/>
<path d="M73.2,298.2 L75.5,294.3 L77.8,298.2 Z" fill="#48a2ea"/>
<path d="M50.2,307.3 L52.5,303.4 L54.8,307.3 Z" fill="#48a2ea"/>
<path d="M56.8,308.2 L59.1,304.3 L61.4,308.2 Z" fill="#48a2ea"/>
<path d="M57.3,314.8 L59.6,310.9 L61.9,314.8 Z" fill="#48a2ea"/>
<rect x="88.0" y="271.1" width="56.3" height="55.9" fill="#fff" filter="url(#mic3)"/>
<g clip-path="url(#mc3)"><ellipse cx="95.9" cy="270.3" rx="4.7" ry="4.2" transform="rotate(55 95.9 270.3)" fill="#555" fill-opacity="0.75" stroke="#444" stroke-width="0.7" stroke-opacity="0.75"/><ellipse cx="101.9" cy="268.6" rx="3.6" ry="3.4" transform="rotate(144 101.9 268.6)" fill="#b8b8b8" fill-opacity="0.75" stroke="#444" stroke-width="0.7" stroke-opacity="0.75"/><ellipse cx="110.4" cy="268.7" rx="4.6" ry="4.0" transform="rotate(69 110.4 268.7)" fill="#acacac" fill-opacity="0.75" stroke="#444" stroke-width="0.7" stroke-opacity="0.75"/><ellipse cx="120.7" cy="269.3" rx="4.0" ry="3.3" transform="rotate(147 120.7 269.3)" fill="#a0a0a0" fill-opacity="0.75" stroke="#444" stroke-width="0.7" stroke-opacity="0.75"/><ellipse cx="128.3" cy="267.9" rx="4.7" ry="4.8" transform="rotate(73 128.3 267.9)" fill="#828282" fill-opacity="0.75" stroke="#444" stroke-width="0.7" stroke-opacity="0.75"/><ellipse cx="146.1" cy="270.3" rx="4.0" ry="3.2" transform="rotate(28 146.1 270.3)" fill="#828282" fill-opacity="0.75" stroke="#444" stroke-width="0.7" stroke-opacity="0.75"/><ellipse cx="108.8" cy="277.3" rx="4.4" ry="4.6" transform="rotate(82 108.8 277.3)" fill="#3a3a3a" fill-opacity="0.75" stroke="#444" stroke-width="0.7" stroke-opacity="0.75"/><circle cx="108.0" cy="278.7" r="0.9" fill="#2a2a2a" fill-opacity="0.54"/><circle cx="108.2" cy="276.2" r="1.1" fill="#2a2a2a" fill-opacity="0.65"/><circle cx="107.7" cy="277.5" r="0.5" fill="#2a2a2a" fill-opacity="0.51"/><circle cx="108.8" cy="279.7" r="1.0" fill="#2a2a2a" fill-opacity="0.62"/><circle cx="110.1" cy="276.0" r="0.9" fill="#2a2a2a" fill-opacity="0.80"/><circle cx="107.1" cy="279.5" r="1.1" fill="#2a2a2a" fill-opacity="0.55"/><ellipse cx="123.6" cy="276.5" rx="4.5" ry="3.8" transform="rotate(135 123.6 276.5)" fill="#b8b8b8" fill-opacity="0.75" stroke="#444" stroke-width="0.7" stroke-opacity="0.75"/><ellipse cx="142.0" cy="276.5" rx="4.0" ry="3.7" transform="rotate(71 142.0 276.5)" fill="#acacac" fill-opacity="0.75" stroke="#444" stroke-width="0.7" stroke-opacity="0.75"/><ellipse cx="86.1" cy="285.3" rx="4.1" ry="3.8" transform="rotate(74 86.1 285.3)" fill="#828282" fill-opacity="0.75" stroke="#444" stroke-width="0.7" stroke-opacity="0.75"/><ellipse cx="103.7" cy="282.9" rx="3.8" ry="3.0" transform="rotate(1 103.7 282.9)" fill="#acacac" fill-opacity="0.75" stroke="#444" stroke-width="0.7" stroke-opacity="0.75"/><ellipse cx="112.9" cy="283.4" rx="4.1" ry="4.5" transform="rotate(169 112.9 283.4)" fill="#828282" fill-opacity="0.75" stroke="#444" stroke-width="0.7" stroke-opacity="0.75"/><ellipse cx="139.0" cy="283.7" rx="3.4" ry="3.4" transform="rotate(104 139.0 283.7)" fill="#acacac" fill-opacity="0.75" stroke="#444" stroke-width="0.7" stroke-opacity="0.75"/><ellipse cx="90.1" cy="291.9" rx="4.0" ry="3.2" transform="rotate(83 90.1 291.9)" fill="#828282" fill-opacity="0.75" stroke="#444" stroke-width="0.7" stroke-opacity="0.75"/><ellipse cx="124.1" cy="290.3" rx="3.7" ry="3.0" transform="rotate(36 124.1 290.3)" fill="#909090" fill-opacity="0.75" stroke="#444" stroke-width="0.7" stroke-opacity="0.75"/><circle cx="125.7" cy="289.5" r="0.7" fill="#2a2a2a" fill-opacity="0.53"/><circle cx="123.3" cy="291.9" r="1.0" fill="#2a2a2a" fill-opacity="0.72"/><circle cx="124.4" cy="289.6" r="0.8" fill="#2a2a2a" fill-opacity="0.64"/><circle cx="125.7" cy="290.3" r="0.9" fill="#2a2a2a" fill-opacity="0.53"/><circle cx="124.0" cy="288.9" r="0.9" fill="#2a2a2a" fill-opacity="0.46"/><circle cx="123.5" cy="290.2" r="0.8" fill="#2a2a2a" fill-opacity="0.67"/><ellipse cx="84.9" cy="300.2" rx="4.2" ry="4.0" transform="rotate(166 84.9 300.2)" fill="#828282" fill-opacity="0.75" stroke="#444" stroke-width="0.7" stroke-opacity="0.75"/><ellipse cx="119.2" cy="300.5" rx="4.2" ry="4.4" transform="rotate(13 119.2 300.5)" fill="#828282" fill-opacity="0.75" stroke="#444" stroke-width="0.7" stroke-opacity="0.75"/><circle cx="120.1" cy="301.1" r="1.1" fill="#2a2a2a" fill-opacity="0.52"/><circle cx="120.7" cy="299.3" r="0.6" fill="#2a2a2a" fill-opacity="0.47"/><circle cx="117.5" cy="299.1" r="0.6" fill="#2a2a2a" fill-opacity="0.71"/><circle cx="117.5" cy="301.2" r="0.7" fill="#2a2a2a" fill-opacity="0.48"/><circle cx="119.9" cy="298.4" r="0.7" fill="#2a2a2a" fill-opacity="0.76"/><circle cx="118.2" cy="300.9" r="0.9" fill="#2a2a2a" fill-opacity="0.72"/><ellipse cx="88.8" cy="305.8" rx="4.7" ry="3.5" transform="rotate(37 88.8 305.8)" fill="#b8b8b8" fill-opacity="0.75" stroke="#444" stroke-width="0.7" stroke-opacity="0.75"/><circle cx="91.1" cy="306.3" r="1.1" fill="#2a2a2a" fill-opacity="0.56"/><circle cx="90.3" cy="304.3" r="0.5" fill="#2a2a2a" fill-opacity="0.67"/><circle cx="89.7" cy="305.2" r="0.8" fill="#2a2a2a" fill-opacity="0.65"/><circle cx="87.4" cy="303.9" r="0.8" fill="#2a2a2a" fill-opacity="0.51"/><circle cx="91.2" cy="304.6" r="0.8" fill="#2a2a2a" fill-opacity="0.49"/><circle cx="88.4" cy="304.6" r="0.6" fill="#2a2a2a" fill-opacity="0.70"/><ellipse cx="109.1" cy="308.0" rx="4.6" ry="4.6" transform="rotate(140 109.1 308.0)" fill="#acacac" fill-opacity="0.75" stroke="#444" stroke-width="0.7" stroke-opacity="0.75"/><ellipse cx="114.9" cy="304.9" rx="4.3" ry="3.7" transform="rotate(68 114.9 304.9)" fill="#909090" fill-opacity="0.75" stroke="#444" stroke-width="0.7" stroke-opacity="0.75"/><circle cx="114.2" cy="306.1" r="0.8" fill="#2a2a2a" fill-opacity="0.50"/><circle cx="114.4" cy="306.8" r="0.8" fill="#2a2a2a" fill-opacity="0.57"/><circle cx="113.9" cy="306.8" r="0.7" fill="#2a2a2a" fill-opacity="0.54"/><circle cx="115.5" cy="303.8" r="0.7" fill="#2a2a2a" fill-opacity="0.79"/><circle cx="114.4" cy="304.3" r="0.8" fill="#2a2a2a" fill-opacity="0.67"/><circle cx="116.1" cy="306.9" r="0.7" fill="#2a2a2a" fill-opacity="0.46"/><ellipse cx="125.5" cy="307.6" rx="4.7" ry="4.6" transform="rotate(40 125.5 307.6)" fill="#909090" fill-opacity="0.75" stroke="#444" stroke-width="0.7" stroke-opacity="0.75"/><circle cx="123.6" cy="308.0" r="0.9" fill="#2a2a2a" fill-opacity="0.62"/><circle cx="123.0" cy="307.3" r="0.9" fill="#2a2a2a" fill-opacity="0.77"/><circle cx="124.3" cy="306.7" r="0.7" fill="#2a2a2a" fill-opacity="0.69"/><circle cx="124.4" cy="309.0" r="0.8" fill="#2a2a2a" fill-opacity="0.65"/><circle cx="123.4" cy="309.4" r="0.8" fill="#2a2a2a" fill-opacity="0.58"/><circle cx="124.9" cy="309.7" r="1.1" fill="#2a2a2a" fill-opacity="0.71"/><ellipse cx="87.2" cy="313.0" rx="3.6" ry="3.9" transform="rotate(91 87.2 313.0)" fill="#555" fill-opacity="0.75" stroke="#444" stroke-width="0.7" stroke-opacity="0.75"/><ellipse cx="121.3" cy="312.6" rx="3.4" ry="2.8" transform="rotate(122 121.3 312.6)" fill="#828282" fill-opacity="0.75" stroke="#444" stroke-width="0.7" stroke-opacity="0.75"/><circle cx="121.7" cy="313.5" r="1.1" fill="#2a2a2a" fill-opacity="0.43"/><circle cx="120.8" cy="311.7" r="0.6" fill="#2a2a2a" fill-opacity="0.60"/><circle cx="122.5" cy="311.2" r="0.8" fill="#2a2a2a" fill-opacity="0.76"/><circle cx="123.1" cy="312.7" r="0.9" fill="#2a2a2a" fill-opacity="0.72"/><circle cx="121.8" cy="312.7" r="0.8" fill="#2a2a2a" fill-opacity="0.47"/><circle cx="119.7" cy="313.2" r="0.6" fill="#2a2a2a" fill-opacity="0.42"/><ellipse cx="145.0" cy="313.9" rx="4.0" ry="4.3" transform="rotate(62 145.0 313.9)" fill="#b8b8b8" fill-opacity="0.75" stroke="#444" stroke-width="0.7" stroke-opacity="0.75"/><ellipse cx="90.9" cy="323.0" rx="4.7" ry="5.1" transform="rotate(110 90.9 323.0)" fill="#909090" fill-opacity="0.75" stroke="#444" stroke-width="0.7" stroke-opacity="0.75"/><ellipse cx="108.6" cy="321.1" rx="4.8" ry="4.3" transform="rotate(166 108.6 321.1)" fill="#828282" fill-opacity="0.75" stroke="#444" stroke-width="0.7" stroke-opacity="0.75"/><circle cx="108.6" cy="322.2" r="0.5" fill="#2a2a2a" fill-opacity="0.74"/><circle cx="109.0" cy="320.8" r="1.1" fill="#2a2a2a" fill-opacity="0.66"/><circle cx="109.6" cy="323.0" r="0.8" fill="#2a2a2a" fill-opacity="0.44"/><circle cx="109.5" cy="322.0" r="0.6" fill="#2a2a2a" fill-opacity="0.45"/><circle cx="110.1" cy="318.9" r="0.6" fill="#2a2a2a" fill-opacity="0.69"/><circle cx="111.0" cy="322.3" r="0.9" fill="#2a2a2a" fill-opacity="0.73"/><ellipse cx="133.3" cy="321.5" rx="3.7" ry="3.3" transform="rotate(162 133.3 321.5)" fill="#4a4a4a" fill-opacity="0.75" stroke="#444" stroke-width="0.7" stroke-opacity="0.75"/><ellipse cx="140.8" cy="322.8" rx="3.5" ry="3.6" transform="rotate(26 140.8 322.8)" fill="#555" fill-opacity="0.75" stroke="#444" stroke-width="0.7" stroke-opacity="0.75"/><ellipse cx="86.5" cy="330.3" rx="3.5" ry="3.4" transform="rotate(107 86.5 330.3)" fill="#828282" fill-opacity="0.75" stroke="#444" stroke-width="0.7" stroke-opacity="0.75"/><ellipse cx="94.3" cy="329.6" rx="4.0" ry="3.1" transform="rotate(159 94.3 329.6)" fill="#b8b8b8" fill-opacity="0.75" stroke="#444" stroke-width="0.7" stroke-opacity="0.75"/><ellipse cx="111.4" cy="328.7" rx="4.4" ry="3.4" transform="rotate(170 111.4 328.7)" fill="#a0a0a0" fill-opacity="0.75" stroke="#444" stroke-width="0.7" stroke-opacity="0.75"/><ellipse cx="120.6" cy="330.1" rx="3.8" ry="3.2" transform="rotate(176 120.6 330.1)" fill="#b8b8b8" fill-opacity="0.75" stroke="#444" stroke-width="0.7" stroke-opacity="0.75"/><circle cx="120.7" cy="330.5" r="1.1" fill="#2a2a2a" fill-opacity="0.74"/><circle cx="119.9" cy="331.8" r="0.8" fill="#2a2a2a" fill-opacity="0.64"/><circle cx="122.2" cy="331.6" r="0.9" fill="#2a2a2a" fill-opacity="0.77"/><circle cx="121.1" cy="329.9" r="0.6" fill="#2a2a2a" fill-opacity="0.66"/><circle cx="122.3" cy="330.7" r="0.5" fill="#2a2a2a" fill-opacity="0.44"/><circle cx="120.9" cy="331.1" r="1.0" fill="#2a2a2a" fill-opacity="0.68"/><ellipse cx="130.3" cy="328.7" rx="4.4" ry="4.1" transform="rotate(165 130.3 328.7)" fill="#909090" fill-opacity="0.75" stroke="#444" stroke-width="0.7" stroke-opacity="0.75"/><ellipse cx="146.0" cy="328.1" rx="3.6" ry="3.0" transform="rotate(7 146.0 328.1)" fill="#909090" fill-opacity="0.75" stroke="#444" stroke-width="0.7" stroke-opacity="0.75"/><circle cx="146.3" cy="329.4" r="1.0" fill="#2a2a2a" fill-opacity="0.56"/><circle cx="146.8" cy="327.5" r="1.1" fill="#2a2a2a" fill-opacity="0.42"/><circle cx="147.3" cy="329.5" r="1.1" fill="#2a2a2a" fill-opacity="0.45"/><circle cx="146.9" cy="329.1" r="0.9" fill="#2a2a2a" fill-opacity="0.62"/><circle cx="146.7" cy="329.0" r="1.1" fill="#2a2a2a" fill-opacity="0.44"/><circle cx="146.6" cy="327.9" r="1.0" fill="#2a2a2a" fill-opacity="0.49"/><ellipse cx="116.6" cy="277.2" rx="4.1" ry="3.8" fill="#6c6c6c" stroke="#383838" stroke-width="1.0"/><ellipse cx="129.3" cy="274.90000000000003" rx="4.1" ry="3.8" fill="#6c6c6c" stroke="#383838" stroke-width="1.0"/><ellipse cx="135.7" cy="278.40000000000003" rx="4.1" ry="3.8" fill="#6c6c6c" stroke="#383838" stroke-width="1.0"/><ellipse cx="124.9" cy="282.6" rx="4.1" ry="3.8" fill="#6c6c6c" stroke="#383838" stroke-width="1.0"/><ellipse cx="131.5" cy="286.40000000000003" rx="4.1" ry="3.8" fill="#6c6c6c" stroke="#383838" stroke-width="1.0"/><ellipse cx="103.5" cy="288.6" rx="4.1" ry="3.8" fill="#6c6c6c" stroke="#383838" stroke-width="1.0"/><ellipse cx="113.4" cy="291.5" rx="4.1" ry="3.8" fill="#6c6c6c" stroke="#383838" stroke-width="1.0"/><ellipse cx="102.3" cy="295.5" rx="4.1" ry="3.8" fill="#6c6c6c" stroke="#383838" stroke-width="1.0"/><ellipse cx="120.5" cy="295.5" rx="4.1" ry="3.8" fill="#6c6c6c" stroke="#383838" stroke-width="1.0"/><ellipse cx="97.2" cy="297.1" rx="4.1" ry="3.8" fill="#6c6c6c" stroke="#383838" stroke-width="1.0"/><ellipse cx="127.3" cy="298.1" rx="4.1" ry="3.8" fill="#6c6c6c" stroke="#383838" stroke-width="1.0"/><ellipse cx="138.9" cy="299.5" rx="4.1" ry="3.8" fill="#6c6c6c" stroke="#383838" stroke-width="1.0"/><ellipse cx="94.8" cy="303.1" rx="4.1" ry="3.8" fill="#6c6c6c" stroke="#383838" stroke-width="1.0"/><ellipse cx="103.5" cy="305.5" rx="4.1" ry="3.8" fill="#6c6c6c" stroke="#383838" stroke-width="1.0"/><ellipse cx="136.3" cy="305.5" rx="4.1" ry="3.8" fill="#6c6c6c" stroke="#383838" stroke-width="1.0"/><ellipse cx="93.9" cy="310.0" rx="4.1" ry="3.8" fill="#6c6c6c" stroke="#383838" stroke-width="1.0"/><ellipse cx="92.2" cy="314.2" rx="4.1" ry="3.8" fill="#6c6c6c" stroke="#383838" stroke-width="1.0"/><ellipse cx="128.9" cy="313.8" rx="4.1" ry="3.8" fill="#6c6c6c" stroke="#383838" stroke-width="1.0"/><ellipse cx="112.4" cy="315.7" rx="4.1" ry="3.8" fill="#6c6c6c" stroke="#383838" stroke-width="1.0"/><ellipse cx="135.7" cy="316.2" rx="4.1" ry="3.8" fill="#6c6c6c" stroke="#383838" stroke-width="1.0"/><ellipse cx="123.1" cy="318.1" rx="4.1" ry="3.8" fill="#6c6c6c" stroke="#383838" stroke-width="1.0"/><ellipse cx="100.5" cy="323.1" rx="4.1" ry="3.8" fill="#6c6c6c" stroke="#383838" stroke-width="1.0"/></g>
<circle cx="107" cy="279.3" r="2.4" fill="#e4e8e6" fill-opacity="0.4"/><circle cx="107" cy="279.3" r="1.7" fill="#d60a12"/>
<circle cx="130.5" cy="308.3" r="2.4" fill="#e4e8e6" fill-opacity="0.4"/><circle cx="130.5" cy="308.3" r="1.7" fill="#d60a12"/>
<path d="M114.3,278.7 L116.6,274.8 L118.9,278.7 Z" fill="#48a2ea"/>
<path d="M127.0,276.4 L129.3,272.5 L131.6,276.4 Z" fill="#48a2ea"/>
<path d="M133.4,279.9 L135.7,276.0 L138.0,279.9 Z" fill="#48a2ea"/>
<path d="M122.6,284.1 L124.9,280.2 L127.2,284.1 Z" fill="#48a2ea"/>
<path d="M129.2,287.9 L131.5,284.0 L133.8,287.9 Z" fill="#48a2ea"/>
<path d="M101.2,290.1 L103.5,286.2 L105.8,290.1 Z" fill="#48a2ea"/>
<path d="M111.1,293.0 L113.4,289.1 L115.7,293.0 Z" fill="#48a2ea"/>
<path d="M100.0,297.0 L102.3,293.1 L104.6,297.0 Z" fill="#48a2ea"/>
<path d="M118.2,297.0 L120.5,293.1 L122.8,297.0 Z" fill="#48a2ea"/>
<path d="M94.9,298.6 L97.2,294.7 L99.5,298.6 Z" fill="#48a2ea"/>
<path d="M125.0,299.6 L127.3,295.7 L129.6,299.6 Z" fill="#48a2ea"/>
<path d="M136.6,301.0 L138.9,297.1 L141.2,301.0 Z" fill="#48a2ea"/>
<path d="M92.5,304.6 L94.8,300.7 L97.1,304.6 Z" fill="#48a2ea"/>
<path d="M101.2,307.0 L103.5,303.1 L105.8,307.0 Z" fill="#48a2ea"/>
<path d="M134.0,307.0 L136.3,303.1 L138.6,307.0 Z" fill="#48a2ea"/>
<path d="M91.6,311.5 L93.9,307.6 L96.2,311.5 Z" fill="#48a2ea"/>
<path d="M89.9,315.7 L92.2,311.8 L94.5,315.7 Z" fill="#48a2ea"/>
<path d="M126.6,315.3 L128.9,311.4 L131.2,315.3 Z" fill="#48a2ea"/>
<path d="M110.1,317.2 L112.4,313.3 L114.7,317.2 Z" fill="#48a2ea"/>
<path d="M133.4,317.7 L135.7,313.8 L138.0,317.7 Z" fill="#48a2ea"/>
<path d="M120.8,319.6 L123.1,315.7 L125.4,319.6 Z" fill="#48a2ea"/>
<path d="M98.2,324.6 L100.5,320.7 L102.8,324.6 Z" fill="#48a2ea"/>
<path d="M126.5,320.7 L128.5,317.3 L130.5,320.7 Z" fill="#e01818"/>
<rect x="131.00" y="265.30" width="11.00" height="1.60" fill="#000"/>
<rect x="131.20" y="325.00" width="10.80" height="1.60" fill="#000"/>
<rect x="138.00" y="221.00" width="6.20" height="3.50" fill="#080808"/>
<path d="M32.0,335.6 L33.7,332.6 L35.4,335.6 Z" fill="#45a0ea"/>
<circle cx="33.7" cy="343.4" r="1.4" fill="#d60a12"/>
<text x="37.8" y="337.0" font-size="8.6" text-anchor="start" stroke="#1a1a1a" stroke-width="0.22" textLength="41.8" lengthAdjust="spacingAndGlyphs">Erythroblast</text>
<text x="37.8" y="346.4" font-size="8.6" text-anchor="start" stroke="#1a1a1a" stroke-width="0.22" textLength="87.5" lengthAdjust="spacingAndGlyphs">Reticulocyte&amp;erythrocyte</text>
<line x1="417.9" y1="206.1" x2="424.8" y2="206.1" stroke="#6a8ac6" stroke-width="0.9"/>
<line x1="417.9" y1="217.4" x2="424.8" y2="217.4" stroke="#c03a58" stroke-width="0.9"/>
<text x="428.6" y="208.1" font-size="8.2" text-anchor="start" font-style="italic" stroke="#1a1a1a" stroke-width="0.22" textLength="12.7" lengthAdjust="spacingAndGlyphs">Ctrl</text>
<text x="428.6" y="219.3" font-size="8.2" text-anchor="start" font-style="italic" stroke="#1a1a1a" stroke-width="0.22" textLength="27.1" lengthAdjust="spacingAndGlyphs">IDH1-KI</text>
<text x="404.7" y="231.9" font-size="8.6" text-anchor="start" stroke="#1a1a1a" stroke-width="0.22" textLength="12.3" lengthAdjust="spacingAndGlyphs">BM</text>
<text x="469.6" y="231.7" font-size="8.6" text-anchor="start" stroke="#1a1a1a" stroke-width="0.22" textLength="25" lengthAdjust="spacingAndGlyphs">Spleen</text>
<text x="376.6" y="242.54999999999998" font-size="8.0" text-anchor="end" fill="#222" stroke="#222" stroke-width="0.22">100</text>
<line x1="377.6" y1="239.7" x2="379.7" y2="239.7" stroke="#444" stroke-width="0.6"/>
<text x="376.6" y="254.25" font-size="8.0" text-anchor="end" fill="#222" stroke="#222" stroke-width="0.22">80</text>
<line x1="377.6" y1="251.4" x2="379.7" y2="251.4" stroke="#444" stroke-width="0.6"/>
<text x="376.6" y="265.75" font-size="8.0" text-anchor="end" fill="#222" stroke="#222" stroke-width="0.22">60</text>
<line x1="377.6" y1="262.9" x2="379.7" y2="262.9" stroke="#444" stroke-width="0.6"/>
<text x="376.6" y="277.25" font-size="8.0" text-anchor="end" fill="#222" stroke="#222" stroke-width="0.22">40</text>
<line x1="377.6" y1="274.4" x2="379.7" y2="274.4" stroke="#444" stroke-width="0.6"/>
<text x="376.6" y="288.75" font-size="8.0" text-anchor="end" fill="#222" stroke="#222" stroke-width="0.22">20</text>
<line x1="377.6" y1="285.9" x2="379.7" y2="285.9" stroke="#444" stroke-width="0.6"/>
<text x="376.6" y="300.25" font-size="8.0" text-anchor="end" fill="#222" stroke="#222" stroke-width="0.22">0</text>
<line x1="377.6" y1="297.4" x2="379.7" y2="297.4" stroke="#444" stroke-width="0.6"/>
<line x1="355.0" y1="319.4" x2="355.0" y2="258.0" stroke="#222" stroke-width="1.1"/>
<path d="M352.7,259.5 L355,253.8 L357.3,259.5 Z" fill="#111"/>
<line x1="355.0" y1="319.4" x2="481.0" y2="319.4" stroke="#222" stroke-width="1.1"/>
<path d="M480,317.1 L485.6,319.4 L480,321.7 Z" fill="#111"/>
<text x="349.5" y="286.2" font-size="9.6" text-anchor="middle" stroke="#1a1a1a" stroke-width="0.22" transform="rotate(-90 349.5 286.2)" textLength="31.6" lengthAdjust="spacingAndGlyphs">% of max</text>
<text x="412.3" y="331.0" font-size="9.6" text-anchor="start" stroke="#1a1a1a" stroke-width="0.22" textLength="15.9" lengthAdjust="spacingAndGlyphs">DAPI</text>
<line x1="378.7" y1="298.2" x2="380.5" y2="298.2" stroke="#555" stroke-width="0.4"/>
<line x1="378.7" y1="295.9" x2="380.5" y2="295.9" stroke="#555" stroke-width="0.4"/>
<line x1="378.7" y1="293.59999999999997" x2="380.5" y2="293.59999999999997" stroke="#555" stroke-width="0.4"/>
<line x1="378.7" y1="291.3" x2="380.5" y2="291.3" stroke="#555" stroke-width="0.4"/>
<line x1="378.7" y1="289.0" x2="380.5" y2="289.0" stroke="#555" stroke-width="0.4"/>
<line x1="378.7" y1="286.7" x2="380.5" y2="286.7" stroke="#555" stroke-width="0.4"/>
<line x1="378.7" y1="284.4" x2="380.5" y2="284.4" stroke="#555" stroke-width="0.4"/>
<line x1="378.7" y1="282.09999999999997" x2="380.5" y2="282.09999999999997" stroke="#555" stroke-width="0.4"/>
<line x1="378.7" y1="279.8" x2="380.5" y2="279.8" stroke="#555" stroke-width="0.4"/>
<line x1="378.7" y1="277.5" x2="380.5" y2="277.5" stroke="#555" stroke-width="0.4"/>
<line x1="378.7" y1="275.2" x2="380.5" y2="275.2" stroke="#555" stroke-width="0.4"/>
<line x1="378.7" y1="272.9" x2="380.5" y2="272.9" stroke="#555" stroke-width="0.4"/>
<line x1="378.7" y1="270.59999999999997" x2="380.5" y2="270.59999999999997" stroke="#555" stroke-width="0.4"/>
<line x1="378.7" y1="268.3" x2="380.5" y2="268.3" stroke="#555" stroke-width="0.4"/>
<line x1="378.7" y1="266.0" x2="380.5" y2="266.0" stroke="#555" stroke-width="0.4"/>
<line x1="378.7" y1="263.7" x2="380.5" y2="263.7" stroke="#555" stroke-width="0.4"/>
<line x1="378.7" y1="261.4" x2="380.5" y2="261.4" stroke="#555" stroke-width="0.4"/>
<line x1="378.7" y1="259.1" x2="380.5" y2="259.1" stroke="#555" stroke-width="0.4"/>
<line x1="378.7" y1="256.8" x2="380.5" y2="256.8" stroke="#555" stroke-width="0.4"/>
<line x1="378.7" y1="254.5" x2="380.5" y2="254.5" stroke="#555" stroke-width="0.4"/>
<line x1="378.7" y1="252.2" x2="380.5" y2="252.2" stroke="#555" stroke-width="0.4"/>
<line x1="378.7" y1="249.89999999999998" x2="380.5" y2="249.89999999999998" stroke="#555" stroke-width="0.4"/>
<line x1="378.7" y1="247.6" x2="380.5" y2="247.6" stroke="#555" stroke-width="0.4"/>
<line x1="378.7" y1="245.29999999999998" x2="380.5" y2="245.29999999999998" stroke="#555" stroke-width="0.4"/>
<line x1="378.7" y1="243.0" x2="380.5" y2="243.0" stroke="#555" stroke-width="0.4"/>
<line x1="378.7" y1="240.7" x2="380.5" y2="240.7" stroke="#555" stroke-width="0.4"/>
<line x1="381.7" y1="298.2" x2="381.7" y2="300.2" stroke="#333" stroke-width="0.45"/>
<line x1="383.2" y1="298.2" x2="383.2" y2="299.4" stroke="#333" stroke-width="0.45"/>
<line x1="384.7" y1="298.2" x2="384.7" y2="299.4" stroke="#333" stroke-width="0.45"/>
<line x1="386.2" y1="298.2" x2="386.2" y2="300.2" stroke="#333" stroke-width="0.45"/>
<line x1="387.7" y1="298.2" x2="387.7" y2="299.4" stroke="#333" stroke-width="0.45"/>
<line x1="389.2" y1="298.2" x2="389.2" y2="299.4" stroke="#333" stroke-width="0.45"/>
<line x1="390.7" y1="298.2" x2="390.7" y2="300.2" stroke="#333" stroke-width="0.45"/>
<line x1="392.2" y1="298.2" x2="392.2" y2="299.4" stroke="#333" stroke-width="0.45"/>
<line x1="393.7" y1="298.2" x2="393.7" y2="299.4" stroke="#333" stroke-width="0.45"/>
<line x1="395.2" y1="298.2" x2="395.2" y2="300.2" stroke="#333" stroke-width="0.45"/>
<line x1="396.7" y1="298.2" x2="396.7" y2="299.4" stroke="#333" stroke-width="0.45"/>
<line x1="398.2" y1="298.2" x2="398.2" y2="299.4" stroke="#333" stroke-width="0.45"/>
<line x1="399.7" y1="298.2" x2="399.7" y2="300.2" stroke="#333" stroke-width="0.45"/>
<line x1="401.2" y1="298.2" x2="401.2" y2="299.4" stroke="#333" stroke-width="0.45"/>
<line x1="402.7" y1="298.2" x2="402.7" y2="299.4" stroke="#333" stroke-width="0.45"/>
<line x1="404.2" y1="298.2" x2="404.2" y2="300.2" stroke="#333" stroke-width="0.45"/>
<line x1="405.7" y1="298.2" x2="405.7" y2="299.4" stroke="#333" stroke-width="0.45"/>
<line x1="407.2" y1="298.2" x2="407.2" y2="299.4" stroke="#333" stroke-width="0.45"/>
<line x1="408.7" y1="298.2" x2="408.7" y2="300.2" stroke="#333" stroke-width="0.45"/>
<line x1="410.2" y1="298.2" x2="410.2" y2="299.4" stroke="#333" stroke-width="0.45"/>
<line x1="411.7" y1="298.2" x2="411.7" y2="299.4" stroke="#333" stroke-width="0.45"/>
<line x1="413.2" y1="298.2" x2="413.2" y2="300.2" stroke="#333" stroke-width="0.45"/>
<line x1="414.7" y1="298.2" x2="414.7" y2="299.4" stroke="#333" stroke-width="0.45"/>
<line x1="416.2" y1="298.2" x2="416.2" y2="299.4" stroke="#333" stroke-width="0.45"/>
<line x1="417.7" y1="298.2" x2="417.7" y2="300.2" stroke="#333" stroke-width="0.45"/>
<line x1="419.2" y1="298.2" x2="419.2" y2="299.4" stroke="#333" stroke-width="0.45"/>
<line x1="420.7" y1="298.2" x2="420.7" y2="299.4" stroke="#333" stroke-width="0.45"/>
<line x1="422.2" y1="298.2" x2="422.2" y2="300.2" stroke="#333" stroke-width="0.45"/>
<line x1="423.7" y1="298.2" x2="423.7" y2="299.4" stroke="#333" stroke-width="0.45"/>
<line x1="425.2" y1="298.2" x2="425.2" y2="299.4" stroke="#333" stroke-width="0.45"/>
<line x1="426.7" y1="298.2" x2="426.7" y2="300.2" stroke="#333" stroke-width="0.45"/>
<line x1="428.2" y1="298.2" x2="428.2" y2="299.4" stroke="#333" stroke-width="0.45"/>
<line x1="429.7" y1="298.2" x2="429.7" y2="299.4" stroke="#333" stroke-width="0.45"/>
<line x1="431.2" y1="298.2" x2="431.2" y2="300.2" stroke="#333" stroke-width="0.45"/>
<line x1="432.7" y1="298.2" x2="432.7" y2="299.4" stroke="#333" stroke-width="0.45"/>
<line x1="434.2" y1="298.2" x2="434.2" y2="299.4" stroke="#333" stroke-width="0.45"/>
<line x1="435.7" y1="298.2" x2="435.7" y2="300.2" stroke="#333" stroke-width="0.45"/>
<line x1="437.2" y1="298.2" x2="437.2" y2="299.4" stroke="#333" stroke-width="0.45"/>
<line x1="438.7" y1="298.2" x2="438.7" y2="299.4" stroke="#333" stroke-width="0.45"/>
<line x1="440.2" y1="298.2" x2="440.2" y2="300.2" stroke="#333" stroke-width="0.45"/>
<text x="376.7" y="313.2" font-size="6.5" fill="#2a2a2a" stroke="#2a2a2a" stroke-width="0.2">10<tspan font-size="4.29" dy="-2.47">-3</tspan></text>
<text x="388.9" y="313.2" font-size="6.5" fill="#2a2a2a" stroke="#2a2a2a" stroke-width="0.2">10<tspan font-size="4.29" dy="-2.47">0</tspan></text>
<text x="399.4" y="313.2" font-size="6.5" fill="#2a2a2a" stroke="#2a2a2a" stroke-width="0.2">10<tspan font-size="4.29" dy="-2.47">3</tspan></text>
<text x="416.1" y="313.2" font-size="6.5" fill="#2a2a2a" stroke="#2a2a2a" stroke-width="0.2">10<tspan font-size="4.29" dy="-2.47">4</tspan></text>
<text x="430.1" y="313.2" font-size="6.5" fill="#2a2a2a" stroke="#2a2a2a" stroke-width="0.2">10<tspan font-size="4.29" dy="-2.47">5</tspan></text>
<rect x="392.20" y="298.60" width="2.40" height="1.80" fill="#111"/>
<line x1="450.5" y1="298.2" x2="452.3" y2="298.2" stroke="#555" stroke-width="0.4"/>
<line x1="450.5" y1="295.9" x2="452.3" y2="295.9" stroke="#555" stroke-width="0.4"/>
<line x1="450.5" y1="293.59999999999997" x2="452.3" y2="293.59999999999997" stroke="#555" stroke-width="0.4"/>
<line x1="450.5" y1="291.3" x2="452.3" y2="291.3" stroke="#555" stroke-width="0.4"/>
<line x1="450.5" y1="289.0" x2="452.3" y2="289.0" stroke="#555" stroke-width="0.4"/>
<line x1="450.5" y1="286.7" x2="452.3" y2="286.7" stroke="#555" stroke-width="0.4"/>
<line x1="450.5" y1="284.4" x2="452.3" y2="284.4" stroke="#555" stroke-width="0.4"/>
<line x1="450.5" y1="282.09999999999997" x2="452.3" y2="282.09999999999997" stroke="#555" stroke-width="0.4"/>
<line x1="450.5" y1="279.8" x2="452.3" y2="279.8" stroke="#555" stroke-width="0.4"/>
<line x1="450.5" y1="277.5" x2="452.3" y2="277.5" stroke="#555" stroke-width="0.4"/>
<line x1="450.5" y1="275.2" x2="452.3" y2="275.2" stroke="#555" stroke-width="0.4"/>
<line x1="450.5" y1="272.9" x2="452.3" y2="272.9" stroke="#555" stroke-width="0.4"/>
<line x1="450.5" y1="270.59999999999997" x2="452.3" y2="270.59999999999997" stroke="#555" stroke-width="0.4"/>
<line x1="450.5" y1="268.3" x2="452.3" y2="268.3" stroke="#555" stroke-width="0.4"/>
<line x1="450.5" y1="266.0" x2="452.3" y2="266.0" stroke="#555" stroke-width="0.4"/>
<line x1="450.5" y1="263.7" x2="452.3" y2="263.7" stroke="#555" stroke-width="0.4"/>
<line x1="450.5" y1="261.4" x2="452.3" y2="261.4" stroke="#555" stroke-width="0.4"/>
<line x1="450.5" y1="259.1" x2="452.3" y2="259.1" stroke="#555" stroke-width="0.4"/>
<line x1="450.5" y1="256.8" x2="452.3" y2="256.8" stroke="#555" stroke-width="0.4"/>
<line x1="450.5" y1="254.5" x2="452.3" y2="254.5" stroke="#555" stroke-width="0.4"/>
<line x1="450.5" y1="252.2" x2="452.3" y2="252.2" stroke="#555" stroke-width="0.4"/>
<line x1="450.5" y1="249.89999999999998" x2="452.3" y2="249.89999999999998" stroke="#555" stroke-width="0.4"/>
<line x1="450.5" y1="247.6" x2="452.3" y2="247.6" stroke="#555" stroke-width="0.4"/>
<line x1="450.5" y1="245.29999999999998" x2="452.3" y2="245.29999999999998" stroke="#555" stroke-width="0.4"/>
<line x1="450.5" y1="243.0" x2="452.3" y2="243.0" stroke="#555" stroke-width="0.4"/>
<line x1="450.5" y1="240.7" x2="452.3" y2="240.7" stroke="#555" stroke-width="0.4"/>
<line x1="453.5" y1="298.2" x2="453.5" y2="300.2" stroke="#333" stroke-width="0.45"/>
<line x1="455.0" y1="298.2" x2="455.0" y2="299.4" stroke="#333" stroke-width="0.45"/>
<line x1="456.5" y1="298.2" x2="456.5" y2="299.4" stroke="#333" stroke-width="0.45"/>
<line x1="458.0" y1="298.2" x2="458.0" y2="300.2" stroke="#333" stroke-width="0.45"/>
<line x1="459.5" y1="298.2" x2="459.5" y2="299.4" stroke="#333" stroke-width="0.45"/>
<line x1="461.0" y1="298.2" x2="461.0" y2="299.4" stroke="#333" stroke-width="0.45"/>
<line x1="462.5" y1="298.2" x2="462.5" y2="300.2" stroke="#333" stroke-width="0.45"/>
<line x1="464.0" y1="298.2" x2="464.0" y2="299.4" stroke="#333" stroke-width="0.45"/>
<line x1="465.5" y1="298.2" x2="465.5" y2="299.4" stroke="#333" stroke-width="0.45"/>
<line x1="467.0" y1="298.2" x2="467.0" y2="300.2" stroke="#333" stroke-width="0.45"/>
<line x1="468.5" y1="298.2" x2="468.5" y2="299.4" stroke="#333" stroke-width="0.45"/>
<line x1="470.0" y1="298.2" x2="470.0" y2="299.4" stroke="#333" stroke-width="0.45"/>
<line x1="471.5" y1="298.2" x2="471.5" y2="300.2" stroke="#333" stroke-width="0.45"/>
<line x1="473.0" y1="298.2" x2="473.0" y2="299.4" stroke="#333" stroke-width="0.45"/>
<line x1="474.5" y1="298.2" x2="474.5" y2="299.4" stroke="#333" stroke-width="0.45"/>
<line x1="476.0" y1="298.2" x2="476.0" y2="300.2" stroke="#333" stroke-width="0.45"/>
<line x1="477.5" y1="298.2" x2="477.5" y2="299.4" stroke="#333" stroke-width="0.45"/>
<line x1="479.0" y1="298.2" x2="479.0" y2="299.4" stroke="#333" stroke-width="0.45"/>
<line x1="480.5" y1="298.2" x2="480.5" y2="300.2" stroke="#333" stroke-width="0.45"/>
<line x1="482.0" y1="298.2" x2="482.0" y2="299.4" stroke="#333" stroke-width="0.45"/>
<line x1="483.5" y1="298.2" x2="483.5" y2="299.4" stroke="#333" stroke-width="0.45"/>
<line x1="485.0" y1="298.2" x2="485.0" y2="300.2" stroke="#333" stroke-width="0.45"/>
<line x1="486.5" y1="298.2" x2="486.5" y2="299.4" stroke="#333" stroke-width="0.45"/>
<line x1="488.0" y1="298.2" x2="488.0" y2="299.4" stroke="#333" stroke-width="0.45"/>
<line x1="489.5" y1="298.2" x2="489.5" y2="300.2" stroke="#333" stroke-width="0.45"/>
<line x1="491.0" y1="298.2" x2="491.0" y2="299.4" stroke="#333" stroke-width="0.45"/>
<line x1="492.5" y1="298.2" x2="492.5" y2="299.4" stroke="#333" stroke-width="0.45"/>
<line x1="494.0" y1="298.2" x2="494.0" y2="300.2" stroke="#333" stroke-width="0.45"/>
<line x1="495.5" y1="298.2" x2="495.5" y2="299.4" stroke="#333" stroke-width="0.45"/>
<line x1="497.0" y1="298.2" x2="497.0" y2="299.4" stroke="#333" stroke-width="0.45"/>
<line x1="498.5" y1="298.2" x2="498.5" y2="300.2" stroke="#333" stroke-width="0.45"/>
<line x1="500.0" y1="298.2" x2="500.0" y2="299.4" stroke="#333" stroke-width="0.45"/>
<line x1="501.5" y1="298.2" x2="501.5" y2="299.4" stroke="#333" stroke-width="0.45"/>
<line x1="503.0" y1="298.2" x2="503.0" y2="300.2" stroke="#333" stroke-width="0.45"/>
<line x1="504.5" y1="298.2" x2="504.5" y2="299.4" stroke="#333" stroke-width="0.45"/>
<line x1="506.0" y1="298.2" x2="506.0" y2="299.4" stroke="#333" stroke-width="0.45"/>
<line x1="507.5" y1="298.2" x2="507.5" y2="300.2" stroke="#333" stroke-width="0.45"/>
<line x1="509.0" y1="298.2" x2="509.0" y2="299.4" stroke="#333" stroke-width="0.45"/>
<line x1="510.5" y1="298.2" x2="510.5" y2="299.4" stroke="#333" stroke-width="0.45"/>
<line x1="512.0" y1="298.2" x2="512.0" y2="300.2" stroke="#333" stroke-width="0.45"/>
<text x="448.5" y="313.2" font-size="6.5" fill="#2a2a2a" stroke="#2a2a2a" stroke-width="0.2">10<tspan font-size="4.29" dy="-2.47">-3</tspan></text>
<text x="460.7" y="313.2" font-size="6.5" fill="#2a2a2a" stroke="#2a2a2a" stroke-width="0.2">10<tspan font-size="4.29" dy="-2.47">0</tspan></text>
<text x="471.2" y="313.2" font-size="6.5" fill="#2a2a2a" stroke="#2a2a2a" stroke-width="0.2">10<tspan font-size="4.29" dy="-2.47">3</tspan></text>
<text x="487.9" y="313.2" font-size="6.5" fill="#2a2a2a" stroke="#2a2a2a" stroke-width="0.2">10<tspan font-size="4.29" dy="-2.47">4</tspan></text>
<text x="501.9" y="313.2" font-size="6.5" fill="#2a2a2a" stroke="#2a2a2a" stroke-width="0.2">10<tspan font-size="4.29" dy="-2.47">5</tspan></text>
<rect x="464.00" y="298.60" width="2.40" height="1.80" fill="#111"/>
<path d="M381.0,297.4 L381.4,297.4 L381.7,297.4 L382.1,297.4 L382.5,297.4 L382.9,297.4 L383.2,297.4 L383.6,297.4 L384.0,297.4 L384.3,297.4 L384.7,297.4 L385.1,297.4 L385.5,297.4 L385.8,297.4 L386.2,297.4 L386.6,297.4 L386.9,297.4 L387.3,297.4 L387.7,297.4 L388.1,297.4 L388.4,297.4 L388.8,297.4 L389.2,297.4 L389.6,297.4 L389.9,297.4 L390.3,297.4 L390.7,297.4 L391.0,297.2 L391.4,296.8 L391.8,295.7 L392.2,293.0 L392.5,287.6 L392.9,278.5 L393.3,266.2 L393.6,253.3 L394.0,243.9 L394.4,241.6 L394.8,247.6 L395.1,259.2 L395.5,272.3 L395.9,283.2 L396.2,290.5 L396.6,294.5 L397.0,296.3 L397.4,296.9 L397.7,297.1 L398.1,297.1 L398.5,296.9 L398.9,296.7 L399.2,296.5 L399.6,296.2 L400.0,295.8 L400.3,295.3 L400.7,294.7 L401.1,294.1 L401.5,293.3 L401.8,292.5 L402.2,291.7 L402.6,290.8 L402.9,290.0 L403.3,289.3 L403.7,288.6 L404.1,288.1 L404.4,287.7 L404.8,287.6 L405.2,287.6 L405.5,287.9 L405.9,288.3 L406.3,288.9 L406.7,289.6 L407.0,290.3 L407.4,291.2 L407.8,292.0 L408.1,292.8 L408.5,293.5 L408.9,294.2 L409.3,294.8 L409.6,295.3 L410.0,295.7 L410.4,296.0 L410.8,296.3 L411.1,296.5 L411.5,296.6 L411.9,296.7 L412.2,296.7 L412.6,296.7 L413.0,296.7 L413.4,296.7 L413.7,296.7 L414.1,296.7 L414.5,296.6 L414.8,296.6 L415.2,296.6 L415.6,296.6 L416.0,296.6 L416.3,296.6 L416.7,296.6 L417.1,296.6 L417.4,296.7 L417.8,296.7 L418.2,296.7 L418.6,296.7 L418.9,296.8 L419.3,296.8 L419.7,296.9 L420.0,296.9 L420.4,297.0 L420.8,297.0 L421.2,297.0 L421.5,297.1 L421.9,297.1 L422.3,297.1 L422.6,297.1 L423.0,297.1 L423.4,297.1 L423.8,297.1 L424.1,297.1 L424.5,297.0 L424.9,297.0 L425.3,296.9 L425.6,296.9 L426.0,296.8 L426.4,296.8 L426.7,296.8 L427.1,296.8 L427.5,296.8 L427.9,296.8 L428.2,296.9 L428.6,297.0 L429.0,297.0 L429.3,297.1 L429.7,297.2 L430.1,297.2 L430.5,297.3 L430.8,297.3 L431.2,297.3 L431.6,297.4 L431.9,297.4 L432.3,297.4 L432.7,297.4 L433.1,297.4 L433.4,297.4 L433.8,297.4 L434.2,297.4 L434.6,297.4 L434.9,297.4 L435.3,297.4 L435.7,297.4 L436.0,297.4 L436.4,297.4 L436.8,297.4 L437.2,297.4 L437.5,297.4 L437.9,297.4 L438.3,297.4 L438.6,297.4 L439.0,297.4 L439.4,297.4 L439.8,297.4 L440.1,297.4 L440.5,297.4" fill="none" stroke="#3a64b0" stroke-width="1.2" stroke-linejoin="round" stroke-opacity="1.0"/>
<path d="M381.0,297.4 L381.4,297.4 L381.7,297.4 L382.1,297.4 L382.5,297.4 L382.9,297.4 L383.2,297.4 L383.6,297.4 L384.0,297.4 L384.3,297.4 L384.7,297.4 L385.1,297.4 L385.5,297.4 L385.8,297.4 L386.2,297.4 L386.6,297.4 L386.9,297.4 L387.3,297.4 L387.7,297.4 L388.1,297.4 L388.4,297.4 L388.8,297.4 L389.2,297.4 L389.6,297.4 L389.9,297.4 L390.3,297.4 L390.7,297.4 L391.0,297.3 L391.4,296.9 L391.8,295.9 L392.2,293.1 L392.5,287.4 L392.9,277.6 L393.3,264.4 L393.6,251.0 L394.0,242.4 L394.4,242.4 L394.8,251.0 L395.1,264.5 L395.5,277.6 L395.9,287.4 L396.2,293.0 L396.6,295.6 L397.0,296.5 L397.4,296.7 L397.7,296.5 L398.1,296.2 L398.5,295.7 L398.9,295.1 L399.2,294.3 L399.6,293.4 L400.0,292.4 L400.3,291.2 L400.7,289.9 L401.1,288.6 L401.5,287.3 L401.8,286.1 L402.2,285.0 L402.6,284.2 L402.9,283.6 L403.3,283.4 L403.7,283.4 L404.1,283.8 L404.4,284.5 L404.8,285.4 L405.2,286.5 L405.5,287.7 L405.9,288.9 L406.3,290.1 L406.7,291.2 L407.0,292.2 L407.4,293.0 L407.8,293.7 L408.1,294.3 L408.5,294.7 L408.9,295.0 L409.3,295.3 L409.6,295.4 L410.0,295.6 L410.4,295.7 L410.8,295.8 L411.1,296.0 L411.5,296.1 L411.9,296.2 L412.2,296.4 L412.6,296.5 L413.0,296.7 L413.4,296.8 L413.7,296.9 L414.1,297.0 L414.5,297.1 L414.8,297.2 L415.2,297.2 L415.6,297.3 L416.0,297.3 L416.3,297.3 L416.7,297.4 L417.1,297.4 L417.4,297.4 L417.8,297.4 L418.2,297.4 L418.6,297.4 L418.9,297.4 L419.3,297.4 L419.7,297.4 L420.0,297.4 L420.4,297.4 L420.8,297.4 L421.2,297.4 L421.5,297.3 L421.9,297.3 L422.3,297.2 L422.6,297.2 L423.0,297.1 L423.4,297.0 L423.8,296.9 L424.1,296.8 L424.5,296.7 L424.9,296.6 L425.3,296.6 L425.6,296.5 L426.0,296.5 L426.4,296.5 L426.7,296.6 L427.1,296.6 L427.5,296.7 L427.9,296.8 L428.2,296.9 L428.6,297.0 L429.0,297.1 L429.3,297.2 L429.7,297.2 L430.1,297.3 L430.5,297.3 L430.8,297.4 L431.2,297.4 L431.6,297.4 L431.9,297.4 L432.3,297.4 L432.7,297.4 L433.1,297.4 L433.4,297.4 L433.8,297.4 L434.2,297.4 L434.6,297.4 L434.9,297.4 L435.3,297.4 L435.7,297.4 L436.0,297.4 L436.4,297.4 L436.8,297.4 L437.2,297.4 L437.5,297.4 L437.9,297.4 L438.3,297.4 L438.6,297.4 L439.0,297.4 L439.4,297.4 L439.8,297.4 L440.1,297.4 L440.5,297.4" fill="none" stroke="#b42446" stroke-width="1.2" stroke-linejoin="round" stroke-opacity="1.0"/>
<path d="M453.0,297.4 L453.4,297.4 L453.7,297.4 L454.1,297.4 L454.5,297.4 L454.9,297.4 L455.2,297.4 L455.6,297.4 L456.0,297.4 L456.3,297.4 L456.7,297.4 L457.1,297.4 L457.5,297.4 L457.8,297.4 L458.2,297.4 L458.6,297.4 L458.9,297.4 L459.3,297.4 L459.7,297.4 L460.1,297.4 L460.4,297.4 L460.8,297.3 L461.2,297.2 L461.6,296.9 L461.9,296.2 L462.3,294.6 L462.7,291.6 L463.0,286.3 L463.4,277.7 L463.8,265.9 L464.2,252.4 L464.5,242.1 L464.9,247.1 L465.3,259.5 L465.6,271.7 L466.0,280.9 L466.4,286.9 L466.8,290.2 L467.1,291.9 L467.5,292.7 L467.9,293.1 L468.2,293.4 L468.6,293.6 L469.0,293.9 L469.4,294.2 L469.7,294.5 L470.1,294.7 L470.5,294.9 L470.9,295.0 L471.2,295.1 L471.6,295.2 L472.0,295.2 L472.3,295.2 L472.7,295.1 L473.1,295.1 L473.5,295.1 L473.8,295.1 L474.2,295.2 L474.6,295.2 L474.9,295.3 L475.3,295.4 L475.7,295.5 L476.1,295.6 L476.4,295.8 L476.8,295.9 L477.2,296.1 L477.5,296.3 L477.9,296.5 L478.3,296.7 L478.7,296.8 L479.0,297.0 L479.4,297.1 L479.8,297.2 L480.1,297.2 L480.5,297.3 L480.9,297.3 L481.3,297.3 L481.6,297.4 L482.0,297.4 L482.4,297.4 L482.8,297.4 L483.1,297.4 L483.5,297.4 L483.9,297.4 L484.2,297.4 L484.6,297.4 L485.0,297.4 L485.4,297.4 L485.7,297.4 L486.1,297.4 L486.5,297.4 L486.8,297.4 L487.2,297.4 L487.6,297.4 L488.0,297.4 L488.3,297.4 L488.7,297.4 L489.1,297.4 L489.4,297.4 L489.8,297.4 L490.2,297.4 L490.6,297.4 L490.9,297.4 L491.3,297.4 L491.7,297.4 L492.0,297.4 L492.4,297.4 L492.8,297.4 L493.2,297.4 L493.5,297.4 L493.9,297.4 L494.3,297.4 L494.6,297.4 L495.0,297.4 L495.4,297.4 L495.8,297.4 L496.1,297.4 L496.5,297.4 L496.9,297.4 L497.3,297.4 L497.6,297.4 L498.0,297.4 L498.4,297.4 L498.7,297.4 L499.1,297.4 L499.5,297.4 L499.9,297.4 L500.2,297.4 L500.6,297.4 L501.0,297.4 L501.3,297.4 L501.7,297.4 L502.1,297.4 L502.5,297.4 L502.8,297.4 L503.2,297.4 L503.6,297.4 L503.9,297.4 L504.3,297.4 L504.7,297.4 L505.1,297.4 L505.4,297.4 L505.8,297.4 L506.2,297.4 L506.6,297.4 L506.9,297.4 L507.3,297.4 L507.7,297.4 L508.0,297.4 L508.4,297.4 L508.8,297.4 L509.2,297.4 L509.5,297.4 L509.9,297.4 L510.3,297.4 L510.6,297.4 L511.0,297.4 L511.4,297.4 L511.8,297.4 L512.1,297.4 L512.5,297.4" fill="none" stroke="#3a64b0" stroke-width="1.2" stroke-linejoin="round" stroke-opacity="1.0"/>
<path d="M453.0,297.4 L453.4,297.4 L453.7,297.4 L454.1,297.4 L454.5,297.4 L454.9,297.4 L455.2,297.4 L455.6,297.4 L456.0,297.4 L456.3,297.4 L456.7,297.4 L457.1,297.4 L457.5,297.4 L457.8,297.4 L458.2,297.4 L458.6,297.4 L458.9,297.4 L459.3,297.4 L459.7,297.4 L460.1,297.4 L460.4,297.3 L460.8,297.2 L461.2,297.0 L461.6,296.4 L461.9,295.2 L462.3,293.0 L462.7,289.0 L463.0,282.4 L463.4,273.0 L463.8,261.0 L464.2,248.8 L464.5,242.1 L464.9,250.4 L465.3,262.7 L465.6,274.3 L466.0,283.1 L466.4,289.0 L466.8,292.4 L467.1,294.1 L467.5,294.6 L467.9,294.5 L468.2,294.0 L468.6,293.2 L469.0,292.3 L469.4,291.1 L469.7,289.9 L470.1,288.6 L470.5,287.3 L470.9,286.1 L471.2,284.9 L471.6,283.9 L472.0,283.1 L472.3,282.6 L472.7,282.4 L473.1,282.4 L473.5,282.8 L473.8,283.4 L474.2,284.3 L474.6,285.3 L474.9,286.5 L475.3,287.7 L475.7,288.9 L476.1,290.1 L476.4,291.2 L476.8,292.2 L477.2,293.1 L477.5,293.8 L477.9,294.4 L478.3,294.9 L478.7,295.3 L479.0,295.6 L479.4,295.8 L479.8,296.0 L480.1,296.1 L480.5,296.2 L480.9,296.3 L481.3,296.4 L481.6,296.5 L482.0,296.6 L482.4,296.7 L482.8,296.7 L483.1,296.8 L483.5,296.9 L483.9,297.0 L484.2,297.0 L484.6,297.1 L485.0,297.1 L485.4,297.2 L485.7,297.2 L486.1,297.3 L486.5,297.3 L486.8,297.3 L487.2,297.3 L487.6,297.4 L488.0,297.4 L488.3,297.4 L488.7,297.4 L489.1,297.4 L489.4,297.4 L489.8,297.4 L490.2,297.4 L490.6,297.4 L490.9,297.4 L491.3,297.4 L491.7,297.4 L492.0,297.4 L492.4,297.4 L492.8,297.4 L493.2,297.4 L493.5,297.4 L493.9,297.4 L494.3,297.4 L494.6,297.4 L495.0,297.4 L495.4,297.3 L495.8,297.2 L496.1,297.1 L496.5,296.9 L496.9,296.6 L497.3,296.4 L497.6,296.2 L498.0,296.1 L498.4,296.1 L498.7,296.3 L499.1,296.5 L499.5,296.7 L499.9,297.0 L500.2,297.1 L500.6,297.3 L501.0,297.3 L501.3,297.4 L501.7,297.4 L502.1,297.4 L502.5,297.4 L502.8,297.4 L503.2,297.4 L503.6,297.4 L503.9,297.4 L504.3,297.4 L504.7,297.4 L505.1,297.4 L505.4,297.4 L505.8,297.4 L506.2,297.4 L506.6,297.4 L506.9,297.4 L507.3,297.4 L507.7,297.4 L508.0,297.4 L508.4,297.4 L508.8,297.4 L509.2,297.4 L509.5,297.4 L509.9,297.4 L510.3,297.4 L510.6,297.4 L511.0,297.4 L511.4,297.4 L511.8,297.4 L512.1,297.4 L512.5,297.4" fill="none" stroke="#b42446" stroke-width="1.2" stroke-linejoin="round" stroke-opacity="1.0"/>
<rect x="379.70" y="237.10" width="61.90" height="61.10" fill="none" stroke="#333" stroke-width="1.2"/>
<rect x="451.50" y="237.00" width="61.90" height="61.30" fill="none" stroke="#333" stroke-width="1.2"/>
<text x="381.2" y="374.0" font-size="8.6" text-anchor="middle" stroke="#1a1a1a" stroke-width="0.22" textLength="9.3" lengthAdjust="spacingAndGlyphs">S1</text>
<text x="415.2" y="374.0" font-size="8.6" text-anchor="middle" stroke="#1a1a1a" stroke-width="0.22" textLength="9.3" lengthAdjust="spacingAndGlyphs">S2</text>
<text x="449.6" y="374.0" font-size="8.6" text-anchor="middle" stroke="#1a1a1a" stroke-width="0.22" textLength="9.3" lengthAdjust="spacingAndGlyphs">S3</text>
<text x="483.7" y="374.0" font-size="8.6" text-anchor="middle" stroke="#1a1a1a" stroke-width="0.22" textLength="9.3" lengthAdjust="spacingAndGlyphs">S4</text>
<text x="340.6" y="399.8" font-size="8.6" text-anchor="start" stroke="#1a1a1a" stroke-width="0.22" textLength="20.2" lengthAdjust="spacingAndGlyphs">MGG</text>
<text x="343.8" y="432.3" font-size="8.6" text-anchor="start" stroke="#1a1a1a" stroke-width="0.22" textLength="17.0" lengthAdjust="spacingAndGlyphs">DAB</text>
<rect x="364.00" y="379.10" width="31.80" height="31.50" fill="#d6dad8"/>
<rect x="364.00" y="413.10" width="31.80" height="31.70" fill="#eeeff2"/>
<rect x="398.20" y="379.10" width="32.60" height="31.50" fill="#d6dad8"/>
<rect x="398.20" y="413.10" width="32.60" height="31.70" fill="#eeeff2"/>
<rect x="432.40" y="379.10" width="32.90" height="31.50" fill="#d6dad8"/>
<rect x="432.40" y="413.10" width="32.90" height="31.70" fill="#eeeff2"/>
<rect x="466.60" y="379.10" width="32.30" height="31.50" fill="#d6dad8"/>
<rect x="466.60" y="413.10" width="32.30" height="31.70" fill="#eeeff2"/>
<ellipse cx="379.6" cy="395.0" rx="10.9" ry="10.3" fill="url(#mggc)"/>
<ellipse cx="414.3" cy="394.0" rx="9.0" ry="8.6" fill="url(#mggc)"/>
<ellipse cx="423.5" cy="386.0" rx="2.5" ry="2.6" fill="#d8a8d0" opacity="0.6"/>
<ellipse cx="449.3" cy="394.3" rx="7.6" ry="8.5" fill="url(#mggb)"/>
<ellipse cx="482.8" cy="394.8" rx="6.5" ry="6.4" fill="url(#mggb)"/>
<ellipse cx="470.3" cy="396" rx="3.8" ry="8" fill="#dcaad4" opacity="0.55"/>
<circle cx="379.5" cy="427.9" r="13.4" fill="url(#dab1)"/>
<circle cx="413.5" cy="427.6" r="12.2" fill="url(#dab2)"/>
<ellipse cx="380.2" cy="425.5" rx="1.5" ry="2.0" fill="#6a6cb4" opacity="0.35"/>
<ellipse cx="382.2" cy="430.3" rx="2.0" ry="1.7" fill="#6a6cb4" opacity="0.35"/>
<ellipse cx="382.4" cy="431.7" rx="1.9" ry="2.0" fill="#6a6cb4" opacity="0.35"/>
<ellipse cx="386.7" cy="429.2" rx="1.4" ry="2.0" fill="#6a6cb4" opacity="0.35"/>
<ellipse cx="373.2" cy="427.6" rx="1.5" ry="1.4" fill="#6a6cb4" opacity="0.35"/>
<ellipse cx="384.6" cy="431.0" rx="1.9" ry="1.2" fill="#6a6cb4" opacity="0.35"/>
<ellipse cx="379.7" cy="428.5" rx="1.5" ry="1.7" fill="#6a6cb4" opacity="0.35"/>
<ellipse cx="374.6" cy="430.0" rx="1.3" ry="2.0" fill="#6a6cb4" opacity="0.35"/>
<ellipse cx="385.1" cy="427.3" rx="2.2" ry="2.0" fill="#6a6cb4" opacity="0.35"/>
<ellipse cx="415.9" cy="429.3" rx="1.3" ry="1.9" fill="#6a6cb4" opacity="0.35"/>
<ellipse cx="412.8" cy="427.4" rx="1.8" ry="1.9" fill="#6a6cb4" opacity="0.35"/>
<ellipse cx="412.8" cy="427.4" rx="2.5" ry="1.1" fill="#6a6cb4" opacity="0.35"/>
<ellipse cx="416.9" cy="422.4" rx="2.3" ry="2.1" fill="#6a6cb4" opacity="0.35"/>
<ellipse cx="412.1" cy="427.3" rx="1.9" ry="1.9" fill="#6a6cb4" opacity="0.35"/>
<ellipse cx="413.8" cy="425.2" rx="2.5" ry="1.0" fill="#6a6cb4" opacity="0.35"/>
<ellipse cx="413.2" cy="427.6" rx="1.7" ry="2.2" fill="#6a6cb4" opacity="0.35"/>
<ellipse cx="418.2" cy="431.9" rx="2.5" ry="1.8" fill="#6a6cb4" opacity="0.35"/>
<ellipse cx="416.3" cy="428.6" rx="2.2" ry="1.1" fill="#6a6cb4" opacity="0.35"/>
<ellipse cx="448.6" cy="429.1" rx="11.4" ry="12.2" fill="url(#dab3)"/>
<ellipse cx="446" cy="422.5" rx="4" ry="2.5" fill="#c09060" opacity="0.75"/><ellipse cx="448.5" cy="436.5" rx="4.5" ry="2.5" fill="#c08a50" opacity="0.75"/>
<ellipse cx="481.7" cy="428.2" rx="9.8" ry="9.6" fill="url(#dab4)"/>
<rect x="484.10" y="408.50" width="13.90" height="1.70" fill="#000"/>
<rect x="481.80" y="441.90" width="16.20" height="1.80" fill="#000"/>
</svg>
</body></html>
